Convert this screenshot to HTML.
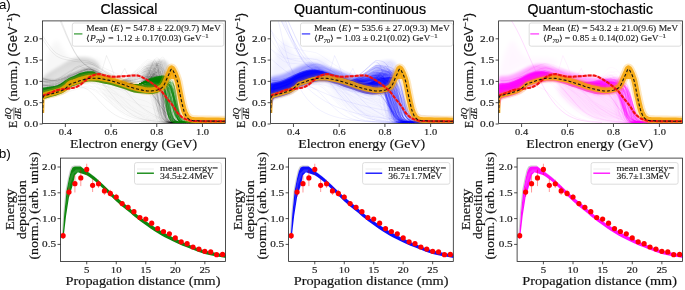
<!DOCTYPE html>
<html><head><meta charset="utf-8"><style>
html,body{margin:0;padding:0;background:#fff;}
body{width:685px;height:290px;overflow:hidden;}
svg{display:block;will-change:transform;}
text{stroke:#222;stroke-width:0.18px;}
text.s{stroke:none;}
text.t{stroke:#000;stroke-width:0.2px;}
text.l{stroke:#222;stroke-width:0.12px;}
</style></head><body>
<svg width="685" height="290" viewBox="0 0 685 290">
<rect width="685" height="290" fill="#fff"/>
<defs>
<filter id="bl05" x="-5%" y="-20%" width="110%" height="140%"><feGaussianBlur stdDeviation="0.5"/></filter>
<filter id="bl2" x="-20%" y="-40%" width="140%" height="180%"><feGaussianBlur stdDeviation="1.6"/></filter>
<filter id="bl3" x="-20%" y="-40%" width="140%" height="180%"><feGaussianBlur stdDeviation="2.5"/></filter>
<clipPath id="ct0"><rect x="42.5" y="20.9" width="182.80" height="103.10"/></clipPath>
<clipPath id="ct1"><rect x="270.6" y="20.9" width="182.90" height="103.10"/></clipPath>
<clipPath id="ct2"><rect x="498.6" y="20.9" width="183.80" height="103.10"/></clipPath>
<clipPath id="cb0"><rect x="60.5" y="158.1" width="165.00" height="103.20"/></clipPath>
<clipPath id="cb1"><rect x="288.6" y="158.1" width="164.70" height="103.20"/></clipPath>
<clipPath id="cb2"><rect x="517.1" y="158.1" width="165.50" height="103.20"/></clipPath>
</defs>
<g clip-path="url(#ct0)">
<path d="M100,84 L108.15,85.11 L119.63,86.67 L130,88 L137.67,88.89 L144.22,89.56 L150,90 L155.07,89.78 L159.37,89.33 L163,90 L165.96,92.19 L168.26,95.48 L170,100 L171.56,106.94 L172.56,115.11 L172,121 L169.33,122.83 L165.11,122.39 L160,121.5 L153.93,120.87 L146.96,119.8 L140,118 L133.15,115.26 L126.3,111.8 L120,108 L114.07,103.41 L108.7,98.48 L105,95Z" stroke="none" stroke-width="1" fill="#000" opacity="0.03" filter="url(#bl3)"/>
<path d="M42.5,75 L43.83,69.63 L45.78,62.04 L48,55 L50.56,48.78 L53.39,43.11 L56,40 L58.07,40.89 L59.93,44.33 L62,48 L64.26,51.56 L66.74,55.33 L70,58 L74.48,58.67 L79.74,58.22 L85,58 L90.56,58.37 L96.11,58.96 L100,60 L101.85,62 L102.04,64.44 L100,66 L94.81,65.63 L87.41,64.37 L80,64 L73.15,65.19 L66.3,67.26 L60,70 L54.07,74 L48.7,78.67 L45,82Z" stroke="none" stroke-width="1" fill="#000" opacity="0.03" filter="url(#bl3)"/>
<path d="M141,88 L141.33,83.59 L141.89,77.41 L143,72 L144.85,68.26 L147.26,65.3 L150,63 L153.22,61.37 L156.78,60.41 L160,60 L162.7,60.07 L165.07,60.7 L167,62 L168.52,64.15 L169.59,66.96 L170,70 L169.52,73.33 L168.37,76.89 L167,80 L165.56,82.44 L163.89,84.44 L162,86 L159.85,87 L157.48,87.56 L155,88 L152.11,88.44 L149.11,88.78 L147,89Z" stroke="none" stroke-width="1" fill="#000" opacity="0.14" filter="url(#bl2)"/>
<path d="M42.5,86 L42.22,83.85 L41.94,80.81 L42.5,78 L44.35,75.85 L47.04,73.93 L50,72 L53.15,70 L56.57,68 L60,66 L63.33,63.89 L66.67,61.78 L70,60 L73.33,58.63 L76.67,57.59 L80,57 L83.41,56.89 L86.81,57.22 L90,58 L93.04,59.3 L95.85,61.04 L98,63 L99.37,65.37 L100.07,67.96 L100,70 L98.93,71.13 L97.07,71.7 L95,72 L92.85,71.94 L90.48,71.61 L88,71.5 L85.48,71.76 L82.85,72.24 L80,73 L76.81,74.11 L73.41,75.5 L70,77 L66.67,78.63 L63.33,80.37 L60,82 L56.3,83.56 L52.59,85 L50,86Z" stroke="none" stroke-width="1" fill="#000" opacity="0.12" filter="url(#bl2)"/>
<g transform="scale(.1)" fill="none" stroke="#000000" stroke-width="6" stroke-opacity="0.045"><path d="M425 872l59-2 59-6 59-22 60-30 59-27 59-23 59-21 59-9 59 11 59 22 60 22 59 21 59 20 59 17 59 15 59 9 59-14 23-8 22-9 22-9 22-6 21 1 22 8 22 18 22 37 21 55 22 73 22 71 22 57 21 38 22 22 22 12 22 6 21 3 22 2 22 0 22 1 21 0 22 0 46 0 99 0 99 0 99 0"/><path d="M425 901l59-6 59-10 59-26 60-35 59-32 59-27 59-26 59-13 59 8 59 18 60 19 59 18 59 16 59 13 59 12 59 6 59-19 23-10 22-12 22-12 22-12 21-7 22-6 22-3 22 9 21 39 22 109 22 157 22 104 21 39 22 11 22 3 22 1 21 0 22 0 22 0 22 0 21 0 22 0 46 0 99 0 99 0 99 0"/><path d="M425 881l59-3 59-6 59-22 60-30 59-28 59-24 59-21 59-9 59 10 59 21 60 22 59 20 59 19 59 16 59 15 59 8 59-16 23-8 22-12 22-11 22-10 21-3 22 2 22 10 22 24 21 40 22 62 22 75 22 72 21 56 22 36 22 20 22 10 21 6 22 3 22 1 22 1 21 0 22 0 46 0 99 0 99 0 99 0"/><path d="M425 974l59-6 59-9 59-23 60-30 59-27 59-24 59-23 59-12 59 5 59 14 60 14 59 13 59 12 59 9 59 8 59 4 59-14 23-3 22-1 22 10 22 27 21 53 22 70 22 70 22 52 21 31 22 17 22 9 22 4 21 2 22 0 22 1 22 0 21 0 22 0 22 0 22 0 21 0 22 0 46 0 99 0 99 0 99 0"/><path d="M425 882l59-3 59-8 59-24 60-32 59-30 59-25 59-24 59-10 59 9 59 21 60 21 59 19 59 19 59 15 59 14 59 5 59-32 23-17 22-17 22-13 22-8 21 1 22 4 22 5 22 10 21 18 22 43 22 77 22 105 21 96 22 59 22 28 22 12 21 4 22 2 22 1 22 0 21 0 22 0 46 0 99 0 99 0 99 0"/><path d="M425 897l59-3 59-7 59-22 60-31 59-27 59-24 59-22 59-10 59 10 59 20 60 20 59 19 59 17 59 15 59 13 59 8 59-15 23-8 22-10 22-11 22-11 21-6 22-4 22 6 22 26 21 55 22 85 22 92 22 71 21 43 22 22 22 10 22 5 21 2 22 1 22 1 22 0 21 0 22 0 46 0 99 0 99 0 99 0"/><path d="M425 841l59-4 59-7 59-26 60-34 59-32 59-27 59-25 59-10 59 11 59 24 60 24 59 22 59 21 59 17 59 16 59 10 59-19 23-11 22-13 22-11 22-3 21 17 22 37 22 61 22 79 21 81 22 69 22 49 22 31 21 18 22 10 22 5 22 3 21 1 22 1 22 1 22 0 21 0 22 0 46 0 99 0 99 0 99 0"/><path d="M425 866l59-4 59-8 59-26 60-34 59-31 59-27 59-24 59-12 59 11 59 21 60 23 59 22 59 21 59 22 59 24 59 27 59 19 23 12 22 13 22 17 22 20 21 26 22 28 22 29 22 29 21 28 22 28 22 27 22 27 21 23 22 17 22 8 22 4 21 1 22 0 22 0 22 0 21 0 22 0 46 0 99 0 99 0 99 0"/><path d="M425 908l59-7 59-11 59-27 60-36 59-32 59-27 59-24 59-9 59 13 59 27 60 30 59 32 59 35 59 38 59 41 59 36 59 16 23 7 22 9 22 13 22 16 21 19 22 17 22 16 22 14 21 14 22 14 22 15 22 18 21 20 22 16 22 10 22 4 21 1 22 1 22 0 22 0 21 0 22 0 46 0 99 0 99 0 99 0"/><path d="M425 881l59-1 59-6 59-20 60-28 59-26 59-22 59-20 59-8 59 11 59 21 60 22 59 21 59 19 59 17 59 15 59 9 59-14 23-9 22-12 22-14 22-17 21-10 22-4 22 15 22 50 21 90 22 108 22 82 22 45 21 19 22 8 22 3 22 1 21 1 22 0 22 0 22 0 21 0 22 0 46 0 99 0 99 0 99 0"/><path d="M425 879l59-2 59-6 59-21 60-26 59-19 59-9 59 1 59 21 59 46 59 58 60 58 59 55 59 48 59 39 59 31 59 22 59 13 23 4 22 3 22 2 22 2 21 2 22 3 22 3 22 3 21 3 22 3 22 2 22 3 21 3 22 1 22 1 22 1 21 0 22 0 22 0 22 0 21 0 22 0 46 0 99 0 99 0 99 0"/><path d="M425 913l59-3 59-6 59-21 60-28 59-25 59-22 59-20 59-9 59 9 59 19 60 20 59 18 59 17 59 15 59 12 59 8 59-22 23-18 22-26 22-30 22-24 21 9 22 67 22 124 22 124 21 75 22 32 22 13 22 4 21 1 22 1 22 0 22 0 21 0 22 0 22 0 22 0 21 0 22 0 46 0 99 0 99 0 99 0"/><path d="M425 832l59-2 59-5 59-22 60-29 59-20 59-10 59 1 59 22 59 49 59 62 60 63 59 59 59 53 59 44 59 36 59 26 59 17 23 5 22 4 22 4 22 3 21 4 22 2 22 2 22 3 21 2 22 3 22 4 22 4 21 5 22 3 22 2 22 1 21 0 22 0 22 0 22 0 21 0 22 0 46 0 99 0 99 0 99 0"/><path d="M425 974l59-5 59-9 59-21 60-28 59-26 59-22 59-21 59-11 59 6 59 14 60 14 59 14 59 12 59 10 59 9 59 4 59-16 23-8 22-9 22-10 22-10 21-5 22-1 22 7 22 24 21 45 22 70 22 77 22 64 21 41 22 23 22 11 22 6 21 2 22 1 22 1 22 0 21 0 22 0 46 0 99 0 99 0 99 0"/><path d="M425 899l59-3 59-9 59-23 60-32 59-29 59-25 59-23 59-10 59 9 59 19 60 20 59 18 59 17 59 14 59 13 59 7 59-18 23-11 22-16 22-23 22-28 21-25 22-18 22 8 22 51 21 95 22 118 22 101 22 65 21 35 22 17 22 8 22 3 21 2 22 1 22 0 22 0 21 0 22 0 46 0 99 0 99 0 99 0"/><path d="M425 909l59-5 59-9 59-23 60-30 59-25 59-18 59-9 59 14 59 44 59 66 60 74 59 71 59 59 59 43 59 28 59 16 59 9 23 2 22 2 22 1 22 2 21 1 22 1 22 1 22 1 21 0 22 1 22 0 22 0 21 1 22 0 22 0 22 0 21 0 22 0 22 0 22 0 21 0 22 0 46 0 99 0 99 0 99 0"/><path d="M425 928l59-4 59-8 59-22 60-29 59-27 59-23 59-22 59-10 59 8 59 17 60 18 59 17 59 15 59 13 59 12 59 2 59-31 23-15 22-13 22-7 22 1 21 15 22 31 22 53 22 79 21 85 22 67 22 41 22 20 21 9 22 4 22 2 22 1 21 0 22 0 22 0 22 0 21 0 22 0 46 0 99 0 99 0 99 0"/><path d="M425 933l59-4 59-8 59-23 60-29 59-28 59-23 59-22 59-9 59 9 59 20 60 22 59 26 59 32 59 39 59 50 59 57 59 49 23 19 22 15 22 15 22 13 21 13 22 11 22 9 22 8 21 7 22 6 22 5 22 5 21 5 22 3 22 1 22 1 21 0 22 0 22 0 22 0 21 0 22 0 46 0 99 0 99 0 99 0"/><path d="M425 904l59-6 59-10 59-26 60-34 59-32 59-27 59-26 59-12 59 7 59 18 60 19 59 17 59 16 59 14 59 11 59 6 59-18 23-9 22-12 22-10 22-8 21 4 22 17 22 34 22 57 21 71 22 75 22 65 22 47 21 31 22 19 22 11 22 7 21 3 22 2 22 1 22 1 21 0 22 0 46 0 99 0 99 0 99 0"/><path d="M425 887l59-6 59-12 59-28 60-37 59-34 59-29 59-28 59-14 59 8 59 19 60 20 59 17 59 17 59 14 59 11 59 2 59-38 23-20 22-20 22-15 22-9 21 1 22 3 22 3 22 3 21 3 22 9 22 23 22 56 21 113 22 140 22 99 22 45 21 16 22 6 22 1 22 1 21 0 22 0 46 0 99 0 99 0 99 0"/><path d="M425 956l59-6 59-10 59-24 60-31 59-28 59-25 59-24 59-12 59 6 59 15 60 15 59 14 59 13 59 10 59 9 59 0 59-45 23-29 22-30 22-23 22-9 21 13 22 27 22 41 22 53 21 64 22 74 22 70 22 55 21 38 22 23 22 13 22 7 21 3 22 2 22 1 22 1 21 0 22 0 46 0 99 0 99 0 99 0"/><path d="M425 877l59-1 59-5 59-20 60-29 59-25 59-22 59-19 59-8 59 12 59 21 60 23 59 21 59 19 59 18 59 15 59 6 59-36 23-22 22-23 22-16 22-5 21 12 22 24 22 35 22 50 21 63 22 73 22 67 22 51 21 33 22 18 22 10 22 5 21 3 22 1 22 1 22 0 21 0 22 0 46 0 99 0 99 0 99 0"/><path d="M425 888l59-6 59-10 59-27 60-36 59-33 59-28 59-27 59-13 59 8 59 19 60 20 59 18 59 17 59 14 59 12 59 6 59-20 23-11 22-14 22-16 22-17 21-13 22-9 22-4 22 9 21 21 22 40 22 57 22 74 21 82 22 76 22 59 22 39 21 23 22 14 22 7 22 4 21 2 22 1 46 1 99 0 99 0 99 0"/><path d="M425 817l59 0 59-5 59-23 60-31 59-29 59-24 59-22 59-7 59 14 59 27 60 27 59 28 59 28 59 29 59 34 59 37 59 16 23 8 22 10 22 19 22 28 21 35 22 35 22 33 22 28 21 24 22 21 22 19 22 17 21 15 22 11 22 5 22 2 21 1 22 0 22 0 22 0 21 0 22 0 46 0 99 0 99 0 99 0"/><path d="M425 860l59-1 59-5 59-21 60-29 59-26 59-22 59-19 59-7 59 14 59 26 60 27 59 27 59 28 59 28 59 30 59 25 59-6 23-4 22-2 22 7 22 16 21 23 22 26 22 24 22 23 21 21 22 22 22 25 22 30 21 33 22 28 22 15 22 7 21 3 22 1 22 0 22 0 21 0 22 0 46 0 99 0 99 0 99 0"/><path d="M425 955l59-3 59-7 59-18 60-24 59-18 59-12 59-4 59 12 59 33 59 46 60 49 59 48 59 44 59 36 59 28 59 20 59 11 23 3 22 3 22 2 22 2 21 3 22 2 22 3 22 2 21 2 22 2 22 2 22 1 21 2 22 1 22 1 22 0 21 0 22 0 22 0 22 0 21 0 22 0 46 0 99 0 99 0 99 0"/><path d="M425 881l59-5 59-10 59-27 60-35 59-32 59-28 59-25 59-11 59 11 59 23 60 25 59 26 59 27 59 29 59 31 59 31 59 18 23 7 22 6 22 7 22 9 21 15 22 16 22 19 22 20 21 21 22 24 22 27 22 32 21 36 22 30 22 17 22 8 21 3 22 1 22 0 22 0 21 0 22 0 46 0 99 0 99 0 99 0"/><path d="M425 813l59-5 59-10 59-29 60-40 59-36 59-31 59-28 59-11 59 13 59 28 60 30 59 30 59 32 59 32 59 36 59 36 59 21 23 10 22 9 22 10 22 13 21 16 22 18 22 18 22 21 21 22 22 26 22 32 22 40 21 42 22 35 22 20 22 9 21 3 22 2 22 0 22 0 21 0 22 0 46 0 99 0 99 0 99 0"/><path d="M425 898l59-5 59-8 59-24 60-33 59-29 59-26 59-23 59-11 59 9 59 20 60 20 59 20 59 21 59 20 59 22 59 23 59 12 23 7 22 6 22 9 22 12 21 19 22 21 22 24 22 27 21 27 22 28 22 31 22 33 21 32 22 24 22 13 22 5 21 2 22 1 22 0 22 0 21 0 22 0 46 0 99 0 99 0 99 0"/><path d="M425 842l59-3 59-8 59-25 60-34 59-31 59-26 59-25 59-10 59 13 59 24 60 27 59 25 59 27 59 28 59 31 59 34 59 23 23 12 22 10 22 13 22 13 21 16 22 16 22 17 22 21 21 24 22 30 22 33 22 35 21 32 22 23 22 13 22 5 21 1 22 1 22 0 22 0 21 0 22 0 46 0 99 0 99 0 99 0"/><path d="M425 886l59-3 59-7 59-22 60-30 59-28 59-24 59-21 59-9 59 10 59 20 60 22 59 19 59 19 59 15 59 15 59 8 59-15 23-7 22-10 22-8 22-7 21 3 22 14 22 35 22 65 21 84 22 82 22 58 22 33 21 16 22 8 22 3 22 2 21 1 22 0 22 0 22 0 21 0 22 0 46 0 99 0 99 0 99 0"/><path d="M425 965l59-1 59-4 59-15 60-20 59-18 59-14 59-11 59 1 59 17 59 28 60 31 59 33 59 36 59 36 59 34 59 30 59 22 23 7 22 6 22 6 22 5 21 5 22 5 22 5 22 4 21 5 22 5 22 5 22 6 21 5 22 4 22 3 22 1 21 0 22 0 22 0 22 0 21 0 22 0 46 0 99 0 99 0 99 0"/><path d="M425 939l59-4 59-8 59-21 60-29 59-26 59-23 59-21 59-10 59 7 59 17 60 17 59 16 59 14 59 13 59 11 59 5 59-15 23-8 22-11 22-13 22-17 21-16 22-18 22-16 22-1 21 27 22 72 22 107 22 106 21 71 22 36 22 16 22 6 21 3 22 1 22 0 22 0 21 0 22 0 46 0 99 0 99 0 99 0"/><path d="M425 887l59-4 59-9 59-23 60-32 59-28 59-21 59-16 59 1 59 26 59 43 60 50 59 56 59 59 59 56 59 51 59 39 59 26 23 8 22 6 22 6 22 5 21 5 22 5 22 5 22 4 21 4 22 4 22 3 22 4 21 3 22 2 22 1 22 1 21 0 22 0 22 0 22 0 21 0 22 0 46 0 99 0 99 0 99 0"/><path d="M425 866l59-4 59-9 59-26 60-35 59-32 59-28 59-25 59-12 59 10 59 21 60 22 59 20 59 19 59 15 59 14 59 7 59-32 23-23 22-28 22-28 22-18 21 4 22 27 22 54 22 81 21 97 22 94 22 74 22 47 21 27 22 14 22 7 22 4 21 2 22 0 22 1 22 0 21 0 22 0 46 0 99 0 99 0 99 0"/><path d="M425 963l59-4 59-7 59-20 60-27 59-24 59-22 59-19 59-10 59 7 59 15 60 16 59 15 59 13 59 11 59 10 59 5 59-14 23-7 22-10 22-11 22-14 21-13 22-12 22 7 22 71 21 137 22 110 22 44 22 13 21 3 22 1 22 0 22 0 21 0 22 0 22 0 22 0 21 0 22 0 46 0 99 0 99 0 99 0"/><path d="M425 951l59-4 59-8 59-21 60-28 59-26 59-22 59-20 59-9 59 10 59 21 60 26 59 33 59 45 59 57 59 65 59 59 59 39 23 12 22 9 22 7 22 6 21 5 22 3 22 3 22 3 21 2 22 3 22 2 22 2 21 1 22 1 22 0 22 0 21 0 22 0 22 0 22 0 21 0 22 0 46 0 99 0 99 0 99 0"/><path d="M425 861l59-6 59-10 59-29 60-37 59-35 59-30 59-28 59-13 59 9 59 21 60 22 59 19 59 19 59 15 59 14 59 3 59-43 23-26 22-29 22-23 22-14 21 1 22 9 22 10 22 11 21 7 22 11 22 20 22 53 21 118 22 159 22 106 22 43 21 14 22 4 22 1 22 0 21 0 22 0 46 0 99 0 99 0 99 0"/><path d="M425 884l59-4 59-9 59-24 60-33 59-30 59-25 59-24 59-11 59 9 59 21 60 21 59 19 59 18 59 15 59 13 59 8 59-19 23-13 22-17 22-21 22-23 21-17 22-13 22-5 22 7 21 12 22 21 22 33 22 61 21 106 22 122 22 84 22 39 21 15 22 5 22 1 22 1 21 0 22 0 46 0 99 0 99 0 99 0"/><path d="M425 924l59-3 59-8 59-21 60-30 59-26 59-23 59-21 59-10 59 8 59 18 60 19 59 16 59 16 59 14 59 11 59 4 59-28 23-14 22-13 22-9 22-5 21 3 22 7 22 11 22 21 21 33 22 51 22 65 22 68 21 57 22 39 22 24 22 14 21 7 22 4 22 2 22 1 21 1 22 0 46 0 99 0 99 0 99 0"/><path d="M425 901l59-2 59-4 59-18 60-23 59-17 59-6 59 2 59 22 59 45 59 56 60 56 59 52 59 44 59 35 59 26 59 18 59 11 23 4 22 2 22 3 22 2 21 2 22 2 22 2 22 2 21 2 22 1 22 2 22 1 21 2 22 1 22 1 22 0 21 0 22 0 22 0 22 0 21 0 22 0 46 0 99 0 99 0 99 0"/><path d="M425 878l59-2 59-7 59-22 60-30 59-28 59-24 59-22 59-9 59 11 59 21 60 22 59 20 59 19 59 17 59 14 59 8 59-25 23-17 22-21 22-19 22-12 21 4 22 17 22 32 22 46 21 57 22 67 22 67 22 56 21 42 22 28 22 17 22 9 21 6 22 3 22 2 22 1 21 1 22 0 46 0 99 0 99 0 99 0"/><path d="M425 893l59-6 59-10 59-26 60-35 59-32 59-28 59-26 59-13 59 8 59 19 60 20 59 18 59 17 59 14 59 12 59 6 59-19 23-9 22-12 22-12 22-12 21-6 22-3 22 5 22 26 21 56 22 90 22 102 22 84 21 53 22 28 22 14 22 6 21 3 22 1 22 1 22 0 21 0 22 0 46 0 99 0 99 0 99 0"/><path d="M425 857l59-4 59-9 59-26 60-36 59-32 59-28 59-26 59-12 59 10 59 22 60 23 59 20 59 20 59 16 59 14 59 8 59-26 23-18 22-21 22-16 22-4 21 28 22 62 22 93 22 105 21 86 22 58 22 32 22 16 21 8 22 4 22 2 22 0 21 1 22 0 22 0 22 0 21 0 22 0 46 0 99 0 99 0 99 0"/><path d="M425 983l59-4 59-8 59-19 60-26 59-23 59-19 59-17 59-7 59 10 59 19 60 22 59 22 59 25 59 25 59 28 59 27 59 16 23 6 22 5 22 6 22 9 21 11 22 12 22 12 22 11 21 12 22 12 22 14 22 16 21 18 22 15 22 8 22 4 21 1 22 1 22 0 22 0 21 0 22 0 46 0 99 0 99 0 99 0"/><path d="M425 863l59-5 59-9 59-27 60-35 59-33 59-28 59-26 59-12 59 10 59 21 60 22 59 20 59 19 59 16 59 14 59 7 59-18 23-10 22-13 22-14 22-15 21-11 22-11 22-4 22 17 21 59 22 130 22 153 22 94 21 36 22 12 22 4 22 1 21 0 22 0 22 0 22 0 21 0 22 0 46 0 99 0 99 0 99 0"/><path d="M425 870l59-2 59-6 59-22 60-29 59-26 59-19 59-15 59 1 59 25 59 39 60 46 59 48 59 52 59 51 59 48 59 41 59 28 23 9 22 8 22 6 22 6 21 6 22 7 22 6 22 7 21 7 22 7 22 6 22 7 21 6 22 5 22 2 22 2 21 0 22 0 22 0 22 0 21 0 22 0 46 0 99 0 99 0 99 0"/><path d="M425 818l59-4 59-9 59-27 60-38 59-34 59-30 59-27 59-12 59 12 59 24 60 25 59 23 59 22 59 19 59 15 59 2 59-51 23-23 22-20 22-11 22-3 21 9 22 10 22 11 22 17 21 27 22 52 22 82 22 102 21 97 22 70 22 40 22 21 21 10 22 4 22 2 22 1 21 1 22 0 46 0 99 0 99 0 99 0"/><path d="M425 869l59-3 59-8 59-23 60-32 59-30 59-25 59-23 59-10 59 11 59 21 60 23 59 20 59 19 59 17 59 15 59 8 59-22 23-14 22-17 22-18 22-16 21-5 22 0 22 7 22 17 21 29 22 53 22 80 22 95 21 83 22 54 22 28 22 13 21 7 22 2 22 1 22 1 21 0 22 0 46 0 99 0 99 0 99 0"/><path d="M425 858l59-3 59-7 59-22 60-29 59-22 59-12 59-2 59 22 59 52 59 69 60 72 59 67 59 57 59 43 59 30 59 20 59 11 23 3 22 2 22 3 22 2 21 2 22 2 22 1 22 2 21 1 22 1 22 1 22 1 21 1 22 1 22 0 22 0 21 0 22 0 22 0 22 0 21 0 22 0 46 0 99 0 99 0 99 0"/></g>
<g transform="scale(.1)" fill="none" stroke="#000" stroke-width="6" stroke-opacity="0.055"><path d="M425 881l30 0 31 0 30-2 31-3 30-9 31-14 30-14 31-15 30-14 31-11 30-10 31-11 30-10 31-9 30-7 46 3 82 21 82 24 82 22 83 22 82 15"/><path d="M425 860l30 1 31 0 30-1 31-2 30-9 31-13 30-14 31-15 30-13 31-11 30-10 31-10 30-11 31-8 30-7 46 5 82 23 82 27 82 24 83 23 82 16"/><path d="M425 872l30 1 31 0 30-1 31-3 30-9 31-14 30-14 31-16 30-15 31-12 30-11 31-12 30-12 31-9 30-7 46 4 82 25 82 28 82 25 83 23 82 16"/><path d="M425 787l30 7 31 6 30 4 31 2 30-4 31-10 30-11 31-13 30-12 31-10 30-10 31-10 30-10 31-8 30-6 46 8 82 32 82 36 82 30 83 25 82 18"/><path d="M425 790l30 6 31 6 30 3 31 1 30-5 31-11 30-12 31-14 30-14 31-11 30-12 31-11 30-12 31-8 30-6 46 8 82 36 82 39 82 31 83 26 82 19"/><path d="M425 784l30 7 31 7 30 4 31 3 30-3 31-8 30-9 31-10 30-8 31-5 30-5 31-6 30-5 31-5 30-5 46 6 82 21 82 23 82 24 83 23 82 17"/><path d="M425 897l30-2 31-2 30-3 31-6 30-11 31-16 30-19 31-20 30-19 31-17 30-18 31-17 30-16 31-12 30-9 46 6 82 34 82 39 82 31 83 24 82 16"/><path d="M425 783l30 9 31 8 30 5 31 2 30-4 31-10 30-12 31-15 30-14 31-13 30-13 31-13 30-13 31-9 30-6 46 9 82 39 82 43 82 34 83 26 82 18"/><path d="M425 827l30 4 31 3 30 1 31-1 30-8 31-12 30-15 31-16 30-16 31-14 30-14 31-14 30-14 31-10 30-7 46 8 82 36 82 40 82 33 83 25 82 17"/><path d="M425 805l30 7 31 5 30 4 31 1 30-5 31-9 30-11 31-13 30-12 31-8 30-10 31-9 30-9 31-7 30-6 46 6 82 27 82 31 82 27 83 23 82 17"/><path d="M425 807l30 5 31 4 30 2 31 0 30-5 31-10 30-12 31-12 30-11 31-8 30-9 31-8 30-8 31-7 30-5 46 6 82 25 82 28 82 26 83 24 82 18"/><path d="M425 852l30 4 31 2 30 1 31-2 30-7 31-13 30-13 31-15 30-14 31-12 30-11 31-11 30-12 31-9 30-7 46 5 82 26 82 30 82 26 83 22 82 16"/><path d="M425 886l30 0 31-1 30-2 31-5 30-10 31-14 30-17 31-17 30-17 31-14 30-14 31-13 30-13 31-11 30-8 46 4 82 28 82 32 82 27 83 23 82 15"/><path d="M425 890l30-1 31-1 30-3 31-5 30-12 31-16 30-19 31-22 30-21 31-19 30-20 31-19 30-18 31-14 30-10 46 7 82 41 82 46 82 34 83 25 82 17"/><path d="M425 843l30 1 31 1 30-1 31-2 30-9 31-14 30-16 31-17 30-18 31-14 30-16 31-14 30-14 31-11 30-8 46 8 82 36 82 41 82 32 83 25 82 18"/><path d="M425 785l30 11 31 9 30 5 31 3 30-4 31-11 30-14 31-17 30-17 31-16 30-17 31-17 30-16 31-12 30-8 46 11 82 47 82 51 82 38 83 27 82 18"/><path d="M425 778l30 12 31 10 30 7 31 4 30-4 31-8 30-12 31-14 30-14 31-12 30-13 31-14 30-12 31-10 30-6 46 9 82 38 82 42 82 33 83 25 82 17"/><path d="M425 796l30 7 31 7 30 4 31 1 30-5 31-10 30-13 31-14 30-15 31-12 30-13 31-13 30-13 31-9 30-6 46 8 82 37 82 41 82 33 83 25 82 18"/><path d="M425 898l30-1 31-2 30-3 31-5 30-10 31-15 30-15 31-16 30-14 31-11 30-11 31-10 30-11 31-9 30-8 46 3 82 19 82 23 82 22 83 20 82 16"/><path d="M425 794l30 5 31 4 30 2 31 1 30-7 31-12 30-14 31-16 30-16 31-15 30-14 31-15 30-14 31-10 30-6 46 9 82 42 82 46 82 36 83 27 82 19"/><path d="M425 798l30 7 31 7 30 4 31 2 30-5 31-11 30-12 31-14 30-14 31-12 30-13 31-12 30-12 31-9 30-7 46 9 82 35 82 39 82 32 83 25 82 17"/><path d="M425 873l30 0 31 0 30-2 31-4 30-11 31-15 30-18 31-20 30-19 31-18 30-18 31-18 30-16 31-13 30-9 46 8 82 38 82 44 82 34 83 25 82 16"/><path d="M425 843l30 3 31 2 30 0 31-2 30-8 31-13 30-15 31-18 30-16 31-15 30-15 31-15 30-14 31-11 30-8 46 7 82 37 82 40 82 32 83 25 82 17"/><path d="M425 897l30-1 31-2 30-4 31-5 30-11 31-16 30-17 31-18 30-18 31-15 30-15 31-14 30-14 31-12 30-8 46 4 82 29 82 34 82 27 83 23 82 16"/><path d="M425 850l30 5 31 4 30 1 31-1 30-8 31-12 30-15 31-16 30-16 31-14 30-14 31-14 30-13 31-11 30-8 46 6 82 31 82 36 82 29 83 23 82 16"/><path d="M425 883l30-1 31-1 30-3 31-5 30-10 31-15 30-17 31-18 30-17 31-14 30-15 31-14 30-14 31-11 30-8 46 5 82 30 82 34 82 29 83 23 82 16"/><path d="M425 835l30 4 31 4 30 1 31-1 30-7 31-12 30-14 31-15 30-15 31-13 30-13 31-13 30-12 31-10 30-7 46 7 82 32 82 35 82 30 83 24 82 17"/><path d="M425 874l30-1 31-1 30-2 31-5 30-11 31-16 30-19 31-20 30-21 31-19 30-20 31-19 30-18 31-14 30-9 46 8 82 43 82 48 82 35 83 26 82 17"/><path d="M425 788l30 7 31 6 30 3 31 2 30-4 31-10 30-12 31-13 30-12 31-10 30-10 31-10 30-10 31-8 30-6 46 8 82 33 82 35 82 30 83 25 82 18"/><path d="M425 788l30 10 31 9 30 6 31 4 30-3 31-9 30-11 31-12 30-12 31-10 30-10 31-11 30-10 31-8 30-6 46 7 82 31 82 34 82 29 83 24 82 17"/><path d="M425 852l30 1 31 1 30-1 31-2 30-9 31-13 30-14 31-15 30-14 31-12 30-11 31-11 30-12 31-8 30-7 46 5 82 27 82 30 82 26 83 24 82 17"/><path d="M425 788l30 7 31 6 30 4 31 1 30-4 31-10 30-11 31-13 30-12 31-10 30-9 31-10 30-10 31-8 30-5 46 8 82 31 82 35 82 29 83 25 82 18"/><path d="M425 860l30 3 31 1 30 0 31-2 30-9 31-12 30-15 31-15 30-15 31-11 30-12 31-12 30-11 31-9 30-8 46 5 82 26 82 30 82 26 83 22 82 16"/><path d="M425 805l30 12 31 10 30 6 31 4 30-3 31-8 30-10 31-12 30-10 31-8 30-8 31-8 30-9 31-7 30-6 46 5 82 21 82 25 82 23 83 21 82 16"/><path d="M425 809l30 8 31 7 30 4 31 2 30-5 31-10 30-12 31-14 30-13 31-11 30-11 31-11 30-12 31-8 30-7 46 7 82 31 82 34 82 29 83 23 82 17"/><path d="M425 818l30 3 31 3 30 0 31-1 30-8 31-12 30-15 31-16 30-15 31-13 30-14 31-13 30-13 31-9 30-7 46 8 82 36 82 39 82 32 83 26 82 18"/><path d="M425 786l30 6 31 6 30 3 31 1 30-5 31-9 30-12 31-13 30-12 31-10 30-10 31-10 30-10 31-7 30-6 46 8 82 32 82 35 82 30 83 26 82 18"/><path d="M425 849l30 5 31 3 30 2 31-1 30-7 31-12 30-13 31-15 30-14 31-11 30-11 31-11 30-11 31-9 30-7 46 5 82 25 82 29 82 25 83 22 82 16"/><path d="M425 890l30-1 31-1 30-3 31-4 30-10 31-14 30-16 31-15 30-15 31-11 30-11 31-10 30-11 31-9 30-8 46 4 82 20 82 24 82 23 83 21 82 16"/><path d="M425 853l30 1 31 1 30-1 31-3 30-9 31-14 30-15 31-17 30-16 31-14 30-14 31-14 30-13 31-10 30-8 46 7 82 32 82 37 82 29 83 25 82 17"/><path d="M425 818l30 7 31 5 30 4 31 0 30-6 31-11 30-15 31-16 30-16 31-15 30-15 31-15 30-14 31-11 30-8 46 9 82 38 82 43 82 33 83 25 82 17"/><path d="M425 817l30 6 31 5 30 3 31 0 30-6 31-12 30-15 31-16 30-17 31-15 30-16 31-15 30-15 31-11 30-7 46 8 82 41 82 44 82 34 83 26 82 17"/><path d="M425 813l30 8 31 7 30 5 31 2 30-5 31-10 30-12 31-13 30-13 31-10 30-11 31-11 30-11 31-8 30-7 46 6 82 29 82 32 82 27 83 23 82 17"/><path d="M425 782l30 5 31 5 30 2 31 1 30-6 31-10 30-12 31-13 30-13 31-10 30-10 31-10 30-11 31-7 30-6 46 9 82 33 82 36 82 31 83 26 82 19"/><path d="M425 885l30 0 31-1 30-2 31-4 30-10 31-15 30-17 31-17 30-18 31-14 30-15 31-14 30-14 31-11 30-9 46 5 82 30 82 34 82 28 83 23 82 16"/><path d="M425 853l30 4 31 4 30 1 31-1 30-8 31-13 30-14 31-16 30-16 31-13 30-13 31-13 30-13 31-10 30-8 46 6 82 29 82 34 82 27 83 23 82 16"/><path d="M425 774l30 6 31 5 30 3 31 2 30-5 31-10 30-12 31-13 30-12 31-10 30-10 31-10 30-10 31-8 30-5 46 9 82 34 82 37 82 31 83 27 82 19"/><path d="M425 898l30-2 31-2 30-4 31-5 30-12 31-16 30-18 31-20 30-20 31-17 30-17 31-17 30-16 31-13 30-9 46 6 82 34 82 39 82 31 83 24 82 16"/><path d="M425 814l30 6 31 5 30 2 31 1 30-7 31-12 30-14 31-16 30-16 31-15 30-15 31-14 30-14 31-11 30-7 46 8 82 40 82 43 82 33 83 26 82 18"/><path d="M425 850l30 6 31 4 30 2 31-1 30-7 31-11 30-14 31-15 30-14 31-12 30-11 31-12 30-11 31-10 30-7 46 4 82 26 82 29 82 26 83 22 82 16"/><path d="M425 839l30 4 31 3 30 2 31-1 30-6 31-12 30-12 31-14 30-12 31-9 30-10 31-9 30-9 31-8 30-7 46 5 82 24 82 26 82 24 83 23 82 16"/><path d="M425 887l30-1 31-1 30-3 31-5 30-9 31-15 30-15 31-16 30-15 31-11 30-12 31-11 30-11 31-9 30-8 46 4 82 22 82 26 82 23 83 22 82 16"/><path d="M425 777l30 8 31 7 30 5 31 3 30-4 31-9 30-11 31-13 30-13 31-10 30-10 31-11 30-10 31-8 30-6 46 9 82 34 82 38 82 31 83 26 82 18"/><path d="M425 848l30 3 31 2 30 0 31-1 30-7 31-12 30-13 31-13 30-13 31-9 30-10 31-9 30-9 31-8 30-7 46 5 82 22 82 26 82 23 83 23 82 16"/><path d="M425 897l30-2 31-2 30-3 31-5 30-11 31-15 30-16 31-18 30-16 31-13 30-13 31-13 30-12 31-10 30-9 46 4 82 25 82 29 82 25 83 22 82 16"/><path d="M425 864l30 0 31 0 30-2 31-3 30-9 31-14 30-15 31-16 30-15 31-13 30-12 31-12 30-12 31-10 30-7 46 5 82 27 82 32 82 27 83 23 82 17"/><path d="M425 864l30 1 31 0 30-1 31-3 30-10 31-15 30-17 31-18 30-19 31-17 30-17 31-16 30-16 31-12 30-8 46 7 82 38 82 42 82 33 83 24 82 17"/><path d="M425 852l30 4 31 4 30 0 31-1 30-7 31-13 30-15 31-17 30-16 31-14 30-15 31-14 30-13 31-11 30-8 46 6 82 32 82 36 82 29 83 24 82 16"/><path d="M425 850l30 1 31 2 30-1 31-2 30-8 31-12 30-14 31-15 30-13 31-11 30-11 31-10 30-10 31-9 30-7 46 5 82 26 82 28 82 26 83 23 82 17"/><path d="M425 842l30 1 31 1 30 0 31-2 30-9 31-12 30-15 31-15 30-15 31-12 30-11 31-12 30-12 31-9 30-7 46 7 82 29 82 32 82 28 83 24 82 18"/></g>
<g transform="scale(.1)" fill="none" stroke="#000000" stroke-width="6" stroke-opacity="0.14"><path d="M425 90l20 0 20 0 20 0 19 0 20 0 20 0 20 0 20 47 20 50 20 51 20 50 19 48 20 47 20 45 20 43 20 39 20 34 20 30 20 25 19 22 20 18 20 16 20 13 46 34 82 53 82 39 82 28 83 22 82 16"/><path d="M425 90l20 0 20 0 20 0 19 0 20 0 20 0 20 32 20 45 20 47 20 48 20 47 19 46 20 44 20 43 20 40 20 37 20 32 20 29 20 24 19 20 20 18 20 15 20 13 46 33 82 52 82 39 82 27 83 23 82 16"/></g>
<g transform="scale(.1)" fill="none" stroke="#000000" stroke-width="6" stroke-opacity="0.11"><path d="M425 390l20 31 20 29 20 27 19 25 20 21 20 20 20 17 20 11 20 9 20 8 20 5 19 4 20 4 20 4 20 4 20 4 20 2 20 3 20 1 19 1 20 2 20 2 20 3 46 19 82 48 82 47 82 38 83 32 82 24"/><path d="M425 355l20 32 20 30 20 28 19 25 20 23 20 21 20 18 20 11 20 10 20 9 20 6 19 5 20 5 20 5 20 5 20 4 20 4 20 3 20 2 19 2 20 2 20 3 20 3 46 21 82 50 82 49 82 40 83 34 82 24"/></g>
<g transform="scale(.1)" fill="none" stroke="#000" stroke-width="6" stroke-opacity="0.06"><path d="M1202 816l18 4 18 5 18 4 19 5 18 4 18 3 18 3 18 2 18 2 19 1 18-7 18-6 18-8 18-10 18-14 19-18 18-21 18-16 18-3 18 21 18 55 18 93 19 110 18 93 18 57 18 28 18 13 18 5 19 3 18 0 18 1 18 0 18 0 18 0 19 0 18 0 18 0 18 0 18 0"/><path d="M1202 816l18 4 18 5 18 4 19 5 18 4 18 3 18 3 18 2 18 2 19 1 18-7 18-6 18-7 18-8 18-11 19-15 18-22 18-31 18-42 18-43 18-27 18 18 19 73 18 118 18 129 18 105 18 69 18 40 19 21 18 11 18 5 18 3 18 2 18 0 19 1 18 0 18 0 18 0 18 0"/><path d="M1202 816l18 4 18 5 18 4 19 5 18 4 18 3 18 3 18 2 18 2 19 1 18-7 18-6 18-7 18-7 18-10 19-13 18-20 18-29 18-39 18-41 18-17 18 38 19 97 18 132 18 122 18 85 18 49 18 25 19 13 18 6 18 3 18 1 18 1 18 0 19 0 18 0 18 0 18 0 18 0"/><path d="M1202 816l18 4 18 5 18 4 19 5 18 4 18 3 18 3 18 2 18 2 19-1 18-9 18-11 18-16 18-23 18-32 19-39 18-45 18-43 18-34 18-19 18 5 18 36 19 76 18 125 18 155 18 128 18 73 18 32 19 12 18 4 18 2 18 1 18 0 18 0 19 0 18 0 18 0 18 0 18 0"/><path d="M1202 816l18 4 18 5 18 4 19 5 18 4 18 3 18 3 18 2 18 2 19 1 18-7 18-6 18-7 18-7 18-9 19-9 18-10 18-9 18-9 18-10 18-10 18-1 19 12 18 35 18 62 18 84 18 92 18 78 19 51 18 28 18 15 18 7 18 3 18 2 19 0 18 1 18 0 18 0 18 0"/><path d="M1202 816l18 4 18 5 18 4 19 5 18 4 18 3 18 3 18 2 18 2 19-1 18-9 18-11 18-15 18-19 18-25 19-26 18-23 18-3 18 49 18 147 18 182 18 94 19 28 18 7 18 2 18 0 18 0 18 0 19 0 18 0 18 0 18 0 18 0 18 0 19 0 18 0 18 0 18 0 18 0"/><path d="M1202 816l18 4 18 5 18 4 19 5 18 4 18 3 18 3 18 2 18 2 19 0 18-9 18-13 18-18 18-27 18-37 19-39 18-26 18 9 18 61 18 112 18 132 18 107 19 65 18 33 18 15 18 7 18 3 18 1 19 1 18 0 18 0 18 0 18 0 18 0 19 0 18 0 18 0 18 0 18 0"/><path d="M1202 816l18 4 18 5 18 4 19 5 18 4 18 3 18 3 18 2 18 2 19 0 18-8 18-10 18-16 18-24 18-35 19-39 18-31 18-8 18 26 18 61 18 92 18 110 19 103 18 74 18 43 18 21 18 10 18 5 19 2 18 0 18 1 18 0 18 0 18 0 19 0 18 0 18 0 18 0 18 0"/><path d="M1202 816l18 4 18 5 18 4 19 5 18 4 18 3 18 3 18 2 18 2 19-1 18-8 18-9 18-10 18-11 18-10 19-4 18 11 18 34 18 63 18 80 18 82 18 65 19 42 18 25 18 14 18 7 18 3 18 2 19 1 18 1 18 0 18 0 18 0 18 0 19 0 18 0 18 0 18 0 18 0"/><path d="M1202 816l18 4 18 5 18 4 19 5 18 4 18 3 18 3 18 2 18 2 19 1 18-7 18-6 18-7 18-7 18-10 19-12 18-20 18-31 18-45 18-38 18 17 18 132 19 212 18 137 18 46 18 11 18 3 18 1 19 0 18 0 18 0 18 0 18 0 18 0 19 0 18 0 18 0 18 0 18 0"/><path d="M1202 816l18 4 18 5 18 4 19 5 18 4 18 3 18 3 18 2 18 2 19 1 18-7 18-6 18-7 18-8 18-12 19-15 18-21 18-24 18-21 18-9 18 24 18 75 19 117 18 120 18 86 18 46 18 22 18 9 19 4 18 2 18 1 18 0 18 0 18 0 19 0 18 0 18 0 18 0 18 0"/><path d="M1202 816l18 4 18 5 18 4 19 5 18 4 18 3 18 3 18 2 18 2 19 1 18-7 18-6 18-7 18-8 18-12 19-14 18-18 18-21 18-22 18-21 18-12 18 11 19 44 18 85 18 115 18 109 18 77 18 44 19 21 18 10 18 5 18 2 18 0 18 1 19 0 18 0 18 0 18 0 18 0"/><path d="M1202 816l18 4 18 5 18 4 19 5 18 4 18 3 18 3 18 2 18 2 19 1 18-7 18-8 18-9 18-13 18-19 19-25 18-32 18-34 18-30 18-20 18 2 18 36 19 73 18 104 18 114 18 95 18 67 18 39 19 21 18 11 18 5 18 3 18 2 18 0 19 1 18 0 18 0 18 0 18 0"/><path d="M1202 816l18 4 18 5 18 4 19 5 18 4 18 3 18 3 18 2 18 2 19 1 18-7 18-8 18-12 18-21 18-34 19-47 18-52 18-30 18 23 18 106 18 177 18 159 19 80 18 29 18 9 18 3 18 1 18 0 19 0 18 0 18 0 18 0 18 0 18 0 19 0 18 0 18 0 18 0 18 0"/><path d="M1202 816l18 4 18 5 18 4 19 5 18 4 18 3 18 3 18 2 18 2 19 1 18-7 18-6 18-7 18-7 18-9 19-10 18-11 18-12 18-12 18-9 18 12 18 55 19 103 18 117 18 89 18 49 18 23 18 11 19 4 18 2 18 1 18 0 18 0 18 0 19 0 18 0 18 0 18 0 18 0"/><path d="M1202 816l18 4 18 5 18 4 19 5 18 4 18 3 18 3 18 2 18 2 19 1 18-7 18-6 18-7 18-7 18-9 19-9 18-9 18-7 18-7 18-10 18-7 18 10 19 40 18 78 18 101 18 95 18 66 18 37 19 19 18 8 18 4 18 2 18 0 18 1 19 0 18 0 18 0 18 0 18 0"/><path d="M1202 816l18 4 18 5 18 4 19 5 18 4 18 3 18 3 18 2 18 2 19 1 18-7 18-6 18-7 18-9 18-12 19-14 18-18 18-21 18-24 18-26 18-22 18-12 19 5 18 29 18 62 18 96 18 120 18 108 19 70 18 36 18 16 18 7 18 3 18 1 19 1 18 0 18 0 18 0 18 0"/><path d="M1202 816l18 4 18 5 18 4 19 5 18 4 18 3 18 3 18 2 18 2 19 0 18-7 18-8 18-9 18-10 18-12 19-10 18 0 18 26 18 76 18 120 18 109 18 62 19 26 18 9 18 3 18 2 18 0 18 0 19 0 18 0 18 0 18 0 18 0 18 0 19 0 18 0 18 0 18 0 18 0"/><path d="M1202 816l18 4 18 5 18 4 19 5 18 4 18 3 18 3 18 2 18 2 19 1 18-7 18-6 18-7 18-7 18-9 19-11 18-14 18-18 18-26 18-31 18-21 18 14 19 68 18 113 18 122 18 94 18 58 18 32 19 16 18 8 18 4 18 2 18 1 18 1 19 0 18 0 18 0 18 0 18 0"/><path d="M1202 816l18 4 18 5 18 4 19 5 18 4 18 3 18 3 18 2 18 2 19 1 18-7 18-9 18-11 18-18 18-28 19-38 18-47 18-40 18-17 18 27 18 83 18 130 19 135 18 102 18 60 18 29 18 14 18 6 19 3 18 1 18 1 18 0 18 0 18 0 19 0 18 0 18 0 18 0 18 0"/><path d="M1202 816l18 4 18 5 18 4 19 5 18 4 18 3 18 3 18 2 18 2 19 0 18-7 18-10 18-15 18-22 18-32 19-31 18-13 18 29 18 85 18 118 18 111 18 77 19 44 18 22 18 11 18 5 18 3 18 1 19 1 18 0 18 0 18 0 18 0 18 0 19 0 18 0 18 0 18 0 18 0"/><path d="M1202 816l18 4 18 5 18 4 19 5 18 4 18 3 18 3 18 2 18 2 19 1 18-7 18-7 18-7 18-10 18-13 19-16 18-19 18-16 18-9 18 9 18 50 18 108 19 134 18 99 18 49 18 20 18 7 18 3 19 1 18 0 18 0 18 0 18 0 18 0 19 0 18 0 18 0 18 0 18 0"/><path d="M1202 816l18 4 18 5 18 4 19 5 18 4 18 3 18 3 18 2 18 2 19 1 18-7 18-6 18-7 18-7 18-9 19-9 18-10 18-9 18-10 18-17 18-23 18-20 19-8 18 17 18 51 18 108 18 159 18 118 19 47 18 13 18 4 18 1 18 0 18 0 19 0 18 0 18 0 18 0 18 0"/><path d="M1202 816l18 4 18 5 18 4 19 5 18 4 18 3 18 3 18 2 18 2 19 1 18-7 18-6 18-7 18-8 18-11 19-13 18-16 18-15 18-11 18-1 18 21 18 63 19 104 18 117 18 86 18 46 18 20 18 9 19 3 18 1 18 1 18 0 18 0 18 0 19 0 18 0 18 0 18 0 18 0"/><path d="M1202 816l18 4 18 5 18 4 19 5 18 4 18 3 18 3 18 2 18 2 19 1 18-7 18-6 18-7 18-8 18-12 19-15 18-21 18-28 18-36 18-41 18-38 18-15 19 22 18 71 18 114 18 128 18 110 18 75 19 43 18 24 18 11 18 6 18 3 18 2 19 0 18 1 18 0 18 0 18 0"/><path d="M1202 816l18 4 18 5 18 4 19 5 18 4 18 3 18 3 18 2 18 2 19 1 18-7 18-6 18-7 18-7 18-9 19-11 18-14 18-19 18-25 18-12 18 40 18 116 19 148 18 106 18 51 18 20 18 8 18 3 19 1 18 0 18 0 18 0 18 0 18 0 19 0 18 0 18 0 18 0 18 0"/><path d="M1202 816l18 4 18 5 18 4 19 5 18 4 18 3 18 3 18 2 18 2 19 1 18-7 18-6 18-7 18-9 18-13 19-19 18-28 18-37 18-42 18-38 18-11 18 48 19 155 18 220 18 123 18 37 18 8 18 2 19 0 18 0 18 0 18 0 18 0 18 0 19 0 18 0 18 0 18 0 18 0"/><path d="M1202 816l18 4 18 5 18 4 19 5 18 4 18 3 18 3 18 2 18 2 19 1 18-7 18-6 18-7 18-7 18-9 19-10 18-11 18-14 18-21 18-34 18-43 18-35 19-5 18 48 18 103 18 130 18 120 18 84 19 50 18 26 18 13 18 6 18 3 18 1 19 1 18 0 18 0 18 0 18 0"/><path d="M1202 816l18 4 18 5 18 4 19 5 18 4 18 3 18 3 18 2 18 2 19 1 18-7 18-8 18-8 18-12 18-17 19-22 18-28 18-31 18-33 18-30 18-19 18 7 19 47 18 99 18 139 18 132 18 88 18 45 19 20 18 8 18 4 18 1 18 1 18 0 19 0 18 0 18 0 18 0 18 0"/><path d="M1202 816l18 4 18 5 18 4 19 5 18 4 18 3 18 3 18 2 18 2 19 0 18-8 18-8 18-8 18-10 18-9 19-3 18 12 18 42 18 80 18 103 18 87 18 53 19 26 18 12 18 5 18 2 18 1 18 0 19 0 18 0 18 0 18 0 18 0 18 0 19 0 18 0 18 0 18 0 18 0"/><path d="M1202 816l18 4 18 5 18 4 19 5 18 4 18 3 18 3 18 2 18 2 19 0 18-8 18-9 18-11 18-15 18-19 19-21 18-19 18-11 18 2 18 19 18 44 18 73 19 92 18 92 18 72 18 46 18 25 18 13 19 6 18 3 18 2 18 0 18 1 18 0 19 0 18 0 18 0 18 0 18 0"/><path d="M1202 816l18 4 18 5 18 4 19 5 18 4 18 3 18 3 18 2 18 2 19 1 18-7 18-8 18-9 18-13 18-19 19-25 18-31 18-31 18-29 18-21 18-8 18 12 19 40 18 98 18 177 18 157 18 68 18 19 19 5 18 1 18 0 18 0 18 0 18 0 19 0 18 0 18 0 18 0 18 0"/><path d="M1202 816l18 4 18 5 18 4 19 5 18 4 18 3 18 3 18 2 18 2 19 1 18-7 18-6 18-6 18-8 18-9 19-9 18-8 18-6 18-2 18 3 18 15 18 36 19 59 18 79 18 82 18 65 18 44 18 26 19 14 18 7 18 3 18 2 18 1 18 1 19 0 18 0 18 0 18 0 18 0"/><path d="M1202 816l18 4 18 5 18 4 19 5 18 4 18 3 18 3 18 2 18 2 19 1 18-7 18-6 18-7 18-9 18-11 19-14 18-18 18-20 18-22 18-23 18-15 18 18 19 87 18 164 18 150 18 73 18 26 18 7 19 2 18 1 18 0 18 0 18 0 18 0 19 0 18 0 18 0 18 0 18 0"/><path d="M1202 816l18 4 18 5 18 4 19 5 18 4 18 3 18 3 18 2 18 2 19 1 18-7 18-6 18-7 18-7 18-9 19-9 18-10 18-8 18-8 18-12 18-13 18-4 19 24 18 87 18 150 18 127 18 59 18 20 19 7 18 1 18 1 18 0 18 0 18 0 19 0 18 0 18 0 18 0 18 0"/><path d="M1202 816l18 4 18 5 18 4 19 5 18 4 18 3 18 3 18 2 18 2 19 1 18-7 18-6 18-7 18-7 18-10 19-11 18-15 18-17 18-20 18-23 18-15 18 8 19 46 18 88 18 109 18 100 18 71 18 43 19 24 18 12 18 6 18 4 18 1 18 1 19 1 18 0 18 0 18 0 18 0"/><path d="M1202 816l18 4 18 5 18 4 19 5 18 4 18 3 18 3 18 2 18 2 19 0 18-8 18-9 18-13 18-16 18-21 19-22 18-17 18 3 18 41 18 95 18 135 18 112 19 60 18 24 18 8 18 4 18 1 18 0 19 0 18 0 18 0 18 0 18 0 18 0 19 0 18 0 18 0 18 0 18 0"/><path d="M1202 816l18 4 18 5 18 4 19 5 18 4 18 3 18 3 18 2 18 1 19-1 18-10 18-15 18-21 18-31 18-38 19-41 18-31 18-8 18 31 18 76 18 119 18 132 19 102 18 61 18 30 18 13 18 6 18 2 19 1 18 1 18 0 18 0 18 0 18 0 19 0 18 0 18 0 18 0 18 0"/><path d="M1202 816l18 4 18 5 18 4 19 5 18 4 18 3 18 3 18 2 18 2 19 1 18-7 18-6 18-7 18-8 18-11 19-14 18-19 18-25 18-32 18-42 18-46 18-39 19-23 18 4 18 45 18 111 18 204 18 186 19 78 18 21 18 5 18 1 18 0 18 0 19 0 18 0 18 0 18 0 18 0"/><path d="M1202 816l18 4 18 5 18 4 19 5 18 4 18 3 18 3 18 2 18 2 19 1 18-7 18-6 18-7 18-8 18-10 19-13 18-19 18-24 18-30 18-32 18-24 18 1 19 35 18 75 18 108 18 119 18 98 18 61 19 32 18 15 18 7 18 3 18 1 18 1 19 0 18 0 18 0 18 0 18 0"/><path d="M1202 816l18 4 18 5 18 4 19 5 18 4 18 3 18 3 18 2 18 2 19 1 18-7 18-6 18-7 18-8 18-11 19-19 18-31 18-47 18-50 18-27 18 17 18 63 19 92 18 114 18 121 18 93 18 52 18 23 19 9 18 3 18 1 18 1 18 0 18 0 19 0 18 0 18 0 18 0 18 0"/><path d="M1202 816l18 4 18 5 18 4 19 5 18 4 18 3 18 3 18 2 18 2 19 1 18-7 18-6 18-7 18-7 18-10 19-10 18-13 18-12 18-13 18-12 18 3 18 49 19 126 18 155 18 92 18 34 18 10 18 3 19 1 18 0 18 0 18 0 18 0 18 0 19 0 18 0 18 0 18 0 18 0"/><path d="M1202 816l18 4 18 5 18 4 19 5 18 4 18 3 18 2 18 2 18 2 19-2 18-10 18-13 18-17 18-21 18-26 19-27 18-24 18-13 18 5 18 29 18 64 18 104 19 120 18 98 18 60 18 29 18 13 18 5 19 3 18 0 18 1 18 0 18 0 18 0 19 0 18 0 18 0 18 0 18 0"/><path d="M1202 816l18 4 18 5 18 4 19 5 18 4 18 3 18 3 18 2 18 2 19 1 18-7 18-6 18-7 18-8 18-14 19-18 18-23 18-17 18 4 18 34 18 72 18 108 19 111 18 79 18 40 18 17 18 7 18 3 19 1 18 0 18 0 18 0 18 0 18 0 19 0 18 0 18 0 18 0 18 0"/><path d="M1202 816l18 4 18 5 18 4 19 5 18 4 18 3 18 3 18 2 18 2 19 1 18-7 18-6 18-7 18-7 18-10 19-11 18-14 18-18 18-27 18-38 18-45 18-38 19-13 18 35 18 98 18 149 18 152 18 101 19 50 18 20 18 7 18 3 18 1 18 1 19 0 18 0 18 0 18 0 18 0"/><path d="M1202 816l18 4 18 5 18 4 19 5 18 4 18 3 18 3 18 2 18 2 19 1 18-7 18-8 18-9 18-13 18-19 19-24 18-29 18-29 18-23 18-11 18 14 18 75 19 171 18 181 18 80 18 21 18 5 18 1 19 0 18 0 18 0 18 0 18 0 18 0 19 0 18 0 18 0 18 0 18 0"/><path d="M1202 816l18 4 18 5 18 4 19 5 18 4 18 3 18 3 18 2 18 2 19-1 18-8 18-10 18-13 18-18 18-24 19-28 18-29 18-22 18-11 18 7 18 36 18 79 19 122 18 130 18 91 18 45 18 19 18 8 19 2 18 1 18 1 18 0 18 0 18 0 19 0 18 0 18 0 18 0 18 0"/><path d="M1202 816l18 4 18 5 18 4 19 5 18 4 18 3 18 3 18 2 18 2 19 1 18-7 18-6 18-8 18-10 18-18 19-29 18-43 18-50 18-39 18-2 18 57 18 113 19 133 18 116 18 78 18 44 18 24 18 12 19 6 18 2 18 2 18 0 18 1 18 0 19 0 18 0 18 0 18 0 18 0"/><path d="M1202 816l18 4 18 5 18 4 19 5 18 4 18 3 18 3 18 2 18 2 19 0 18-7 18-9 18-10 18-14 18-18 19-19 18-18 18-10 18 2 18 20 18 52 18 97 19 125 18 99 18 52 18 22 18 9 18 2 19 2 18 0 18 0 18 0 18 0 18 0 19 0 18 0 18 0 18 0 18 0"/><path d="M1202 816l18 4 18 5 18 4 19 5 18 4 18 3 18 3 18 2 18 2 19 1 18-7 18-6 18-7 18-8 18-11 19-14 18-17 18-18 18-15 18-3 18 17 18 49 19 77 18 93 18 88 18 66 18 42 18 24 19 13 18 7 18 3 18 1 18 1 18 1 19 0 18 0 18 0 18 0 18 0"/><path d="M1202 816l18 4 18 5 18 4 19 5 18 4 18 3 18 3 18 2 18 2 19 1 18-7 18-6 18-7 18-7 18-9 19-10 18-12 18-15 18-20 18-26 18-26 18-12 19 11 18 48 18 111 18 173 18 128 18 46 19 12 18 3 18 1 18 0 18 0 18 0 19 0 18 0 18 0 18 0 18 0"/><path d="M1202 816l18 4 18 5 18 4 19 5 18 4 18 3 18 3 18 2 18 2 19 0 18-9 18-11 18-15 18-19 18-20 19-9 18 17 18 59 18 97 18 105 18 81 18 51 19 26 18 13 18 6 18 3 18 1 18 1 19 0 18 0 18 0 18 0 18 0 18 0 19 0 18 0 18 0 18 0 18 0"/><path d="M1202 816l18 4 18 5 18 4 19 5 18 4 18 3 18 2 18 2 18 0 19-3 18-13 18-18 18-22 18-25 18-22 19-5 18 26 18 67 18 99 18 101 18 81 18 52 19 30 18 16 18 8 18 4 18 2 18 1 19 1 18 0 18 0 18 0 18 0 18 0 19 0 18 0 18 0 18 0 18 0"/><path d="M1202 816l18 4 18 5 18 4 19 5 18 4 18 3 18 3 18 2 18 2 19 1 18-7 18-6 18-7 18-7 18-10 19-13 18-19 18-29 18-44 18-53 18-42 18 3 19 65 18 124 18 149 18 124 18 78 18 39 19 18 18 8 18 3 18 1 18 1 18 0 19 0 18 0 18 0 18 0 18 0"/><path d="M1202 816l18 4 18 5 18 4 19 5 18 4 18 3 18 3 18 2 18 2 19 1 18-7 18-6 18-7 18-7 18-9 19-9 18-9 18-8 18-9 18-18 18-39 18-60 19-58 18-6 18 88 18 195 18 207 18 100 19 29 18 7 18 2 18 0 18 0 18 0 19 0 18 0 18 0 18 0 18 0"/><path d="M1202 816l18 4 18 5 18 4 19 5 18 4 18 3 18 3 18 2 18 2 19 1 18-7 18-6 18-7 18-8 18-10 19-11 18-12 18-12 18-9 18-9 18-5 18 5 19 20 18 47 18 84 18 109 18 97 18 60 19 29 18 13 18 5 18 2 18 1 18 0 19 0 18 0 18 0 18 0 18 0"/><path d="M1202 816l18 4 18 5 18 4 19 5 18 4 18 3 18 3 18 2 18 2 19-1 18-8 18-10 18-13 18-15 18-19 19-16 18-8 18 13 18 45 18 79 18 98 18 90 19 65 18 38 18 20 18 10 18 5 18 2 19 1 18 1 18 0 18 0 18 0 18 0 19 0 18 0 18 0 18 0 18 0"/><path d="M1202 816l18 4 18 5 18 4 19 5 18 4 18 3 18 3 18 2 18 2 19 1 18-7 18-8 18-9 18-14 18-20 19-19 18-7 18 22 18 62 18 96 18 102 18 81 19 49 18 26 18 12 18 6 18 2 18 1 19 1 18 0 18 0 18 0 18 0 18 0 19 0 18 0 18 0 18 0 18 0"/><path d="M1202 816l18 4 18 5 18 4 19 5 18 4 18 3 18 3 18 2 18 2 19 1 18-7 18-6 18-7 18-7 18-10 19-12 18-13 18-17 18-19 18-24 18-24 18-17 19-5 18 16 18 47 18 104 18 166 18 134 19 55 18 16 18 5 18 1 18 0 18 0 19 0 18 0 18 0 18 0 18 0"/><path d="M1202 816l18 4 18 5 18 4 19 5 18 4 18 3 18 3 18 2 18 2 19 0 18-8 18-11 18-16 18-24 18-35 19-44 18-47 18-38 18-16 18 15 18 54 18 100 19 135 18 134 18 94 18 48 18 22 18 8 19 4 18 1 18 1 18 0 18 0 18 0 19 0 18 0 18 0 18 0 18 0"/><path d="M1202 816l18 4 18 5 18 4 19 5 18 4 18 3 18 2 18 2 18 1 19-1 18-11 18-15 18-18 18-22 18-26 19-23 18-12 18 13 18 49 18 86 18 108 18 100 19 70 18 41 18 21 18 10 18 5 18 2 19 1 18 1 18 0 18 0 18 0 18 0 19 0 18 0 18 0 18 0 18 0"/><path d="M1202 816l18 4 18 5 18 4 19 5 18 4 18 3 18 3 18 2 18 2 19 1 18-7 18-6 18-7 18-8 18-10 19-13 18-16 18-18 18-19 18-18 18-9 18 11 19 41 18 82 18 115 18 111 18 77 18 39 19 18 18 8 18 3 18 1 18 1 18 0 19 0 18 0 18 0 18 0 18 0"/><path d="M1202 816l18 4 18 5 18 4 19 5 18 4 18 3 18 3 18 2 18 1 19 0 18-9 18-11 18-13 18-17 18-22 19-22 18-19 18-7 18 13 18 41 18 79 18 108 19 105 18 75 18 41 18 20 18 9 18 4 19 2 18 1 18 0 18 0 18 0 18 0 19 0 18 0 18 0 18 0 18 0"/><path d="M1202 816l18 4 18 5 18 4 19 5 18 4 18 3 18 3 18 2 18 2 19 1 18-7 18-6 18-8 18-9 18-13 19-13 18-8 18 11 18 45 18 84 18 104 18 89 19 55 18 29 18 13 18 6 18 2 18 1 19 1 18 0 18 0 18 0 18 0 18 0 19 0 18 0 18 0 18 0 18 0"/><path d="M1202 816l18 4 18 5 18 4 19 5 18 4 18 3 18 3 18 2 18 2 19 1 18-7 18-6 18-7 18-7 18-9 19-9 18-9 18-9 18-13 18-24 18-25 18 8 19 73 18 128 18 124 18 83 18 44 18 22 19 10 18 5 18 2 18 1 18 1 18 0 19 0 18 0 18 0 18 0 18 0"/><path d="M1202 816l18 4 18 5 18 4 19 5 18 4 18 3 18 3 18 2 18 2 19 1 18-7 18-6 18-7 18-7 18-9 19-9 18-10 18-10 18-17 18-30 18-37 18-21 19 24 18 76 18 108 18 110 18 92 18 64 19 36 18 19 18 9 18 5 18 1 18 1 19 1 18 0 18 0 18 0 18 0"/><path d="M1202 816l18 4 18 5 18 4 19 5 18 4 18 3 18 3 18 2 18 2 19 1 18-7 18-7 18-8 18-14 18-26 19-46 18-63 18-61 18-25 18 31 18 83 18 113 19 121 18 111 18 82 18 48 18 24 18 12 19 4 18 3 18 0 18 1 18 0 18 0 19 0 18 0 18 0 18 0 18 0"/><path d="M1202 816l18 4 18 5 18 4 19 5 18 4 18 3 18 3 18 2 18 2 19 1 18-7 18-7 18-8 18-12 18-19 19-28 18-36 18-39 18-30 18-14 18 14 18 61 19 143 18 201 18 115 18 33 18 7 18 2 19 0 18 0 18 0 18 0 18 0 18 0 19 0 18 0 18 0 18 0 18 0"/><path d="M1202 816l18 4 18 5 18 4 19 5 18 4 18 3 18 3 18 2 18 2 19 1 18-7 18-9 18-11 18-18 18-28 19-39 18-44 18-38 18-20 18 9 18 45 18 89 19 131 18 140 18 97 18 48 18 20 18 7 19 3 18 1 18 0 18 0 18 0 18 0 19 0 18 0 18 0 18 0 18 0"/><path d="M1202 816l18 4 18 5 18 4 19 5 18 4 18 3 18 3 18 2 18 1 19-1 18-12 18-16 18-23 18-30 18-30 19-14 18 31 18 100 18 145 18 120 18 65 18 27 19 10 18 4 18 1 18 1 18 0 18 0 19 0 18 0 18 0 18 0 18 0 18 0 19 0 18 0 18 0 18 0 18 0"/><path d="M1202 816l18 4 18 5 18 4 19 5 18 4 18 3 18 3 18 2 18 1 19 0 18-9 18-12 18-16 18-23 18-31 19-39 18-43 18-37 18-18 18 25 18 105 18 185 19 164 18 84 18 30 18 9 18 3 18 1 19 0 18 0 18 0 18 0 18 0 18 0 19 0 18 0 18 0 18 0 18 0"/><path d="M1202 816l18 4 18 5 18 4 19 5 18 4 18 3 18 3 18 2 18 2 19 1 18-7 18-6 18-7 18-9 18-14 19-19 18-24 18-21 18-6 18 20 18 54 18 88 19 104 18 94 18 64 18 35 18 16 18 8 19 4 18 1 18 1 18 0 18 0 18 0 19 0 18 0 18 0 18 0 18 0"/><path d="M1202 816l18 4 18 5 18 4 19 5 18 4 18 3 18 2 18 2 18 1 19-2 18-12 18-16 18-22 18-30 18-38 19-41 18-39 18-28 18-11 18 13 18 58 18 145 19 209 18 133 18 45 18 12 18 2 18 1 19 0 18 0 18 0 18 0 18 0 18 0 19 0 18 0 18 0 18 0 18 0"/><path d="M1202 816l18 4 18 5 18 4 19 5 18 4 18 3 18 3 18 2 18 2 19 1 18-7 18-6 18-8 18-9 18-14 19-20 18-29 18-38 18-44 18-45 18-31 18-2 19 37 18 83 18 131 18 149 18 117 18 65 19 29 18 11 18 4 18 2 18 1 18 0 19 0 18 0 18 0 18 0 18 0"/><path d="M1202 816l18 4 18 5 18 4 19 5 18 4 18 3 18 3 18 2 18 2 19 1 18-7 18-6 18-7 18-7 18-9 19-9 18-10 18-9 18-10 18-16 18-16 18-4 19 20 18 54 18 83 18 93 18 86 18 63 19 40 18 23 18 12 18 6 18 3 18 2 19 0 18 1 18 0 18 0 18 0"/><path d="M1202 816l18 4 18 5 18 4 19 5 18 4 18 3 18 3 18 2 18 2 19 1 18-7 18-6 18-7 18-7 18-9 19-11 18-15 18-24 18-44 18-61 18-47 18 41 19 186 18 228 18 115 18 33 18 9 18 1 19 1 18 0 18 0 18 0 18 0 18 0 19 0 18 0 18 0 18 0 18 0"/><path d="M1202 816l18 4 18 5 18 4 19 5 18 4 18 3 18 2 18 1 18 0 19-4 18-15 18-19 18-25 18-30 18-34 19-29 18-13 18 17 18 62 18 105 18 126 18 107 19 68 18 35 18 17 18 7 18 4 18 1 19 1 18 0 18 0 18 0 18 0 18 0 19 0 18 0 18 0 18 0 18 0"/><path d="M1202 816l18 4 18 5 18 4 19 5 18 4 18 3 18 3 18 2 18 2 19 1 18-7 18-7 18-8 18-11 18-18 19-23 18-29 18-26 18-12 18 13 18 50 18 95 19 122 18 111 18 69 18 33 18 15 18 5 19 3 18 1 18 0 18 0 18 0 18 0 19 0 18 0 18 0 18 0 18 0"/><path d="M1202 816l18 4 18 5 18 4 19 5 18 4 18 3 18 3 18 2 18 2 19 0 18-8 18-9 18-12 18-17 18-25 19-31 18-37 18-37 18-29 18-7 18 39 18 114 19 172 18 145 18 75 18 29 18 10 18 4 19 1 18 0 18 0 18 0 18 0 18 0 19 0 18 0 18 0 18 0 18 0"/><path d="M1202 816l18 4 18 5 18 4 19 5 18 4 18 3 18 3 18 2 18 2 19 1 18-7 18-6 18-7 18-7 18-10 19-11 18-13 18-12 18-9 18-5 18 5 18 22 19 44 18 75 18 98 18 91 18 64 18 34 19 17 18 8 18 3 18 1 18 1 18 0 19 0 18 0 18 0 18 0 18 0"/><path d="M1156 802l23 7 23 7 23-9 23-9 22-11 23-11 23-14 23-14 23-15 23-17 23-18 22-17 23-15 23-12 23 4 23 9 23 18 23 36 22 62 23 92 23 108 23 96 23 67 23 39 22 21 23 10 23 5 23 2 23 1 23 1 23 0 22 0 23 0 23 0 23 0"/><path d="M1156 802l23 7 23 7 23 3 23 3 22 2 23 1 23-1 23-2 23-3 23-3 23-4 22-2 23 4 23 13 23 29 23 49 23 70 23 79 22 69 23 47 23 27 23 14 23 7 23 4 22 2 23 0 23 1 23 0 23 0 23 0 23 0 22 0 23 0 23 0 23 0"/><path d="M1156 802l23 7 23 7 23-8 23-9 22-9 23-11 23-12 23-14 23-14 23-15 23-17 22-15 23-13 23-6 23 15 23 34 23 68 23 108 22 124 23 98 23 57 23 27 23 12 23 6 22 2 23 0 23 1 23 0 23 0 23 0 23 0 22 0 23 0 23 0 23 0"/><path d="M1156 802l23 7 23 7 23-11 23-11 22-12 23-13 23-15 23-16 23-17 23-17 23-21 22-18 23-18 23-16 23 0 23 0 23 1 23 1 22 3 23 10 23 29 23 69 23 131 23 157 22 110 23 52 23 20 23 7 23 3 23 1 23 0 22 0 23 0 23 0 23 0"/><path d="M1156 802l23 7 23 7 23 0 23-1 22-2 23-2 23-5 23-5 23-6 23-5 23-7 22-4 23 2 23 8 23 22 23 33 23 47 23 57 22 64 23 60 23 51 23 37 23 25 23 16 22 10 23 6 23 3 23 2 23 1 23 1 23 1 22 0 23 0 23 0 23 0"/><path d="M1156 802l23 7 23 7 23 0 23-1 22-2 23-2 23-5 23-6 23-6 23-7 23-9 22-5 23-1 23 8 23 28 23 51 23 79 23 94 22 82 23 54 23 30 23 15 23 6 23 4 22 1 23 1 23 0 23 0 23 0 23 0 23 0 22 0 23 0 23 0 23 0"/><path d="M1156 802l23 7 23 7 23-12 23-13 22-14 23-14 23-17 23-18 23-18 23-20 23-22 22-20 23-19 23-17 23 3 23 18 23 74 23 201 22 210 23 83 23 19 23 4 23 1 23 0 22 0 23 0 23 0 23 0 23 0 23 0 23 0 22 0 23 0 23 0 23 0"/><path d="M1156 802l23 7 23 7 23 1 23 0 22 0 23-1 23-4 23-5 23-5 23-6 23-8 22-8 23-5 23-5 23 0 23 1 23 1 23 4 22 9 23 22 23 49 23 86 23 107 23 88 22 50 23 23 23 9 23 4 23 1 23 1 23 0 22 0 23 0 23 0 23 0"/><path d="M1156 802l23 7 23 7 23 2 23 2 22 1 23 0 23-2 23-3 23-4 23-5 23-7 22-6 23-4 23-2 23 1 23 4 23 7 23 15 22 29 23 50 23 72 23 83 23 72 23 49 22 27 23 15 23 7 23 3 23 2 23 0 23 1 22 0 23 0 23 0 23 0"/><path d="M1156 802l23 7 23 7 23-1 23-2 22-2 23-4 23-6 23-6 23-8 23-8 23-11 22-9 23-8 23-7 23 0 23 1 23 5 23 21 22 77 23 168 23 142 23 51 23 13 23 2 22 1 23 0 23 0 23 0 23 0 23 0 23 0 22 0 23 0 23 0 23 0"/><path d="M1156 802l23 7 23 7 23-7 23-7 22-8 23-10 23-11 23-12 23-13 23-13 23-16 22-13 23-11 23-6 23 9 23 16 23 27 23 43 22 60 23 75 23 81 23 73 23 56 23 38 22 25 23 14 23 8 23 5 23 3 23 1 23 1 22 1 23 0 23 0 23 0"/><path d="M1156 802l23 7 23 7 23 3 23 3 22 2 23 0 23-1 23-2 23-3 23-3 23-6 22-3 23 1 23 6 23 15 23 27 23 43 23 62 22 72 23 67 23 51 23 34 23 19 23 11 22 5 23 3 23 2 23 0 23 1 23 0 23 0 22 0 23 0 23 0 23 0"/><path d="M1156 802l23 7 23 7 23-2 23-2 22-2 23-4 23-6 23-8 23-7 23-8 23-11 22-8 23-3 23 7 23 31 23 66 23 105 23 113 22 79 23 40 23 18 23 7 23 2 23 1 22 1 23 0 23 0 23 0 23 0 23 0 23 0 22 0 23 0 23 0 23 0"/><path d="M1156 802l23 7 23 7 23-2 23-3 22-4 23-5 23-6 23-8 23-8 23-9 23-10 22-8 23-4 23 1 23 14 23 22 23 34 23 48 22 61 23 68 23 64 23 54 23 40 23 27 22 18 23 10 23 6 23 4 23 2 23 1 23 1 22 1 23 0 23 0 23 0"/><path d="M1156 802l23 7 23 7 23 4 23 4 22 3 23 2 23-1 23-1 23-2 23-3 23-5 22-4 23-2 23 1 23 4 23 12 23 33 23 72 22 110 23 96 23 53 23 21 23 8 23 3 22 1 23 0 23 0 23 0 23 0 23 0 23 0 22 0 23 0 23 0 23 0"/><path d="M1156 802l23 7 23 7 23-9 23-9 22-11 23-11 23-13 23-15 23-15 23-16 23-18 22-18 23-15 23-15 23 0 23 0 23 1 23 1 22 3 23 15 23 54 23 142 23 192 23 114 22 38 23 11 23 2 23 1 23 0 23 0 23 0 22 0 23 0 23 0 23 0"/><path d="M1156 802l23 7 23 7 23-5 23-5 22-6 23-7 23-9 23-10 23-10 23-12 23-14 22-13 23-11 23-9 23 2 23 3 23 6 23 11 22 20 23 33 23 51 23 70 23 81 23 78 22 62 23 43 23 26 23 16 23 8 23 5 23 2 22 2 23 0 23 1 23 0"/><path d="M1156 802l23 7 23 7 23-4 23-5 22-5 23-7 23-8 23-10 23-10 23-11 23-14 22-12 23-11 23-9 23 1 23 1 23 4 23 7 22 13 23 27 23 46 23 72 23 92 23 89 22 70 23 44 23 24 23 13 23 6 23 3 23 2 22 0 23 1 23 0 23 0"/><path d="M1156 802l23 7 23 7 23 2 23 1 22 0 23-1 23-2 23-4 23-5 23-5 23-8 22-7 23-5 23-3 23 0 23 1 23 2 23 8 22 24 23 60 23 110 23 120 23 74 23 31 22 11 23 3 23 2 23 0 23 0 23 0 23 0 22 0 23 0 23 0 23 0"/><path d="M1156 802l23 7 23 7 23-5 23-6 22-7 23-8 23-9 23-11 23-12 23-12 23-15 22-13 23-11 23-8 23 8 23 24 23 60 23 115 22 142 23 101 23 48 23 18 23 7 23 2 22 1 23 0 23 0 23 0 23 0 23 0 23 0 22 0 23 0 23 0 23 0"/><path d="M1156 802l23 7 23 7 23 0 23-1 22-1 23-3 23-5 23-5 23-6 23-8 23-9 22-9 23-6 23-5 23 1 23 3 23 5 23 12 22 22 23 40 23 63 23 83 23 84 23 65 22 42 23 24 23 12 23 6 23 2 23 2 23 0 22 1 23 0 23 0 23 0"/><path d="M1156 802l23 7 23 7 23-3 23-3 22-4 23-5 23-7 23-8 23-9 23-9 23-13 22-10 23-10 23-8 23 1 23 2 23 9 23 28 22 83 23 152 23 134 23 62 23 20 23 5 22 2 23 0 23 0 23 0 23 0 23 0 23 0 22 0 23 0 23 0 23 0"/><path d="M1156 802l23 7 23 7 23-14 23-14 22-15 23-16 23-19 23-19 23-20 23-21 23-23 22-21 23-20 23-18 23 4 23 8 23 19 23 40 22 77 23 117 23 132 23 107 23 65 23 33 22 15 23 7 23 3 23 1 23 1 23 0 23 0 22 0 23 0 23 0 23 0"/><path d="M1156 802l23 7 23 7 23-7 23-8 22-8 23-9 23-12 23-13 23-13 23-14 23-16 22-15 23-13 23-11 23 2 23 4 23 7 23 10 22 17 23 27 23 39 23 53 23 67 23 72 22 69 23 58 23 43 23 30 23 19 23 12 23 8 22 4 23 3 23 2 23 1"/><path d="M1156 802l23 7 23 7 23-6 23-6 22-7 23-8 23-10 23-12 23-11 23-13 23-14 22-12 23-2 23 21 23 89 23 158 23 142 23 68 22 23 23 6 23 2 23 1 23 0 23 0 22 0 23 0 23 0 23 0 23 0 23 0 23 0 22 0 23 0 23 0 23 0"/><path d="M1156 802l23 7 23 7 23-3 23-4 22-5 23-5 23-7 23-9 23-8 23-8 23-9 22-4 23 2 23 11 23 30 23 44 23 57 23 68 22 68 23 60 23 46 23 32 23 21 23 13 22 8 23 5 23 2 23 2 23 1 23 0 23 1 22 0 23 0 23 0 23 0"/><path d="M1156 802l23 7 23 7 23-1 23-2 22-2 23-4 23-5 23-6 23-6 23-5 23-5 22 5 23 21 23 46 23 81 23 96 23 83 23 55 22 30 23 15 23 7 23 3 23 2 23 1 22 0 23 0 23 0 23 0 23 0 23 0 23 0 22 0 23 0 23 0 23 0"/><path d="M1156 802l23 7 23 7 23-9 23-9 22-11 23-11 23-14 23-14 23-15 23-16 23-19 22-17 23-16 23-14 23 0 23 0 23 1 23 1 22 3 23 9 23 25 23 60 23 116 23 148 22 115 23 58 23 24 23 9 23 3 23 2 23 0 22 0 23 0 23 0 23 0"/><path d="M1156 802l23 7 23 7 23-7 23-8 22-8 23-10 23-12 23-12 23-14 23-14 23-17 22-14 23-12 23-2 23 47 23 148 23 205 23 104 22 27 23 7 23 1 23 0 23 0 23 0 22 0 23 0 23 0 23 0 23 0 23 0 23 0 22 0 23 0 23 0 23 0"/><path d="M1156 802l23 7 23 7 23-13 23-13 22-14 23-15 23-17 23-17 23-17 23-17 23-16 22-10 23 1 23 16 23 52 23 72 23 89 23 91 22 80 23 60 23 40 23 24 23 15 23 8 22 4 23 3 23 1 23 1 23 1 23 0 23 0 22 0 23 0 23 0 23 0"/><path d="M1156 802l23 7 23 7 23 4 23 4 22 2 23 2 23 0 23-2 23-1 23-3 23-5 22-2 23 1 23 5 23 13 23 23 23 38 23 56 22 69 23 68 23 54 23 37 23 21 23 12 22 6 23 4 23 1 23 1 23 1 23 0 23 0 22 0 23 0 23 0 23 0"/><path d="M1156 802l23 7 23 7 23 2 23 1 22 1 23-1 23-3 23-3 23-5 23-5 23-7 22-4 23 1 23 13 23 38 23 77 23 107 23 97 22 57 23 26 23 11 23 4 23 1 23 1 22 0 23 0 23 0 23 0 23 0 23 0 23 0 22 0 23 0 23 0 23 0"/><path d="M1156 802l23 7 23 7 23 4 23 4 22 2 23 2 23 0 23-2 23-2 23-3 23-6 22-4 23-2 23-1 23 0 23 2 23 3 23 7 22 16 23 33 23 59 23 82 23 85 23 62 22 36 23 18 23 8 23 3 23 2 23 1 23 0 22 0 23 0 23 0 23 0"/><path d="M1156 802l23 7 23 7 23-1 23-1 22-2 23-3 23-5 23-6 23-6 23-8 23-9 22-7 23-4 23 0 23 13 23 23 23 42 23 64 22 81 23 81 23 65 23 42 23 24 23 13 22 7 23 3 23 2 23 0 23 1 23 0 23 0 22 0 23 0 23 0 23 0"/><path d="M1156 802l23 7 23 7 23-3 23-4 22-4 23-6 23-8 23-8 23-10 23-10 23-13 22-11 23-10 23-9 23 1 23 1 23 4 23 15 22 47 23 116 23 157 23 106 23 41 23 12 22 4 23 1 23 0 23 0 23 0 23 0 23 0 22 0 23 0 23 0 23 0"/><path d="M1156 802l23 7 23 7 23-5 23-5 22-6 23-7 23-9 23-10 23-11 23-12 23-14 22-13 23-11 23-10 23 1 23 4 23 10 23 30 22 76 23 133 23 137 23 81 23 33 23 11 22 4 23 2 23 0 23 0 23 0 23 0 23 0 22 0 23 0 23 0 23 0"/><path d="M1156 802l23 7 23 7 23-5 23-5 22-7 23-7 23-10 23-10 23-11 23-12 23-14 22-12 23-9 23-3 23 16 23 38 23 73 23 111 22 115 23 82 23 44 23 21 23 8 23 4 22 1 23 1 23 0 23 0 23 0 23 0 23 0 22 0 23 0 23 0 23 0"/><path d="M1156 802l23 7 23 7 23 0 23 0 22-1 23-2 23-4 23-5 23-6 23-7 23-9 22-8 23-7 23-4 23 1 23 2 23 6 23 16 22 36 23 70 23 105 23 102 23 67 23 33 22 15 23 5 23 3 23 1 23 0 23 0 23 0 22 0 23 0 23 0 23 0"/><path d="M1156 802l23 7 23 7 23 3 23 3 22 2 23 1 23-1 23-2 23-3 23-4 23-6 22-5 23-3 23-1 23 4 23 23 23 85 23 162 22 109 23 33 23 7 23 2 23 0 23 0 22 0 23 0 23 0 23 0 23 0 23 0 23 0 22 0 23 0 23 0 23 0"/><path d="M1156 802l23 7 23 7 23-2 23-2 22-3 23-5 23-6 23-7 23-8 23-9 23-12 22-10 23-8 23-7 23 0 23 0 23 2 23 7 22 31 23 104 23 177 23 117 23 38 23 9 22 3 23 0 23 0 23 0 23 0 23 0 23 0 22 0 23 0 23 0 23 0"/><path d="M1156 802l23 7 23 7 23 3 23 3 22 2 23 0 23-1 23-1 23-1 23-2 23-1 22 4 23 12 23 22 23 36 23 49 23 59 23 60 22 53 23 40 23 28 23 18 23 11 23 6 22 4 23 2 23 1 23 1 23 1 23 0 23 0 22 0 23 0 23 0 23 0"/><path d="M1156 802l23 7 23 7 23 0 23 0 22-1 23-2 23-4 23-5 23-6 23-7 23-9 22-8 23-6 23-4 23 2 23 7 23 25 23 69 22 132 23 128 23 66 23 23 23 6 23 2 22 1 23 0 23 0 23 0 23 0 23 0 23 0 22 0 23 0 23 0 23 0"/><path d="M1156 802l23 7 23 7 23 0 23 0 22-1 23-3 23-4 23-5 23-6 23-7 23-9 22-7 23-4 23-1 23 9 23 19 23 34 23 57 22 78 23 85 23 72 23 47 23 27 23 14 22 8 23 3 23 2 23 0 23 1 23 0 23 0 22 0 23 0 23 0 23 0"/><path d="M1156 802l23 7 23 7 23-7 23-7 22-8 23-9 23-11 23-12 23-12 23-14 23-16 22-15 23-14 23-12 23 1 23 0 23 3 23 11 22 45 23 131 23 192 23 115 23 36 23 9 22 2 23 1 23 0 23 0 23 0 23 0 23 0 22 0 23 0 23 0 23 0"/><path d="M1156 802l23 7 23 7 23-2 23-3 22-3 23-5 23-6 23-8 23-8 23-9 23-12 22-10 23-8 23-5 23 4 23 7 23 16 23 29 22 49 23 73 23 87 23 82 23 60 23 38 22 21 23 11 23 6 23 2 23 2 23 0 23 1 22 0 23 0 23 0 23 0"/></g>
<g transform="scale(.1)" fill="none" stroke="#000000" stroke-width="6" stroke-opacity="0.1"><path d="M425 887l46-3 45-5 46-8 46-23 46-25 45-25 46-20 46-19 45-19 46-13 46 4 45 11 46-32 46-155 45 102 46 137 46 26 46 13 45 14 46 13 46 15 45 6 46 19 46 39 46 65 45 69 46 60 46 41 45 25 46 13 46 7 45 4 46 2 46 1 45 1 46 0 46 0 46 0 45 0 46 0"/><path d="M425 887l46-3 45-5 46-8 46-23 46-25 45-25 46-20 46-19 45-19 46-13 46 4 45 12 46 16 46 16 45 16 46 11 46-37 46-81 45 109 46 64 46 18 45 6 46 19 46 39 46 65 45 69 46 60 46 41 45 25 46 13 46 7 45 4 46 2 46 1 45 1 46 0 46 0 46 0 45 0 46 0"/><path d="M425 887l46-3 45-5 46-9 46-27 46-42 45-63 46-60 46-19 45 21 46 25 46 21 45 17 46 16 46 16 45 16 46 14 46 15 46 13 45 14 46 13 46 15 45 6 46 19 46 39 46 65 45 69 46 60 46 41 45 25 46 13 46 7 45 4 46 2 46 1 45 1 46 0 46 0 46 0 45 0 46 0"/><path d="M425 854l46-3 45-5 46-8 46-24 46-26 45-24 46-18 46-14 45-10 46 1 46 24 45 37 46 47 46 53 45 56 46 54 46 52 46 45 45 38 46 28 46 21 45 13 46 10 46 7 46 6 45 4 46 3 46 2 45 2 46 0 46 1 45 0 46 1 46 0 45 0 46 0 46 0 46 0 45 0 46 0"/><path d="M425 819l46-3 45-6 46-10 46-27 46-30 45-29 46-23 46-21 45-20 46-12 46 10 45 21 46 28 46 33 45 35 46 40 46 45 46 48 45 51 46 50 46 47 45 35 46 31 46 27 46 24 45 19 46 14 46 10 45 7 46 5 46 3 45 2 46 1 46 1 45 1 46 0 46 1 46 0 45 0 46 0"/><path d="M425 923l46-1 45-3 46-5 46-17 46-16 45-13 46-5 46 2 45 11 46 22 46 41 45 49 46 49 46 46 45 38 46 31 46 23 46 16 45 12 46 8 46 5 45 3 46 3 46 1 46 2 45 0 46 1 46 0 45 1 46 0 46 0 45 0 46 0 46 0 45 0 46 0 46 0 46 0 45 0 46 0"/></g>
<g transform="scale(.1)" fill="none" stroke="#008000" stroke-width="10" stroke-opacity="0.35"><path d="M1339 845l18 2 17 2 18-5 18-9 17-8 18-8 17-7 18-8 18-6 17-5 18-3 18-1 17 0 18 1 17 3 18 6 18 11 17 20 18 34 18 55 17 73 18 77 17 63 18 43 18 24 17 13 18 7 18 3 17 2 18 0 17 1 18 0 18 0 17 0 18 0"/><path d="M1339 845l18 2 17 2 18-3 18-7 17-5 18-5 17-5 18-5 18-3 17-2 18 0 18 2 17 2 18 3 17 4 18 4 18 5 17 7 18 6 18 10 17 19 18 35 17 53 18 69 18 68 17 53 18 33 18 19 17 10 18 5 17 2 18 1 18 1 17 0 18 0"/><path d="M1339 845l18 2 17 2 18-4 18-7 17-6 18-6 17-6 18-5 18-4 17-3 18-1 18 1 17 2 18 3 17 8 18 14 18 31 17 63 18 95 18 94 17 61 18 28 17 11 18 5 18 1 17 1 18 0 18 0 17 0 18 0 17 0 18 0 18 0 17 0 18 0"/><path d="M1339 845l18 2 17 2 18-4 18-7 17-7 18-6 17-6 18-6 18-4 17-4 18-1 18 1 17 1 18 1 17 3 18 3 18 3 17 3 18 1 18 0 17 2 18 9 17 29 18 83 18 132 17 97 18 38 18 11 17 3 18 1 17 0 18 0 18 0 17 0 18 0"/><path d="M1339 845l18 2 17 2 18-4 18-7 17-7 18-6 17-6 18-5 18-5 17-3 18-1 18 1 17 2 18 4 17 8 18 14 18 27 17 48 18 70 18 83 17 71 18 46 17 25 18 11 18 6 17 2 18 1 18 1 17 0 18 0 17 0 18 0 18 0 17 0 18 0"/><path d="M1339 845l18 2 17 2 18-4 18-9 17-8 18-6 17-8 18-7 18-5 17-5 18-2 18-1 17 0 18 1 17 1 18 2 18 3 17 4 18 4 18 10 17 25 18 53 17 87 18 100 18 73 17 39 18 18 18 7 17 2 18 1 17 1 18 0 18 0 17 0 18 0"/><path d="M1339 845l18 2 17 2 18-3 18-7 17-5 18-5 17-5 18-4 18-4 17-2 18 1 18 1 17 2 18 3 17 4 18 4 18 4 17 5 18 1 18 2 17 9 18 37 17 105 18 137 18 70 17 20 18 5 18 1 17 0 18 0 17 0 18 0 18 0 17 0 18 0"/><path d="M1339 845l18 2 17 2 18-5 18-9 17-8 18-8 17-8 18-8 18-6 17-5 18-3 18-1 17-1 18 2 17 3 18 9 18 19 17 40 18 71 18 97 17 89 18 58 17 29 18 12 18 6 17 2 18 1 18 0 17 0 18 0 17 0 18 0 18 0 17 0 18 0"/><path d="M1339 845l18 2 17 2 18-4 18-9 17-8 18-7 17-7 18-7 18-5 17-5 18-1 18 0 17 1 18 3 17 6 18 10 18 17 17 27 18 39 18 53 17 63 18 63 17 53 18 37 18 24 17 15 18 8 18 5 17 2 18 1 17 1 18 1 18 0 17 0 18 0"/><path d="M1339 845l18 2 17 2 18-6 18-11 17-11 18-10 17-10 18-10 18-8 17-8 18-4 18-3 17-2 18 1 17 3 18 9 18 17 17 30 18 48 18 66 17 75 18 70 17 55 18 36 18 22 17 13 18 6 18 4 17 2 18 1 17 1 18 0 18 0 17 0 18 0"/><path d="M1339 845l18 2 17 2 18-4 18-8 17-7 18-6 17-7 18-6 18-5 17-4 18-1 18 0 17 1 18 1 17 3 18 4 18 6 17 11 18 19 18 35 17 62 18 82 17 80 18 58 18 33 17 16 18 7 18 4 17 1 18 1 17 0 18 0 18 0 17 0 18 0"/><path d="M1339 845l18 2 17 2 18-4 18-7 17-6 18-5 17-6 18-5 18-4 17-2 18-1 18 2 17 3 18 5 17 10 18 18 18 33 17 56 18 76 18 80 17 62 18 37 17 18 18 9 18 4 17 2 18 1 18 0 17 0 18 0 17 0 18 0 18 0 17 0 18 0"/><path d="M1339 845l18 2 17 2 18-4 18-8 17-8 18-7 17-7 18-6 18-6 17-4 18-2 18 0 17 1 18 2 17 7 18 19 18 53 17 107 18 123 18 74 17 29 18 9 17 3 18 1 18 0 17 0 18 0 18 0 17 0 18 0 17 0 18 0 18 0 17 0 18 0"/><path d="M1339 845l18 2 17 2 18-4 18-7 17-6 18-6 17-6 18-6 18-4 17-3 18-1 18 1 17 1 18 2 17 3 18 3 18 4 17 6 18 10 18 29 17 71 18 115 17 100 18 49 18 17 17 6 18 1 18 1 17 0 18 0 17 0 18 0 18 0 17 0 18 0"/><path d="M1339 845l18 2 17 2 18-4 18-8 17-6 18-6 17-7 18-6 18-5 17-3 18-1 18 0 17 0 18 2 17 2 18 3 18 3 17 5 18 6 18 15 17 38 18 79 17 109 18 87 18 45 17 18 18 7 18 2 17 1 18 0 17 0 18 0 18 0 17 0 18 0"/><path d="M1339 845l18 2 17 2 18-5 18-9 17-8 18-8 17-8 18-8 18-6 17-5 18-3 18-1 17-1 18 0 17 0 18 1 18 2 17 1 18 0 18 1 17 4 18 17 17 59 18 136 18 136 17 59 18 17 18 4 17 1 18 0 17 0 18 0 18 0 17 0 18 0"/><path d="M1339 845l18 2 17 2 18-4 18-8 17-7 18-7 17-7 18-6 18-6 17-4 18-1 18 0 17 0 18 1 17 3 18 4 18 5 17 9 18 13 18 23 17 42 18 61 17 75 18 71 18 52 17 32 18 17 18 9 17 5 18 2 17 1 18 1 18 0 17 0 18 0"/><path d="M1339 845l18 2 17 2 18-4 18-9 17-8 18-7 17-7 18-7 18-6 17-4 18-2 18-1 17 0 18 0 17 2 18 1 18 2 17 2 18 2 18 2 17 7 18 18 17 47 18 90 18 111 17 82 18 41 18 15 17 6 18 2 17 1 18 0 18 0 17 0 18 0"/><path d="M1339 845l18 2 17 2 18-5 18-9 17-8 18-8 17-8 18-7 18-6 17-5 18-3 18-1 17 0 18 0 17 2 18 3 18 6 17 8 18 13 18 21 17 33 18 48 17 60 18 65 18 58 17 45 18 30 18 19 17 11 18 6 17 4 18 2 18 1 17 0 18 1"/><path d="M1339 845l18 2 17 2 18-5 18-11 17-9 18-9 17-9 18-9 18-8 17-6 18-4 18-2 17-2 18-1 17 0 18 1 18 3 17 4 18 9 18 15 17 25 18 41 17 56 18 69 18 68 17 58 18 41 18 26 17 16 18 9 17 4 18 3 18 1 17 1 18 1"/><path d="M1339 845l18 2 17 2 18-4 18-7 17-6 18-5 17-6 18-5 18-4 17-2 18 1 18 3 17 8 18 14 17 28 18 48 18 70 17 80 18 68 18 46 17 25 18 13 17 6 18 3 18 1 17 1 18 0 18 0 17 0 18 0 17 0 18 0 18 0 17 0 18 0"/><path d="M1339 845l18 2 17 2 18-4 18-9 17-8 18-6 17-8 18-7 18-5 17-5 18-2 18 0 17-1 18 1 17 2 18 2 18 3 17 6 18 10 18 21 17 47 18 81 17 99 18 79 18 45 17 21 18 8 18 4 17 1 18 1 17 0 18 0 18 0 17 0 18 0"/><path d="M1339 845l18 2 17 2 18-5 18-9 17-8 18-8 17-8 18-7 18-6 17-5 18-3 18-1 17 0 18 2 17 4 18 6 18 11 17 18 18 29 18 43 17 59 18 68 17 63 18 51 18 34 17 21 18 12 18 7 17 4 18 2 17 1 18 0 18 1 17 0 18 0"/><path d="M1339 845l18 2 17 2 18-4 18-8 17-7 18-6 17-6 18-6 18-5 17-4 18-1 18 1 17 1 18 3 17 5 18 8 18 12 17 21 18 30 18 46 17 60 18 67 17 59 18 45 18 28 17 17 18 9 18 5 17 3 18 2 17 0 18 1 18 0 17 0 18 0"/><path d="M1339 845l18 2 17 2 18-4 18-10 17-8 18-7 17-8 18-7 18-6 17-5 18-3 18-1 17-1 18 0 17 2 18 2 18 5 17 12 18 30 18 73 17 119 18 107 17 55 18 21 18 7 17 2 18 1 18 0 17 0 18 0 17 0 18 0 18 0 17 0 18 0"/><path d="M1339 845l18 2 17 2 18-3 18-6 17-5 18-4 17-4 18-4 18-3 17-2 18 1 18 3 17 3 18 4 17 5 18 6 18 8 17 9 18 10 18 15 17 26 18 37 17 50 18 56 18 54 17 44 18 30 18 20 17 11 18 7 17 4 18 2 18 1 17 0 18 1"/><path d="M1339 845l18 2 17 2 18-5 18-9 17-8 18-8 17-8 18-7 18-6 17-5 18-2 18 0 17 2 18 7 17 12 18 23 18 38 17 56 18 71 18 72 17 60 18 40 17 25 18 13 18 8 17 3 18 2 18 1 17 1 18 0 17 0 18 0 18 0 17 0 18 0"/><path d="M1339 845l18 2 17 2 18-4 18-6 17-6 18-5 17-6 18-5 18-4 17-3 18 0 18 1 17 1 18 3 17 3 18 4 18 7 17 15 18 47 18 118 17 133 18 61 17 17 18 4 18 1 17 0 18 0 18 0 17 0 18 0 17 0 18 0 18 0 17 0 18 0"/><path d="M1339 845l18 2 17 2 18-3 18-7 17-5 18-5 17-5 18-5 18-3 17-3 18 1 18 1 17 2 18 3 17 3 18 4 18 5 17 4 18 2 18 4 17 13 18 39 17 92 18 120 18 76 17 30 18 9 18 3 17 1 18 0 17 0 18 0 18 0 17 0 18 0"/><path d="M1339 845l18 2 17 2 18-4 18-7 17-7 18-6 17-6 18-6 18-5 17-3 18-1 18 0 17 1 18 2 17 3 18 4 18 6 17 8 18 11 18 21 17 37 18 58 17 73 18 72 18 54 17 34 18 19 18 9 17 5 18 2 17 1 18 1 18 0 17 0 18 0"/><path d="M1339 845l18 2 17 2 18-5 18-9 17-9 18-8 17-8 18-8 18-7 17-5 18-3 18-2 17-1 18 0 17 1 18 1 18 3 17 6 18 9 18 17 17 32 18 55 17 74 18 81 18 67 17 45 18 25 18 13 17 6 18 3 17 2 18 0 18 1 17 0 18 0"/><path d="M1339 845l18 2 17 2 18-3 18-7 17-5 18-5 17-5 18-4 18-4 17-2 18 0 18 2 17 2 18 3 17 4 18 4 18 4 17 5 18 2 18 7 17 21 18 61 17 113 18 106 18 52 17 18 18 5 18 2 17 0 18 0 17 0 18 0 18 0 17 0 18 0"/><path d="M1339 845l18 2 17 2 18-4 18-7 17-7 18-5 17-7 18-5 18-5 17-3 18-1 18 1 17 2 18 4 17 10 18 24 18 58 17 102 18 109 18 67 17 28 18 10 17 4 18 1 18 0 17 0 18 0 18 0 17 0 18 0 17 0 18 0 18 0 17 0 18 0"/><path d="M1339 845l18 2 17 2 18-4 18-9 17-7 18-7 17-8 18-6 18-6 17-4 18-2 18-1 17 1 18 3 17 8 18 23 18 60 17 110 18 117 18 68 17 27 18 9 17 3 18 1 18 0 17 0 18 0 18 0 17 0 18 0 17 0 18 0 18 0 17 0 18 0"/><path d="M1339 845l18 2 17 2 18-5 18-11 17-10 18-9 17-9 18-9 18-8 17-7 18-4 18-3 17-2 18 0 17 2 18 6 18 15 17 36 18 69 18 100 17 100 18 66 17 34 18 15 18 6 17 3 18 0 18 1 17 0 18 0 17 0 18 0 18 0 17 0 18 0"/><path d="M1339 845l18 2 17 2 18-4 18-7 17-6 18-6 17-6 18-5 18-5 17-3 18 0 18 0 17 1 18 2 17 3 18 3 18 4 17 3 18 1 18 1 17 5 18 20 17 71 18 140 18 111 17 40 18 10 18 2 17 1 18 0 17 0 18 0 18 0 17 0 18 0"/><path d="M1339 845l18 2 17 2 18-4 18-9 17-8 18-8 17-7 18-8 18-6 17-5 18-2 18-1 17 0 18 0 17 2 18 3 18 5 17 8 18 13 18 23 17 41 18 60 17 75 18 72 18 56 17 35 18 20 18 11 17 5 18 3 17 1 18 0 18 1 17 0 18 0"/><path d="M1339 845l18 2 17 2 18-4 18-6 17-6 18-6 17-5 18-5 18-4 17-3 18-1 18 1 17 2 18 3 17 4 18 9 18 21 17 55 18 107 18 116 17 65 18 23 17 7 18 2 18 1 17 0 18 0 18 0 17 0 18 0 17 0 18 0 18 0 17 0 18 0"/><path d="M1339 845l18 2 17 2 18-5 18-10 17-9 18-9 17-9 18-8 18-8 17-6 18-3 18-3 17-1 18 0 17 3 18 12 18 39 17 98 18 141 18 98 17 39 18 12 17 4 18 1 18 0 17 0 18 0 18 0 17 0 18 0 17 0 18 0 18 0 17 0 18 0"/><path d="M1339 845l18 2 17 2 18-3 18-7 17-5 18-5 17-5 18-5 18-3 17-3 18 0 18 2 17 3 18 4 17 8 18 15 18 33 17 65 18 94 18 91 17 56 18 25 17 10 18 4 18 1 17 1 18 0 18 0 17 0 18 0 17 0 18 0 18 0 17 0 18 0"/></g>
<path d="M42.6,87.6 L43.19,87.52 L44.03,87.41 L45.01,87.28 L46.03,87.14 L47,87 L47.92,86.87 L48.85,86.73 L49.8,86.59 L50.75,86.45 L51.7,86.3 L52.65,86.17 L53.61,86.06 L54.58,85.94 L55.54,85.76 L56.5,85.5 L57.46,85.14 L58.42,84.7 L59.38,84.21 L60.34,83.67 L61.3,83.1 L62.27,82.47 L63.26,81.76 L64.24,81.03 L65.2,80.33 L66.1,79.7 L66.92,79.16 L67.68,78.68 L68.42,78.24 L69.18,77.82 L70,77.4 L70.9,77 L71.85,76.64 L72.83,76.28 L73.82,75.91 L74.8,75.5 L75.78,75.04 L76.76,74.53 L77.74,74.01 L78.72,73.52 L79.7,73.1 L80.67,72.74 L81.63,72.42 L82.58,72.15 L83.54,71.91 L84.5,71.7 L85.46,71.53 L86.42,71.39 L87.39,71.29 L88.35,71.23 L89.3,71.2 L90.23,71.17 L91.12,71.13 L92.03,71.14 L92.98,71.28 L94,71.6 L95.05,72.14 L96.11,72.86 L97.25,73.69 L98.52,74.59 L100,75.5 L101.74,76.46 L103.71,77.52 L105.81,78.59 L107.94,79.61 L110,80.5 L112,81.24 L114,81.87 L116,82.43 L118,82.96 L120,83.5 L122.08,84.08 L124.24,84.69 L126.36,85.25 L128.32,85.71 L130,86 L131.32,86.06 L132.36,85.94 L133.24,85.72 L134.08,85.48 L135,85.3 L136,85.2 L137,85.12 L138,85.05 L139,84.95 L140,84.8 L141,84.62 L142,84.42 L143,84.18 L144,83.88 L145,83.5 L146.02,83.01 L147.05,82.42 L148.07,81.78 L149.06,81.13 L150,80.5 L150.85,79.88 L151.62,79.23 L152.38,78.59 L153.15,78 L154,77.5 L154.95,77.09 L155.98,76.74 L157.02,76.46 L158.05,76.21 L159,76 L159.86,75.81 L160.67,75.66 L161.45,75.54 L162.22,75.49 L163,75.5 L163.82,75.6 L164.65,75.77 L165.47,75.99 L166.26,76.24 L167,76.5 L167.71,76.79 L168.42,77.14 L169.06,77.48 L169.61,77.79 L170,78 L170,75.07 L166.73,81.99 L163.47,88.6 L160.2,91.62 L156.93,92.96 L153.67,93.64 L150.4,93.91 L147.13,93.82 L143.87,93.6 L140.6,93.32 L137.33,92.94 L134.07,92.39 L130.8,91.43 L127.53,90.35 L124.27,89.12 L121,88.06 L117.73,87.01 L114.47,85.99 L111.2,85.04 L107.93,84.26 L104.67,83.63 L101.4,83.03 L98.13,82.34 L94.87,81.82 L91.6,81.5 L88.33,81.6 L85.07,82.28 L81.8,83.19 L78.53,84.23 L75.27,85.43 L72,86.53 L68.73,88.4 L65.47,91.28 L62.2,93.26 L58.93,94.59 L55.67,95.64 L52.4,96.6 L49.13,97.46 L45.87,98.4 L42.6,99.2Z" stroke="none" stroke-width="1" fill="#008000" opacity="0.9" filter="url(#bl05)"/>
<path d="M43.6,95.5 L44.18,95.28 L45.01,94.98 L45.98,94.63 L47,94.3 L48.08,94 L49.26,93.71 L50.49,93.41 L51.7,93.1 L52.89,92.77 L54.09,92.43 L55.3,92.07 L56.5,91.7 L57.7,91.34 L58.9,90.99 L60.1,90.6 L61.3,90.1 L62.52,89.49 L63.76,88.78 L64.96,88.01 L66.1,87.2 L67.12,86.28 L68.05,85.27 L68.98,84.3 L70,83.5 L71.13,82.96 L72.34,82.58 L73.57,82.26 L74.8,81.9 L76.02,81.45 L77.25,80.99 L78.48,80.53 L79.7,80.1 L80.91,79.71 L82.11,79.35 L83.3,79.01 L84.5,78.7 L85.7,78.4 L86.9,78.13 L88.1,77.88 L89.3,77.7 L90.5,77.58 L91.69,77.53 L92.89,77.5 L94.1,77.5 L95.32,77.51 L96.54,77.53 L97.77,77.59 L99,77.7 L100.23,77.87 L101.45,78.09 L102.7,78.34 L104,78.6 L105.4,78.85 L106.86,79.12 L108.32,79.4 L109.7,79.7 L110.96,80.03 L112.16,80.38 L113.32,80.74 L114.5,81.1 L115.69,81.46 L116.88,81.83 L118.07,82.21 L119.3,82.6 L120.59,83.01 L121.92,83.44 L123.24,83.87 L124.5,84.3 L125.64,84.72 L126.71,85.15 L127.8,85.58 L129,86 L130.38,86.44 L131.88,86.88 L133.38,87.31 L134.8,87.7 L136.09,88.04 L137.31,88.34 L138.5,88.63 L139.7,88.9 L140.91,89.18 L142.11,89.45 L143.3,89.7 L144.5,89.9 L145.7,90.06 L146.9,90.19 L148.1,90.27 L149.3,90.3 L150.51,90.27 L151.72,90.19 L152.93,90.06 L154.1,89.9 L155.24,89.72 L156.36,89.51 L157.45,89.25 L158.5,88.9 L159.53,88.46 L160.54,87.95 L161.48,87.36 L162.3,86.7 L162.97,85.96 L163.51,85.14 L164,84.26 L164.5,83.3 L165,82.28 L165.48,81.19 L165.96,80.04 L166.5,78.8 L167.11,77.44 L167.77,75.97 L168.44,74.49 L169.1,73.1 L169.72,71.61 L170.32,70.04 L170.94,68.8 L171.6,68.3 L172.36,68.83 L173.19,70.11 L174,71.68 L174.7,73.1 L175.25,74.28 L175.71,75.46 L176.11,76.63 L176.5,77.8 L176.85,78.8 L177.16,79.69 L177.49,80.8 L177.9,82.5 L178.43,85.05 L179.05,88.21 L179.69,91.54 L180.3,94.6 L180.87,97.35 L181.42,100 L181.96,102.5 L182.5,104.8 L183.01,106.88 L183.51,108.76 L184.02,110.49 L184.6,112.1 L185.25,113.62 L185.95,115.02 L186.7,116.26 L187.5,117.3 L188.34,118.1 L189.23,118.69 L190.18,119.13 L191.2,119.5 L192.11,119.77 L192.96,119.92 L194.13,120.01 L196,120.1 L198.82,120.2 L202.34,120.27 L206.19,120.34 L210,120.4 L214.09,120.46 L218.53,120.52 L222.52,120.57 L225.3,120.6" stroke="#ffa500" stroke-width="9.6" fill="none" opacity="0.25" stroke-linejoin="round"/>
<path d="M43.6,95.5 L44.18,95.28 L45.01,94.98 L45.98,94.63 L47,94.3 L48.08,94 L49.26,93.71 L50.49,93.41 L51.7,93.1 L52.89,92.77 L54.09,92.43 L55.3,92.07 L56.5,91.7 L57.7,91.34 L58.9,90.99 L60.1,90.6 L61.3,90.1 L62.52,89.49 L63.76,88.78 L64.96,88.01 L66.1,87.2 L67.12,86.28 L68.05,85.27 L68.98,84.3 L70,83.5 L71.13,82.96 L72.34,82.58 L73.57,82.26 L74.8,81.9 L76.02,81.45 L77.25,80.99 L78.48,80.53 L79.7,80.1 L80.91,79.71 L82.11,79.35 L83.3,79.01 L84.5,78.7 L85.7,78.4 L86.9,78.13 L88.1,77.88 L89.3,77.7 L90.5,77.58 L91.69,77.53 L92.89,77.5 L94.1,77.5 L95.32,77.51 L96.54,77.53 L97.77,77.59 L99,77.7 L100.23,77.87 L101.45,78.09 L102.7,78.34 L104,78.6 L105.4,78.85 L106.86,79.12 L108.32,79.4 L109.7,79.7 L110.96,80.03 L112.16,80.38 L113.32,80.74 L114.5,81.1 L115.69,81.46 L116.88,81.83 L118.07,82.21 L119.3,82.6 L120.59,83.01 L121.92,83.44 L123.24,83.87 L124.5,84.3 L125.64,84.72 L126.71,85.15 L127.8,85.58 L129,86 L130.38,86.44 L131.88,86.88 L133.38,87.31 L134.8,87.7 L136.09,88.04 L137.31,88.34 L138.5,88.63 L139.7,88.9 L140.91,89.18 L142.11,89.45 L143.3,89.7 L144.5,89.9 L145.7,90.06 L146.9,90.19 L148.1,90.27 L149.3,90.3 L150.51,90.27 L151.72,90.19 L152.93,90.06 L154.1,89.9 L155.24,89.72 L156.36,89.51 L157.45,89.25 L158.5,88.9 L159.53,88.46 L160.54,87.95 L161.48,87.36 L162.3,86.7 L162.97,85.96 L163.51,85.14 L164,84.26 L164.5,83.3 L165,82.28 L165.48,81.19 L165.96,80.04 L166.5,78.8 L167.11,77.44 L167.77,75.97 L168.44,74.49 L169.1,73.1 L169.72,71.61 L170.32,70.04 L170.94,68.8 L171.6,68.3 L172.36,68.83 L173.19,70.11 L174,71.68 L174.7,73.1 L175.25,74.28 L175.71,75.46 L176.11,76.63 L176.5,77.8 L176.85,78.8 L177.16,79.69 L177.49,80.8 L177.9,82.5 L178.43,85.05 L179.05,88.21 L179.69,91.54 L180.3,94.6 L180.87,97.35 L181.42,100 L181.96,102.5 L182.5,104.8 L183.01,106.88 L183.51,108.76 L184.02,110.49 L184.6,112.1 L185.25,113.62 L185.95,115.02 L186.7,116.26 L187.5,117.3 L188.34,118.1 L189.23,118.69 L190.18,119.13 L191.2,119.5 L192.11,119.77 L192.96,119.92 L194.13,120.01 L196,120.1 L198.82,120.2 L202.34,120.27 L206.19,120.34 L210,120.4 L214.09,120.46 L218.53,120.52 L222.52,120.57 L225.3,120.6" stroke="#f5a300" stroke-width="5.8" fill="none" opacity="0.85" stroke-linejoin="round"/>
<path d="M42.6,113 L43,99 L43.6,96.2" stroke="#f5a300" stroke-width="3.2" fill="none" opacity="0.85" />
<path d="M168.2,79 L171.6,68.5 L175.2,79Z" stroke="none" stroke-width="1" fill="#f5a300" opacity="0.8" />
<path d="M42.6,96.2 L42.79,96.02 L43.06,95.77 L43.42,95.49 L43.9,95.2 L44.51,94.93 L45.24,94.64 L46.07,94.34 L47,94 L48.06,93.62 L49.24,93.2 L50.48,92.76 L51.7,92.3 L52.89,91.8 L54.09,91.25 L55.3,90.73 L56.5,90.3 L57.7,89.99 L58.9,89.76 L60.1,89.57 L61.3,89.4 L62.52,89.25 L63.76,89.13 L64.96,89.02 L66.1,88.9 L67.12,88.76 L68.05,88.62 L68.98,88.47 L70,88.3 L71.13,88.13 L72.34,87.95 L73.57,87.72 L74.8,87.4 L76.02,86.98 L77.25,86.49 L78.48,85.9 L79.7,85.2 L80.91,84.34 L82.11,83.36 L83.3,82.31 L84.5,81.3 L85.7,80.29 L86.9,79.26 L88.1,78.27 L89.3,77.4 L90.5,76.66 L91.69,76.01 L92.89,75.46 L94.1,75 L95.32,74.62 L96.54,74.33 L97.77,74.15 L99,74.1 L100.23,74.23 L101.45,74.51 L102.7,74.86 L104,75.2 L105.4,75.53 L106.86,75.9 L108.32,76.24 L109.7,76.5 L110.96,76.66 L112.16,76.75 L113.32,76.79 L114.5,76.8 L115.69,76.77 L116.88,76.69 L118.07,76.59 L119.3,76.5 L120.56,76.43 L121.86,76.36 L123.17,76.29 L124.5,76.2 L125.87,76.08 L127.28,75.95 L128.67,75.82 L130,75.7 L131.25,75.59 L132.44,75.47 L133.61,75.4 L134.8,75.4 L136.02,75.46 L137.25,75.58 L138.48,75.78 L139.7,76.1 L140.91,76.57 L142.11,77.16 L143.3,77.82 L144.5,78.5 L145.7,79.18 L146.9,79.89 L148.1,80.63 L149.3,81.4 L150.5,82.2 L151.69,83.03 L152.89,83.89 L154.1,84.8 L155.36,85.79 L156.64,86.86 L157.89,87.91 L159,88.9 L159.9,89.7 L160.64,90.39 L161.39,91.16 L162.3,92.2 L163.44,93.61 L164.71,95.27 L166.05,97.04 L167.4,98.8 L168.79,100.52 L170.23,102.26 L171.66,104.03 L173,105.8 L174.2,107.64 L175.3,109.52 L176.4,111.35 L177.6,113 L178.93,114.47 L180.32,115.81 L181.76,117 L183.2,118 L184.63,118.78 L186.08,119.36 L187.53,119.81 L189,120.2 L190.28,120.51 L191.42,120.72 L192.86,120.88 L195,121 L198.11,121.1 L201.92,121.15 L206.02,121.18 L210,121.2 L214.16,121.21 L218.59,121.21 L222.54,121.2 L225.3,121.2" stroke="#ff2020" stroke-width="2.0" fill="none" opacity="0.45" />
<path d="M42.6,96.2 L42.79,96.02 L43.06,95.77 L43.42,95.49 L43.9,95.2 L44.51,94.93 L45.24,94.64 L46.07,94.34 L47,94 L48.06,93.62 L49.24,93.2 L50.48,92.76 L51.7,92.3 L52.89,91.8 L54.09,91.25 L55.3,90.73 L56.5,90.3 L57.7,89.99 L58.9,89.76 L60.1,89.57 L61.3,89.4 L62.52,89.25 L63.76,89.13 L64.96,89.02 L66.1,88.9 L67.12,88.76 L68.05,88.62 L68.98,88.47 L70,88.3 L71.13,88.13 L72.34,87.95 L73.57,87.72 L74.8,87.4 L76.02,86.98 L77.25,86.49 L78.48,85.9 L79.7,85.2 L80.91,84.34 L82.11,83.36 L83.3,82.31 L84.5,81.3 L85.7,80.29 L86.9,79.26 L88.1,78.27 L89.3,77.4 L90.5,76.66 L91.69,76.01 L92.89,75.46 L94.1,75 L95.32,74.62 L96.54,74.33 L97.77,74.15 L99,74.1 L100.23,74.23 L101.45,74.51 L102.7,74.86 L104,75.2 L105.4,75.53 L106.86,75.9 L108.32,76.24 L109.7,76.5 L110.96,76.66 L112.16,76.75 L113.32,76.79 L114.5,76.8 L115.69,76.77 L116.88,76.69 L118.07,76.59 L119.3,76.5 L120.56,76.43 L121.86,76.36 L123.17,76.29 L124.5,76.2 L125.87,76.08 L127.28,75.95 L128.67,75.82 L130,75.7 L131.25,75.59 L132.44,75.47 L133.61,75.4 L134.8,75.4 L136.02,75.46 L137.25,75.58 L138.48,75.78 L139.7,76.1 L140.91,76.57 L142.11,77.16 L143.3,77.82 L144.5,78.5 L145.7,79.18 L146.9,79.89 L148.1,80.63 L149.3,81.4 L150.5,82.2 L151.69,83.03 L152.89,83.89 L154.1,84.8 L155.36,85.79 L156.64,86.86 L157.89,87.91 L159,88.9 L159.9,89.7 L160.64,90.39 L161.39,91.16 L162.3,92.2 L163.44,93.61 L164.71,95.27 L166.05,97.04 L167.4,98.8 L168.79,100.52 L170.23,102.26 L171.66,104.03 L173,105.8 L174.2,107.64 L175.3,109.52 L176.4,111.35 L177.6,113 L178.93,114.47 L180.32,115.81 L181.76,117 L183.2,118 L184.63,118.78 L186.08,119.36 L187.53,119.81 L189,120.2 L190.28,120.51 L191.42,120.72 L192.86,120.88 L195,121 L198.11,121.1 L201.92,121.15 L206.02,121.18 L210,121.2 L214.16,121.21 L218.59,121.21 L222.54,121.2 L225.3,121.2" stroke="#f01010" stroke-width="2.0" fill="none" stroke-dasharray="3.6,1.4" />
<path d="M42.6,113 L42.67,110.22 L42.76,106.17 L42.88,102.04 L43,99 L43.07,97.48 L43.11,96.8 L43.25,96.53 L43.6,96.2 L44.22,95.79 L45.04,95.5 L45.99,95.26 L47,95 L48.08,94.7 L49.26,94.41 L50.49,94.11 L51.7,93.8 L52.89,93.47 L54.09,93.13 L55.3,92.77 L56.5,92.4 L57.7,92.04 L58.9,91.69 L60.1,91.3 L61.3,90.8 L62.52,90.19 L63.76,89.48 L64.96,88.71 L66.1,87.9 L67.12,86.98 L68.05,85.97 L68.98,85 L70,84.2 L71.13,83.66 L72.34,83.28 L73.57,82.96 L74.8,82.6 L76.02,82.15 L77.25,81.69 L78.48,81.23 L79.7,80.8 L80.91,80.41 L82.11,80.05 L83.3,79.71 L84.5,79.4 L85.7,79.1 L86.9,78.83 L88.1,78.58 L89.3,78.4 L90.5,78.28 L91.69,78.23 L92.89,78.2 L94.1,78.2 L95.32,78.21 L96.54,78.23 L97.77,78.29 L99,78.4 L100.23,78.57 L101.45,78.79 L102.7,79.04 L104,79.3 L105.4,79.55 L106.86,79.82 L108.32,80.1 L109.7,80.4 L110.96,80.73 L112.16,81.08 L113.32,81.44 L114.5,81.8 L115.69,82.16 L116.88,82.53 L118.07,82.91 L119.3,83.3 L120.59,83.71 L121.92,84.14 L123.24,84.57 L124.5,85 L125.64,85.42 L126.71,85.85 L127.8,86.28 L129,86.7 L130.38,87.14 L131.88,87.58 L133.38,88.01 L134.8,88.4 L136.09,88.74 L137.31,89.04 L138.5,89.33 L139.7,89.6 L140.91,89.88 L142.11,90.15 L143.3,90.4 L144.5,90.6 L145.7,90.76 L146.9,90.89 L148.1,90.97 L149.3,91 L150.51,90.97 L151.72,90.89 L152.93,90.76 L154.1,90.6 L155.24,90.42 L156.36,90.21 L157.45,89.95 L158.5,89.6 L159.53,89.16 L160.54,88.65 L161.48,88.06 L162.3,87.4 L162.97,86.66 L163.51,85.84 L164,84.96 L164.5,84 L165,82.98 L165.48,81.89 L165.96,80.74 L166.5,79.5 L167.11,78.14 L167.77,76.67 L168.44,75.19 L169.1,73.8 L169.72,72.31 L170.32,70.74 L170.94,69.5 L171.6,69 L172.36,69.53 L173.19,70.81 L174,72.38 L174.7,73.8 L175.25,74.98 L175.71,76.16 L176.11,77.33 L176.5,78.5 L176.85,79.5 L177.16,80.39 L177.49,81.5 L177.9,83.2 L178.43,85.75 L179.05,88.91 L179.69,92.24 L180.3,95.3 L180.87,98.05 L181.42,100.7 L181.96,103.2 L182.5,105.5 L183.01,107.58 L183.51,109.46 L184.02,111.19 L184.6,112.8 L185.25,114.32 L185.95,115.72 L186.7,116.96 L187.5,118 L188.34,118.8 L189.23,119.39 L190.18,119.83 L191.2,120.2 L192.11,120.47 L192.96,120.62 L194.13,120.71 L196,120.8 L198.82,120.9 L202.34,120.97 L206.19,121.04 L210,121.1 L214.09,121.16 L218.53,121.22 L222.52,121.27 L225.3,121.3" stroke="#111" stroke-width="1.1" fill="none" stroke-dasharray="3,2" />
</g>
<rect x="42.5" y="20.9" width="182.80" height="102.60" fill="none" stroke="#222" stroke-width="0.8"/>
<path d="M39.5,124 L42.5,124" stroke="#222" stroke-width="0.8" fill="none" />
<text x="38.1" y="127.1" font-size="9.2" font-family='"Liberation Serif", serif' fill="#222" text-anchor="end" textLength="14.2" lengthAdjust="spacingAndGlyphs" >0.0</text>
<path d="M39.5,102.7 L42.5,102.7" stroke="#222" stroke-width="0.8" fill="none" />
<text x="38.1" y="105.8" font-size="9.2" font-family='"Liberation Serif", serif' fill="#222" text-anchor="end" textLength="14.2" lengthAdjust="spacingAndGlyphs" >0.5</text>
<path d="M39.5,81.4 L42.5,81.4" stroke="#222" stroke-width="0.8" fill="none" />
<text x="38.1" y="84.5" font-size="9.2" font-family='"Liberation Serif", serif' fill="#222" text-anchor="end" textLength="14.2" lengthAdjust="spacingAndGlyphs" >1.0</text>
<path d="M39.5,60.1 L42.5,60.1" stroke="#222" stroke-width="0.8" fill="none" />
<text x="38.1" y="63.2" font-size="9.2" font-family='"Liberation Serif", serif' fill="#222" text-anchor="end" textLength="14.2" lengthAdjust="spacingAndGlyphs" >1.5</text>
<path d="M39.5,38.8 L42.5,38.8" stroke="#222" stroke-width="0.8" fill="none" />
<text x="38.1" y="41.9" font-size="9.2" font-family='"Liberation Serif", serif' fill="#222" text-anchor="end" textLength="14.2" lengthAdjust="spacingAndGlyphs" >2.0</text>
<path d="M65.35,124 L65.35,127" stroke="#222" stroke-width="0.8" fill="none" />
<text x="65.35" y="134.7" font-size="9.2" font-family='"Liberation Serif", serif' fill="#222" text-anchor="middle" textLength="13" lengthAdjust="spacingAndGlyphs" >0.4</text>
<path d="M111.05,124 L111.05,127" stroke="#222" stroke-width="0.8" fill="none" />
<text x="111.05" y="134.7" font-size="9.2" font-family='"Liberation Serif", serif' fill="#222" text-anchor="middle" textLength="13" lengthAdjust="spacingAndGlyphs" >0.6</text>
<path d="M156.75,124 L156.75,127" stroke="#222" stroke-width="0.8" fill="none" />
<text x="156.75" y="134.7" font-size="9.2" font-family='"Liberation Serif", serif' fill="#222" text-anchor="middle" textLength="13" lengthAdjust="spacingAndGlyphs" >0.8</text>
<path d="M202.45,124 L202.45,127" stroke="#222" stroke-width="0.8" fill="none" />
<text x="202.45" y="134.7" font-size="9.2" font-family='"Liberation Serif", serif' fill="#222" text-anchor="middle" textLength="13" lengthAdjust="spacingAndGlyphs" >1.0</text>
<text x="70.1" y="147.7" font-size="12.6" font-family='"Liberation Serif", serif' fill="#111" textLength="127" lengthAdjust="spacingAndGlyphs" >Electron energy (GeV)</text>
<text class="t" x="100.6" y="14.1" font-size="14.1" font-family='"Liberation Sans", sans-serif' fill="#000" textLength="56.7" lengthAdjust="spacingAndGlyphs">Classical</text>
<g transform="translate(16.6,127.8) rotate(-90)" fill="#111" font-family='"Liberation Serif", serif'>
<text x="-0.2" y="0" font-size="12">E</text>
<text x="8.6" y="-5.6" font-size="7.8" font-style="italic" textLength="11.4" lengthAdjust="spacingAndGlyphs">dQ</text>
<line x1="8.3" y1="-2.7" x2="20.4" y2="-2.7" stroke="#111" stroke-width="0.6"/>
<text x="8.6" y="4.3" font-size="7.8" font-style="italic" textLength="11.4" lengthAdjust="spacingAndGlyphs">dE</text>
<text x="26.6" y="0" font-size="12.4" textLength="40" lengthAdjust="spacingAndGlyphs">(norm.)</text>
<text x="71.3" y="0" font-size="12.4" font-family='"Liberation Sans", sans-serif' textLength="43.5" lengthAdjust="spacingAndGlyphs">(GeV<tspan font-size="8" dy="-4.5">−1</tspan><tspan dy="4.5">)</tspan></text>
</g>
<g clip-path="url(#ct1)">
<path d="M328.1,84 L336.25,85.11 L347.73,86.67 L358.1,88 L365.77,88.89 L372.32,89.56 L378.1,90 L383.17,89.78 L387.47,89.33 L391.1,90 L394.06,92.19 L396.36,95.48 L398.1,100 L399.66,106.94 L400.66,115.11 L400.1,121 L397.43,122.83 L393.21,122.39 L388.1,121.5 L382.03,120.87 L375.06,119.8 L368.1,118 L361.25,115.26 L354.4,111.8 L348.1,108 L342.17,103.41 L336.8,98.48 L333.1,95Z" stroke="none" stroke-width="1" fill="#0000ff" opacity="0.04" filter="url(#bl3)"/>
<path d="M270.6,75 L271.93,69.63 L273.88,62.04 L276.1,55 L278.66,48.78 L281.49,43.11 L284.1,40 L286.17,40.89 L288.03,44.33 L290.1,48 L292.36,51.56 L294.84,55.33 L298.1,58 L302.58,58.67 L307.84,58.22 L313.1,58 L318.66,58.37 L324.21,58.96 L328.1,60 L329.95,62 L330.14,64.44 L328.1,66 L322.91,65.63 L315.51,64.37 L308.1,64 L301.25,65.19 L294.4,67.26 L288.1,70 L282.17,74 L276.8,78.67 L273.1,82Z" stroke="none" stroke-width="1" fill="#0000ff" opacity="0.05" filter="url(#bl3)"/>
<path d="M369.1,88 L369.43,83.59 L369.99,77.41 L371.1,72 L372.95,68.26 L375.36,65.3 L378.1,63 L381.32,61.37 L384.88,60.41 L388.1,60 L390.8,60.07 L393.17,60.7 L395.1,62 L396.62,64.15 L397.69,66.96 L398.1,70 L397.62,73.33 L396.47,76.89 L395.1,80 L393.66,82.44 L391.99,84.44 L390.1,86 L387.95,87 L385.58,87.56 L383.1,88 L380.21,88.44 L377.21,88.78 L375.1,89Z" stroke="none" stroke-width="1" fill="#0000ff" opacity="0.1" filter="url(#bl2)"/>
<g transform="scale(.1)" fill="none" stroke="#0000ff" stroke-width="6" stroke-opacity="0.05"><path d="M2706 930l59-5 59-9 60-22 59-29 59-23 59-14 59-4 59 17 60 46 59 62 59 66 59 61 59 50 59 37 60 25 59 15 59 9 23 2 22 2 21 2 22 1 22 2 22 1 21 1 22 0 22 1 22 1 22 0 21 1 22 0 22 1 22 0 21 0 22 0 22 0 22 0 22 0 21 0 22 0 46 0 99 0 99 0 99 0"/><path d="M2706 911l59-4 59-8 60-23 59-31 59-28 59-25 59-23 59-10 60 8 59 19 59 19 59 17 59 16 59 14 60 12 59 3 59-27 23-12 22-11 21-8 22-2 22 7 22 14 21 24 22 40 22 57 22 69 22 68 21 54 22 37 22 23 22 12 21 7 22 4 22 2 22 1 22 1 21 0 22 0 46 0 99 0 99 0 99 0"/><path d="M2706 936l59-4 59-9 60-22 59-29 59-27 59-23 59-20 59-7 60 13 59 27 59 37 59 48 59 61 59 69 60 64 59 48 59 28 23 7 22 5 21 5 22 4 22 3 22 3 21 2 22 2 22 2 22 1 22 1 21 1 22 0 22 1 22 0 21 0 22 0 22 0 22 0 22 0 21 0 22 0 46 0 99 0 99 0 99 0"/><path d="M2706 880l59-6 59-11 60-28 59-37 59-33 59-27 59-21 59-1 60 33 59 63 59 86 59 100 59 91 59 65 60 37 59 19 59 9 23 2 22 1 21 1 22 1 22 1 22 0 21 1 22 0 22 0 22 1 22 0 21 0 22 0 22 0 22 0 21 0 22 0 22 0 22 0 22 0 21 0 22 0 46 0 99 0 99 0 99 0"/><path d="M2706 873l59-7 59-12 60-30 59-39 59-36 59-32 59-29 59-15 60 7 59 20 59 20 59 19 59 17 59 14 60 12 59 5 59-21 23-10 22-12 21-11 22-9 22 4 22 20 21 47 22 83 22 102 22 95 22 68 21 41 22 21 22 12 22 5 21 3 22 1 22 1 22 0 22 0 21 0 22 0 46 0 99 0 99 0 99 0"/><path d="M2706 909l59-3 59-7 60-22 59-29 59-26 59-23 59-20 59-8 60 12 59 26 59 32 59 42 59 57 59 72 60 76 59 60 59 36 23 9 22 8 21 5 22 5 22 4 22 3 21 2 22 2 22 1 22 1 22 1 21 1 22 1 22 0 22 0 21 0 22 0 22 0 22 0 22 0 21 0 22 0 46 0 99 0 99 0 99 0"/><path d="M2706 867l59-2 59-6 60-22 59-31 59-27 59-24 59-22 59-8 60 11 59 22 59 23 59 21 59 20 59 17 60 15 59 6 59-38 23-23 22-24 21-18 22-7 22 9 22 20 21 32 22 49 22 69 22 86 22 82 21 60 22 36 22 18 22 9 21 4 22 2 22 1 22 0 22 0 21 0 22 0 46 0 99 0 99 0 99 0"/><path d="M2706 874l59-3 59-7 60-23 59-32 59-29 59-25 59-23 59-10 60 10 59 22 59 21 59 21 59 19 59 16 60 14 59 9 59-17 23-9 22-13 21-15 22-19 22-15 22-14 21-2 22 34 22 107 22 162 22 113 21 44 22 13 22 3 22 1 21 0 22 0 22 0 22 0 22 0 21 0 22 0 46 0 99 0 99 0 99 0"/><path d="M2706 870l59-5 59-10 60-26 59-36 59-33 59-28 59-26 59-13 60 9 59 21 59 22 59 19 59 18 59 16 60 13 59 7 59-19 23-11 22-13 21-16 22-17 22-10 22-3 21 15 22 51 22 97 22 124 22 103 21 60 22 28 22 12 22 5 21 2 22 1 22 0 22 0 22 0 21 0 22 0 46 0 99 0 99 0 99 0"/><path d="M2706 896l59-5 59-10 60-26 59-34 59-32 59-27 59-25 59-13 60 8 59 19 59 20 59 18 59 16 59 14 60 12 59 5 59-29 23-21 22-28 21-30 22-27 22-12 22 2 21 18 22 36 22 59 22 95 22 116 21 101 22 62 22 29 22 12 21 5 22 2 22 1 22 0 22 0 21 0 22 0 46 0 99 0 99 0 99 0"/><path d="M2706 822l59-4 59-9 60-28 59-37 59-34 59-30 59-27 59-12 60 12 59 24 59 25 59 23 59 21 59 19 60 16 59 9 59-29 23-21 22-27 21-29 22-22 22-3 22 21 21 50 22 83 22 104 22 109 22 85 21 55 22 31 22 16 22 7 21 4 22 2 22 1 22 0 22 0 21 0 22 0 46 0 99 0 99 0 99 0"/><path d="M2706 870l59-5 59-9 60-26 59-34 59-32 59-27 59-24 59-10 60 13 59 25 59 27 59 27 59 30 59 30 60 33 59 31 59 6 23 0 22 0 21 6 22 12 22 21 22 24 21 24 22 24 22 21 22 23 22 26 21 31 22 34 22 28 22 17 21 7 22 3 22 1 22 0 22 0 21 0 22 0 46 0 99 0 99 0 99 0"/><path d="M2706 948l59-2 59-6 60-18 59-25 59-23 59-19 59-18 59-8 60 8 59 17 59 17 59 16 59 15 59 13 60 11 59 7 59-15 23-11 22-18 21-23 22-29 22-26 22-20 21-7 22 12 22 30 22 52 22 73 21 91 22 84 22 54 22 28 21 11 22 5 22 2 22 1 22 0 21 0 22 0 46 0 99 0 99 0 99 0"/><path d="M2706 852l59-3 59-7 60-23 59-30 59-25 59-17 59-10 59 9 60 35 59 52 59 56 59 58 59 57 59 51 60 44 59 33 59 17 23 5 22 6 21 6 22 8 22 7 22 8 21 5 22 5 22 5 22 4 22 4 21 4 22 4 22 4 22 2 21 1 22 0 22 0 22 0 22 0 21 0 22 0 46 0 99 0 99 0 99 0"/><path d="M2706 950l59-4 59-8 60-20 59-27 59-23 59-16 59-10 59 9 60 34 59 53 59 61 59 63 59 55 59 42 60 28 59 17 59 9 23 3 22 2 21 1 22 1 22 2 22 0 21 1 22 1 22 1 22 0 22 1 21 0 22 1 22 0 22 0 21 0 22 0 22 0 22 0 22 0 21 0 22 0 46 0 99 0 99 0 99 0"/><path d="M2706 940l59-2 59-6 60-19 59-26 59-23 59-20 59-19 59-8 60 9 59 17 59 18 59 16 59 15 59 14 60 11 59 7 59-13 23-7 22-10 21-12 22-14 22-11 22-12 21-8 22 3 22 14 22 30 22 44 21 56 22 60 22 58 22 46 21 32 22 20 22 12 22 7 22 4 21 2 22 1 46 1 99 0 99 0 99 0"/><path d="M2706 940l59-7 59-10 60-25 59-32 59-30 59-27 59-24 59-13 60 6 59 16 59 16 59 15 59 14 59 11 60 9 59 5 59-19 23-9 22-10 21-11 22-11 22-4 22-1 21 8 22 31 22 62 22 92 22 93 21 68 22 39 22 20 22 8 21 4 22 2 22 1 22 0 22 0 21 0 22 0 46 0 99 0 99 0 99 0"/><path d="M2706 975l59-4 59-8 60-20 59-26 59-24 59-21 59-20 59-9 60 6 59 14 59 15 59 14 59 12 59 11 60 9 59 5 59-15 23-7 22-9 21-9 22-9 22-6 22-4 21 0 22 16 22 51 22 99 22 100 21 58 22 22 22 8 22 2 21 1 22 0 22 0 22 0 22 0 21 0 22 0 46 0 99 0 99 0 99 0"/><path d="M2706 875l59-4 59-9 60-25 59-33 59-29 59-23 59-18 59-1 60 22 59 37 59 42 59 44 59 47 59 48 60 46 59 42 59 29 23 10 22 9 21 9 22 8 22 9 22 9 21 8 22 9 22 8 22 9 22 9 21 11 22 11 22 9 22 6 21 2 22 1 22 0 22 0 22 0 21 0 22 0 46 0 99 0 99 0 99 0"/><path d="M2706 930l59-4 59-7 60-21 59-28 59-26 59-22 59-20 59-9 60 10 59 20 59 22 59 23 59 25 59 27 60 32 59 34 59 27 23 11 22 10 21 11 22 11 22 14 22 15 21 15 22 17 22 16 22 17 22 17 21 17 22 18 22 13 22 7 21 4 22 1 22 0 22 0 22 0 21 0 22 0 46 0 99 0 99 0 99 0"/><path d="M2706 898l59-4 59-8 60-23 59-32 59-29 59-25 59-23 59-11 60 9 59 19 59 20 59 18 59 17 59 15 60 13 59 7 59-17 23-8 22-10 21-11 22-11 22-5 22-1 21 11 22 36 22 69 22 92 22 87 21 63 22 36 22 18 22 9 21 4 22 2 22 1 22 1 22 0 21 0 22 0 46 0 99 0 99 0 99 0"/><path d="M2706 957l59-4 59-8 60-21 59-29 59-26 59-22 59-21 59-10 60 6 59 16 59 16 59 14 59 13 59 12 60 9 59 5 59-16 23-6 22 2 21 34 22 90 22 113 22 67 21 25 22 8 22 2 22 1 22 0 21 0 22 0 22 0 22 0 21 0 22 0 22 0 22 0 22 0 21 0 22 0 46 0 99 0 99 0 99 0"/><path d="M2706 892l59-3 59-7 60-20 59-27 59-19 59-10 59-1 59 20 60 43 59 57 59 58 59 54 59 48 59 40 60 30 59 22 59 14 23 4 22 3 21 3 22 3 22 3 22 2 21 3 22 2 22 2 22 1 22 3 21 2 22 2 22 2 22 1 21 0 22 0 22 0 22 0 22 0 21 0 22 0 46 0 99 0 99 0 99 0"/><path d="M2706 847l59-2 59-6 60-22 59-29 59-22 59-15 59-6 59 14 60 39 59 53 59 58 59 56 59 54 59 48 60 40 59 32 59 20 23 7 22 5 21 5 22 5 22 4 22 4 21 4 22 5 22 4 22 4 22 4 21 5 22 5 22 4 22 2 21 1 22 0 22 0 22 0 22 0 21 0 22 0 46 0 99 0 99 0 99 0"/><path d="M2706 905l59-2 59-6 60-20 59-27 59-25 59-20 59-18 59-6 60 13 59 24 59 26 59 27 59 28 59 29 60 31 59 25 59 3 23 2 22 6 21 11 22 15 22 19 22 18 21 17 22 15 22 15 22 16 22 19 21 22 22 25 22 20 22 12 21 5 22 2 22 1 22 0 22 0 21 0 22 0 46 0 99 0 99 0 99 0"/><path d="M2706 939l59-7 59-10 60-25 59-32 59-30 59-27 59-24 59-13 60 6 59 16 59 17 59 15 59 13 59 12 60 9 59 4 59-19 23-11 22-16 21-20 22-21 22-16 22-7 21 13 22 41 22 71 22 93 22 90 21 70 22 45 22 25 22 13 21 7 22 3 22 2 22 0 22 1 21 0 22 0 46 0 99 0 99 0 99 0"/><path d="M2706 879l59-4 59-8 60-23 59-33 59-29 59-26 59-23 59-10 60 9 59 21 59 22 59 19 59 19 59 15 60 14 59 8 59-16 23-9 22-11 21-13 22-13 22-9 22-10 21-9 22-1 22 10 22 33 22 65 21 100 22 107 22 78 22 43 21 19 22 8 22 3 22 1 22 1 21 0 22 0 46 0 99 0 99 0 99 0"/><path d="M2706 932l59-4 59-7 60-21 59-28 59-25 59-22 59-19 59-8 60 11 59 22 59 23 59 24 59 25 59 26 60 28 59 28 59 18 23 7 22 7 21 6 22 7 22 8 22 7 21 6 22 9 22 13 22 18 22 25 21 31 22 32 22 25 22 14 21 6 22 2 22 1 22 0 22 0 21 0 22 0 46 0 99 0 99 0 99 0"/><path d="M2706 815l59-3 59-7 60-25 59-34 59-30 59-23 59-16 59 4 60 34 59 54 59 65 59 72 59 74 59 69 60 57 59 43 59 26 23 8 22 6 21 5 22 5 22 4 22 4 21 3 22 3 22 3 22 2 22 2 21 2 22 2 22 2 22 1 21 0 22 0 22 0 22 0 22 0 21 0 22 0 46 0 99 0 99 0 99 0"/><path d="M2706 872l59-2 59-7 60-22 59-30 59-28 59-24 59-22 59-9 60 11 59 22 59 22 59 21 59 19 59 17 60 14 59-7 59-72 23-31 22-21 21-4 22 14 22 32 22 45 21 64 22 90 22 97 22 79 22 47 21 23 22 10 22 4 22 2 21 1 22 0 22 0 22 0 22 0 21 0 22 0 46 0 99 0 99 0 99 0"/><path d="M2706 860l59-4 59-9 60-25 59-35 59-31 59-27 59-24 59-10 60 11 59 24 59 26 59 25 59 26 59 26 60 26 59 25 59 9 23 2 22 1 21 1 22 1 22 6 22 9 21 14 22 21 22 24 22 31 22 37 21 46 22 51 22 45 22 26 21 12 22 5 22 1 22 1 22 0 21 0 22 0 46 0 99 0 99 0 99 0"/><path d="M2706 826l59-2 59-8 60-25 59-35 59-32 59-27 59-25 59-10 60 12 59 25 59 25 59 23 59 22 59 19 60 16 59 10 59-23 23-15 22-19 21-13 22 3 22 48 22 104 21 134 22 105 22 54 22 22 22 9 21 3 22 1 22 0 22 0 21 0 22 0 22 0 22 0 22 0 21 0 22 0 46 0 99 0 99 0 99 0"/><path d="M2706 955l59-5 59-9 60-23 59-30 59-27 59-24 59-22 59-10 60 7 59 16 59 19 59 17 59 19 59 20 60 23 59 24 59 15 23 8 22 8 21 9 22 11 22 14 22 16 21 16 22 18 22 19 22 20 22 24 21 27 22 28 22 23 22 13 21 5 22 2 22 1 22 0 22 0 21 0 22 0 46 0 99 0 99 0 99 0"/><path d="M2706 869l59-1 59-6 60-21 59-30 59-27 59-23 59-21 59-8 60 12 59 22 59 24 59 22 59 22 59 22 60 24 59 25 59 15 23 10 22 9 21 12 22 15 22 20 22 23 21 25 22 27 22 28 22 28 22 28 21 27 22 25 22 17 22 8 21 4 22 1 22 0 22 0 22 0 21 0 22 0 46 0 99 0 99 0 99 0"/><path d="M2706 934l59 1 59-4 60-15 59-22 59-20 59-16 59-15 59-4 60 12 59 20 59 22 59 23 59 23 59 25 60 27 59 28 59 19 23 7 22 6 21 8 22 9 22 13 22 15 21 14 22 15 22 14 22 15 22 15 21 17 22 16 22 13 22 7 21 4 22 1 22 0 22 0 22 0 21 0 22 0 46 0 99 0 99 0 99 0"/><path d="M2706 921l59-2 59-7 60-20 59-28 59-25 59-22 59-20 59-9 60 9 59 18 59 19 59 17 59 17 59 14 60 12 59 5 59-27 23-17 22-20 21-16 22-10 22 2 22 10 21 17 22 25 22 36 22 52 22 64 21 67 22 56 22 39 22 23 21 13 22 7 22 4 22 1 22 1 21 1 22 0 46 0 99 0 99 0 99 0"/><path d="M2706 869l59-3 59-7 60-23 59-32 59-28 59-22 59-19 59-3 60 22 59 36 59 44 59 49 59 55 59 58 60 56 59 47 59 30 23 10 22 9 21 9 22 9 22 10 22 8 21 7 22 6 22 5 22 5 22 4 21 5 22 5 22 3 22 2 21 1 22 0 22 0 22 0 22 0 21 0 22 0 46 0 99 0 99 0 99 0"/><path d="M2706 883l59-5 59-9 60-26 59-35 59-32 59-27 59-26 59-11 60 10 59 22 59 24 59 25 59 29 59 34 60 43 59 47 59 35 23 15 22 17 21 21 22 25 22 26 22 24 21 22 22 18 22 15 22 14 22 12 21 12 22 11 22 8 22 4 21 1 22 1 22 0 22 0 22 0 21 0 22 0 46 0 99 0 99 0 99 0"/><path d="M2706 884l59-6 59-11 60-28 59-37 59-34 59-29 59-28 59-13 60 8 59 19 59 20 59 18 59 17 59 14 60 12 59 1 59-39 23-19 22-19 21-13 22-8 22 2 22 4 21 5 22 10 22 17 22 38 22 69 21 98 22 106 22 80 22 47 21 23 22 11 22 5 22 2 22 1 21 0 22 0 46 0 99 0 99 0 99 0"/><path d="M2706 917l59-5 59-10 60-25 59-34 59-30 59-26 59-24 59-11 60 9 59 21 59 22 59 22 59 22 59 23 60 25 59 23 59 8 23 3 22 0 21 0 22 2 22 9 22 12 21 16 22 20 22 22 22 26 22 30 21 39 22 44 22 38 22 22 21 11 22 4 22 1 22 1 22 0 21 0 22 0 46 0 99 0 99 0 99 0"/><path d="M2706 884l59-4 59-8 60-23 59-32 59-29 59-25 59-23 59-11 60 10 59 20 59 21 59 20 59 18 59 15 60 14 59 8 59-17 23-8 22-12 21-12 22-13 22-8 22-7 21-3 22 5 22 15 22 32 22 54 21 76 22 86 22 75 22 51 21 29 22 15 22 8 22 3 22 2 21 1 22 0 46 0 99 0 99 0 99 0"/><path d="M2706 897l59-2 59-5 60-20 59-28 59-25 59-21 59-20 59-7 60 10 59 20 59 21 59 20 59 18 59 16 60 14 59 8 59-23 23-16 22-21 21-21 22-16 22-2 22 10 21 24 22 37 22 50 22 64 22 68 21 62 22 47 22 30 22 18 21 9 22 6 22 2 22 2 22 0 21 1 22 0 46 0 99 0 99 0 99 0"/><path d="M2706 874l59-5 59-8 60-25 59-34 59-29 59-24 59-19 59-1 60 24 59 44 59 53 59 61 59 67 59 65 60 58 59 43 59 28 23 8 22 7 21 6 22 5 22 4 22 4 21 3 22 3 22 3 22 2 22 3 21 2 22 2 22 2 22 1 21 0 22 0 22 0 22 0 22 0 21 0 22 0 46 0 99 0 99 0 99 0"/><path d="M2706 872l59-4 59-9 60-25 59-34 59-31 59-27 59-25 59-11 60 10 59 22 59 22 59 22 59 21 59 20 60 22 59 20 59 4 23 4 22 2 21 6 22 7 22 14 22 17 21 19 22 23 22 26 22 31 22 38 21 45 22 49 22 40 22 22 21 10 22 3 22 2 22 0 22 0 21 0 22 0 46 0 99 0 99 0 99 0"/><path d="M2706 897l59-8 59-12 60-29 59-38 59-34 59-31 59-28 59-15 60 7 59 18 59 18 59 17 59 16 59 13 60 11 59 4 59-21 23-10 22-14 21-13 22-15 22-12 22-14 21-15 22-11 22-3 22 15 22 37 21 63 22 88 22 99 22 89 21 66 22 43 22 23 22 13 22 7 21 3 22 2 46 1 99 0 99 0 99 0"/><path d="M2706 894l59-4 59-8 60-25 59-32 59-30 59-25 59-24 59-11 60 9 59 20 59 21 59 19 59 19 59 18 60 18 59 17 59 1 23 2 22 2 21 4 22 7 22 13 22 16 21 19 22 23 22 26 22 32 22 38 21 46 22 49 22 38 22 21 21 9 22 4 22 1 22 0 22 0 21 0 22 0 46 0 99 0 99 0 99 0"/><path d="M2706 838l59-3 59-8 60-26 59-35 59-32 59-27 59-25 59-11 60 12 59 23 59 24 59 22 59 21 59 18 60 16 59 10 59-18 23-9 22-12 21-12 22-12 22-7 22-5 21 1 22 17 22 47 22 94 22 123 21 102 22 59 22 26 22 10 21 4 22 1 22 1 22 0 22 0 21 0 22 0 46 0 99 0 99 0 99 0"/><path d="M2706 879l59-2 59-6 60-21 59-29 59-27 59-23 59-21 59-8 60 11 59 21 59 23 59 20 59 19 59 17 60 15 59 9 59-16 23-9 22-11 21-11 22-10 22-2 22 5 21 18 22 46 22 83 22 103 22 80 21 43 22 19 22 8 22 3 21 1 22 0 22 0 22 0 22 0 21 0 22 0 46 0 99 0 99 0 99 0"/><path d="M2706 929l59-6 59-9 60-25 59-32 59-30 59-26 59-24 59-12 60 7 59 17 59 17 59 16 59 14 59 12 60 11 59-1 59-52 23-32 22-31 21-22 22-8 22 10 22 19 21 26 22 34 22 48 22 75 22 95 21 88 22 60 22 32 22 15 21 7 22 3 22 1 22 1 22 0 21 0 22 0 46 0 99 0 99 0 99 0"/><path d="M2706 930l59-4 59-8 60-22 59-29 59-27 59-24 59-21 59-10 60 7 59 17 59 18 59 17 59 15 59 13 60 11 59 6 59-15 23-7 22-9 21-8 22-7 22-1 22 3 21 11 22 27 22 45 22 62 22 69 21 59 22 44 22 28 22 17 21 9 22 5 22 3 22 1 22 1 21 1 22 0 46 0 99 0 99 0 99 0"/><path d="M2706 898l30-2 31-2 30-3 31-5 30-10 31-15 30-16 31-16 30-15 31-12 30-12 31-11 30-12 31-9 30-8 46 3 82 21 83 26 82 23 82 21 82 16"/><path d="M2706 888l30-1 31-1 30-3 31-5 30-10 31-16 30-18 31-19 30-19 31-17 30-17 31-16 30-16 31-12 30-9 46 6 82 35 83 38 82 31 82 24 82 16"/><path d="M2706 850l30 4 31 3 30 1 31-2 30-8 31-13 30-15 31-17 30-17 31-14 30-15 31-15 30-14 31-11 30-8 46 7 82 34 83 38 82 30 82 24 82 17"/><path d="M2706 860l30 4 31 3 30 0 31-1 30-8 31-12 30-14 31-15 30-13 31-11 30-11 31-11 30-11 31-9 30-7 46 4 82 23 83 27 82 24 82 22 82 15"/><path d="M2706 874l30 0 31 0 30-2 31-3 30-10 31-15 30-16 31-18 30-18 31-15 30-15 31-15 30-15 31-11 30-8 46 6 82 32 83 37 82 30 82 24 82 16"/><path d="M2706 837l30 2 31 3 30 0 31-2 30-9 31-14 30-16 31-18 30-18 31-17 30-17 31-16 30-16 31-11 30-8 46 8 82 41 83 46 82 35 82 26 82 18"/><path d="M2706 793l30 9 31 7 30 5 31 2 30-5 31-10 30-13 31-15 30-14 31-13 30-14 31-13 30-13 31-9 30-7 46 9 82 38 83 42 82 33 82 25 82 18"/><path d="M2706 794l30 6 31 5 30 3 31 1 30-5 31-9 30-11 31-11 30-11 31-7 30-8 31-8 30-8 31-6 30-5 46 7 82 25 83 28 82 26 82 24 82 19"/><path d="M2706 792l30 14 31 12 30 8 31 5 30-2 31-8 30-10 31-11 30-11 31-8 30-9 31-9 30-10 31-7 30-7 46 6 82 24 83 27 82 25 82 22 82 16"/><path d="M2706 891l30-1 31-2 30-3 31-5 30-10 31-15 30-17 31-18 30-17 31-14 30-15 31-14 30-14 31-10 30-9 46 5 82 28 83 33 82 27 82 23 82 16"/><path d="M2706 887l30-1 31-1 30-2 31-5 30-10 31-15 30-17 31-18 30-18 31-15 30-15 31-15 30-14 31-11 30-9 46 5 82 31 83 35 82 28 82 23 82 16"/><path d="M2706 859l30 3 31 2 30 0 31-2 30-8 31-14 30-16 31-17 30-17 31-15 30-16 31-15 30-14 31-11 30-8 46 6 82 34 83 38 82 30 82 24 82 16"/><path d="M2706 885l30-1 31-2 30-2 31-5 30-10 31-14 30-16 31-17 30-16 31-13 30-13 31-13 30-12 31-10 30-8 46 4 82 26 83 30 82 26 82 23 82 16"/><path d="M2706 837l30 7 31 6 30 3 31 1 30-7 31-11 30-15 31-16 30-15 31-14 30-14 31-13 30-14 31-10 30-8 46 6 82 32 83 36 82 29 82 23 82 16"/><path d="M2706 820l30 6 31 6 30 3 31 1 30-6 31-10 30-13 31-14 30-13 31-11 30-11 31-11 30-12 31-8 30-7 46 7 82 29 83 33 82 28 82 23 82 17"/><path d="M2706 879l30 1 31 0 30-1 31-4 30-9 31-14 30-16 31-18 30-16 31-14 30-14 31-14 30-14 31-10 30-9 46 5 82 29 83 33 82 27 82 23 82 16"/><path d="M2706 853l30 1 31 1 30-1 31-3 30-10 31-14 30-16 31-17 30-17 31-15 30-16 31-15 30-14 31-11 30-7 46 6 82 36 83 39 82 32 82 25 82 17"/><path d="M2706 843l30 4 31 3 30 1 31-1 30-8 31-13 30-14 31-16 30-16 31-13 30-14 31-14 30-13 31-10 30-8 46 7 82 33 83 36 82 30 82 24 82 17"/><path d="M2706 823l30 5 31 3 30 2 31-1 30-8 31-14 30-16 31-19 30-19 31-17 30-19 31-18 30-17 31-12 30-8 46 10 82 46 83 51 82 37 82 28 82 17"/><path d="M2706 791l30 11 31 11 30 6 31 4 30-2 31-9 30-11 31-12 30-12 31-10 30-11 31-10 30-11 31-8 30-7 46 7 82 30 83 33 82 28 82 23 82 17"/><path d="M2706 790l30 15 31 12 30 8 31 5 30-3 31-9 30-11 31-14 30-14 31-12 30-13 31-12 30-13 31-9 30-8 46 7 82 33 83 37 82 30 82 24 82 16"/><path d="M2706 827l30 3 31 3 30 0 31-1 30-9 31-13 30-16 31-18 30-19 31-16 30-17 31-17 30-16 31-12 30-8 46 9 82 44 83 47 82 37 82 26 82 18"/><path d="M2706 861l30 1 31 0 30-1 31-4 30-9 31-16 30-17 31-20 30-19 31-18 30-19 31-17 30-17 31-13 30-8 46 7 82 42 83 46 82 35 82 25 82 17"/><path d="M2706 856l30 0 31 1 30-2 31-3 30-9 31-14 30-16 31-17 30-16 31-14 30-15 31-14 30-13 31-10 30-8 46 6 82 33 83 37 82 30 82 24 82 18"/><path d="M2706 890l30-1 31-2 30-3 31-5 30-11 31-15 30-18 31-18 30-18 31-15 30-15 31-15 30-15 31-11 30-8 46 5 82 30 83 35 82 29 82 23 82 16"/><path d="M2706 897l30-1 31-2 30-4 31-5 30-11 31-16 30-17 31-19 30-17 31-16 30-15 31-15 30-14 31-11 30-9 46 5 82 29 83 34 82 28 82 23 82 16"/><path d="M2706 836l30 3 31 3 30 0 31-1 30-7 31-12 30-14 31-15 30-14 31-12 30-11 31-12 30-11 31-9 30-7 46 6 82 29 83 33 82 28 82 24 82 17"/><path d="M2706 789l30 14 31 12 30 8 31 4 30-3 31-8 30-12 31-14 30-15 31-12 30-14 31-13 30-13 31-10 30-8 46 8 82 35 83 39 82 31 82 24 82 17"/><path d="M2706 882l30 0 31-1 30-3 31-4 30-10 31-15 30-16 31-17 30-16 31-14 30-14 31-13 30-13 31-10 30-9 46 5 82 28 83 32 82 27 82 23 82 16"/><path d="M2706 857l30 2 31 2 30 0 31-2 30-8 31-13 30-14 31-15 30-13 31-11 30-11 31-11 30-11 31-8 30-8 46 5 82 25 83 28 82 25 82 23 82 16"/><path d="M2706 814l30 11 31 8 30 5 31 3 30-5 31-10 30-13 31-14 30-14 31-12 30-13 31-12 30-13 31-9 30-8 46 7 82 31 83 35 82 28 82 24 82 16"/><path d="M2706 775l30 7 31 6 30 3 31 2 30-4 31-10 30-11 31-13 30-13 31-10 30-10 31-11 30-10 31-7 30-6 46 9 82 34 83 38 82 31 82 27 82 18"/><path d="M2706 834l30 4 31 3 30 2 31-1 30-8 31-13 30-15 31-17 30-17 31-15 30-16 31-15 30-15 31-11 30-8 46 8 82 39 83 42 82 33 82 25 82 17"/><path d="M2706 881l30 0 31 0 30-3 31-3 30-10 31-15 30-15 31-18 30-16 31-13 30-14 31-13 30-13 31-10 30-8 46 5 82 27 83 32 82 26 82 23 82 16"/><path d="M2706 845l30 3 31 2 30 0 31-2 30-8 31-13 30-16 31-16 30-16 31-14 30-15 31-14 30-13 31-10 30-8 46 7 82 34 83 38 82 30 82 25 82 17"/><path d="M2706 822l30 4 31 3 30 1 31-1 30-6 31-12 30-14 31-15 30-14 31-12 30-12 31-12 30-11 31-9 30-7 46 7 82 32 83 36 82 30 82 24 82 18"/><path d="M2706 832l30 7 31 6 30 4 31 1 30-6 31-10 30-13 31-14 30-13 31-10 30-11 31-11 30-11 31-9 30-7 46 5 82 26 83 29 82 26 82 22 82 16"/><path d="M2706 826l30 2 31 2 30 0 31-2 30-8 31-12 30-15 31-16 30-15 31-13 30-14 31-13 30-13 31-9 30-7 46 7 82 35 83 38 82 31 82 26 82 18"/><path d="M2706 847l30 3 31 2 30 0 31-2 30-9 31-13 30-16 31-18 30-17 31-15 30-15 31-15 30-15 31-11 30-8 46 8 82 36 83 40 82 32 82 25 82 17"/><path d="M2706 776l30 6 31 5 30 2 31 1 30-5 31-10 30-13 31-13 30-14 31-10 30-11 31-11 30-11 31-8 30-6 46 9 82 36 83 39 82 32 82 27 82 20"/><path d="M2706 889l30-1 31-1 30-3 31-5 30-11 31-16 30-18 31-20 30-19 31-17 30-17 31-17 30-16 31-13 30-9 46 6 82 36 83 40 82 31 82 24 82 16"/><path d="M2706 896l30-1 31-2 30-4 31-5 30-11 31-16 30-17 31-19 30-17 31-15 30-16 31-14 30-15 31-11 30-9 46 5 82 30 83 34 82 28 82 22 82 16"/><path d="M2706 823l30 3 31 3 30 1 31-2 30-8 31-13 30-15 31-18 30-17 31-16 30-16 31-16 30-15 31-11 30-8 46 9 82 42 83 45 82 36 82 26 82 18"/><path d="M2706 835l30 4 31 3 30 1 31-1 30-8 31-13 30-16 31-18 30-18 31-17 30-17 31-16 30-16 31-12 30-8 46 9 82 41 83 45 82 35 82 26 82 17"/><path d="M2706 884l30 0 31-1 30-2 31-4 30-11 31-14 30-17 31-18 30-17 31-15 30-15 31-15 30-14 31-11 30-9 46 6 82 30 83 35 82 28 82 23 82 16"/><path d="M2706 893l30-2 31-1 30-4 31-5 30-10 31-16 30-16 31-18 30-17 31-15 30-14 31-14 30-13 31-11 30-9 46 5 82 28 83 32 82 27 82 23 82 16"/><path d="M2706 829l30 4 31 4 30 1 31-1 30-7 31-12 30-15 31-15 30-16 31-13 30-14 31-13 30-13 31-10 30-7 46 7 82 35 83 38 82 31 82 25 82 17"/><path d="M2706 862l30 1 31 0 30-2 31-4 30-10 31-15 30-17 31-19 30-19 31-16 30-17 31-17 30-15 31-12 30-9 46 8 82 37 83 43 82 33 82 25 82 17"/><path d="M2706 835l30 3 31 3 30 0 31-1 30-7 31-12 30-14 31-15 30-14 31-11 30-12 31-11 30-11 31-9 30-7 46 7 82 29 83 32 82 28 82 24 82 17"/><path d="M2706 855l30 3 31 2 30 0 31-2 30-9 31-14 30-16 31-19 30-18 31-17 30-17 31-16 30-16 31-12 30-9 46 8 82 38 83 43 82 33 82 25 82 17"/><path d="M2706 899l30-2 31-2 30-3 31-6 30-11 31-15 30-18 31-18 30-18 31-14 30-15 31-15 30-14 31-11 30-9 46 5 82 28 83 33 82 27 82 23 82 16"/><path d="M2706 777l30 13 31 11 30 7 31 5 30-3 31-8 30-11 31-12 30-13 31-11 30-12 31-11 30-12 31-8 30-7 46 8 82 35 83 37 82 31 82 24 82 17"/><path d="M2706 872l30 1 31 1 30-2 31-3 30-9 31-15 30-16 31-18 30-17 31-15 30-15 31-15 30-14 31-11 30-8 46 6 82 32 83 36 82 29 82 24 82 16"/><path d="M2706 846l30 4 31 3 30 2 31-1 30-7 31-11 30-13 31-14 30-13 31-10 30-10 31-10 30-11 31-8 30-7 46 5 82 24 83 27 82 24 82 22 82 16"/><path d="M2706 811l30 5 31 4 30 3 31 0 30-7 31-11 30-14 31-15 30-15 31-13 30-14 31-13 30-13 31-9 30-7 46 8 82 37 83 40 82 32 82 26 82 18"/><path d="M2706 813l30 10 31 7 30 5 31 2 30-5 31-9 30-12 31-14 30-13 31-10 30-11 31-11 30-11 31-9 30-7 46 7 82 28 83 32 82 27 82 23 82 16"/><path d="M2706 837l30 2 31 1 30 0 31-1 30-8 31-11 30-13 31-13 30-12 31-8 30-9 31-8 30-9 31-7 30-6 46 5 82 21 83 26 82 24 82 22 82 18"/><path d="M2706 859l30 0 31 1 30-2 31-3 30-10 31-15 30-17 31-18 30-18 31-17 30-16 31-16 30-16 31-11 30-9 46 8 82 37 83 42 82 33 82 25 82 18"/><path d="M2706 854l30 4 31 3 30 0 31-1 30-7 31-13 30-14 31-16 30-15 31-13 30-13 31-12 30-12 31-10 30-8 46 5 82 29 83 32 82 27 82 23 82 16"/><path d="M2706 817l30 10 31 8 30 4 31 2 30-5 31-12 30-14 31-16 30-17 31-15 30-16 31-15 30-15 31-12 30-8 46 8 82 38 83 43 82 33 82 24 82 17"/></g>
<g transform="scale(.1)" fill="none" stroke="#0000ff" stroke-width="6" stroke-opacity="0.1"><path d="M2706 94l20 3 20 12 20 21 20 29 19 34 20 39 20 43 20 40 20 42 20 42 20 40 20 39 19 36 20 34 20 31 20 28 20 23 20 20 20 15 20 12 19 10 20 9 20 6 46 22 82 39 83 33 82 26 82 22 82 16"/><path d="M2706 90l20 0 20 0 20 0 20 0 19 0 20 44 20 54 20 52 20 54 20 54 20 51 20 48 19 44 20 41 20 37 20 32 20 27 20 22 20 18 20 13 19 10 20 9 20 6 46 21 82 37 83 32 82 26 82 22 82 16"/><path d="M2706 90l20 0 20 0 20 0 20 0 19 0 20 0 20 35 20 43 20 46 20 47 20 46 20 46 19 43 20 42 20 40 20 37 20 32 20 29 20 24 20 21 19 18 20 15 20 13 46 34 82 53 83 39 82 28 82 23 82 16"/><path d="M2706 90l20 0 20 0 20 0 20 0 19 0 20 14 20 40 20 38 20 41 20 42 20 41 20 41 19 40 20 40 20 38 20 35 20 31 20 28 20 25 20 21 19 19 20 16 20 14 46 38 82 58 83 41 82 30 82 23 82 16"/><path d="M2706 90l20 0 20 0 20 0 20 0 19 0 20 39 20 54 20 51 20 54 20 53 20 51 20 48 19 44 20 42 20 37 20 33 20 27 20 23 20 18 20 13 19 12 20 8 20 7 46 22 82 38 83 32 82 26 82 22 82 16"/><path d="M2706 90l20 0 20 0 20 7 20 26 19 31 20 36 20 39 20 38 20 39 20 40 20 40 20 38 19 36 20 36 20 34 20 30 20 26 20 24 20 19 20 16 19 14 20 12 20 10 46 29 82 48 83 36 82 28 82 22 82 16"/><path d="M2706 111l20 3 20 11 20 19 20 25 19 30 20 36 20 38 20 36 20 39 20 38 20 38 20 36 19 34 20 33 20 32 20 27 20 24 20 21 20 17 20 14 19 11 20 10 20 8 46 26 82 43 83 35 82 27 82 22 82 16"/><path d="M2706 104l20 3 20 9 20 17 20 23 19 27 20 32 20 34 20 33 20 35 20 36 20 35 20 35 19 33 20 34 20 31 20 29 20 26 20 22 20 20 20 16 19 15 20 13 20 10 46 31 82 51 83 39 82 28 82 23 82 16"/><path d="M2706 90l46 0 45 175 46 201 46 159 46 125 45 99 46 79 46 61 46 49 45 39 46 31 46 24 45 19 46 15 46 12 46 9 45 8 46 6 46 4 45 4 46 3 46 2 46 2 45 2 46 1 46 1 46 0 45 1 46 0 46 1 45 0 46 0 46 0 46 0 45 1 46 0 46 0 46 0 45 0 46 0"/><path d="M2706 286l46 110 45 97 46 86 46 76 46 66 45 59 46 52 46 46 46 41 45 35 46 32 46 28 45 24 46 22 46 19 46 17 45 15 46 13 46 12 45 10 46 9 46 8 46 7 45 6 46 6 46 5 46 4 45 4 46 3 46 3 45 3 46 2 46 2 46 2 45 1 46 2 46 1 46 1 45 1 46 1"/><path d="M2706 584l46 41 45 39 46 36 46 34 46 31 45 30 46 27 46 26 46 24 45 23 46 21 46 20 45 18 46 18 46 16 46 15 45 14 46 13 46 13 45 12 46 10 46 11 46 9 45 9 46 8 46 8 46 7 45 7 46 7 46 5 45 6 46 5 46 5 46 5 45 4 46 4 46 4 46 3 45 3 46 4"/><path d="M2706 887l46-3 45-5 46-8 46-23 46-25 45-25 46-20 46-19 46-19 45-13 46 4 46 11 45-32 46-155 46 102 46 137 45 26 46 13 46 14 45 13 46 15 46 6 46 19 45 39 46 65 46 69 46 60 45 41 46 25 46 13 45 7 46 4 46 2 46 1 45 1 46 0 46 0 46 0 45 0 46 0"/><path d="M2706 887l46-3 45-5 46-8 46-23 46-25 45-25 46-20 46-19 46-19 45-13 46 4 46 12 45 16 46 16 46 16 46 11 45-37 46-81 46 109 45 64 46 18 46 6 46 19 45 39 46 65 46 69 46 60 45 41 46 25 46 13 45 7 46 4 46 2 46 1 45 1 46 0 46 0 46 0 45 0 46 0"/><path d="M2706 887l46-3 45-5 46-9 46-27 46-42 45-63 46-60 46-19 46 21 45 25 46 21 46 17 45 16 46 16 46 16 46 14 45 15 46 13 46 14 45 13 46 15 46 6 46 19 45 39 46 65 46 69 46 60 45 41 46 25 46 13 45 7 46 4 46 2 46 1 45 1 46 0 46 0 46 0 45 0 46 0"/><path d="M2706 854l46-3 45-5 46-8 46-24 46-26 45-24 46-18 46-14 46-10 45 1 46 24 46 37 45 47 46 53 46 56 46 54 45 52 46 45 46 38 45 28 46 21 46 13 46 10 45 7 46 6 46 4 46 3 45 2 46 2 46 0 45 1 46 0 46 1 46 0 45 0 46 0 46 0 46 0 45 0 46 0"/><path d="M2706 819l46-3 45-6 46-10 46-27 46-30 45-29 46-23 46-21 46-20 45-12 46 10 46 21 45 28 46 33 46 35 46 40 45 45 46 48 46 51 45 50 46 47 46 35 46 31 45 27 46 24 46 19 46 14 45 10 46 7 46 5 45 3 46 2 46 1 46 1 45 1 46 0 46 1 46 0 45 0 46 0"/><path d="M2706 923l46-1 45-3 46-5 46-17 46-16 45-13 46-5 46 2 46 11 45 22 46 41 46 49 45 49 46 46 46 38 46 31 45 23 46 16 46 12 45 8 46 5 46 3 46 3 45 1 46 2 46 0 46 1 45 0 46 1 46 0 45 0 46 0 46 0 46 0 45 0 46 0 46 0 46 0 45 0 46 0"/></g>
<g transform="scale(.1)" fill="none" stroke="#0000ff" stroke-width="6" stroke-opacity="0.07"><path d="M2706 486l20 17 20 15 20 16 20 14 19 11 20 12 20 9 20 3 20 3 20 2 20 0 20-1 19 0 20 0 20 1 20 1 20 0 20 0 20 0 20-1 19 1 20 1 20 1 46 19 82 47 83 47 82 41 82 35 82 26"/><path d="M2706 324l20 33 20 30 20 29 20 26 19 24 20 21 20 19 20 12 20 11 20 10 20 7 20 6 19 5 20 6 20 6 20 5 20 4 20 3 20 3 20 3 19 3 20 4 20 3 46 23 82 52 83 50 82 42 82 35 82 25"/><path d="M2706 483l20 25 20 22 20 21 20 20 19 16 20 16 20 13 20 6 20 6 20 4 20 2 20 1 19 1 20 2 20 2 20 1 20 0 20 1 20 0 20-1 19 0 20 1 20 1 46 17 82 44 83 44 82 36 82 31 82 22"/><path d="M2706 389l20 32 20 30 20 28 20 26 19 22 20 20 20 18 20 11 20 9 20 8 20 6 20 4 19 4 20 4 20 4 20 4 20 2 20 2 20 2 20 1 19 2 20 2 20 2 46 20 82 47 83 45 82 38 82 32 82 23"/><path d="M2706 303l20 25 20 24 20 23 20 21 19 18 20 18 20 16 20 9 20 8 20 8 20 5 20 5 19 4 20 5 20 5 20 5 20 4 20 4 20 3 20 3 19 4 20 4 20 5 46 24 82 57 83 56 82 48 82 40 82 31"/></g>
<g transform="scale(.1)" fill="none" stroke="#0000ff" stroke-width="6" stroke-opacity="0.055"><path d="M3483 816l18 4 19 5 18 4 18 5 18 4 18 3 19 3 18 2 18 2 18 1 18-7 18-6 19-7 18-8 18-11 18-11 18-13 18-12 19-10 18-6 18 0 18 16 18 36 18 61 19 82 18 86 18 72 18 50 18 30 19 16 18 9 18 4 18 3 18 1 18 0 19 1 18 0 18 0 18 0"/><path d="M3483 816l18 4 19 5 18 4 18 5 18 4 18 3 19 3 18 2 18 2 18 1 18-7 18-7 19-8 18-13 18-19 18-26 18-31 18-26 19-2 18 51 18 142 18 180 18 99 18 32 19 8 18 2 18 1 18 0 18 0 19 0 18 0 18 0 18 0 18 0 18 0 19 0 18 0 18 0 18 0"/><path d="M3483 816l18 4 19 5 18 4 18 5 18 4 18 3 19 3 18 2 18 2 18 1 18-7 18-6 19-7 18-11 18-17 18-27 18-36 18-27 19 6 18 61 18 110 18 122 18 95 18 58 19 31 18 16 18 8 18 4 18 2 19 0 18 1 18 0 18 0 18 0 18 0 19 0 18 0 18 0 18 0"/><path d="M3483 816l18 4 19 5 18 4 18 5 18 4 18 3 19 3 18 2 18 2 18-1 18-9 18-11 19-15 18-19 18-25 18-23 18-16 18 5 19 36 18 75 18 109 18 110 18 79 18 44 19 21 18 10 18 4 18 2 18 1 19 0 18 0 18 0 18 0 18 0 18 0 19 0 18 0 18 0 18 0"/><path d="M3483 816l18 4 19 5 18 4 18 5 18 4 18 3 19 3 18 2 18 2 18 1 18-7 18-7 19-8 18-10 18-16 18-20 18-23 18-14 19 17 18 84 18 153 18 133 18 63 18 22 19 6 18 2 18 1 18 0 18 0 19 0 18 0 18 0 18 0 18 0 18 0 19 0 18 0 18 0 18 0"/><path d="M3483 816l18 4 19 5 18 4 18 5 18 4 18 3 19 3 18 2 18 2 18-1 18-8 18-11 19-16 18-21 18-30 18-34 18-31 18-6 19 50 18 130 18 164 18 114 18 50 18 18 19 6 18 2 18 1 18 0 18 0 19 0 18 0 18 0 18 0 18 0 18 0 19 0 18 0 18 0 18 0"/><path d="M3483 816l18 4 19 5 18 4 18 5 18 4 18 3 19 3 18 2 18 2 18 1 18-7 18-6 19-7 18-7 18-10 18-11 18-13 18-12 19-11 18-11 18-7 18 3 18 16 18 42 19 87 18 126 18 109 18 59 18 24 19 8 18 3 18 1 18 0 18 0 18 0 19 0 18 0 18 0 18 0"/><path d="M3483 816l18 4 19 5 18 4 18 5 18 4 18 3 19 3 18 2 18 2 18 1 18-7 18-7 19-8 18-11 18-17 18-22 18-26 18-24 19-10 18 16 18 54 18 92 18 106 18 93 19 65 18 38 18 21 18 12 18 5 19 3 18 2 18 0 18 1 18 0 18 0 19 0 18 0 18 0 18 0"/><path d="M3483 816l18 4 19 5 18 4 18 5 18 4 18 3 19 3 18 2 18 2 18 0 18-8 18-10 19-13 18-18 18-22 18-24 18-20 18-5 19 22 18 55 18 88 18 101 18 89 18 63 19 38 18 20 18 11 18 5 18 2 19 2 18 0 18 1 18 0 18 0 18 0 19 0 18 0 18 0 18 0"/><path d="M3483 816l18 4 19 5 18 4 18 5 18 4 18 3 19 3 18 2 18 2 18 1 18-8 18-8 19-9 18-15 18-20 18-24 18-24 18-10 19 23 18 79 18 131 18 127 18 77 18 35 19 14 18 5 18 2 18 1 18 0 19 0 18 0 18 0 18 0 18 0 18 0 19 0 18 0 18 0 18 0"/><path d="M3483 816l18 4 19 5 18 4 18 5 18 4 18 3 19 3 18 2 18 2 18 1 18-7 18-7 19-10 18-16 18-27 18-38 18-44 18-29 19 17 18 87 18 151 18 147 18 89 18 40 19 15 18 5 18 2 18 1 18 0 19 0 18 0 18 0 18 0 18 0 18 0 19 0 18 0 18 0 18 0"/><path d="M3483 816l18 4 19 5 18 4 18 5 18 4 18 4 19 2 18 2 18 3 18 1 18-6 18-5 19-5 18-2 18 2 18 14 18 36 18 62 19 77 18 72 18 54 18 35 18 19 18 11 19 5 18 3 18 2 18 0 18 1 19 0 18 0 18 0 18 0 18 0 18 0 19 0 18 0 18 0 18 0"/><path d="M3483 816l18 4 19 5 18 4 18 5 18 4 18 3 19 3 18 2 18 2 18 1 18-7 18-6 19-7 18-9 18-13 18-16 18-22 18-24 19-24 18-15 18 12 18 63 18 123 18 145 19 100 18 48 18 18 18 7 18 2 19 1 18 0 18 0 18 0 18 0 18 0 19 0 18 0 18 0 18 0"/><path d="M3483 816l18 4 19 5 18 4 18 5 18 4 18 3 19 3 18 2 18 2 18 1 18-7 18-7 19-8 18-11 18-16 18-19 18-22 18-21 19-15 18-4 18 12 18 42 18 80 18 116 19 116 18 76 18 38 18 16 18 6 19 3 18 1 18 0 18 0 18 0 18 0 19 0 18 0 18 0 18 0"/><path d="M3483 816l18 4 19 5 18 4 18 5 18 4 18 3 19 3 18 2 18 2 18 1 18-6 18-7 19-6 18-6 18-8 18-7 18-7 18-2 19 14 18 44 18 77 18 93 18 78 18 53 19 31 18 17 18 9 18 5 18 2 19 1 18 1 18 0 18 0 18 0 18 0 19 0 18 0 18 0 18 0"/><path d="M3483 816l18 4 19 5 18 4 18 5 18 4 18 3 19 3 18 2 18 2 18 1 18-7 18-8 19-9 18-12 18-19 18-22 18-25 18-21 19-9 18 10 18 44 18 88 18 118 18 111 19 73 18 37 18 16 18 7 18 2 19 1 18 1 18 0 18 0 18 0 18 0 19 0 18 0 18 0 18 0"/><path d="M3483 816l18 4 19 5 18 4 18 5 18 4 18 3 19 3 18 2 18 2 18 1 18-7 18-7 19-7 18-10 18-15 18-21 18-26 18-28 19-21 18-4 18 34 18 90 18 133 18 125 19 78 18 37 18 15 18 6 18 3 19 1 18 0 18 0 18 0 18 0 18 0 19 0 18 0 18 0 18 0"/><path d="M3483 816l18 4 19 5 18 4 18 5 18 4 18 3 19 3 18 2 18 2 18 1 18-7 18-6 19-7 18-7 18-10 18-11 18-15 18-16 19-10 18 13 18 67 18 130 18 133 18 76 19 31 18 10 18 4 18 1 18 0 19 0 18 0 18 0 18 0 18 0 18 0 19 0 18 0 18 0 18 0"/><path d="M3483 816l18 4 19 5 18 4 18 5 18 4 18 3 19 3 18 2 18 2 18 1 18-7 18-6 19-7 18-7 18-10 18-14 18-22 18-32 19-39 18-30 18 7 18 61 18 104 18 117 19 100 18 71 18 43 18 24 18 12 19 6 18 2 18 2 18 0 18 1 18 0 19 0 18 0 18 0 18 0"/><path d="M3483 816l18 4 19 5 18 4 18 5 18 4 18 3 19 3 18 2 18 2 18 1 18-7 18-6 19-7 18-7 18-9 18-10 18-11 18-12 19-15 18-22 18-24 18-15 18 3 18 34 19 76 18 118 18 128 18 90 18 45 19 17 18 7 18 2 18 1 18 0 18 0 19 0 18 0 18 0 18 0"/><path d="M3483 816l18 4 19 5 18 4 18 5 18 4 18 3 19 3 18 2 18 2 18 1 18-7 18-6 19-7 18-7 18-10 18-10 18-12 18-13 19-14 18-15 18-8 18 8 18 29 18 55 19 77 18 86 18 79 18 61 18 40 19 24 18 12 18 7 18 4 18 1 18 1 19 1 18 0 18 0 18 0"/><path d="M3483 816l18 4 19 5 18 4 18 5 18 4 18 3 19 3 18 2 18 2 18 0 18-7 18-8 19-9 18-13 18-18 18-24 18-29 18-30 19-29 18-23 18-10 18 13 18 43 18 76 19 105 18 111 18 94 18 63 18 36 19 18 18 9 18 5 18 2 18 1 18 1 19 0 18 0 18 0 18 0"/><path d="M3483 816l18 4 19 5 18 4 18 5 18 4 18 3 19 3 18 2 18 2 18 1 18-7 18-6 19-7 18-7 18-9 18-11 18-13 18-17 19-20 18-16 18 12 18 61 18 109 18 123 19 93 18 52 18 23 18 10 18 4 19 1 18 1 18 0 18 0 18 0 18 0 19 0 18 0 18 0 18 0"/><path d="M3483 816l18 4 19 5 18 4 18 5 18 4 18 3 19 3 18 2 18 2 18 1 18-7 18-7 19-10 18-17 18-28 18-38 18-28 18 25 19 134 18 199 18 111 18 32 18 8 18 2 19 0 18 0 18 0 18 0 18 0 19 0 18 0 18 0 18 0 18 0 18 0 19 0 18 0 18 0 18 0"/><path d="M3483 816l18 4 19 5 18 4 18 5 18 4 18 3 19 3 18 2 18 2 18 0 18-7 18-7 19-10 18-13 18-18 18-23 18-27 18-28 19-24 18-18 18-2 18 28 18 93 18 176 19 160 18 70 18 20 18 5 18 2 19 0 18 0 18 0 18 0 18 0 18 0 19 0 18 0 18 0 18 0"/><path d="M3483 816l18 4 19 5 18 4 18 5 18 4 18 3 19 3 18 2 18 2 18 0 18-7 18-8 19-9 18-12 18-17 18-18 18-20 18-15 19-7 18 7 18 28 18 56 18 80 18 91 19 83 18 61 18 38 18 22 18 12 19 6 18 3 18 1 18 1 18 1 18 0 19 0 18 0 18 0 18 0"/><path d="M3483 816l18 4 19 5 18 4 18 5 18 4 18 3 19 3 18 2 18 2 18 1 18-7 18-7 19-8 18-11 18-18 18-21 18-16 18 2 19 29 18 56 18 83 18 96 18 84 18 55 19 31 18 15 18 7 18 4 18 1 19 1 18 0 18 0 18 0 18 0 18 0 19 0 18 0 18 0 18 0"/><path d="M3483 816l18 4 19 5 18 4 18 5 18 4 18 3 19 3 18 2 18 2 18 1 18-7 18-7 19-8 18-10 18-15 18-19 18-24 18-25 19-23 18-20 18-7 18 15 18 47 18 91 19 126 18 119 18 78 18 38 18 16 19 7 18 2 18 1 18 1 18 0 18 0 19 0 18 0 18 0 18 0"/><path d="M3483 816l18 4 19 5 18 4 18 5 18 4 18 3 19 3 18 2 18 2 18 1 18-7 18-6 19-7 18-7 18-10 18-11 18-12 18-12 19-14 18-17 18-16 18-11 18-1 18 20 19 51 18 89 18 117 18 106 18 67 19 33 18 14 18 6 18 3 18 0 18 1 19 0 18 0 18 0 18 0"/><path d="M3483 816l18 4 19 5 18 4 18 5 18 4 18 3 19 3 18 2 18 2 18 1 18-7 18-6 19-7 18-7 18-9 18-10 18-11 18-14 19-18 18-25 18-22 18 1 18 41 18 87 19 111 18 101 18 73 18 45 18 25 19 14 18 7 18 3 18 2 18 1 18 1 19 0 18 0 18 0 18 0"/><path d="M3483 816l18 4 19 5 18 4 18 5 18 4 18 3 19 3 18 2 18 2 18 1 18-7 18-7 19-8 18-10 18-14 18-17 18-23 18-26 19-29 18-31 18-31 18-21 18-9 18 16 19 67 18 154 18 200 18 119 18 40 19 10 18 2 18 1 18 0 18 0 18 0 19 0 18 0 18 0 18 0"/><path d="M3483 816l18 4 19 5 18 4 18 5 18 4 18 3 19 3 18 2 18 2 18 0 18-7 18-8 19-9 18-10 18-13 18-12 18-10 18-1 19 15 18 40 18 74 18 99 18 92 18 63 19 35 18 16 18 7 18 4 18 1 19 1 18 0 18 0 18 0 18 0 18 0 19 0 18 0 18 0 18 0"/><path d="M3483 816l18 4 19 5 18 4 18 5 18 4 18 3 19 3 18 2 18 2 18 1 18-7 18-6 19-7 18-8 18-11 18-11 18-13 18-13 19-13 18-15 18-14 18-11 18-7 18 1 19 14 18 43 18 112 18 174 18 116 19 39 18 10 18 2 18 1 18 0 18 0 19 0 18 0 18 0 18 0"/><path d="M3483 816l18 4 19 5 18 4 18 5 18 4 18 3 19 3 18 2 18 2 18 1 18-6 18-7 19-8 18-10 18-15 18-13 18-3 18 24 19 61 18 89 18 93 18 73 18 46 18 25 19 14 18 7 18 3 18 2 18 0 19 1 18 0 18 0 18 0 18 0 18 0 19 0 18 0 18 0 18 0"/><path d="M3483 816l18 4 19 5 18 4 18 5 18 4 18 3 19 3 18 2 18 2 18 1 18-7 18-6 19-7 18-7 18-9 18-11 18-12 18-16 19-24 18-35 18-41 18-31 18-4 18 37 19 77 18 103 18 111 18 99 18 71 19 43 18 23 18 12 18 5 18 3 18 1 19 1 18 0 18 0 18 0"/><path d="M3483 816l18 4 19 5 18 4 18 5 18 4 18 3 19 3 18 2 18 2 18 1 18-7 18-6 19-7 18-8 18-9 18-11 18-11 18-9 19-9 18-8 18-7 18-2 18 5 18 20 19 54 18 101 18 127 18 93 18 44 19 17 18 6 18 2 18 1 18 0 18 0 19 0 18 0 18 0 18 0"/><path d="M3483 816l18 4 19 5 18 4 18 5 18 4 18 3 19 3 18 2 18 2 18 0 18-8 18-12 19-17 18-26 18-36 18-38 18-26 18 12 19 77 18 148 18 155 18 93 18 37 18 12 19 4 18 2 18 0 18 0 18 0 19 0 18 0 18 0 18 0 18 0 18 0 19 0 18 0 18 0 18 0"/><path d="M3483 816l18 4 19 5 18 4 18 5 18 4 18 3 19 3 18 2 18 2 18 1 18-7 18-6 19-7 18-7 18-9 18-9 18-10 18-11 19-17 18-32 18-44 18-32 18 9 18 69 19 116 18 132 18 110 18 70 18 35 19 15 18 7 18 2 18 1 18 1 18 0 19 0 18 0 18 0 18 0"/><path d="M3483 816l18 4 19 5 18 4 18 5 18 4 18 3 19 3 18 2 18 2 18 1 18-7 18-6 19-7 18-7 18-10 18-11 18-13 18-14 19-18 18-23 18-26 18-21 18-11 18 10 19 42 18 95 18 158 18 143 18 70 19 23 18 6 18 2 18 1 18 0 18 0 19 0 18 0 18 0 18 0"/><path d="M3483 816l18 4 19 5 18 4 18 5 18 4 18 3 19 3 18 2 18 2 18 1 18-7 18-6 19-6 18-8 18-9 18-13 18-18 18-21 19-11 18 22 18 77 18 115 18 109 18 74 19 40 18 20 18 10 18 4 18 2 19 1 18 1 18 0 18 0 18 0 18 0 19 0 18 0 18 0 18 0"/><path d="M3483 816l18 4 19 5 18 4 18 5 18 4 18 3 19 3 18 2 18 2 18 0 18-7 18-7 19-10 18-12 18-18 18-22 18-27 18-28 19-25 18-18 18-3 18 22 18 56 18 97 19 121 18 109 18 75 18 40 18 19 19 8 18 4 18 2 18 1 18 0 18 0 19 0 18 0 18 0 18 0"/><path d="M3483 816l18 4 19 5 18 4 18 5 18 4 18 3 19 3 18 2 18 2 18 1 18-7 18-6 19-7 18-8 18-12 18-15 18-21 18-24 19-23 18-14 18 8 18 41 18 73 18 98 19 103 18 82 18 53 18 29 18 14 19 6 18 4 18 1 18 1 18 0 18 0 19 0 18 0 18 0 18 0"/><path d="M3483 816l18 4 19 5 18 4 18 5 18 4 18 3 19 3 18 2 18 2 18 1 18-7 18-8 19-11 18-18 18-27 18-30 18-19 18 12 19 54 18 89 18 102 18 89 18 63 18 40 19 22 18 12 18 7 18 3 18 1 19 1 18 1 18 0 18 0 18 0 18 0 19 0 18 0 18 0 18 0"/><path d="M3483 816l18 4 19 5 18 4 18 5 18 4 18 3 19 3 18 2 18 2 18 1 18-7 18-6 19-7 18-7 18-11 18-12 18-15 18-10 19 6 18 38 18 85 18 113 18 97 18 60 19 29 18 14 18 5 18 2 18 1 19 1 18 0 18 0 18 0 18 0 18 0 19 0 18 0 18 0 18 0"/><path d="M3483 816l18 4 19 5 18 4 18 5 18 4 18 3 19 3 18 2 18 2 18 1 18-7 18-6 19-8 18-10 18-16 18-22 18-29 18-26 19-8 18 24 18 67 18 101 18 107 18 87 19 56 18 32 18 17 18 9 18 4 19 2 18 1 18 1 18 0 18 0 18 0 19 0 18 0 18 0 18 0"/><path d="M3483 816l18 4 19 5 18 4 18 5 18 4 18 3 19 3 18 2 18 1 18-1 18-9 18-12 19-14 18-16 18-15 18-1 18 22 18 58 19 89 18 96 18 76 18 50 18 27 18 15 19 7 18 3 18 2 18 0 18 1 19 0 18 0 18 0 18 0 18 0 18 0 19 0 18 0 18 0 18 0"/><path d="M3483 816l18 4 19 5 18 4 18 5 18 4 18 3 19 3 18 2 18 2 18 1 18-7 18-6 19-7 18-9 18-13 18-16 18-19 18-19 19-11 18 9 18 44 18 88 18 112 18 99 19 66 18 34 18 17 18 8 18 3 19 2 18 1 18 0 18 0 18 0 18 0 19 0 18 0 18 0 18 0"/><path d="M3483 816l18 4 19 5 18 4 18 5 18 4 18 3 19 3 18 2 18 2 18 1 18-7 18-7 19-11 18-16 18-24 18-25 18-13 18 20 19 64 18 96 18 101 18 80 18 53 18 30 19 17 18 9 18 5 18 2 18 1 19 1 18 0 18 0 18 0 18 0 18 0 19 0 18 0 18 0 18 0"/><path d="M3483 816l18 4 19 5 18 4 18 5 18 4 18 3 19 3 18 2 18 2 18 1 18-6 18-6 19-8 18-13 18-20 18-16 18 8 18 55 19 99 18 106 18 79 18 48 18 25 18 13 19 6 18 3 18 2 18 0 18 1 19 0 18 0 18 0 18 0 18 0 18 0 19 0 18 0 18 0 18 0"/><path d="M3483 816l18 4 19 5 18 4 18 5 18 4 18 3 19 3 18 2 18 2 18 0 18-9 18-12 19-18 18-26 18-37 18-41 18-36 18-18 19 8 18 39 18 88 18 156 18 161 18 83 19 28 18 8 18 2 18 1 18 0 19 0 18 0 18 0 18 0 18 0 18 0 19 0 18 0 18 0 18 0"/><path d="M3483 816l18 4 19 5 18 4 18 5 18 4 18 3 19 3 18 2 18 2 18 1 18-6 18-7 19-7 18-9 18-9 18 2 18 28 18 69 19 97 18 91 18 62 18 34 18 17 18 8 19 3 18 2 18 1 18 0 18 0 19 0 18 0 18 0 18 0 18 0 18 0 19 0 18 0 18 0 18 0"/><path d="M3483 816l18 4 19 5 18 4 18 5 18 4 18 3 19 3 18 2 18 2 18 1 18-7 18-6 19-7 18-7 18-9 18-9 18-10 18-8 19-9 18-16 18-22 18-21 18-1 18 51 19 114 18 141 18 107 18 56 18 24 19 9 18 4 18 1 18 1 18 0 18 0 19 0 18 0 18 0 18 0"/><path d="M3483 816l18 4 19 5 18 4 18 5 18 4 18 3 19 3 18 2 18 2 18 1 18-7 18-6 19-7 18-8 18-11 18-17 18-24 18-26 19-2 18 71 18 164 18 151 18 68 18 22 19 6 18 1 18 1 18 0 18 0 19 0 18 0 18 0 18 0 18 0 18 0 19 0 18 0 18 0 18 0"/><path d="M3483 816l18 4 19 5 18 4 18 5 18 4 18 3 19 3 18 2 18 2 18 0 18-7 18-8 19-9 18-11 18-14 18-13 18-7 18 9 19 32 18 61 18 84 18 87 18 70 18 47 19 27 18 14 18 8 18 3 18 2 19 1 18 1 18 0 18 0 18 0 18 0 19 0 18 0 18 0 18 0"/><path d="M3483 816l18 4 19 5 18 4 18 5 18 4 18 3 19 3 18 2 18 2 18 1 18-7 18-7 19-7 18-8 18-12 18-14 18-16 18-15 19-13 18-9 18 4 18 27 18 55 18 84 19 98 18 85 18 59 18 35 18 19 19 9 18 5 18 2 18 1 18 1 18 0 19 0 18 0 18 0 18 0"/></g>
<g transform="scale(.1)" fill="none" stroke="#0000ff" stroke-width="8" stroke-opacity="0.14"><path d="M3438 802l22 7 23 7 23 2 23 2 23 0 23 0 23-2 22-4 23-4 23-5 23-7 23-6 23-5 23-3 23 0 22 0 23 0 23 1 23 2 23 3 23 7 23 12 22 25 23 42 23 63 23 78 23 75 23 57 23 36 22 19 23 11 23 5 23 3 23 1 23 1"/><path d="M3438 802l22 7 23 7 23 5 23 4 23 3 23 2 23 0 22-1 23-2 23-3 23-5 23-3 23-3 23-1 23 0 22 0 23 1 23 0 23 1 23 2 23 8 23 21 22 53 23 96 23 109 23 72 23 32 23 12 23 4 22 1 23 1 23 0 23 0 23 0 23 0"/><path d="M3438 802l22 7 23 7 23 2 23 1 23 1 23 0 23-3 22-3 23-4 23-5 23-6 23-3 23 0 23 5 23 16 22 27 23 41 23 57 23 68 23 66 23 55 23 38 22 24 23 14 23 8 23 5 23 2 23 2 23 0 22 1 23 0 23 0 23 0 23 0 23 0"/><path d="M3438 802l22 7 23 7 23 1 23 1 23 0 23-1 23-3 22-4 23-5 23-5 23-7 23-5 23-1 23 5 23 16 22 28 23 46 23 66 23 75 23 71 23 53 23 35 22 20 23 11 23 6 23 3 23 2 23 0 23 1 22 0 23 0 23 0 23 0 23 0 23 0"/><path d="M3438 802l22 7 23 7 23 13 23 13 23 12 23 11 23 9 22 7 23 8 23 6 23 3 23 5 23 7 23 8 23 0 22 0 23 0 23 0 23 0 23 2 23 3 23 10 22 24 23 50 23 75 23 70 23 42 23 19 23 8 22 3 23 1 23 0 23 0 23 0 23 0"/><path d="M3438 802l22 7 23 7 23 3 23 3 23 2 23 1 23-1 22-2 23-3 23-4 23-6 23-5 23-3 23-2 23 0 22 1 23 2 23 3 23 7 23 15 23 27 23 47 22 69 23 79 23 70 23 48 23 29 23 15 23 7 22 4 23 2 23 0 23 1 23 0 23 0"/><path d="M3438 802l22 7 23 7 23 1 23 0 23-1 23-2 23-4 22-5 23-6 23-6 23-9 23-8 23-6 23-5 23 0 22 0 23 1 23 1 23 3 23 7 23 17 23 38 22 74 23 103 23 98 23 63 23 32 23 14 23 5 22 3 23 1 23 0 23 0 23 0 23 0"/><path d="M3438 802l22 7 23 7 23 3 23 3 23 2 23 1 23-1 22-2 23-3 23-4 23-6 23-5 23-3 23-2 23 0 22 1 23 1 23 2 23 4 23 8 23 16 23 27 22 46 23 64 23 73 23 67 23 50 23 31 23 17 22 9 23 5 23 3 23 1 23 0 23 1"/><path d="M3438 802l22 7 23 7 23 1 23 0 23-1 23-1 23-4 22-5 23-5 23-7 23-9 23-7 23-6 23-5 23 1 22 2 23 6 23 24 23 67 23 132 23 129 23 66 22 22 23 7 23 1 23 1 23 0 23 0 23 0 22 0 23 0 23 0 23 0 23 0 23 0"/><path d="M3438 802l22 7 23 7 23 1 23 1 23 0 23-1 23-3 22-4 23-5 23-6 23-8 23-6 23-5 23-3 23 2 22 3 23 5 23 8 23 12 23 20 23 28 23 40 22 50 23 56 23 56 23 50 23 39 23 28 23 19 22 12 23 8 23 5 23 3 23 1 23 1"/><path d="M3438 802l22 7 23 7 23 4 23 3 23 2 23 1 23 0 22-2 23-3 23-3 23-6 23-4 23-4 23-1 23 0 22 0 23 0 23 0 23 0 23 2 23 3 23 9 22 24 23 53 23 93 23 104 23 74 23 36 23 15 22 6 23 2 23 1 23 0 23 0 23 0"/><path d="M3438 802l22 7 23 7 23 6 23 6 23 5 23 4 23 2 22 1 23 1 23-1 23-3 23-2 23-1 23 1 23 1 22 0 23 1 23 4 23 8 23 19 23 41 23 71 22 89 23 75 23 45 23 21 23 9 23 4 23 1 22 1 23 0 23 0 23 0 23 0 23 0"/><path d="M3438 802l22 7 23 7 23 2 23 1 23 0 23-1 23-3 22-4 23-4 23-6 23-8 23-7 23-5 23-4 23 1 22 1 23 2 23 4 23 10 23 22 23 45 23 73 22 94 23 85 23 56 23 30 23 14 23 6 23 3 22 1 23 1 23 0 23 0 23 0 23 0"/><path d="M3438 802l22 7 23 7 23 13 23 12 23 11 23 10 23 8 22 7 23 7 23 5 23 3 23 5 23 6 23 7 23 2 22 2 23 5 23 9 23 19 23 32 23 50 23 58 22 54 23 38 23 23 23 12 23 6 23 2 23 2 22 1 23 0 23 0 23 0 23 0 23 0"/><path d="M3438 802l22 7 23 7 23-1 23-2 23-3 23-4 23-6 22-7 23-8 23-9 23-11 23-9 23-9 23-6 23 0 22 1 23 2 23 4 23 7 23 13 23 24 23 40 22 59 23 76 23 79 23 67 23 47 23 29 23 17 22 9 23 5 23 2 23 2 23 0 23 1"/><path d="M3438 802l22 7 23 7 23-13 23-13 23-14 23-16 23-17 22-18 23-19 23-20 23-23 23-21 23-19 23-18 23 1 22 3 23 5 23 13 23 25 23 51 23 86 23 118 22 120 23 91 23 54 23 28 23 14 23 6 23 3 22 1 23 1 23 0 23 0 23 0 23 0"/><path d="M3438 802l22 7 23 7 23 3 23 2 23 1 23 1 23-2 22-2 23-3 23-4 23-6 23-4 23-1 23 4 23 11 22 19 23 31 23 47 23 61 23 67 23 62 23 47 22 31 23 19 23 12 23 6 23 3 23 2 23 1 22 0 23 1 23 0 23 0 23 0 23 0"/><path d="M3438 802l22 7 23 7 23-5 23-6 23-6 23-8 23-10 22-10 23-12 23-12 23-15 23-13 23-12 23-11 23 0 22 0 23 0 23 1 23 0 23 2 23 5 23 10 22 24 23 50 23 86 23 114 23 104 23 68 23 36 22 17 23 7 23 3 23 1 23 1 23 0"/><path d="M3438 802l22 7 23 7 23-7 23-7 23-8 23-9 23-11 22-12 23-13 23-14 23-16 23-15 23-13 23-11 23 3 22 6 23 12 23 26 23 49 23 80 23 105 23 102 22 74 23 45 23 23 23 11 23 5 23 2 23 1 22 1 23 0 23 0 23 0 23 0 23 0"/><path d="M3438 802l22 7 23 7 23-4 23-5 23-5 23-7 23-8 22-10 23-10 23-10 23-13 23-10 23-8 23-3 23 9 22 14 23 22 23 33 23 44 23 56 23 64 23 64 22 56 23 45 23 33 23 23 23 15 23 9 23 6 22 3 23 3 23 1 23 1 23 0 23 1"/><path d="M3438 802l22 7 23 7 23 7 23 7 23 6 23 5 23 3 22 1 23 2 23 0 23-2 23-1 23 0 23 2 23 0 22 0 23 0 23 0 23 1 23 1 23 3 23 8 22 19 23 41 23 71 23 88 23 72 23 42 23 19 22 9 23 3 23 1 23 1 23 0 23 0"/><path d="M3438 802l22 7 23 7 23 8 23 7 23 7 23 5 23 4 22 2 23 2 23 0 23-1 23 0 23 1 23 3 23 0 22 1 23 2 23 3 23 6 23 8 23 15 23 23 22 33 23 44 23 51 23 50 23 44 23 33 23 23 22 14 23 9 23 5 23 3 23 2 23 1"/><path d="M3438 802l22 7 23 7 23 1 23 1 23 0 23-1 23-4 22-4 23-5 23-6 23-8 23-7 23-6 23-4 23 0 22 1 23 1 23 3 23 8 23 17 23 39 23 71 22 98 23 94 23 63 23 32 23 15 23 6 23 2 22 1 23 1 23 0 23 0 23 0 23 0"/><path d="M3438 802l22 7 23 7 23 5 23 4 23 3 23 2 23 0 22-1 23-1 23-3 23-5 23-3 23-2 23-1 23 0 22 0 23 0 23 0 23 0 23 1 23 2 23 5 22 17 23 44 23 88 23 113 23 81 23 38 23 15 22 5 23 1 23 1 23 0 23 0 23 0"/><path d="M3438 802l22 7 23 7 23-9 23-9 23-10 23-11 23-13 22-15 23-14 23-16 23-19 23-17 23-15 23-14 23 0 22 0 23 2 23 5 23 18 23 55 23 125 23 171 22 121 23 50 23 17 23 5 23 1 23 1 23 0 22 0 23 0 23 0 23 0 23 0 23 0"/><path d="M3438 802l22 7 23 7 23 2 23 2 23 0 23 0 23-3 22-3 23-4 23-5 23-8 23-6 23-5 23-3 23 0 22 1 23 2 23 3 23 8 23 16 23 29 23 51 22 74 23 83 23 71 23 48 23 28 23 15 23 7 22 3 23 2 23 0 23 1 23 0 23 0"/><path d="M3438 802l22 7 23 7 23 5 23 4 23 4 23 2 23 0 22 0 23-1 23-3 23-4 23-4 23-1 23 0 23 3 22 8 23 21 23 47 23 84 23 100 23 77 23 40 22 17 23 6 23 3 23 1 23 0 23 0 23 0 22 0 23 0 23 0 23 0 23 0 23 0"/><path d="M3438 802l22 7 23 7 23 3 23 2 23 1 23 1 23-2 22-3 23-2 23-4 23-5 23-2 23 2 23 6 23 15 22 23 23 35 23 46 23 55 23 58 23 53 23 43 22 31 23 20 23 13 23 8 23 5 23 3 23 2 22 1 23 0 23 1 23 0 23 0 23 0"/><path d="M3438 802l22 7 23 7 23-6 23-6 23-7 23-8 23-10 22-11 23-11 23-13 23-15 23-14 23-12 23-11 23 1 22 1 23 3 23 6 23 10 23 18 23 32 23 51 22 72 23 86 23 83 23 66 23 45 23 27 23 15 22 8 23 4 23 3 23 1 23 0 23 1"/><path d="M3438 802l22 7 23 7 23 0 23 0 23-2 23-2 23-5 22-5 23-5 23-6 23-7 23-4 23 0 23 6 23 18 22 27 23 39 23 51 23 60 23 61 23 54 23 44 22 31 23 20 23 14 23 8 23 5 23 3 23 2 22 1 23 0 23 1 23 0 23 0 23 0"/><path d="M3438 802l22 7 23 7 23 14 23 14 23 13 23 11 23 10 22 9 23 8 23 8 23 6 23 7 23 10 23 14 23 7 22 13 23 18 23 27 23 34 23 39 23 39 23 33 22 26 23 18 23 12 23 8 23 4 23 3 23 2 22 1 23 0 23 1 23 0 23 0 23 0"/><path d="M3438 802l22 7 23 7 23-4 23-4 23-6 23-6 23-8 22-10 23-10 23-10 23-13 23-11 23-8 23-5 23 7 22 12 23 20 23 31 23 45 23 61 23 70 23 70 22 60 23 46 23 32 23 20 23 13 23 7 23 4 22 3 23 1 23 1 23 0 23 1 23 0"/><path d="M3438 802l22 7 23 7 23 5 23 4 23 3 23 2 23 0 22-1 23-1 23-2 23-3 23-1 23 3 23 8 23 14 22 22 23 34 23 46 23 55 23 58 23 51 23 40 22 28 23 18 23 11 23 6 23 4 23 2 23 1 22 1 23 1 23 0 23 0 23 0 23 0"/><path d="M3438 802l22 7 23 7 23 4 23 4 23 2 23 2 23-1 22-1 23-2 23-3 23-6 23-4 23-3 23-1 23 1 22 3 23 9 23 22 23 55 23 97 23 108 23 72 22 32 23 13 23 4 23 1 23 1 23 0 23 0 22 0 23 0 23 0 23 0 23 0 23 0"/><path d="M3438 802l22 7 23 7 23 4 23 4 23 2 23 2 23-1 22-1 23-2 23-4 23-5 23-4 23-3 23-1 23 1 22 2 23 4 23 8 23 15 23 29 23 48 23 69 22 76 23 66 23 45 23 27 23 14 23 7 23 4 22 2 23 0 23 1 23 0 23 0 23 0"/><path d="M3438 802l22 7 23 7 23 5 23 5 23 4 23 2 23 1 22 0 23-1 23-2 23-5 23-3 23-1 23 0 23 0 22 1 23 1 23 3 23 5 23 10 23 16 23 28 22 43 23 58 23 64 23 59 23 46 23 30 23 18 22 10 23 6 23 3 23 1 23 1 23 1"/><path d="M3438 802l22 7 23 7 23 2 23 2 23 0 23 0 23-2 22-4 23-4 23-5 23-7 23-6 23-5 23-4 23 0 22 0 23 0 23 0 23 1 23 1 23 3 23 14 22 48 23 120 23 145 23 77 23 25 23 6 23 2 22 0 23 0 23 0 23 0 23 0 23 0"/><path d="M3438 802l22 7 23 7 23 0 23-1 23-2 23-3 23-5 22-6 23-6 23-8 23-10 23-8 23-8 23-5 23 0 22 1 23 1 23 1 23 3 23 5 23 9 23 14 22 23 23 36 23 49 23 61 23 66 23 61 23 48 22 35 23 23 23 15 23 8 23 5 23 3"/><path d="M3438 802l22 7 23 7 23-7 23-8 23-9 23-10 23-12 22-13 23-13 23-15 23-16 23-16 23-14 23-12 23 1 22 2 23 3 23 5 23 9 23 14 23 25 23 37 22 54 23 69 23 78 23 74 23 62 23 45 23 30 22 19 23 11 23 7 23 4 23 2 23 1"/><path d="M3438 802l22 7 23 7 23 7 23 7 23 6 23 4 23 3 22 2 23 1 23 0 23-3 23-1 23 1 23 2 23 0 22 1 23 1 23 3 23 4 23 7 23 12 23 19 22 29 23 41 23 49 23 53 23 49 23 39 23 28 22 18 23 11 23 7 23 4 23 2 23 1"/><path d="M3438 802l22 7 23 7 23 2 23 2 23 1 23 0 23-3 22-3 23-4 23-5 23-7 23-6 23-5 23-3 23 1 22 0 23 2 23 6 23 12 23 30 23 60 23 93 22 100 23 71 23 37 23 17 23 7 23 2 23 1 22 1 23 0 23 0 23 0 23 0 23 0"/><path d="M3438 802l22 7 23 7 23 1 23 0 23 0 23-2 23-3 22-5 23-5 23-6 23-9 23-6 23-5 23-2 23 5 22 8 23 15 23 24 23 38 23 53 23 66 23 68 22 59 23 44 23 29 23 18 23 11 23 6 23 3 22 2 23 1 23 0 23 1 23 0 23 0"/><path d="M3438 802l22 7 23 7 23-6 23-7 23-8 23-9 23-11 22-12 23-13 23-13 23-16 23-15 23-13 23-12 23 1 22 2 23 5 23 12 23 29 23 63 23 107 23 128 22 100 23 55 23 25 23 10 23 5 23 1 23 1 22 0 23 0 23 0 23 0 23 0 23 0"/><path d="M3438 802l22 7 23 7 23-3 23-4 23-5 23-6 23-8 22-9 23-10 23-11 23-13 23-11 23-11 23-8 23 1 22 3 23 7 23 18 23 39 23 75 23 110 23 110 22 76 23 39 23 18 23 7 23 3 23 1 23 1 22 0 23 0 23 0 23 0 23 0 23 0"/><path d="M3438 802l22 7 23 7 23-8 23-8 23-10 23-10 23-13 22-13 23-14 23-16 23-17 23-16 23-15 23-13 23 0 22 0 23 1 23 1 23 2 23 4 23 8 23 16 22 28 23 49 23 73 23 92 23 94 23 76 23 52 22 31 23 17 23 9 23 4 23 3 23 1"/><path d="M3438 802l22 7 23 7 23 6 23 5 23 4 23 4 23 1 22 0 23 0 23-2 23-4 23-2 23-1 23 1 23 1 22 2 23 4 23 5 23 10 23 15 23 24 23 35 22 46 23 54 23 54 23 47 23 36 23 25 23 15 22 10 23 6 23 3 23 2 23 2 23 0"/><path d="M3438 802l22 7 23 7 23-3 23-4 23-4 23-6 23-8 22-8 23-10 23-10 23-13 23-11 23-10 23-8 23 1 22 3 23 9 23 26 23 64 23 118 23 133 23 88 22 39 23 15 23 5 23 2 23 1 23 0 23 0 22 0 23 0 23 0 23 0 23 0 23 0"/><path d="M3438 802l22 7 23 7 23 4 23 3 23 2 23 1 23-1 22-1 23-3 23-3 23-6 23-5 23-2 23 0 23 5 22 13 23 33 23 71 23 106 23 97 23 56 23 25 22 9 23 3 23 1 23 1 23 0 23 0 23 0 22 0 23 0 23 0 23 0 23 0 23 0"/><path d="M3438 802l22 7 23 7 23-3 23-3 23-5 23-5 23-7 22-8 23-8 23-8 23-9 23-6 23-1 23 5 23 22 22 32 23 44 23 57 23 63 23 64 23 55 23 44 22 31 23 21 23 13 23 8 23 5 23 3 23 2 22 1 23 1 23 0 23 1 23 0 23 0"/><path d="M3438 802l22 7 23 7 23-3 23-3 23-4 23-5 23-7 22-8 23-9 23-10 23-12 23-10 23-10 23-7 23 1 22 1 23 2 23 3 23 6 23 10 23 14 23 23 22 34 23 46 23 57 23 64 23 62 23 53 23 41 22 29 23 19 23 13 23 7 23 5 23 3"/><path d="M3438 802l22 7 23 7 23-2 23-2 23-3 23-4 23-6 22-7 23-8 23-9 23-11 23-10 23-8 23-8 23 1 22 0 23 1 23 3 23 6 23 14 23 31 23 60 22 95 23 105 23 82 23 48 23 23 23 11 23 4 22 2 23 1 23 0 23 0 23 0 23 0"/><path d="M3438 802l22 7 23 7 23 8 23 7 23 6 23 6 23 3 22 2 23 2 23 1 23-2 23 0 23 1 23 3 23 1 22 2 23 3 23 6 23 10 23 16 23 24 23 35 22 46 23 52 23 50 23 42 23 31 23 21 23 14 22 8 23 5 23 2 23 2 23 1 23 0"/><path d="M3438 802l22 7 23 7 23 9 23 8 23 8 23 7 23 4 22 4 23 3 23 1 23 0 23 1 23 3 23 6 23 4 22 7 23 14 23 25 23 39 23 54 23 61 23 55 22 41 23 25 23 14 23 8 23 4 23 2 23 1 22 1 23 0 23 0 23 0 23 0 23 0"/><path d="M3438 802l22 7 23 7 23-1 23-1 23-2 23-3 23-6 22-6 23-6 23-8 23-10 23-8 23-7 23-3 23 3 22 7 23 11 23 17 23 27 23 40 23 53 23 63 22 64 23 57 23 45 23 31 23 20 23 13 23 8 22 5 23 2 23 2 23 1 23 0 23 1"/><path d="M3438 802l22 7 23 7 23 3 23 2 23 1 23 1 23-2 22-3 23-2 23-4 23-5 23-2 23 2 23 8 23 16 22 26 23 39 23 50 23 59 23 60 23 51 23 39 22 27 23 18 23 10 23 6 23 4 23 2 23 1 22 1 23 1 23 0 23 0 23 0 23 0"/><path d="M3438 802l22 7 23 7 23 5 23 5 23 4 23 4 23 0 22 0 23 0 23-2 23-4 23-3 23-1 23 0 23 1 22 1 23 1 23 3 23 5 23 7 23 13 23 21 22 30 23 43 23 52 23 55 23 51 23 40 23 29 22 20 23 12 23 7 23 4 23 3 23 1"/><path d="M3438 802l22 7 23 7 23 2 23 1 23 1 23-1 23-3 22-4 23-4 23-5 23-8 23-6 23-5 23-4 23 0 22 0 23 0 23 0 23 1 23 2 23 6 23 19 22 52 23 103 23 125 23 83 23 36 23 12 23 4 22 2 23 0 23 0 23 0 23 0 23 0"/><path d="M3438 802l22 7 23 7 23-3 23-3 23-4 23-5 23-7 22-9 23-8 23-9 23-11 23-9 23-6 23-1 23 11 22 19 23 30 23 44 23 58 23 68 23 69 23 60 22 45 23 31 23 20 23 12 23 7 23 4 23 3 22 1 23 1 23 0 23 1 23 0 23 0"/><path d="M3438 802l22 7 23 7 23 6 23 6 23 5 23 4 23 1 22 1 23 0 23-1 23-3 23-1 23 0 23 3 23 4 22 7 23 14 23 25 23 39 23 55 23 65 23 61 22 48 23 31 23 18 23 10 23 5 23 3 23 2 22 0 23 1 23 0 23 0 23 0 23 0"/><path d="M3438 802l22 7 23 7 23 6 23 6 23 5 23 4 23 2 22 1 23 1 23-1 23-3 23-2 23 0 23 2 23 2 22 4 23 8 23 16 23 29 23 48 23 65 23 70 22 59 23 40 23 23 23 12 23 6 23 3 23 2 22 0 23 1 23 0 23 0 23 0 23 0"/><path d="M3438 802l22 7 23 7 23-4 23-5 23-6 23-6 23-9 22-10 23-10 23-11 23-13 23-12 23-10 23-6 23 7 22 15 23 28 23 51 23 79 23 97 23 90 23 65 22 39 23 21 23 10 23 5 23 2 23 1 23 1 22 0 23 0 23 0 23 0 23 0 23 0"/><path d="M3438 802l22 7 23 7 23 3 23 2 23 1 23 0 23-2 22-3 23-3 23-5 23-6 23-5 23-2 23 0 23 4 22 8 23 12 23 18 23 28 23 37 23 48 23 54 22 55 23 48 23 38 23 28 23 19 23 12 23 8 22 5 23 3 23 1 23 1 23 1 23 0"/><path d="M3438 802l22 7 23 7 23 5 23 4 23 3 23 2 23 0 22-1 23-2 23-2 23-5 23-3 23 0 23 2 23 7 22 14 23 27 23 46 23 67 23 77 23 67 23 46 22 27 23 15 23 7 23 3 23 2 23 0 23 1 22 0 23 0 23 0 23 0 23 0 23 0"/><path d="M3438 802l22 7 23 7 23-3 23-4 23-5 23-6 23-7 22-9 23-9 23-10 23-12 23-10 23-7 23-3 23 10 22 17 23 28 23 41 23 57 23 69 23 72 23 63 22 50 23 34 23 22 23 13 23 8 23 4 23 3 22 1 23 1 23 0 23 1 23 0 23 0"/><path d="M3438 802l22 7 23 7 23 2 23 1 23 0 23-1 23-2 22-4 23-4 23-5 23-7 23-4 23 0 23 4 23 15 22 24 23 39 23 55 23 67 23 68 23 57 23 42 22 26 23 16 23 9 23 5 23 3 23 1 23 1 22 1 23 0 23 0 23 0 23 0 23 0"/><path d="M3438 802l22 7 23 7 23-1 23-1 23-2 23-3 23-5 22-7 23-7 23-8 23-10 23-9 23-7 23-6 23 0 22 0 23 0 23 0 23 0 23 0 23 1 23 3 22 7 23 23 23 55 23 106 23 126 23 89 23 41 22 16 23 5 23 2 23 1 23 0 23 0"/><path d="M3438 802l22 7 23 7 23 10 23 9 23 8 23 7 23 5 22 4 23 4 23 2 23 0 23 2 23 3 23 4 23 1 22 1 23 2 23 3 23 5 23 9 23 14 23 23 22 33 23 43 23 49 23 48 23 41 23 29 23 20 22 12 23 8 23 4 23 3 23 1 23 1"/><path d="M3438 802l22 7 23 7 23 3 23 3 23 2 23 1 23-1 22-2 23-3 23-3 23-4 23-2 23 1 23 6 23 14 22 20 23 31 23 41 23 52 23 55 23 54 23 44 22 34 23 23 23 16 23 9 23 6 23 4 23 2 22 1 23 1 23 0 23 1 23 0 23 0"/><path d="M3438 802l22 7 23 7 23 0 23-1 23-2 23-3 23-5 22-6 23-6 23-8 23-9 23-9 23-6 23-4 23 6 22 11 23 25 23 49 23 81 23 99 23 87 23 56 22 29 23 14 23 6 23 3 23 1 23 1 23 0 22 0 23 0 23 0 23 0 23 0 23 0"/><path d="M3438 802l22 7 23 7 23-8 23-8 23-9 23-10 23-13 22-13 23-14 23-14 23-17 23-15 23-14 23-10 23 5 22 8 23 14 23 23 23 37 23 53 23 71 23 79 22 78 23 63 23 47 23 31 23 19 23 11 23 6 22 4 23 2 23 2 23 0 23 1 23 0"/><path d="M3438 802l22 7 23 7 23-4 23-5 23-6 23-7 23-9 22-10 23-10 23-12 23-14 23-13 23-11 23-10 23 1 22 0 23 2 23 2 23 5 23 11 23 20 23 38 22 61 23 86 23 93 23 80 23 54 23 33 23 17 22 9 23 4 23 2 23 1 23 1 23 0"/><path d="M3438 802l22 7 23 7 23 6 23 6 23 5 23 4 23 1 22 1 23 0 23-1 23-3 23-2 23-1 23 1 23 1 22 1 23 5 23 16 23 47 23 102 23 117 23 68 22 25 23 7 23 2 23 1 23 0 23 0 23 0 22 0 23 0 23 0 23 0 23 0 23 0"/><path d="M3438 802l22 7 23 7 23 3 23 3 23 1 23 1 23-1 22-3 23-2 23-4 23-5 23-3 23 1 23 5 23 14 22 23 23 36 23 51 23 62 23 64 23 56 23 41 22 27 23 17 23 10 23 5 23 3 23 2 23 1 22 0 23 1 23 0 23 0 23 0 23 0"/><path d="M3438 802l22 7 23 7 23 9 23 9 23 8 23 6 23 5 22 4 23 3 23 3 23 0 23 2 23 5 23 8 23 9 22 14 23 25 23 37 23 49 23 56 23 52 23 40 22 28 23 16 23 10 23 5 23 3 23 1 23 1 22 1 23 0 23 0 23 0 23 0 23 0"/><path d="M3438 802l22 7 23 7 23-12 23-13 23-14 23-14 23-17 22-18 23-18 23-20 23-21 23-20 23-18 23-13 23 12 22 28 23 63 23 113 23 145 23 121 23 70 23 33 22 13 23 6 23 2 23 1 23 0 23 0 23 0 22 0 23 0 23 0 23 0 23 0 23 0"/><path d="M3438 802l22 7 23 7 23-5 23-5 23-6 23-7 23-9 22-10 23-11 23-12 23-14 23-13 23-11 23-10 23 1 22 1 23 3 23 4 23 8 23 12 23 22 23 34 22 49 23 65 23 74 23 72 23 61 23 44 23 29 22 18 23 11 23 6 23 3 23 2 23 2"/><path d="M3438 802l22 7 23 7 23 3 23 3 23 1 23 1 23-1 22-3 23-3 23-4 23-6 23-5 23-4 23-2 23 1 22 3 23 7 23 17 23 42 23 81 23 106 23 88 22 49 23 22 23 8 23 3 23 1 23 1 23 0 22 0 23 0 23 0 23 0 23 0 23 0"/><path d="M3438 802l22 7 23 7 23 1 23 0 23-1 23-2 23-4 22-4 23-5 23-7 23-8 23-6 23-3 23 0 23 9 22 14 23 23 23 34 23 49 23 59 23 65 23 59 22 48 23 33 23 22 23 14 23 8 23 5 23 2 22 2 23 1 23 0 23 1 23 0 23 0"/><path d="M3438 802l22 7 23 7 23 0 23 0 23-1 23-3 23-4 22-5 23-6 23-7 23-10 23-8 23-6 23-5 23 2 22 5 23 15 23 41 23 91 23 128 23 103 23 50 22 19 23 7 23 2 23 1 23 0 23 0 23 0 22 0 23 0 23 0 23 0 23 0 23 0"/><path d="M3438 802l22 7 23 7 23 1 23 1 23 0 23-1 23-3 22-5 23-4 23-6 23-8 23-7 23-6 23-4 23 0 22 0 23 0 23 0 23 0 23 0 23 1 23 3 22 8 23 22 23 55 23 104 23 121 23 81 23 36 22 13 23 5 23 1 23 1 23 0 23 0"/><path d="M3438 802l22 7 23 7 23-1 23-1 23-2 23-3 23-5 22-7 23-6 23-8 23-11 23-8 23-8 23-5 23 2 22 3 23 9 23 17 23 36 23 62 23 88 23 93 22 74 23 45 23 24 23 12 23 5 23 2 23 1 22 1 23 0 23 0 23 0 23 0 23 0"/><path d="M3438 802l22 7 23 7 23 3 23 2 23 2 23 0 23-1 22-3 23-3 23-4 23-7 23-5 23-4 23-2 23 1 22 1 23 4 23 7 23 16 23 33 23 58 23 83 22 86 23 66 23 40 23 19 23 10 23 4 23 2 22 0 23 1 23 0 23 0 23 0 23 0"/><path d="M3438 802l22 7 23 7 23 3 23 2 23 2 23 0 23-2 22-2 23-3 23-5 23-6 23-5 23-4 23-2 23 1 22 1 23 2 23 3 23 6 23 9 23 14 23 22 22 30 23 41 23 50 23 54 23 52 23 44 23 34 22 24 23 16 23 11 23 7 23 4 23 2"/><path d="M3438 802l22 7 23 7 23-9 23-9 23-10 23-12 23-13 22-14 23-15 23-16 23-18 23-17 23-15 23-13 23 2 22 4 23 8 23 16 23 26 23 45 23 68 23 87 22 92 23 81 23 58 23 37 23 21 23 12 23 6 22 3 23 2 23 1 23 1 23 0 23 0"/><path d="M3438 802l22 7 23 7 23 8 23 7 23 6 23 5 23 3 22 2 23 1 23 0 23-2 23 0 23 1 23 2 23 0 22 1 23 1 23 2 23 3 23 8 23 14 23 25 22 39 23 56 23 64 23 58 23 44 23 27 23 16 22 9 23 4 23 3 23 1 23 0 23 1"/><path d="M3438 802l22 7 23 7 23-2 23-3 23-4 23-5 23-6 22-8 23-9 23-9 23-12 23-11 23-9 23-7 23 0 22 1 23 2 23 2 23 5 23 8 23 13 23 21 22 34 23 48 23 62 23 70 23 66 23 56 23 40 22 26 23 17 23 10 23 5 23 4 23 2"/><path d="M3438 802l22 7 23 7 23 3 23 2 23 2 23 0 23-2 22-2 23-4 23-4 23-7 23-5 23-4 23-2 23 2 22 4 23 9 23 21 23 43 23 72 23 92 23 84 22 54 23 28 23 13 23 6 23 2 23 1 23 1 22 0 23 0 23 0 23 0 23 0 23 0"/><path d="M3438 802l22 7 23 7 23 6 23 5 23 4 23 4 23 1 22 0 23 0 23-1 23-4 23-2 23 0 23 2 23 3 22 5 23 9 23 16 23 26 23 39 23 53 23 59 22 58 23 46 23 32 23 20 23 12 23 7 23 4 22 2 23 2 23 0 23 1 23 0 23 0"/><path d="M3438 802l22 7 23 7 23 0 23-1 23-1 23-3 23-4 22-6 23-6 23-8 23-9 23-8 23-7 23-5 23 1 22 3 23 5 23 11 23 20 23 37 23 58 23 77 22 83 23 68 23 47 23 27 23 15 23 8 23 3 22 2 23 1 23 1 23 0 23 0 23 0"/><path d="M3438 802l22 7 23 7 23 5 23 5 23 3 23 3 23 0 22 0 23-1 23-2 23-5 23-2 23-2 23 1 23 3 22 6 23 10 23 19 23 33 23 50 23 66 23 69 22 57 23 40 23 24 23 13 23 7 23 3 23 2 22 1 23 1 23 0 23 0 23 0 23 0"/><path d="M3438 802l22 7 23 7 23-2 23-2 23-3 23-4 23-6 22-7 23-8 23-9 23-11 23-9 23-8 23-5 23 3 22 7 23 15 23 30 23 52 23 79 23 94 23 82 22 57 23 32 23 17 23 8 23 4 23 2 23 0 22 1 23 0 23 0 23 0 23 0 23 0"/><path d="M3438 802l22 7 23 7 23 1 23 0 23-1 23-1 23-4 22-5 23-5 23-6 23-9 23-7 23-5 23-4 23 2 22 3 23 6 23 11 23 18 23 29 23 43 23 59 22 67 23 65 23 54 23 38 23 25 23 15 23 9 22 5 23 3 23 1 23 1 23 1 23 0"/><path d="M3438 802l22 7 23 7 23-1 23-1 23-2 23-4 23-5 22-6 23-7 23-8 23-11 23-8 23-8 23-5 23 1 22 2 23 4 23 7 23 12 23 20 23 31 23 46 22 59 23 68 23 66 23 55 23 39 23 26 23 17 22 9 23 6 23 3 23 2 23 1 23 0"/><path d="M3438 802l22 7 23 7 23 5 23 5 23 4 23 3 23 0 22 0 23-1 23-2 23-4 23-3 23-2 23 0 23 0 22 0 23 0 23 1 23 0 23 2 23 4 23 10 22 22 23 45 23 76 23 91 23 74 23 43 23 21 22 9 23 4 23 1 23 1 23 0 23 0"/><path d="M3438 802l22 7 23 7 23-1 23-2 23-3 23-4 23-6 22-6 23-7 23-9 23-10 23-7 23-6 23-1 23 10 22 17 23 28 23 43 23 59 23 71 23 71 23 60 22 44 23 28 23 17 23 10 23 6 23 3 23 2 22 1 23 0 23 1 23 0 23 0 23 0"/><path d="M3438 802l22 7 23 7 23 7 23 7 23 6 23 5 23 3 22 1 23 2 23 0 23-2 23-1 23 0 23 2 23 0 22 0 23 1 23 1 23 1 23 4 23 5 23 11 22 18 23 31 23 45 23 58 23 60 23 52 23 38 22 23 23 14 23 8 23 4 23 3 23 1"/><path d="M3438 802l22 7 23 7 23-7 23-7 23-8 23-9 23-11 22-13 23-12 23-14 23-17 23-15 23-13 23-12 23 0 22 0 23 0 23 1 23 4 23 13 23 37 23 91 22 150 23 138 23 72 23 28 23 9 23 3 23 1 22 0 23 0 23 0 23 0 23 0 23 0"/><path d="M3438 802l22 7 23 7 23 2 23 2 23 0 23 0 23-2 22-4 23-4 23-5 23-7 23-6 23-4 23-2 23 4 22 7 23 15 23 30 23 53 23 77 23 85 23 72 22 46 23 26 23 13 23 6 23 3 23 1 23 1 22 0 23 0 23 0 23 0 23 0 23 0"/><path d="M3438 802l22 7 23 7 23-4 23-5 23-6 23-7 23-8 22-10 23-11 23-11 23-14 23-13 23-11 23-9 23 0 22 0 23 1 23 1 23 3 23 4 23 9 23 16 22 27 23 43 23 64 23 78 23 81 23 69 23 49 22 32 23 18 23 11 23 6 23 3 23 1"/><path d="M3438 802l22 7 23 7 23 0 23-1 23-2 23-3 23-5 22-5 23-6 23-7 23-9 23-7 23-2 23 2 23 13 22 24 23 39 23 56 23 70 23 73 23 63 23 46 22 30 23 18 23 10 23 6 23 3 23 1 23 1 22 1 23 0 23 0 23 0 23 0 23 0"/></g>
<g transform="scale(.1)" fill="none" stroke="#0000ff" stroke-width="8" stroke-opacity="0.22"><path d="M2707 900l33-52 32-5 33-4 32-10 33-10 32-11 33-16 32-18 33-14 32-13 33-9 33-10 32-4 33-2 32 1 33 3 32 6 33 7 32 8 33 7 32 9 33 12 33 12 32 11 33 10 32 12 33 9 32 8 33 7 32 1 33-4 32-5 33-6"/><path d="M2707 913l33-58 32-8 33-9 32-13 33-13 32-14 33-18 32-20 33-15 32-12 33-9 33-7 32-2 33 0 32 5 33 7 32 9 33 11 32 10 33 10 32 10 33 12 33 13 32 9 33 9 32 10 33 6 32 5 33 4 32-3 33-6 32-7 33-7"/><path d="M2707 937l33-75 32-7 33-7 32-10 33-11 32-12 33-17 32-20 33-14 32-11 33-8 33-7 32-3 33 0 32 3 33 6 32 7 33 9 32 9 33 8 32 9 33 11 33 10 32 9 33 8 32 9 33 6 32 5 33 4 32-2 33-5 32-5 33-7"/><path d="M2707 1042l33-139 32-9 33-7 32-9 33-10 32-11 33-17 32-24 33-17 32-10 33-10 33-9 32-7 33-5 32-1 33 0 32 2 33 4 32 5 33 5 32 7 33 9 33 9 32 9 33 10 32 12 33 10 32 9 33 9 32 6 33 5 32 3 33 1"/><path d="M2707 1057l33-143 32-7 33-7 32-8 33-10 32-13 33-18 32-27 33-18 32-12 33-12 33-11 32-9 33-7 32-3 33-1 32 2 33 4 32 6 33 6 32 7 33 10 33 11 32 11 33 11 32 12 33 12 32 10 33 9 32 7 33 5 32 3 33 1"/><path d="M2707 926l33-63 32-8 33-10 32-13 33-14 32-15 33-19 32-21 33-16 32-12 33-9 33-7 32-1 33 1 32 5 33 7 32 9 33 11 32 11 33 9 32 10 33 11 33 10 32 9 33 7 32 8 33 5 32 4 33 4 32-3 33-6 32-5 33-7"/><path d="M2707 1092l33-162 32-9 33-9 32-10 33-11 32-13 33-21 32-28 33-20 32-12 33-13 33-11 32-9 33-7 32-2 33-1 32 2 33 5 32 7 33 7 32 9 33 11 33 11 32 11 33 12 32 12 33 12 32 9 33 9 32 6 33 6 32 2 33 1"/><path d="M2707 801l33 7 32-4 33-4 32-11 33-10 32-11 33-14 32-14 33-11 32-12 33-7 33-6 32 0 33 2 32 6 33 8 32 9 33 10 32 8 33 7 32 8 33 10 33 10 32 7 33 7 32 7 33 3 32 3 33 4 32-6 33-9 32-9 33-9"/><path d="M2707 1039l33-141 32-7 33-6 32-7 33-8 32-9 33-15 32-23 33-16 32-10 33-11 33-10 32-10 33-7 32-5 33-3 32 0 33 2 32 5 33 5 32 8 33 11 33 12 32 13 33 14 32 15 33 13 32 12 33 10 32 7 33 4 32 0 33-3"/><path d="M2707 1008l33-119 32-6 33-6 32-8 33-9 32-11 33-16 32-22 33-16 32-10 33-10 33-9 32-7 33-4 32-2 33 1 32 2 33 4 32 5 33 5 32 6 33 8 33 9 32 9 33 8 32 11 33 9 32 8 33 8 32 5 33 3 32 2 33 0"/><path d="M2707 976l33-92 32-7 33-7 32-11 33-11 32-13 33-18 32-23 33-16 32-12 33-10 33-9 32-5 33-3 32 1 33 3 32 5 33 7 32 7 33 7 32 8 33 10 33 10 32 9 33 8 32 9 33 8 32 5 33 6 32 1 33-2 32-3 33-4"/><path d="M2707 960l33-88 32-8 33-7 32-11 33-12 32-12 33-17 32-22 33-15 32-11 33-8 33-8 32-4 33-1 32 2 33 5 32 6 33 8 32 8 33 7 32 9 33 10 33 10 32 9 33 8 32 9 33 7 32 5 33 6 32 0 33-3 32-3 33-5"/><path d="M2707 977l33-87 32-9 33-9 32-13 33-13 32-15 33-20 32-24 33-18 32-14 33-12 33-10 32-7 33-3 32 0 33 3 32 5 33 7 32 8 33 8 32 9 33 11 33 11 32 10 33 11 32 11 33 9 32 7 33 8 32 2 33 0 32-1 33-3"/><path d="M2707 1003l33-113 32-9 33-8 32-12 33-11 32-13 33-18 32-23 33-16 32-11 33-9 33-8 32-5 33-3 32 1 33 3 32 4 33 7 32 7 33 7 32 7 33 10 33 10 32 9 33 9 32 10 33 9 32 7 33 7 32 4 33 1 32 0 33-2"/><path d="M2707 1041l33-142 32-9 33-7 32-9 33-9 32-11 33-16 32-23 33-15 32-8 33-9 33-8 32-6 33-4 32-1 33 1 32 2 33 4 32 5 33 4 32 5 33 7 33 8 32 7 33 8 32 10 33 8 32 8 33 8 32 5 33 5 32 3 33 2"/><path d="M2707 1132l33-190 32-10 33-9 32-10 33-11 32-13 33-20 32-28 33-20 32-10 33-11 33-10 32-9 33-7 32-4 33-2 32 1 33 3 32 5 33 5 32 7 33 8 33 9 32 10 33 11 32 13 33 11 32 11 33 10 32 9 33 9 32 6 33 3"/><path d="M2707 1088l33-161 32-8 33-8 32-10 33-11 32-13 33-21 32-28 33-20 32-13 33-12 33-11 32-9 33-7 32-2 33 0 32 3 33 6 32 8 33 8 32 9 33 10 33 12 32 10 33 11 32 11 33 10 32 9 33 6 32 6 33 4 32 1 33 0"/><path d="M2707 1065l33-149 32-9 33-9 32-11 33-12 32-14 33-19 32-27 33-18 32-10 33-11 33-9 32-7 33-4 32-1 33 1 32 4 33 6 32 6 33 7 32 7 33 10 33 9 32 10 33 9 32 11 33 9 32 8 33 8 32 5 33 4 32 3 33 0"/><path d="M2707 1030l33-129 32-11 33-11 32-13 33-13 32-14 33-20 32-25 33-17 32-10 33-9 33-7 32-4 33-2 32 3 33 4 32 7 33 8 32 9 33 8 32 9 33 10 33 10 32 9 33 8 32 8 33 7 32 5 33 4 32 2 33-1 32-2 33-3"/><path d="M2707 994l33-100 32-9 33-10 32-13 33-14 32-15 33-21 32-25 33-18 32-14 33-12 33-10 32-6 33-3 32 1 33 4 32 6 33 9 32 9 33 10 32 10 33 13 33 14 32 12 33 11 32 13 33 10 32 8 33 7 32 3 33-1 32-2 33-4"/><path d="M2707 984l33-99 32-9 33-9 32-12 33-12 32-14 33-19 32-23 33-16 32-12 33-10 33-8 32-4 33-2 32 2 33 4 32 6 33 9 32 8 33 8 32 9 33 11 33 11 32 10 33 9 32 9 33 8 32 6 33 5 32 1 33-1 32-3 33-4"/><path d="M2707 1049l33-145 32-8 33-7 32-7 33-8 32-10 33-16 32-24 33-16 32-10 33-10 33-11 32-8 33-8 32-4 33-2 32-1 33 3 32 4 33 5 32 7 33 10 33 12 32 12 33 12 32 15 33 13 32 11 33 11 32 7 33 6 32 2 33-1"/><path d="M2707 904l33-54 32-9 33-9 32-14 33-14 32-14 33-18 32-20 33-15 32-12 33-8 33-7 32-2 33 1 32 6 33 8 32 10 33 11 32 12 33 10 32 11 33 14 33 13 32 10 33 10 32 10 33 7 32 5 33 5 32-2 33-7 32-7 33-8"/><path d="M2707 913l33-50 32-7 33-9 32-13 33-15 32-15 33-19 32-22 33-17 32-14 33-11 33-10 32-4 33-1 32 3 33 6 32 8 33 10 32 10 33 10 32 11 33 13 33 14 32 11 33 11 32 12 33 8 32 7 33 7 32-1 33-5 32-5 33-7"/><path d="M2707 989l33-109 32-9 33-8 32-10 33-10 32-12 33-16 32-21 33-15 32-9 33-8 33-7 32-4 33-2 32 1 33 3 32 5 33 6 32 6 33 5 32 7 33 8 33 8 32 8 33 8 32 9 33 7 32 7 33 6 32 3 33 2 32 0 33-1"/><path d="M2707 913l33-51 32-7 33-7 32-13 33-14 32-15 33-19 32-23 33-17 32-15 33-11 33-9 32-4 33 0 32 4 33 8 32 10 33 12 32 12 33 11 32 12 33 14 33 14 32 10 33 9 32 9 33 6 32 3 33 2 32-4 33-8 32-9 33-10"/><path d="M2707 896l33-45 32-4 33-4 32-9 33-11 32-12 33-17 32-20 33-17 32-14 33-13 33-11 32-6 33-3 32 1 33 4 32 7 33 9 32 10 33 11 32 12 33 14 33 16 32 13 33 12 32 13 33 9 32 6 33 6 32-3 33-7 32-8 33-11"/><path d="M2707 1124l33-185 32-11 33-10 32-11 33-11 32-14 33-20 32-29 33-19 32-10 33-11 33-9 32-8 33-6 32-2 33 0 32 2 33 5 32 6 33 6 32 7 33 9 33 9 32 9 33 9 32 10 33 10 32 8 33 8 32 7 33 7 32 5 33 2"/><path d="M2707 1105l33-179 32-9 33-8 32-7 33-9 32-10 33-17 32-26 33-17 32-9 33-11 33-9 32-10 33-7 32-5 33-3 32-1 33 1 32 4 33 3 32 5 33 8 33 9 32 10 33 11 32 13 33 13 32 12 33 11 32 10 33 10 32 7 33 4"/><path d="M2707 889l33-40 32-7 33-7 32-12 33-13 32-14 33-18 32-20 33-15 32-14 33-10 33-8 32-3 33 0 32 4 33 8 32 9 33 11 32 11 33 10 32 11 33 13 33 13 32 10 33 10 32 9 33 6 32 4 33 4 32-4 33-8 32-8 33-9"/></g>
<path d="M270.7,77 L272,76.76 L273.84,76.44 L275.99,76.04 L278.22,75.56 L280.3,75 L282.28,74.32 L284.31,73.52 L286.32,72.66 L288.24,71.8 L290,71 L291.56,70.26 L292.96,69.53 L294.27,68.82 L295.56,68.14 L296.9,67.5 L298.28,66.89 L299.66,66.3 L301.04,65.75 L302.42,65.24 L303.8,64.8 L305.18,64.4 L306.56,64.05 L307.94,63.75 L309.32,63.53 L310.7,63.4 L312.08,63.37 L313.46,63.43 L314.84,63.56 L316.22,63.76 L317.6,64 L318.98,64.3 L320.36,64.68 L321.74,65.1 L323.12,65.55 L324.5,66 L325.88,66.48 L327.27,66.99 L328.65,67.51 L330.03,68.02 L331.4,68.5 L332.73,68.92 L334.03,69.29 L335.34,69.65 L336.68,70.04 L338.1,70.5 L339.58,71.04 L341.11,71.65 L342.69,72.29 L344.35,72.92 L346.1,73.5 L347.97,74.06 L349.96,74.61 L352,75.13 L354.07,75.6 L356.1,76 L358.13,76.35 L360.2,76.68 L362.24,76.92 L364.23,77.05 L366.1,77 L367.83,76.72 L369.44,76.25 L371,75.67 L372.53,75.06 L374.1,74.5 L375.7,73.98 L377.3,73.43 L378.9,72.89 L380.5,72.4 L382.1,72 L383.75,71.69 L385.44,71.44 L387.12,71.26 L388.69,71.11 L390.1,71 L391.37,70.94 L392.56,70.93 L393.6,70.95 L394.47,70.98 L395.1,71 L395.1,81.55 L391.91,88.17 L388.72,91.41 L385.53,92.86 L382.34,93.58 L379.15,93.86 L375.96,94.2 L372.77,94.41 L369.58,94.24 L366.39,93.74 L363.2,92.96 L360.01,92.04 L356.82,91.08 L353.63,89.87 L350.44,88.78 L347.25,87.74 L344.06,86.74 L340.87,85.56 L337.68,84.33 L334.49,83.39 L331.31,82.47 L328.12,81.58 L324.93,81.31 L321.74,81.22 L318.55,81.35 L315.36,81.83 L312.17,82.53 L308.98,83.46 L305.79,84.55 L302.6,85.71 L299.41,86.77 L296.22,89 L293.03,91.62 L289.84,93.54 L286.65,94.72 L283.46,95.73 L280.27,96.66 L277.08,97.5 L273.89,98.43 L270.7,99.2Z" stroke="none" stroke-width="1" fill="#0000ff" opacity="0.35" filter="url(#bl2)"/>
<path d="M270.7,83 L272,82.76 L273.84,82.44 L275.99,82.04 L278.22,81.56 L280.3,81 L282.28,80.32 L284.31,79.52 L286.32,78.66 L288.24,77.8 L290,77 L291.56,76.26 L292.96,75.53 L294.27,74.82 L295.56,74.14 L296.9,73.5 L298.28,72.89 L299.66,72.3 L301.04,71.75 L302.42,71.24 L303.8,70.8 L305.18,70.4 L306.56,70.05 L307.94,69.75 L309.32,69.53 L310.7,69.4 L312.08,69.37 L313.46,69.43 L314.84,69.56 L316.22,69.76 L317.6,70 L318.98,70.3 L320.36,70.68 L321.74,71.1 L323.12,71.55 L324.5,72 L325.88,72.48 L327.27,72.99 L328.65,73.51 L330.03,74.02 L331.4,74.5 L332.73,74.92 L334.03,75.29 L335.34,75.65 L336.68,76.04 L338.1,76.5 L339.58,77.04 L341.11,77.65 L342.69,78.29 L344.35,78.92 L346.1,79.5 L347.97,80.06 L349.96,80.61 L352,81.13 L354.07,81.6 L356.1,82 L358.13,82.35 L360.2,82.68 L362.24,82.92 L364.23,83.05 L366.1,83 L367.83,82.72 L369.44,82.25 L371,81.67 L372.53,81.06 L374.1,80.5 L375.7,79.98 L377.3,79.43 L378.9,78.89 L380.5,78.4 L382.1,78 L383.75,77.69 L385.44,77.44 L387.12,77.26 L388.69,77.11 L390.1,77 L391.37,76.94 L392.56,76.93 L393.6,76.95 L394.47,76.98 L395.1,77 L395.1,81.55 L391.91,88.17 L388.72,91.41 L385.53,92.86 L382.34,93.58 L379.15,93.86 L375.96,94.2 L372.77,94.41 L369.58,94.24 L366.39,93.74 L363.2,92.96 L360.01,92.04 L356.82,91.08 L353.63,89.87 L350.44,88.78 L347.25,87.74 L344.06,86.74 L340.87,85.56 L337.68,84.33 L334.49,83.39 L331.31,82.47 L328.12,81.58 L324.93,81.31 L321.74,81.22 L318.55,81.35 L315.36,81.83 L312.17,82.53 L308.98,83.46 L305.79,84.55 L302.6,85.71 L299.41,86.77 L296.22,89 L293.03,91.62 L289.84,93.54 L286.65,94.72 L283.46,95.73 L280.27,96.66 L277.08,97.5 L273.89,98.43 L270.7,99.2Z" stroke="none" stroke-width="1" fill="#0000ff" opacity="0.62" filter="url(#bl05)"/>
<path d="M271.7,95.5 L272.28,95.28 L273.11,94.98 L274.08,94.63 L275.1,94.3 L276.18,94 L277.37,93.71 L278.59,93.41 L279.81,93.1 L281,92.77 L282.2,92.43 L283.4,92.07 L284.61,91.7 L285.81,91.34 L287.01,90.99 L288.21,90.6 L289.41,90.1 L290.63,89.49 L291.87,88.78 L293.08,88.01 L294.21,87.2 L295.23,86.28 L296.16,85.27 L297.1,84.3 L298.12,83.5 L299.25,82.96 L300.45,82.58 L301.69,82.26 L302.92,81.9 L304.14,81.45 L305.37,80.99 L306.6,80.53 L307.82,80.1 L309.03,79.71 L310.23,79.35 L311.42,79.01 L312.62,78.7 L313.82,78.4 L315.02,78.13 L316.22,77.88 L317.43,77.7 L318.62,77.58 L319.82,77.53 L321.02,77.5 L322.23,77.5 L323.44,77.51 L324.67,77.53 L325.9,77.59 L327.13,77.7 L328.36,77.87 L329.58,78.09 L330.83,78.34 L332.13,78.6 L333.53,78.85 L335,79.12 L336.46,79.4 L337.84,79.7 L339.1,80.03 L340.29,80.38 L341.46,80.74 L342.64,81.1 L343.83,81.46 L345.02,81.83 L346.21,82.21 L347.44,82.6 L348.73,83.01 L350.06,83.44 L351.38,83.87 L352.64,84.3 L353.79,84.72 L354.86,85.15 L355.95,85.58 L357.15,86 L358.53,86.44 L360.02,86.88 L361.53,87.31 L362.95,87.7 L364.24,88.04 L365.46,88.34 L366.66,88.63 L367.85,88.9 L369.06,89.18 L370.26,89.45 L371.46,89.7 L372.66,89.9 L373.86,90.06 L375.06,90.19 L376.26,90.27 L377.46,90.3 L378.67,90.27 L379.88,90.19 L381.09,90.06 L382.26,89.9 L383.4,89.72 L384.52,89.51 L385.61,89.25 L386.66,88.9 L387.69,88.46 L388.7,87.95 L389.64,87.36 L390.47,86.7 L391.13,85.96 L391.68,85.14 L392.17,84.26 L392.67,83.3 L393.17,82.28 L393.64,81.19 L394.13,80.04 L394.67,78.8 L395.28,77.44 L395.94,75.97 L396.61,74.49 L397.27,73.1 L397.89,71.61 L398.49,70.04 L399.11,68.8 L399.77,68.3 L400.53,68.83 L401.37,70.11 L402.17,71.68 L402.87,73.1 L403.42,74.28 L403.88,75.46 L404.28,76.63 L404.67,77.8 L405.03,78.8 L405.34,79.69 L405.66,80.8 L406.07,82.5 L406.61,85.05 L407.22,88.21 L407.87,91.54 L408.48,94.6 L409.04,97.35 L409.59,100 L410.14,102.5 L410.68,104.8 L411.19,106.88 L411.68,108.76 L412.2,110.49 L412.78,112.1 L413.43,113.62 L414.13,115.02 L414.88,116.26 L415.68,117.3 L416.52,118.1 L417.41,118.69 L418.36,119.13 L419.38,119.5 L420.29,119.77 L421.14,119.92 L422.31,120.01 L424.18,120.1 L427.01,120.2 L430.53,120.27 L434.38,120.34 L438.19,120.4 L442.29,120.46 L446.72,120.52 L450.72,120.57 L453.5,120.6" stroke="#ffa500" stroke-width="9.6" fill="none" opacity="0.25" stroke-linejoin="round"/>
<path d="M271.7,95.5 L272.28,95.28 L273.11,94.98 L274.08,94.63 L275.1,94.3 L276.18,94 L277.37,93.71 L278.59,93.41 L279.81,93.1 L281,92.77 L282.2,92.43 L283.4,92.07 L284.61,91.7 L285.81,91.34 L287.01,90.99 L288.21,90.6 L289.41,90.1 L290.63,89.49 L291.87,88.78 L293.08,88.01 L294.21,87.2 L295.23,86.28 L296.16,85.27 L297.1,84.3 L298.12,83.5 L299.25,82.96 L300.45,82.58 L301.69,82.26 L302.92,81.9 L304.14,81.45 L305.37,80.99 L306.6,80.53 L307.82,80.1 L309.03,79.71 L310.23,79.35 L311.42,79.01 L312.62,78.7 L313.82,78.4 L315.02,78.13 L316.22,77.88 L317.43,77.7 L318.62,77.58 L319.82,77.53 L321.02,77.5 L322.23,77.5 L323.44,77.51 L324.67,77.53 L325.9,77.59 L327.13,77.7 L328.36,77.87 L329.58,78.09 L330.83,78.34 L332.13,78.6 L333.53,78.85 L335,79.12 L336.46,79.4 L337.84,79.7 L339.1,80.03 L340.29,80.38 L341.46,80.74 L342.64,81.1 L343.83,81.46 L345.02,81.83 L346.21,82.21 L347.44,82.6 L348.73,83.01 L350.06,83.44 L351.38,83.87 L352.64,84.3 L353.79,84.72 L354.86,85.15 L355.95,85.58 L357.15,86 L358.53,86.44 L360.02,86.88 L361.53,87.31 L362.95,87.7 L364.24,88.04 L365.46,88.34 L366.66,88.63 L367.85,88.9 L369.06,89.18 L370.26,89.45 L371.46,89.7 L372.66,89.9 L373.86,90.06 L375.06,90.19 L376.26,90.27 L377.46,90.3 L378.67,90.27 L379.88,90.19 L381.09,90.06 L382.26,89.9 L383.4,89.72 L384.52,89.51 L385.61,89.25 L386.66,88.9 L387.69,88.46 L388.7,87.95 L389.64,87.36 L390.47,86.7 L391.13,85.96 L391.68,85.14 L392.17,84.26 L392.67,83.3 L393.17,82.28 L393.64,81.19 L394.13,80.04 L394.67,78.8 L395.28,77.44 L395.94,75.97 L396.61,74.49 L397.27,73.1 L397.89,71.61 L398.49,70.04 L399.11,68.8 L399.77,68.3 L400.53,68.83 L401.37,70.11 L402.17,71.68 L402.87,73.1 L403.42,74.28 L403.88,75.46 L404.28,76.63 L404.67,77.8 L405.03,78.8 L405.34,79.69 L405.66,80.8 L406.07,82.5 L406.61,85.05 L407.22,88.21 L407.87,91.54 L408.48,94.6 L409.04,97.35 L409.59,100 L410.14,102.5 L410.68,104.8 L411.19,106.88 L411.68,108.76 L412.2,110.49 L412.78,112.1 L413.43,113.62 L414.13,115.02 L414.88,116.26 L415.68,117.3 L416.52,118.1 L417.41,118.69 L418.36,119.13 L419.38,119.5 L420.29,119.77 L421.14,119.92 L422.31,120.01 L424.18,120.1 L427.01,120.2 L430.53,120.27 L434.38,120.34 L438.19,120.4 L442.29,120.46 L446.72,120.52 L450.72,120.57 L453.5,120.6" stroke="#f5a300" stroke-width="5.8" fill="none" opacity="0.85" stroke-linejoin="round"/>
<path d="M270.7,113 L271.1,99 L271.7,96.2" stroke="#f5a300" stroke-width="3.2" fill="none" opacity="0.85" />
<path d="M396.3,79 L399.7,68.5 L403.3,79Z" stroke="none" stroke-width="1" fill="#f5a300" opacity="0.8" />
<path d="M270.7,84.2 L272,83.96 L273.84,83.64 L275.99,83.24 L278.22,82.76 L280.3,82.2 L282.28,81.52 L284.31,80.72 L286.32,79.86 L288.24,79 L290,78.2 L291.56,77.46 L292.96,76.73 L294.27,76.02 L295.56,75.34 L296.9,74.7 L298.28,74.09 L299.66,73.5 L301.04,72.95 L302.42,72.44 L303.8,72 L305.18,71.6 L306.56,71.25 L307.94,70.95 L309.32,70.73 L310.7,70.6 L312.08,70.57 L313.46,70.63 L314.84,70.76 L316.22,70.96 L317.6,71.2 L319.09,71.54 L320.69,72 L322.24,72.48 L323.56,72.91 L324.5,73.2 L324.5,75.99 L323.12,75.94 L321.74,75.92 L320.36,75.98 L318.98,76.04 L317.6,76.09 L316.22,76.35 L314.84,76.64 L313.46,76.92 L312.08,77.26 L310.71,77.66 L309.33,78.06 L307.95,78.46 L306.57,78.96 L305.19,79.47 L303.81,79.97 L302.43,80.46 L301.05,80.92 L299.67,81.38 L298.29,81.84 L296.91,83.04 L295.53,84.35 L294.15,85.64 L292.77,86.47 L291.39,87.3 L290.01,88.14 L288.63,88.76 L287.25,89.22 L285.87,89.68 L284.49,90.13 L283.12,90.54 L281.74,90.94 L280.36,91.34 L278.98,91.71 L277.6,92.06 L276.22,92.42 L274.84,92.79 L273.46,93.28 L272.08,93.77 L270.7,93.9Z" stroke="none" stroke-width="1" fill="#0000ff" opacity="0.7" filter="url(#bl05)"/>
<path d="M270.7,96.2 L270.89,96.02 L271.16,95.77 L271.52,95.49 L272,95.2 L272.61,94.93 L273.34,94.64 L274.17,94.34 L275.1,94 L276.16,93.62 L277.35,93.2 L278.58,92.76 L279.81,92.3 L281,91.8 L282.2,91.25 L283.4,90.73 L284.61,90.3 L285.81,89.99 L287.01,89.76 L288.21,89.57 L289.41,89.4 L290.63,89.25 L291.87,89.13 L293.08,89.02 L294.21,88.9 L295.23,88.76 L296.16,88.62 L297.1,88.47 L298.12,88.3 L299.25,88.13 L300.45,87.95 L301.69,87.72 L302.92,87.4 L304.14,86.98 L305.37,86.49 L306.6,85.9 L307.82,85.2 L309.03,84.34 L310.23,83.36 L311.42,82.31 L312.62,81.3 L313.82,80.29 L315.02,79.26 L316.22,78.27 L317.43,77.4 L318.62,76.66 L319.82,76.01 L321.02,75.46 L322.23,75 L323.44,74.62 L324.67,74.33 L325.9,74.15 L327.13,74.1 L328.36,74.23 L329.58,74.51 L330.83,74.86 L332.13,75.2 L333.53,75.53 L335,75.9 L336.46,76.24 L337.84,76.5 L339.1,76.66 L340.29,76.75 L341.46,76.79 L342.64,76.8 L343.83,76.77 L345.02,76.69 L346.21,76.59 L347.44,76.5 L348.71,76.43 L350,76.36 L351.31,76.29 L352.64,76.2 L354.02,76.08 L355.42,75.95 L356.81,75.82 L358.15,75.7 L359.4,75.59 L360.59,75.47 L361.76,75.4 L362.95,75.4 L364.17,75.46 L365.4,75.58 L366.63,75.78 L367.85,76.1 L369.06,76.57 L370.26,77.16 L371.46,77.82 L372.66,78.5 L373.86,79.18 L375.06,79.89 L376.26,80.63 L377.46,81.4 L378.66,82.2 L379.85,83.03 L381.05,83.89 L382.26,84.8 L383.52,85.79 L384.81,86.86 L386.05,87.91 L387.16,88.9 L388.06,89.7 L388.8,90.39 L389.55,91.16 L390.47,92.2 L391.6,93.61 L392.87,95.27 L394.22,97.04 L395.57,98.8 L396.96,100.52 L398.4,102.26 L399.83,104.03 L401.17,105.8 L402.37,107.64 L403.47,109.52 L404.58,111.35 L405.77,113 L407.1,114.47 L408.5,115.81 L409.94,117 L411.38,118 L412.81,118.78 L414.25,119.36 L415.71,119.81 L417.18,120.2 L418.46,120.51 L419.61,120.72 L421.04,120.88 L423.18,121 L426.3,121.1 L430.11,121.15 L434.21,121.18 L438.19,121.2 L442.36,121.21 L446.78,121.21 L450.74,121.2 L453.5,121.2" stroke="#ff2020" stroke-width="2.0" fill="none" opacity="0.45" />
<path d="M270.7,96.2 L270.89,96.02 L271.16,95.77 L271.52,95.49 L272,95.2 L272.61,94.93 L273.34,94.64 L274.17,94.34 L275.1,94 L276.16,93.62 L277.35,93.2 L278.58,92.76 L279.81,92.3 L281,91.8 L282.2,91.25 L283.4,90.73 L284.61,90.3 L285.81,89.99 L287.01,89.76 L288.21,89.57 L289.41,89.4 L290.63,89.25 L291.87,89.13 L293.08,89.02 L294.21,88.9 L295.23,88.76 L296.16,88.62 L297.1,88.47 L298.12,88.3 L299.25,88.13 L300.45,87.95 L301.69,87.72 L302.92,87.4 L304.14,86.98 L305.37,86.49 L306.6,85.9 L307.82,85.2 L309.03,84.34 L310.23,83.36 L311.42,82.31 L312.62,81.3 L313.82,80.29 L315.02,79.26 L316.22,78.27 L317.43,77.4 L318.62,76.66 L319.82,76.01 L321.02,75.46 L322.23,75 L323.44,74.62 L324.67,74.33 L325.9,74.15 L327.13,74.1 L328.36,74.23 L329.58,74.51 L330.83,74.86 L332.13,75.2 L333.53,75.53 L335,75.9 L336.46,76.24 L337.84,76.5 L339.1,76.66 L340.29,76.75 L341.46,76.79 L342.64,76.8 L343.83,76.77 L345.02,76.69 L346.21,76.59 L347.44,76.5 L348.71,76.43 L350,76.36 L351.31,76.29 L352.64,76.2 L354.02,76.08 L355.42,75.95 L356.81,75.82 L358.15,75.7 L359.4,75.59 L360.59,75.47 L361.76,75.4 L362.95,75.4 L364.17,75.46 L365.4,75.58 L366.63,75.78 L367.85,76.1 L369.06,76.57 L370.26,77.16 L371.46,77.82 L372.66,78.5 L373.86,79.18 L375.06,79.89 L376.26,80.63 L377.46,81.4 L378.66,82.2 L379.85,83.03 L381.05,83.89 L382.26,84.8 L383.52,85.79 L384.81,86.86 L386.05,87.91 L387.16,88.9 L388.06,89.7 L388.8,90.39 L389.55,91.16 L390.47,92.2 L391.6,93.61 L392.87,95.27 L394.22,97.04 L395.57,98.8 L396.96,100.52 L398.4,102.26 L399.83,104.03 L401.17,105.8 L402.37,107.64 L403.47,109.52 L404.58,111.35 L405.77,113 L407.1,114.47 L408.5,115.81 L409.94,117 L411.38,118 L412.81,118.78 L414.25,119.36 L415.71,119.81 L417.18,120.2 L418.46,120.51 L419.61,120.72 L421.04,120.88 L423.18,121 L426.3,121.1 L430.11,121.15 L434.21,121.18 L438.19,121.2 L442.36,121.21 L446.78,121.21 L450.74,121.2 L453.5,121.2" stroke="#f01010" stroke-width="2.0" fill="none" stroke-dasharray="3.6,1.4" />
<path d="M270.7,113 L270.77,110.22 L270.86,106.17 L270.98,102.04 L271.1,99 L271.17,97.48 L271.21,96.8 L271.35,96.53 L271.7,96.2 L272.32,95.79 L273.15,95.5 L274.09,95.26 L275.1,95 L276.18,94.7 L277.37,94.41 L278.59,94.11 L279.81,93.8 L281,93.47 L282.2,93.13 L283.4,92.77 L284.61,92.4 L285.81,92.04 L287.01,91.69 L288.21,91.3 L289.41,90.8 L290.63,90.19 L291.87,89.48 L293.08,88.71 L294.21,87.9 L295.23,86.98 L296.16,85.97 L297.1,85 L298.12,84.2 L299.25,83.66 L300.45,83.28 L301.69,82.96 L302.92,82.6 L304.14,82.15 L305.37,81.69 L306.6,81.23 L307.82,80.8 L309.03,80.41 L310.23,80.05 L311.42,79.71 L312.62,79.4 L313.82,79.1 L315.02,78.83 L316.22,78.58 L317.43,78.4 L318.62,78.28 L319.82,78.23 L321.02,78.2 L322.23,78.2 L323.44,78.21 L324.67,78.23 L325.9,78.29 L327.13,78.4 L328.36,78.57 L329.58,78.79 L330.83,79.04 L332.13,79.3 L333.53,79.55 L335,79.82 L336.46,80.1 L337.84,80.4 L339.1,80.73 L340.29,81.08 L341.46,81.44 L342.64,81.8 L343.83,82.16 L345.02,82.53 L346.21,82.91 L347.44,83.3 L348.73,83.71 L350.06,84.14 L351.38,84.57 L352.64,85 L353.79,85.42 L354.86,85.85 L355.95,86.28 L357.15,86.7 L358.53,87.14 L360.02,87.58 L361.53,88.01 L362.95,88.4 L364.24,88.74 L365.46,89.04 L366.66,89.33 L367.85,89.6 L369.06,89.88 L370.26,90.15 L371.46,90.4 L372.66,90.6 L373.86,90.76 L375.06,90.89 L376.26,90.97 L377.46,91 L378.67,90.97 L379.88,90.89 L381.09,90.76 L382.26,90.6 L383.4,90.42 L384.52,90.21 L385.61,89.95 L386.66,89.6 L387.69,89.16 L388.7,88.65 L389.64,88.06 L390.47,87.4 L391.13,86.66 L391.68,85.84 L392.17,84.96 L392.67,84 L393.17,82.98 L393.64,81.89 L394.13,80.74 L394.67,79.5 L395.28,78.14 L395.94,76.67 L396.61,75.19 L397.27,73.8 L397.89,72.31 L398.49,70.74 L399.11,69.5 L399.77,69 L400.53,69.53 L401.37,70.81 L402.17,72.38 L402.87,73.8 L403.42,74.98 L403.88,76.16 L404.28,77.33 L404.67,78.5 L405.03,79.5 L405.34,80.39 L405.66,81.5 L406.07,83.2 L406.61,85.75 L407.22,88.91 L407.87,92.24 L408.48,95.3 L409.04,98.05 L409.59,100.7 L410.14,103.2 L410.68,105.5 L411.19,107.58 L411.68,109.46 L412.2,111.19 L412.78,112.8 L413.43,114.32 L414.13,115.72 L414.88,116.96 L415.68,118 L416.52,118.8 L417.41,119.39 L418.36,119.83 L419.38,120.2 L420.29,120.47 L421.14,120.62 L422.31,120.71 L424.18,120.8 L427.01,120.9 L430.53,120.97 L434.38,121.04 L438.19,121.1 L442.29,121.16 L446.72,121.22 L450.72,121.27 L453.5,121.3" stroke="#111" stroke-width="1.1" fill="none" stroke-dasharray="3,2" />
</g>
<rect x="270.6" y="20.9" width="182.90" height="102.60" fill="none" stroke="#222" stroke-width="0.8"/>
<path d="M267.6,124 L270.6,124" stroke="#222" stroke-width="0.8" fill="none" />
<text x="266.2" y="127.1" font-size="9.2" font-family='"Liberation Serif", serif' fill="#222" text-anchor="end" textLength="14.2" lengthAdjust="spacingAndGlyphs" >0.0</text>
<path d="M267.6,102.7 L270.6,102.7" stroke="#222" stroke-width="0.8" fill="none" />
<text x="266.2" y="105.8" font-size="9.2" font-family='"Liberation Serif", serif' fill="#222" text-anchor="end" textLength="14.2" lengthAdjust="spacingAndGlyphs" >0.5</text>
<path d="M267.6,81.4 L270.6,81.4" stroke="#222" stroke-width="0.8" fill="none" />
<text x="266.2" y="84.5" font-size="9.2" font-family='"Liberation Serif", serif' fill="#222" text-anchor="end" textLength="14.2" lengthAdjust="spacingAndGlyphs" >1.0</text>
<path d="M267.6,60.1 L270.6,60.1" stroke="#222" stroke-width="0.8" fill="none" />
<text x="266.2" y="63.2" font-size="9.2" font-family='"Liberation Serif", serif' fill="#222" text-anchor="end" textLength="14.2" lengthAdjust="spacingAndGlyphs" >1.5</text>
<path d="M267.6,38.8 L270.6,38.8" stroke="#222" stroke-width="0.8" fill="none" />
<text x="266.2" y="41.9" font-size="9.2" font-family='"Liberation Serif", serif' fill="#222" text-anchor="end" textLength="14.2" lengthAdjust="spacingAndGlyphs" >2.0</text>
<path d="M293.46,124 L293.46,127" stroke="#222" stroke-width="0.8" fill="none" />
<text x="293.46" y="134.7" font-size="9.2" font-family='"Liberation Serif", serif' fill="#222" text-anchor="middle" textLength="13" lengthAdjust="spacingAndGlyphs" >0.4</text>
<path d="M339.19,124 L339.19,127" stroke="#222" stroke-width="0.8" fill="none" />
<text x="339.19" y="134.7" font-size="9.2" font-family='"Liberation Serif", serif' fill="#222" text-anchor="middle" textLength="13" lengthAdjust="spacingAndGlyphs" >0.6</text>
<path d="M384.91,124 L384.91,127" stroke="#222" stroke-width="0.8" fill="none" />
<text x="384.91" y="134.7" font-size="9.2" font-family='"Liberation Serif", serif' fill="#222" text-anchor="middle" textLength="13" lengthAdjust="spacingAndGlyphs" >0.8</text>
<path d="M430.64,124 L430.64,127" stroke="#222" stroke-width="0.8" fill="none" />
<text x="430.64" y="134.7" font-size="9.2" font-family='"Liberation Serif", serif' fill="#222" text-anchor="middle" textLength="13" lengthAdjust="spacingAndGlyphs" >1.0</text>
<text x="298.2" y="147.7" font-size="12.6" font-family='"Liberation Serif", serif' fill="#111" textLength="127" lengthAdjust="spacingAndGlyphs" >Electron energy (GeV)</text>
<text class="t" x="294" y="14.1" font-size="14.1" font-family='"Liberation Sans", sans-serif' fill="#000" textLength="132.0" lengthAdjust="spacingAndGlyphs">Quantum-continuous</text>
<g transform="translate(244.7,127.8) rotate(-90)" fill="#111" font-family='"Liberation Serif", serif'>
<text x="-0.2" y="0" font-size="12">E</text>
<text x="8.6" y="-5.6" font-size="7.8" font-style="italic" textLength="11.4" lengthAdjust="spacingAndGlyphs">dQ</text>
<line x1="8.3" y1="-2.7" x2="20.4" y2="-2.7" stroke="#111" stroke-width="0.6"/>
<text x="8.6" y="4.3" font-size="7.8" font-style="italic" textLength="11.4" lengthAdjust="spacingAndGlyphs">dE</text>
<text x="26.6" y="0" font-size="12.4" textLength="40" lengthAdjust="spacingAndGlyphs">(norm.)</text>
<text x="71.3" y="0" font-size="12.4" font-family='"Liberation Sans", sans-serif' textLength="43.5" lengthAdjust="spacingAndGlyphs">(GeV<tspan font-size="8" dy="-4.5">−1</tspan><tspan dy="4.5">)</tspan></text>
</g>
<g clip-path="url(#ct2)">
<path d="M556.1,84 L564.25,85.11 L575.73,86.67 L586.1,88 L593.77,88.89 L600.32,89.56 L606.1,90 L611.17,89.78 L615.47,89.33 L619.1,90 L622.06,92.19 L624.36,95.48 L626.1,100 L627.66,106.94 L628.66,115.11 L628.1,121 L625.43,122.83 L621.21,122.39 L616.1,121.5 L610.03,120.87 L603.06,119.8 L596.1,118 L589.25,115.26 L582.4,111.8 L576.1,108 L570.17,103.41 L564.8,98.48 L561.1,95Z" stroke="none" stroke-width="1" fill="#ff00ff" opacity="0.13" filter="url(#bl3)"/>
<path d="M498.6,75 L499.93,69.63 L501.88,62.04 L504.1,55 L506.66,48.78 L509.49,43.11 L512.1,40 L514.17,40.89 L516.03,44.33 L518.1,48 L520.36,51.56 L522.84,55.33 L526.1,58 L530.58,58.67 L535.84,58.22 L541.1,58 L546.66,58.37 L552.21,58.96 L556.1,60 L557.95,62 L558.14,64.44 L556.1,66 L550.91,65.63 L543.51,64.37 L536.1,64 L529.25,65.19 L522.4,67.26 L516.1,70 L510.17,74 L504.8,78.67 L501.1,82Z" stroke="none" stroke-width="1" fill="#ff00ff" opacity="0.03" filter="url(#bl3)"/>
<g transform="scale(.1)" fill="none" stroke="#ff00ff" stroke-width="6" stroke-opacity="0.05"><path d="M4986 895l59-4 60-8 59-23 60-32 59-29 60-25 59-23 60-10 59 10 60 20 59 22 60 22 59 23 60 26 59 30 59 36 60 32 23 16 22 15 22 18 22 18 21 22 22 22 22 21 22 21 22 20 22 19 22 18 22 18 21 16 22 12 22 6 22 2 22 1 22 0 22 0 22 0 21 0 22 0 46 0 100 0 99 0 100 0"/><path d="M4986 886l59-4 60-8 59-24 60-33 59-29 60-26 59-23 60-11 59 10 60 20 59 21 60 19 59 18 60 15 59 13 59 8 60-15 23-7 22-9 22-5 22-2 21 12 22 25 22 45 22 66 22 74 22 68 22 50 22 32 21 19 22 11 22 5 22 3 22 2 22 0 22 1 22 0 21 0 22 0 46 0 100 0 99 0 100 0"/><path d="M4986 833l59-6 60-12 59-30 60-40 59-38 60-32 59-30 60-14 59 10 60 23 59 24 60 22 59 23 60 22 59 27 59 35 60 33 23 21 22 22 22 27 22 31 21 38 22 38 22 37 22 34 22 30 22 26 22 22 22 19 21 15 22 10 22 5 22 1 22 1 22 0 22 0 22 0 21 0 22 0 46 0 100 0 99 0 100 0"/><path d="M4986 894l59-2 60-7 59-20 60-29 59-27 60-22 59-20 60-9 59 10 60 21 59 20 60 20 59 18 60 16 59 14 59 8 60-14 23-7 22-10 22-10 22-9 21-5 22-5 22-2 22 4 22 16 22 37 22 59 22 75 21 75 22 58 22 37 22 21 22 11 22 6 22 3 22 1 21 1 22 0 46 0 100 0 99 0 100 0"/><path d="M4986 837l59-2 60-7 59-23 60-34 59-29 60-26 59-23 60-10 59 12 60 24 59 25 60 23 59 21 60 19 59 16 59 10 60-18 23-11 22-15 22-16 22-15 21-3 22 9 22 34 22 68 22 98 22 104 22 77 22 44 21 22 22 9 22 4 22 2 22 1 22 0 22 0 22 0 21 0 22 0 46 0 100 0 99 0 100 0"/><path d="M4986 877l59-3 60-8 59-24 60-33 59-29 60-26 59-23 60-10 59 12 60 23 59 28 60 31 59 43 60 59 59 78 59 82 60 61 23 19 22 14 22 12 22 10 21 8 22 6 22 5 22 4 22 3 22 2 22 2 22 2 21 1 22 1 22 0 22 0 22 0 22 0 22 0 22 0 21 0 22 0 46 0 100 0 99 0 100 0"/><path d="M4986 879l59-2 60-7 59-21 60-27 59-22 60-13 59-4 60 19 59 46 60 65 59 68 60 65 59 56 60 43 59 30 59 20 60 11 23 3 22 3 22 2 22 2 21 2 22 1 22 1 22 2 22 1 22 1 22 0 22 1 21 1 22 1 22 0 22 0 22 0 22 0 22 0 22 0 21 0 22 0 46 0 100 0 99 0 100 0"/><path d="M4986 935l59-7 60-12 59-26 60-35 59-32 60-28 59-26 60-14 59 5 60 16 59 16 60 15 59 13 60 11 59 10 59 3 60-23 23-14 22-18 22-20 22-18 21-5 22 13 22 38 22 69 22 92 22 95 22 74 22 47 21 27 22 13 22 7 22 3 22 2 22 1 22 0 22 0 21 0 22 0 46 0 100 0 99 0 100 0"/><path d="M4986 862l59-5 60-11 59-28 60-37 59-34 60-30 59-28 60-13 59 9 60 21 59 21 60 20 59 18 60 16 59 13 59 7 60-20 23-11 22-12 22-13 22-12 21-7 22-6 22-4 22 1 22 5 22 19 22 39 22 71 21 103 22 108 22 80 22 45 22 23 22 10 22 4 22 2 21 1 22 0 46 0 100 0 99 0 100 0"/><path d="M4986 919l59-5 60-9 59-25 60-32 59-30 60-26 59-24 60-12 59 8 60 17 59 18 60 17 59 15 60 13 59 11 59 5 60-18 23-8 22-12 22-11 22-13 21-9 22-9 22-6 22 9 22 48 22 121 22 147 22 86 21 30 22 9 22 2 22 1 22 0 22 0 22 0 22 0 21 0 22 0 46 0 100 0 99 0 100 0"/><path d="M4986 882l59-1 60-6 59-21 60-29 59-27 60-22 59-21 60-8 59 11 60 21 59 22 60 20 59 19 60 16 59 15 59 9 60-17 23-11 22-13 22-13 22-12 21-5 22-1 22 2 22 7 22 10 22 19 22 27 22 40 21 54 22 62 22 61 22 50 22 35 22 22 22 14 22 7 21 4 22 3 46 2 100 0 99 0 100 0"/><path d="M4986 832l59-2 60-7 59-24 60-33 59-31 60-26 59-23 60-10 59 13 60 25 59 26 60 25 59 24 60 23 59 24 59 23 60 2 23 0 22-2 22 2 22 6 21 15 22 21 22 24 22 28 22 29 22 34 22 38 22 46 21 49 22 39 22 22 22 10 22 3 22 2 22 0 22 0 21 0 22 0 46 0 100 0 99 0 100 0"/><path d="M4986 841l59-3 60-9 59-25 60-35 59-32 60-26 59-24 60-9 59 15 60 28 59 30 60 30 59 32 60 33 59 35 59 34 60 20 23 8 22 6 22 8 22 9 21 14 22 16 22 16 22 19 22 19 22 22 22 26 22 32 21 36 22 31 22 17 22 8 22 4 22 1 22 0 22 0 21 0 22 0 46 0 100 0 99 0 100 0"/><path d="M4986 831l59-3 60-8 59-26 60-35 59-32 60-28 59-25 60-11 59 12 60 24 59 25 60 24 59 24 60 22 59 24 59 24 60 11 23 7 22 7 22 10 22 12 21 19 22 22 22 25 22 31 22 34 22 38 22 40 22 41 21 38 22 28 22 14 22 5 22 2 22 1 22 0 22 0 21 0 22 0 46 0 100 0 99 0 100 0"/><path d="M4986 875l59-3 60-7 59-22 60-31 59-26 60-21 59-14 60 4 59 31 60 51 59 62 60 68 59 69 60 60 59 47 59 32 60 19 23 5 22 4 22 4 22 3 21 3 22 3 22 2 22 2 22 1 22 1 22 2 22 1 21 1 22 1 22 0 22 0 22 0 22 0 22 0 22 0 21 0 22 0 46 0 100 0 99 0 100 0"/><path d="M4986 929l59-5 60-10 59-24 60-33 59-29 60-26 59-24 60-12 59 6 60 17 59 17 60 16 59 15 60 12 59 10 59 3 60-27 23-14 22-14 22-11 22-8 21 0 22 2 22 6 22 21 22 47 22 87 22 109 22 86 21 47 22 21 22 8 22 3 22 2 22 0 22 0 22 0 21 0 22 0 46 0 100 0 99 0 100 0"/><path d="M4986 908l59-4 60-8 59-23 60-31 59-28 60-23 59-21 60-8 59 15 60 29 59 38 60 49 59 63 60 71 59 69 59 53 60 32 23 9 22 7 22 6 22 4 21 5 22 3 22 3 22 2 22 1 22 2 22 1 22 1 21 1 22 1 22 0 22 0 22 0 22 0 22 0 22 0 21 0 22 0 46 0 100 0 99 0 100 0"/><path d="M4986 844l59-4 60-8 59-26 60-35 59-32 60-28 59-25 60-11 59 11 60 23 59 23 60 22 59 21 60 17 59 15 59 8 60-26 23-14 22-14 22-9 22-1 21 20 22 42 22 72 22 96 22 94 22 71 22 41 22 22 21 10 22 4 22 3 22 0 22 1 22 0 22 0 22 0 21 0 22 0 46 0 100 0 99 0 100 0"/><path d="M4986 890l59-2 60-6 59-20 60-29 59-25 60-23 59-20 60-8 59 11 60 20 59 22 60 19 59 19 60 16 59 14 59 9 60-14 23-8 22-11 22-12 22-13 21-8 22-7 22-2 22 7 22 16 22 33 22 52 22 69 21 76 22 65 22 45 22 26 22 13 22 7 22 3 22 2 21 1 22 0 46 0 100 0 99 0 100 0"/><path d="M4986 926l59-3 60-8 59-21 60-28 59-25 60-22 59-18 60-6 59 14 60 25 59 28 60 31 59 33 60 36 59 39 59 38 60 27 23 11 22 10 22 9 22 11 21 11 22 11 22 10 22 11 22 10 22 10 22 11 22 13 21 13 22 10 22 6 22 3 22 1 22 0 22 0 22 0 21 0 22 0 46 0 100 0 99 0 100 0"/><path d="M4986 882l59-2 60-7 59-22 60-30 59-27 60-21 59-18 60-3 59 20 60 34 59 39 60 44 59 48 60 52 59 51 59 46 60 33 23 12 22 10 22 9 22 8 21 8 22 8 22 7 22 6 22 6 22 6 22 6 22 7 21 6 22 5 22 3 22 1 22 0 22 0 22 0 22 0 21 0 22 0 46 0 100 0 99 0 100 0"/><path d="M4986 883l59-4 60-8 59-24 60-33 59-30 60-27 59-23 60-11 59 9 60 20 59 21 60 19 59 18 60 15 59 14 59 7 60-16 23-9 22-11 22-10 22-11 21-3 22 2 22 15 22 37 22 60 22 78 22 79 22 65 21 44 22 27 22 16 22 8 22 5 22 2 22 2 22 0 21 1 22 0 46 0 100 0 99 0 100 0"/><path d="M4986 879l59 0 60-4 59-18 60-26 59-23 60-19 59-16 60-3 59 17 60 28 59 31 60 32 59 35 60 36 59 38 59 37 60 26 23 9 22 9 22 8 22 9 21 11 22 11 22 12 22 12 22 12 22 13 22 14 22 15 21 17 22 13 22 7 22 3 22 2 22 0 22 0 22 0 21 0 22 0 46 0 100 0 99 0 100 0"/><path d="M4986 868l59-6 60-10 59-28 60-37 59-34 60-30 59-28 60-13 59 9 60 20 59 21 60 20 59 18 60 15 59 13 59 5 60-31 23-21 22-25 22-25 22-20 21-6 22 2 22 9 22 16 22 28 22 65 22 125 22 151 21 97 22 40 22 13 22 4 22 2 22 0 22 0 22 0 21 0 22 0 46 0 100 0 99 0 100 0"/><path d="M4986 867l59-3 60-7 59-22 60-30 59-25 60-18 59-11 60 9 59 35 60 53 59 61 60 64 59 62 60 54 59 44 59 32 60 19 23 6 22 5 22 4 22 4 21 3 22 3 22 3 22 3 22 2 22 2 22 2 22 2 21 2 22 1 22 1 22 0 22 0 22 0 22 0 22 0 21 0 22 0 46 0 100 0 99 0 100 0"/><path d="M4986 892l59-7 60-11 59-28 60-36 59-34 60-29 59-26 60-12 59 11 60 24 59 30 60 33 59 42 60 50 59 60 59 63 60 52 23 18 22 16 22 15 22 14 21 14 22 12 22 11 22 10 22 8 22 7 22 7 22 7 21 6 22 5 22 2 22 1 22 0 22 0 22 0 22 0 21 0 22 0 46 0 100 0 99 0 100 0"/><path d="M4986 880l59-4 60-7 59-24 60-32 59-29 60-24 59-23 60-8 59 12 60 25 59 26 60 27 59 28 60 29 59 33 59 32 60 20 23 9 22 8 22 9 22 11 21 14 22 15 22 16 22 17 22 17 22 20 22 23 22 28 21 30 22 25 22 14 22 7 22 2 22 1 22 0 22 0 21 0 22 0 46 0 100 0 99 0 100 0"/><path d="M4986 904l59-5 60-9 59-25 60-33 59-30 60-26 59-24 60-11 59 8 60 18 59 20 60 17 59 17 60 13 59 12 59 6 60-18 23-9 22-11 22-10 22-8 21 6 22 30 22 81 22 130 22 107 22 51 22 18 22 6 21 1 22 1 22 0 22 0 22 0 22 0 22 0 22 0 21 0 22 0 46 0 100 0 99 0 100 0"/><path d="M4986 901l59-4 60-7 59-22 60-31 59-28 60-24 59-22 60-9 59 9 60 19 59 20 60 19 59 17 60 15 59 13 59 7 60-16 23-8 22-9 22-7 22-2 21 14 22 38 22 71 22 96 22 83 22 51 22 25 22 11 21 4 22 2 22 1 22 0 22 0 22 0 22 0 22 0 21 0 22 0 46 0 100 0 99 0 100 0"/><path d="M4986 911l59-3 60-7 59-22 60-29 59-27 60-23 59-21 60-9 59 9 60 19 59 19 60 18 59 17 60 14 59 13 59 8 60-12 23-4 22-3 22 2 22 11 21 29 22 46 22 58 22 63 22 53 22 39 22 25 22 15 21 8 22 5 22 2 22 2 22 0 22 1 22 0 22 0 21 0 22 0 46 0 100 0 99 0 100 0"/><path d="M4986 845l59-2 60-7 59-24 60-32 59-29 60-23 59-19 60-3 59 23 60 40 59 48 60 55 59 62 60 64 59 62 59 51 60 35 23 10 22 9 22 8 22 8 21 7 22 6 22 6 22 4 22 4 22 4 22 4 22 3 21 4 22 2 22 1 22 1 22 0 22 0 22 0 22 0 21 0 22 0 46 0 100 0 99 0 100 0"/><path d="M4986 890l59-2 60-6 59-20 60-28 59-26 60-21 59-20 60-8 59 11 60 21 59 23 60 22 59 22 60 24 59 29 59 36 60 33 23 16 22 17 22 20 22 22 21 24 22 24 22 22 22 20 22 17 22 15 22 14 22 13 21 11 22 7 22 3 22 2 22 0 22 0 22 0 22 0 21 0 22 0 46 0 100 0 99 0 100 0"/><path d="M4986 874l59-6 60-10 59-28 60-37 59-34 60-30 59-27 60-14 59 9 60 20 59 20 60 19 59 18 60 15 59 12 59 7 60-21 23-10 22-12 22-12 22-9 21 1 22 15 22 45 22 90 22 118 22 103 22 62 22 29 21 12 22 5 22 2 22 1 22 0 22 0 22 0 22 0 21 0 22 0 46 0 100 0 99 0 100 0"/><path d="M4986 866l59-4 60-9 59-25 60-34 59-31 60-27 59-24 60-11 59 10 60 21 59 22 60 21 59 19 60 16 59 14 59 8 60-16 23-7 22-7 22-2 22 8 21 33 22 62 22 86 22 88 22 68 22 41 22 21 22 11 21 5 22 2 22 1 22 1 22 0 22 0 22 0 22 0 21 0 22 0 46 0 100 0 99 0 100 0"/><path d="M4986 922l59-3 60-7 59-21 60-29 59-26 60-23 59-21 60-9 59 9 60 18 59 19 60 17 59 17 60 15 59 17 59 15 60 4 23 4 22 6 22 10 22 16 21 25 22 28 22 31 22 32 22 30 22 30 22 28 22 26 21 22 22 14 22 7 22 3 22 1 22 0 22 0 22 0 21 0 22 0 46 0 100 0 99 0 100 0"/><path d="M4986 903l59-3 60-7 59-21 60-30 59-27 60-23 59-22 60-9 59 9 60 20 59 20 60 18 59 17 60 15 59 13 59 7 60-19 23-11 22-13 22-11 22-9 21-1 22 3 22 10 22 22 22 42 22 68 22 83 22 75 21 52 22 29 22 15 22 7 22 3 22 1 22 1 22 0 21 0 22 0 46 0 100 0 99 0 100 0"/><path d="M4986 940l59-5 60-9 59-23 60-31 59-28 60-24 59-22 60-11 59 6 60 17 59 16 60 16 59 14 60 12 59 10 59 5 60-16 23-8 22-11 22-10 22-10 21-5 22-1 22 11 22 42 22 95 22 121 22 83 22 36 21 12 22 4 22 1 22 0 22 0 22 0 22 0 22 0 21 0 22 0 46 0 100 0 99 0 100 0"/><path d="M4986 812l59-3 60-9 59-27 60-37 59-34 60-29 59-27 60-11 59 12 60 25 59 25 60 24 59 22 60 20 59 17 59 10 60-20 23-10 22-13 22-13 22-12 21-4 22 3 22 12 22 29 22 49 22 74 22 89 22 85 21 68 22 45 22 26 22 14 22 7 22 4 22 2 22 1 21 1 22 0 46 0 100 0 99 0 100 0"/><path d="M4986 881l59-3 60-9 59-24 60-33 59-29 60-25 59-23 60-8 59 13 60 27 59 30 60 33 59 38 60 43 59 49 59 51 60 42 23 15 22 14 22 14 22 14 21 14 22 13 22 12 22 11 22 10 22 11 22 10 22 11 21 11 22 7 22 5 22 1 22 1 22 0 22 0 22 0 21 0 22 0 46 0 100 0 99 0 100 0"/><path d="M4986 886l59-2 60-7 59-22 60-30 59-28 60-23 59-22 60-9 59 10 60 21 59 21 60 20 59 18 60 16 59 14 59 8 60-21 23-13 22-14 22-13 22-11 21-2 22 0 22 1 22 4 22 5 22 11 22 16 22 26 21 40 22 57 22 66 22 65 22 53 22 37 22 22 22 13 21 7 22 3 46 3 100 1 99 0 100 0"/><path d="M4986 888l59-3 60-7 59-22 60-31 59-27 60-24 59-22 60-9 59 10 60 20 59 21 60 20 59 18 60 17 59 15 59 12 60-14 23-8 22-8 22-3 22 3 21 14 22 22 22 27 22 32 22 35 22 40 22 45 22 51 21 49 22 36 22 19 22 8 22 2 22 1 22 0 22 0 21 0 22 0 46 0 100 0 99 0 100 0"/><path d="M4986 857l59-1 60-5 59-20 60-26 59-20 60-11 59-3 60 18 59 43 60 58 59 60 60 59 59 53 60 45 59 35 59 26 60 16 23 5 22 4 22 4 22 3 21 3 22 3 22 3 22 3 22 2 22 2 22 3 22 2 21 2 22 2 22 1 22 1 22 0 22 0 22 0 22 0 21 0 22 0 46 0 100 0 99 0 100 0"/><path d="M4986 907l59-4 60-9 59-24 60-32 59-29 60-26 59-23 60-10 59 9 60 19 59 21 60 20 59 20 60 20 59 21 59 19 60 5 23 3 22 2 22 4 22 5 21 11 22 12 22 14 22 18 22 20 22 26 22 33 22 43 21 49 22 41 22 25 22 11 22 4 22 1 22 1 22 0 21 0 22 0 46 0 100 0 99 0 100 0"/><path d="M4986 904l59-3 60-8 59-23 60-31 59-29 60-24 59-23 60-10 59 9 60 19 59 19 60 18 59 17 60 14 59 13 59 7 60-19 23-10 22-11 22-6 22 8 21 38 22 72 22 93 22 84 22 55 22 29 22 14 22 6 21 3 22 1 22 1 22 0 22 0 22 0 22 0 22 0 21 0 22 0 46 0 100 0 99 0 100 0"/><path d="M4986 895l59-5 60-9 59-25 60-33 59-31 60-26 59-25 60-12 59 9 60 19 59 20 60 18 59 17 60 14 59 13 59 6 60-18 23-8 22-11 22-10 22-10 21-1 22 4 22 15 22 36 22 61 22 84 22 86 22 67 21 42 22 23 22 11 22 6 22 3 22 1 22 1 22 0 21 0 22 0 46 0 100 0 99 0 100 0"/><path d="M4986 911l59-5 60-9 59-23 60-31 59-27 60-22 59-17 60-3 59 19 60 32 59 36 60 38 59 40 60 42 59 41 59 38 60 26 23 10 22 8 22 7 22 7 21 8 22 9 22 8 22 9 22 10 22 10 22 10 22 12 21 13 22 10 22 6 22 3 22 1 22 0 22 0 22 0 21 0 22 0 46 0 100 0 99 0 100 0"/><path d="M4986 894l59-2 60-7 59-21 60-29 59-26 60-20 59-17 60-1 59 25 60 43 59 58 60 69 59 74 60 67 59 50 59 31 60 17 23 5 22 3 22 3 22 2 21 2 22 1 22 2 22 1 22 0 22 1 22 1 22 0 21 1 22 0 22 0 22 0 22 0 22 0 22 0 22 0 21 0 22 0 46 0 100 0 99 0 100 0"/><path d="M4986 886l59-4 60-8 59-24 60-32 59-29 60-26 59-23 60-11 59 9 60 21 59 20 60 20 59 18 60 15 59 13 59 8 60-18 23-9 22-13 22-13 22-13 21-7 22-1 22 6 22 21 22 39 22 62 22 78 22 80 21 66 22 43 22 26 22 13 22 7 22 4 22 1 22 1 21 1 22 0 46 0 100 0 99 0 100 0"/><path d="M4986 871l59-4 60-8 59-25 60-33 59-31 60-27 59-24 60-11 59 10 60 21 59 22 60 20 59 18 60 16 59 14 59 8 60-17 23-9 22-12 22-12 22-12 21-5 22-1 22 9 22 28 22 54 22 83 22 95 22 80 21 52 22 30 22 14 22 7 22 3 22 2 22 1 22 0 21 0 22 0 46 0 100 0 99 0 100 0"/><path d="M4986 852l59-4 60-9 59-25 60-35 59-32 60-28 59-25 60-12 59 11 60 22 59 23 60 21 59 20 60 17 59 15 59 9 60-18 23-9 22-12 22-12 22-11 21-4 22 0 22 10 22 29 22 56 22 87 22 99 22 82 21 54 22 29 22 15 22 6 22 4 22 1 22 1 22 0 21 0 22 0 46 0 100 0 99 0 100 0"/><path d="M4986 905l59-6 60-10 59-26 60-34 59-31 60-27 59-25 60-13 59 8 60 18 59 19 60 17 59 16 60 14 59 11 59 6 60-20 23-10 22-12 22-12 22-10 21-2 22 3 22 9 22 20 22 34 22 53 22 67 22 73 21 64 22 49 22 33 22 20 22 12 22 6 22 4 22 2 21 1 22 1 46 0 100 0 99 0 100 0"/><path d="M4986 907l59-4 60-8 59-23 60-32 59-28 60-25 59-23 60-10 59 8 60 19 59 19 60 18 59 16 60 14 59 12 59 7 60-15 23-8 22-9 22-7 22-3 21 9 22 22 22 38 22 56 22 67 22 66 22 53 22 37 21 24 22 13 22 8 22 4 22 3 22 1 22 0 22 1 21 0 22 0 46 0 100 0 99 0 100 0"/><path d="M4986 923l59-4 60-8 59-23 60-30 59-27 60-24 59-22 60-10 59 8 60 17 59 19 60 16 59 16 60 13 59 12 59 6 60-16 23-8 22-9 22-9 22-8 21-2 22 4 22 15 22 34 22 57 22 78 22 77 22 59 21 36 22 19 22 10 22 4 22 2 22 1 22 1 22 0 21 0 22 0 46 0 100 0 99 0 100 0"/><path d="M4986 849l59-2 60-7 59-24 60-33 59-30 60-25 59-23 60-10 59 11 60 23 59 24 60 22 59 20 60 18 59 16 59 10 60-17 23-8 22-11 22-11 22-11 21-4 22 3 22 26 22 77 22 127 22 117 22 63 22 25 21 8 22 3 22 1 22 0 22 0 22 0 22 0 22 0 21 0 22 0 46 0 100 0 99 0 100 0"/><path d="M4986 879l59-6 60-10 59-26 60-36 59-33 60-28 59-27 60-12 59 8 60 20 59 21 60 19 59 17 60 15 59 13 59 7 60-19 23-10 22-11 22-11 22-10 21-2 22 2 22 9 22 25 22 42 22 67 22 82 22 80 21 64 22 43 22 25 22 14 22 8 22 4 22 2 22 1 21 1 22 0 46 0 100 0 99 0 100 0"/></g>
<g transform="scale(.1)" fill="none" stroke="#ff00ff" stroke-width="7" stroke-opacity="0.2"><path d="M4986 107l36 8 35 24 36 38 36 52 35 62 36 71 36 78 35 80 36 81 36 80 35 77 36 71 35 66 36 58 36 52 35 44 36 38 36 31 35 26 36 20 36 16 35 13 36 9 36 7 35 6 36 4 36 2 35 2 36 2"/></g>
<g transform="scale(.1)" fill="none" stroke="#ff00ff" stroke-width="6" stroke-opacity="0.06"><path d="M4986 900l31-2 30-2 31-4 31-5 30-11 31-15 30-16 31-18 31-16 30-13 31-13 31-13 30-12 31-11 31-8 45 4 83 24 83 29 83 24 82 22 83 16"/><path d="M4986 899l31-2 30-2 31-4 31-5 30-11 31-16 30-18 31-19 31-18 30-15 31-16 31-15 30-15 31-11 31-9 45 5 83 30 83 35 83 28 82 23 83 16"/><path d="M4986 881l31-1 30-1 31-2 31-5 30-10 31-16 30-17 31-19 31-18 30-16 31-16 31-16 30-15 31-12 31-8 45 6 83 34 83 38 83 31 82 24 83 16"/><path d="M4986 868l31 1 30 0 31-1 31-3 30-10 31-15 30-16 31-18 31-18 30-15 31-16 31-16 30-14 31-12 31-8 45 6 83 35 83 39 83 30 82 24 83 17"/><path d="M4986 873l31 0 30 1 31-2 31-3 30-9 31-14 30-16 31-17 31-16 30-13 31-13 31-13 30-13 31-10 31-8 45 5 83 28 83 32 83 28 82 22 83 17"/><path d="M4986 890l31-2 30-1 31-3 31-5 30-11 31-16 30-18 31-19 31-19 30-17 31-17 31-17 30-16 31-12 31-9 45 6 83 35 83 39 83 31 82 24 83 16"/><path d="M4986 874l31 1 30 0 31-1 31-3 30-10 31-15 30-16 31-18 31-18 30-15 31-16 31-15 30-15 31-11 31-8 45 6 83 32 83 38 83 29 82 24 83 16"/><path d="M4986 881l31-1 30-1 31-2 31-5 30-10 31-16 30-17 31-18 31-19 30-15 31-16 31-16 30-15 31-11 31-9 45 6 83 33 83 38 83 30 82 24 83 17"/><path d="M4986 870l31 2 30 2 31-1 31-2 30-7 31-12 30-12 31-13 31-11 30-8 31-7 31-8 30-8 31-7 31-6 45 2 83 14 83 17 83 19 82 20 83 16"/><path d="M4986 863l31 4 30 2 31 0 31-1 30-8 31-13 30-15 31-16 31-15 30-13 31-12 31-13 30-12 31-10 31-8 45 5 83 26 83 31 83 26 82 23 83 16"/><path d="M4986 899l31-2 30-2 31-3 31-6 30-11 31-15 30-17 31-18 31-17 30-14 31-14 31-13 30-14 31-10 31-9 45 4 83 27 83 31 83 26 82 22 83 16"/><path d="M4986 897l31-2 30-2 31-3 31-6 30-11 31-16 30-18 31-20 31-19 30-17 31-17 31-17 30-16 31-12 31-9 45 6 83 33 83 39 83 30 82 24 83 16"/><path d="M4986 874l31 0 30-1 31-2 31-3 30-9 31-13 30-14 31-15 31-13 30-10 31-10 31-10 30-10 31-8 31-7 45 4 83 20 83 24 83 22 82 22 83 16"/><path d="M4986 887l31-1 30-1 31-3 31-6 30-11 31-17 30-20 31-21 31-22 30-20 31-21 31-20 30-19 31-14 31-9 45 7 83 43 83 49 83 36 82 25 83 17"/><path d="M4986 885l31-1 30-1 31-2 31-4 30-10 31-14 30-16 31-16 31-15 30-12 31-12 31-12 30-11 31-10 31-8 45 4 83 24 83 27 83 25 82 22 83 15"/><path d="M4986 869l31 0 30 0 31-3 31-4 30-11 31-16 30-19 31-20 31-21 30-19 31-20 31-19 30-17 31-14 31-9 45 8 83 43 83 48 83 36 82 26 83 17"/><path d="M4986 890l31-2 30-1 31-3 31-5 30-11 31-16 30-18 31-20 31-19 30-17 31-17 31-16 30-16 31-12 31-9 45 6 83 34 83 40 83 31 82 23 83 17"/><path d="M4986 858l31 4 30 3 31 1 31-2 30-8 31-13 30-16 31-18 31-18 30-15 31-16 31-15 30-15 31-12 31-8 45 6 83 34 83 39 83 31 82 23 83 17"/><path d="M4986 895l31-2 30-2 31-3 31-5 30-11 31-15 30-17 31-18 31-17 30-14 31-15 31-14 30-14 31-10 31-9 45 5 83 28 83 32 83 27 82 23 83 16"/><path d="M4986 883l31-1 30-1 31-3 31-4 30-11 31-15 30-17 31-18 31-18 30-15 31-15 31-15 30-15 31-11 31-8 45 5 83 32 83 36 83 29 82 23 83 17"/><path d="M4986 883l31-1 30-1 31-2 31-5 30-10 31-16 30-17 31-18 31-18 30-16 31-16 31-16 30-15 31-11 31-9 45 6 83 33 83 37 83 30 82 24 83 17"/><path d="M4986 889l31-1 30-2 31-3 31-5 30-11 31-15 30-18 31-19 31-18 30-16 31-16 31-15 30-15 31-12 31-9 45 6 83 32 83 37 83 30 82 23 83 17"/><path d="M4986 884l31-1 30-2 31-3 31-5 30-12 31-17 30-20 31-22 31-22 30-21 31-21 31-21 30-19 31-15 31-9 45 8 83 45 83 50 83 37 82 26 83 17"/><path d="M4986 857l31 0 30 0 31-1 31-4 30-10 31-16 30-18 31-20 31-21 30-18 31-20 31-19 30-17 31-13 31-9 45 9 83 44 83 48 83 37 82 27 83 17"/><path d="M4986 864l31 1 30 1 31-1 31-2 30-9 31-14 30-14 31-17 31-15 30-12 31-13 31-13 30-12 31-10 31-7 45 5 83 28 83 32 83 27 82 23 83 16"/><path d="M4986 898l31-1 30-2 31-4 31-5 30-11 31-15 30-17 31-18 31-16 30-14 31-14 31-14 30-13 31-10 31-9 45 4 83 26 83 31 83 26 82 22 83 16"/><path d="M4986 886l31-1 30 0 31-3 31-4 30-10 31-15 30-17 31-18 31-17 30-14 31-15 31-14 30-14 31-11 31-8 45 5 83 29 83 34 83 28 82 22 83 16"/><path d="M4986 878l31 0 30-1 31-2 31-4 30-10 31-16 30-17 31-18 31-18 30-16 31-16 31-16 30-15 31-11 31-9 45 6 83 34 83 38 83 31 82 24 83 16"/><path d="M4986 867l31 0 30 0 31-2 31-3 30-9 31-14 30-15 31-16 31-14 30-12 31-12 31-12 30-11 31-9 31-8 45 5 83 26 83 29 83 26 82 23 83 17"/><path d="M4986 891l31-1 30-1 31-3 31-5 30-11 31-15 30-18 31-18 31-18 30-16 31-15 31-15 30-15 31-12 31-8 45 5 83 31 83 36 83 28 82 24 83 16"/><path d="M4986 876l31 0 30 0 31-1 31-3 30-9 31-13 30-14 31-15 31-13 30-10 31-10 31-10 30-9 31-8 31-8 45 4 83 19 83 23 83 23 82 21 83 16"/><path d="M4986 899l31-1 30-2 31-4 31-5 30-11 31-14 30-16 31-17 31-15 30-12 31-13 31-11 30-12 31-10 31-8 45 4 83 21 83 26 83 24 82 21 83 16"/><path d="M4986 889l31-1 30-1 31-3 31-4 30-11 31-15 30-17 31-18 31-18 30-15 31-15 31-15 30-14 31-11 31-9 45 5 83 30 83 35 83 29 82 23 83 16"/><path d="M4986 886l31-1 30-1 31-3 31-5 30-10 31-15 30-17 31-18 31-17 30-14 31-15 31-14 30-14 31-10 31-9 45 5 83 29 83 34 83 28 82 23 83 16"/><path d="M4986 886l31-1 30-1 31-3 31-4 30-10 31-14 30-16 31-17 31-15 30-12 31-13 31-12 30-12 31-9 31-8 45 4 83 24 83 28 83 25 82 22 83 16"/><path d="M4986 865l31 2 30 2 31-1 31-3 30-9 31-14 30-16 31-18 31-17 30-15 31-16 31-15 30-15 31-11 31-8 45 6 83 34 83 38 83 30 82 24 83 16"/><path d="M4986 898l31-2 30-2 31-4 31-6 30-11 31-16 30-19 31-19 31-19 30-17 31-17 31-17 30-16 31-12 31-9 45 5 83 34 83 38 83 31 82 23 83 17"/><path d="M4986 898l31-1 30-2 31-4 31-5 30-11 31-16 30-16 31-18 31-17 30-14 31-15 31-14 30-13 31-11 31-8 45 4 83 27 83 31 83 27 82 22 83 16"/><path d="M4986 894l31-1 30-2 31-3 31-4 30-10 31-15 30-15 31-17 31-15 30-12 31-12 31-12 30-12 31-9 31-8 45 3 83 23 83 26 83 24 82 21 83 16"/><path d="M4986 856l31 1 30 1 31 0 31-3 30-8 31-14 30-15 31-16 31-15 30-13 31-13 31-13 30-13 31-9 31-8 45 6 83 30 83 34 83 28 82 24 83 16"/></g>
<g transform="scale(.1)" fill="none" stroke="#ff00ff" stroke-width="6" stroke-opacity="0.04"><path d="M5767 816l18 4 19 5 18 4 18 5 18 4 19 3 18 3 18 2 19 2 18-1 18-7 18-9 19-9 18-10 18-10 18-5 19 7 18 31 18 64 18 92 19 93 18 68 18 39 18 19 19 8 18 4 18 2 18 1 19 0 18 0 18 0 19 0 18 0 18 0 18 0 19 0 18 0 18 0 18 0"/><path d="M5767 816l18 4 19 5 18 4 18 5 18 4 19 3 18 3 18 2 19 2 18 0 18-9 18-9 19-11 18-13 18-13 18-6 19 12 18 46 18 89 18 108 19 89 18 52 18 24 18 11 19 4 18 2 18 1 18 0 19 0 18 0 18 0 19 0 18 0 18 0 18 0 19 0 18 0 18 0 18 0"/><path d="M5767 816l18 4 19 5 18 4 18 5 18 4 19 3 18 3 18 2 19 2 18 1 18-7 18-6 19-7 18-7 18-9 18-9 19-9 18-7 18-5 18-5 19-5 18-1 18 2 18 15 19 53 18 123 18 146 18 79 19 26 18 7 18 1 19 1 18 0 18 0 18 0 19 0 18 0 18 0 18 0"/><path d="M5767 816l18 4 19 5 18 4 18 5 18 4 19 3 18 3 18 2 19 2 18 0 18-6 18-7 19-8 18-8 18-9 18-10 19-6 18 0 18 18 18 49 19 95 18 117 18 85 18 41 19 17 18 6 18 2 18 1 19 0 18 0 18 0 19 0 18 0 18 0 18 0 19 0 18 0 18 0 18 0"/><path d="M5767 816l18 4 19 5 18 4 18 5 18 4 19 3 18 3 18 2 19 2 18 1 18-7 18-7 19-7 18-9 18-13 18-15 19-17 18-15 18-11 18-1 19 16 18 48 18 88 18 113 19 99 18 62 18 30 18 13 19 5 18 3 18 1 19 0 18 0 18 0 18 0 19 0 18 0 18 0 18 0"/><path d="M5767 816l18 4 19 5 18 4 18 5 18 4 19 3 18 3 18 2 19 2 18 1 18-7 18-6 19-7 18-7 18-9 18-9 19-9 18-7 18-6 18-5 19-3 18 6 18 22 18 47 19 77 18 92 18 83 18 58 19 33 18 18 18 8 19 4 18 2 18 0 18 1 19 0 18 0 18 0 18 0"/><path d="M5767 816l18 4 19 5 18 4 18 5 18 4 19 3 18 3 18 2 19 2 18 1 18-7 18-6 19-6 18-7 18-9 18-8 19-8 18-4 18 4 18 16 19 35 18 61 18 77 18 79 19 64 18 42 18 25 18 14 19 7 18 4 18 1 19 1 18 1 18 0 18 0 19 0 18 0 18 0 18 0"/><path d="M5767 816l18 4 19 5 18 4 18 5 18 4 19 3 18 3 18 2 19 2 18 1 18-7 18-7 19-7 18-8 18-10 18-9 19-6 18 7 18 39 18 97 19 135 18 94 18 40 18 13 19 3 18 2 18 0 18 0 19 0 18 0 18 0 19 0 18 0 18 0 18 0 19 0 18 0 18 0 18 0"/><path d="M5767 816l18 4 19 5 18 4 18 5 18 4 19 3 18 3 18 2 19 2 18 1 18-6 18-7 19-6 18-6 18-6 18-4 19 1 18 13 18 33 18 54 19 75 18 79 18 64 18 42 19 25 18 13 18 6 18 3 19 2 18 0 18 1 19 0 18 0 18 0 18 0 19 0 18 0 18 0 18 0"/><path d="M5767 816l18 4 19 5 18 4 18 5 18 4 19 3 18 3 18 2 19 2 18 0 18-8 18-9 19-10 18-13 18-15 18-14 19-10 18 1 18 27 18 79 19 138 18 123 18 59 18 21 19 6 18 1 18 1 18 0 19 0 18 0 18 0 19 0 18 0 18 0 18 0 19 0 18 0 18 0 18 0"/><path d="M5767 816l18 4 19 5 18 4 18 5 18 4 19 3 18 3 18 2 19 2 18 1 18-7 18-7 19-7 18-9 18-11 18-12 19-12 18-4 18 9 18 32 19 66 18 97 18 96 18 70 19 40 18 19 18 9 18 4 19 2 18 1 18 0 19 0 18 0 18 0 18 0 19 0 18 0 18 0 18 0"/><path d="M5767 816l18 4 19 5 18 4 18 5 18 4 19 3 18 3 18 2 19 2 18 1 18-7 18-6 19-7 18-7 18-9 18-10 19-11 18-12 18-12 18-15 19-10 18 3 18 25 18 61 19 107 18 125 18 90 18 44 19 18 18 6 18 2 19 1 18 0 18 0 18 0 19 0 18 0 18 0 18 0"/><path d="M5767 816l18 4 19 5 18 4 18 5 18 4 19 3 18 3 18 2 19 2 18 1 18-7 18-6 19-7 18-8 18-10 18-10 19-10 18-5 18 5 18 23 19 58 18 97 18 108 18 78 19 41 18 17 18 8 18 2 19 1 18 1 18 0 19 0 18 0 18 0 18 0 19 0 18 0 18 0 18 0"/><path d="M5767 816l18 4 19 5 18 4 18 5 18 4 19 3 18 3 18 2 19 2 18 1 18-7 18-6 19-7 18-7 18-9 18-9 19-9 18-7 18-5 18-4 19-3 18 2 18 8 18 21 19 42 18 67 18 88 18 85 19 63 18 37 18 19 19 9 18 5 18 1 18 1 19 1 18 0 18 0 18 0"/><path d="M5767 816l18 4 19 5 18 4 18 5 18 4 19 3 18 3 18 2 19 2 18 1 18-7 18-6 19-7 18-7 18-10 18-9 19-11 18-10 18-7 18-8 19-3 18 9 18 30 18 59 19 87 18 94 18 77 18 50 19 28 18 14 18 7 19 3 18 2 18 0 18 1 19 0 18 0 18 0 18 0"/><path d="M5767 816l18 4 19 5 18 4 18 5 18 4 19 3 18 3 18 2 19 2 18 1 18-7 18-6 19-7 18-7 18-9 18-9 19-9 18-8 18-6 18-7 19-7 18-2 18 5 18 21 19 45 18 75 18 99 18 94 19 62 18 33 18 15 19 7 18 2 18 1 18 1 19 0 18 0 18 0 18 0"/><path d="M5767 816l18 4 19 5 18 4 18 5 18 4 19 3 18 3 18 2 19 2 18 1 18-7 18-6 19-7 18-8 18-10 18-10 19-9 18-7 18-1 18 4 19 15 18 36 18 60 18 83 19 86 18 68 18 43 18 24 19 11 18 6 18 3 19 1 18 1 18 0 18 0 19 0 18 0 18 0 18 0"/><path d="M5767 816l18 4 19 5 18 4 18 5 18 4 19 3 18 3 18 2 19 2 18 1 18-7 18-7 19-7 18-11 18-15 18-17 19-12 18 4 18 29 18 57 19 81 18 90 18 77 18 53 19 30 18 16 18 8 18 4 19 2 18 0 18 1 19 0 18 0 18 0 18 0 19 0 18 0 18 0 18 0"/><path d="M5767 816l18 4 19 5 18 4 18 5 18 4 19 3 18 3 18 2 19 2 18 1 18-7 18-6 19-7 18-7 18-9 18-9 19-11 18-10 18-10 18-6 19 14 18 52 18 92 18 110 19 90 18 54 18 27 18 11 19 5 18 2 18 1 19 0 18 0 18 0 18 0 19 0 18 0 18 0 18 0"/><path d="M5767 816l18 4 19 5 18 4 18 5 18 4 19 3 18 3 18 2 19 2 18 1 18-7 18-7 19-7 18-9 18-12 18-15 19-16 18-14 18-12 18-7 19 4 18 26 18 58 18 96 19 112 18 90 18 53 18 25 19 11 18 4 18 2 19 1 18 0 18 0 18 0 19 0 18 0 18 0 18 0"/></g>
<g transform="scale(.1)" fill="none" stroke="#ff00ff" stroke-width="6" stroke-opacity="0.1"><path d="M4986 887l46-3 46-5 46-8 46-23 46-25 46-25 46-20 46-19 46-19 46-13 45 4 46 11 46-32 46-155 46 102 46 137 46 26 46 13 46 14 46 13 46 15 46 6 46 19 46 39 46 65 46 69 46 60 46 41 46 25 45 13 46 7 46 4 46 2 46 1 46 1 46 0 46 0 46 0 46 0 46 0"/><path d="M4986 887l46-3 46-5 46-8 46-23 46-25 46-25 46-20 46-19 46-19 46-13 45 4 46 12 46 16 46 16 46 16 46 11 46-37 46-81 46 109 46 64 46 18 46 6 46 19 46 39 46 65 46 69 46 60 46 41 46 25 45 13 46 7 46 4 46 2 46 1 46 1 46 0 46 0 46 0 46 0 46 0"/><path d="M4986 887l46-3 46-5 46-9 46-27 46-42 46-63 46-60 46-19 46 21 46 25 45 21 46 17 46 16 46 16 46 16 46 14 46 15 46 13 46 14 46 13 46 15 46 6 46 19 46 39 46 65 46 69 46 60 46 41 46 25 45 13 46 7 46 4 46 2 46 1 46 1 46 0 46 0 46 0 46 0 46 0"/><path d="M4986 854l46-3 46-5 46-8 46-24 46-26 46-24 46-18 46-14 46-10 46 1 45 24 46 37 46 47 46 53 46 56 46 54 46 52 46 45 46 38 46 28 46 21 46 13 46 10 46 7 46 6 46 4 46 3 46 2 46 2 45 0 46 1 46 0 46 1 46 0 46 0 46 0 46 0 46 0 46 0 46 0"/><path d="M4986 819l46-3 46-6 46-10 46-27 46-30 46-29 46-23 46-21 46-20 46-12 45 10 46 21 46 28 46 33 46 35 46 40 46 45 46 48 46 51 46 50 46 47 46 35 46 31 46 27 46 24 46 19 46 14 46 10 46 7 45 5 46 3 46 2 46 1 46 1 46 1 46 0 46 1 46 0 46 0 46 0"/><path d="M4986 923l46-1 46-3 46-5 46-17 46-16 46-13 46-5 46 2 46 11 46 22 45 41 46 49 46 49 46 46 46 38 46 31 46 23 46 16 46 12 46 8 46 5 46 3 46 3 46 1 46 2 46 0 46 1 46 0 46 1 45 0 46 0 46 0 46 0 46 0 46 0 46 0 46 0 46 0 46 0 46 0"/></g>
<g transform="scale(.1)" fill="none" stroke="#ff00ff" stroke-width="8" stroke-opacity="0.15"><path d="M5721 802l23 7 23 7 23 6 23 5 23 5 23 3 23 2 23 0 23 0 23-1 23-4 23-2 23-1 23 0 23 0 23 0 23 0 23 0 23 1 23 2 23 4 23 10 23 24 23 49 23 81 23 91 23 68 22 38 23 17 23 7 23 2 23 1 23 1 23 0 23 0"/><path d="M5721 802l23 7 23 7 23 6 23 5 23 4 23 4 23 1 23 0 23 0 23-2 23-4 23-2 23-1 23 0 23 0 23 0 23 0 23 0 23 1 23 1 23 3 23 9 23 21 23 46 23 79 23 95 23 73 22 40 23 18 23 8 23 2 23 1 23 1 23 0 23 0"/><path d="M5721 802l23 7 23 7 23 9 23 8 23 7 23 6 23 5 23 3 23 2 23 2 23-1 23 0 23 2 23 3 23 0 23 0 23 0 23 0 23 1 23 0 23 1 23 4 23 9 23 21 23 45 23 75 23 86 22 63 23 34 23 15 23 5 23 3 23 1 23 0 23 0"/><path d="M5721 802l23 7 23 7 23 7 23 6 23 5 23 5 23 2 23 1 23 1 23-1 23-3 23-1 23 0 23 1 23 0 23 0 23 0 23 0 23 0 23 1 23 2 23 4 23 11 23 24 23 48 23 76 23 87 22 66 23 37 23 18 23 7 23 3 23 1 23 1 23 0"/><path d="M5721 802l23 7 23 7 23 8 23 7 23 6 23 5 23 4 23 2 23 1 23 1 23-2 23 0 23 0 23 3 23 0 23 1 23 1 23 3 23 8 23 17 23 35 23 60 23 79 23 73 23 49 23 26 23 12 22 6 23 2 23 1 23 1 23 0 23 0 23 0 23 0"/><path d="M5721 802l23 7 23 7 23 5 23 5 23 3 23 3 23 1 23-1 23-1 23-2 23-5 23-3 23-1 23-1 23 0 23 0 23 1 23 2 23 6 23 19 23 52 23 101 23 113 23 70 23 28 23 10 23 3 22 1 23 0 23 0 23 0 23 0 23 0 23 0 23 0"/><path d="M5721 802l23 7 23 7 23 9 23 8 23 7 23 6 23 5 23 3 23 2 23 2 23-1 23 1 23 1 23 4 23 0 23 0 23 0 23 2 23 5 23 15 23 41 23 84 23 102 23 68 23 30 23 10 23 4 22 1 23 0 23 0 23 0 23 0 23 0 23 0 23 0"/><path d="M5721 802l23 7 23 7 23 9 23 9 23 8 23 7 23 5 23 4 23 3 23 2 23 0 23 1 23 3 23 4 23 0 23 0 23 0 23 0 23 0 23 1 23 4 23 15 23 52 23 111 23 107 23 46 23 14 22 3 23 1 23 0 23 0 23 0 23 0 23 0 23 0"/><path d="M5721 802l23 7 23 7 23 7 23 6 23 5 23 4 23 3 23 1 23 0 23 0 23-3 23-1 23 1 23 2 23 3 23 5 23 9 23 18 23 31 23 47 23 62 23 66 23 55 23 38 23 23 23 13 23 7 22 4 23 1 23 1 23 1 23 0 23 0 23 0 23 0"/><path d="M5721 802l23 7 23 7 23 6 23 5 23 5 23 3 23 2 23 0 23 0 23-1 23-4 23-2 23-1 23 0 23 0 23 0 23 0 23 0 23 1 23 1 23 3 23 10 23 30 23 69 23 109 23 96 23 49 22 19 23 6 23 2 23 1 23 0 23 0 23 0 23 0"/><path d="M5721 802l23 7 23 7 23 10 23 10 23 8 23 8 23 6 23 4 23 4 23 3 23 0 23 2 23 4 23 4 23 0 23 0 23 0 23 0 23 0 23 0 23 1 23 2 23 7 23 22 23 59 23 101 23 90 22 43 23 15 23 4 23 2 23 0 23 0 23 0 23 0"/><path d="M5721 802l23 7 23 7 23 7 23 6 23 6 23 4 23 2 23 2 23 0 23 0 23-3 23-1 23 0 23 1 23 0 23 0 23 0 23 1 23 1 23 4 23 16 23 55 23 118 23 117 23 52 23 16 23 4 22 1 23 0 23 0 23 0 23 0 23 0 23 0 23 0"/><path d="M5721 802l23 7 23 7 23 3 23 2 23 1 23 1 23-2 23-3 23-3 23-4 23-7 23-4 23-3 23 0 23 4 23 7 23 13 23 19 23 31 23 43 23 54 23 60 23 57 23 47 23 34 23 23 23 15 22 9 23 5 23 3 23 2 23 1 23 0 23 1 23 0"/><path d="M5721 802l23 7 23 7 23 7 23 6 23 5 23 4 23 2 23 1 23 1 23-1 23-2 23-2 23 0 23 2 23 2 23 3 23 7 23 12 23 25 23 41 23 60 23 70 23 64 23 45 23 27 23 15 23 8 22 4 23 1 23 1 23 1 23 0 23 0 23 0 23 0"/><path d="M5721 802l23 7 23 7 23 9 23 8 23 7 23 6 23 4 23 3 23 3 23 1 23-1 23 0 23 2 23 3 23 0 23 0 23 0 23 0 23 1 23 2 23 10 23 43 23 117 23 125 23 51 23 12 23 2 22 1 23 0 23 0 23 0 23 0 23 0 23 0 23 0"/><path d="M5721 802l23 7 23 7 23 6 23 6 23 5 23 4 23 2 23 1 23 0 23-1 23-3 23-1 23 0 23 1 23 2 23 3 23 6 23 12 23 22 23 37 23 54 23 66 23 65 23 50 23 32 23 19 23 10 22 6 23 2 23 2 23 0 23 1 23 0 23 0 23 0"/><path d="M5721 802l23 7 23 7 23 4 23 4 23 3 23 2 23 0 23-2 23-1 23-3 23-5 23-4 23-2 23 0 23 1 23 4 23 5 23 11 23 17 23 30 23 44 23 58 23 64 23 59 23 46 23 31 23 19 22 11 23 6 23 3 23 2 23 1 23 0 23 1 23 0"/><path d="M5721 802l23 7 23 7 23 8 23 7 23 6 23 5 23 3 23 2 23 1 23 0 23-1 23-1 23 1 23 3 23 2 23 4 23 7 23 12 23 20 23 32 23 47 23 57 23 58 23 49 23 36 23 22 23 13 22 7 23 4 23 3 23 1 23 0 23 1 23 0 23 0"/><path d="M5721 802l23 7 23 7 23 7 23 7 23 5 23 5 23 3 23 1 23 1 23 0 23-3 23-1 23 1 23 2 23 0 23 2 23 3 23 9 23 21 23 43 23 73 23 87 23 69 23 41 23 19 23 8 23 4 22 1 23 1 23 0 23 0 23 0 23 0 23 0 23 0"/><path d="M5721 802l23 7 23 7 23 7 23 7 23 6 23 5 23 2 23 2 23 1 23 0 23-2 23-1 23 1 23 1 23 0 23 1 23 0 23 4 23 13 23 49 23 116 23 122 23 55 23 15 23 4 23 1 23 0 22 0 23 0 23 0 23 0 23 0 23 0 23 0 23 0"/><path d="M5721 802l23 7 23 7 23 7 23 6 23 6 23 4 23 2 23 2 23 0 23 0 23-3 23-1 23 0 23 1 23 0 23 0 23 0 23 1 23 1 23 4 23 17 23 64 23 132 23 111 23 42 23 10 23 2 22 1 23 0 23 0 23 0 23 0 23 0 23 0 23 0"/><path d="M5721 802l23 7 23 7 23 6 23 6 23 5 23 4 23 1 23 1 23 0 23-1 23-3 23-2 23-1 23 1 23 1 23 1 23 1 23 2 23 4 23 8 23 13 23 21 23 34 23 46 23 57 23 58 23 50 22 37 23 24 23 15 23 9 23 5 23 3 23 1 23 1"/><path d="M5721 802l23 7 23 7 23 8 23 7 23 6 23 5 23 3 23 2 23 1 23 1 23-2 23-1 23 1 23 2 23 0 23 0 23 0 23 0 23 0 23 1 23 2 23 6 23 15 23 40 23 77 23 98 23 75 22 38 23 16 23 5 23 2 23 1 23 0 23 0 23 0"/><path d="M5721 802l23 7 23 7 23 6 23 5 23 4 23 3 23 1 23 0 23 0 23-2 23-4 23-3 23-1 23 0 23 0 23 0 23 0 23 1 23 0 23 1 23 3 23 6 23 13 23 30 23 55 23 80 23 84 22 62 23 35 23 17 23 8 23 3 23 1 23 1 23 0"/><path d="M5721 802l23 7 23 7 23 8 23 7 23 7 23 5 23 3 23 3 23 1 23 1 23-2 23 0 23 1 23 2 23 0 23 0 23 0 23 0 23 1 23 2 23 6 23 18 23 49 23 94 23 103 23 62 23 26 22 8 23 3 23 1 23 0 23 0 23 0 23 0 23 0"/><path d="M5721 802l23 7 23 7 23 6 23 5 23 4 23 3 23 1 23 0 23 0 23-2 23-4 23-3 23-1 23 0 23 0 23 1 23 0 23 2 23 3 23 8 23 18 23 36 23 62 23 82 23 78 23 55 23 30 22 14 23 6 23 3 23 1 23 1 23 0 23 0 23 0"/><path d="M5721 802l23 7 23 7 23 6 23 6 23 4 23 4 23 2 23 0 23 0 23-1 23-3 23-3 23 0 23 0 23 0 23 0 23 1 23 0 23 2 23 5 23 13 23 32 23 67 23 96 23 88 23 52 23 24 22 9 23 3 23 1 23 1 23 0 23 0 23 0 23 0"/><path d="M5721 802l23 7 23 7 23 4 23 4 23 3 23 2 23-1 23-1 23-2 23-3 23-5 23-4 23-2 23-1 23 0 23 2 23 3 23 10 23 21 23 45 23 77 23 94 23 79 23 46 23 22 23 10 23 3 22 2 23 1 23 0 23 0 23 0 23 0 23 0 23 0"/><path d="M5721 802l23 7 23 7 23 9 23 8 23 8 23 6 23 5 23 3 23 3 23 2 23-1 23 1 23 3 23 4 23 2 23 3 23 7 23 13 23 25 23 42 23 58 23 65 23 56 23 39 23 23 23 13 23 6 22 3 23 2 23 0 23 1 23 0 23 0 23 0 23 0"/><path d="M5721 802l23 7 23 7 23 8 23 7 23 6 23 6 23 3 23 2 23 2 23 1 23-2 23 0 23 1 23 3 23 1 23 2 23 4 23 7 23 14 23 24 23 38 23 54 23 61 23 58 23 44 23 29 23 17 22 9 23 5 23 2 23 2 23 0 23 1 23 0 23 0"/><path d="M5721 802l23 7 23 7 23 7 23 6 23 6 23 4 23 3 23 1 23 1 23-1 23-2 23-2 23 0 23 2 23 0 23 0 23 0 23 0 23 0 23 0 23 2 23 5 23 20 23 66 23 125 23 106 23 44 22 12 23 3 23 1 23 0 23 0 23 0 23 0 23 0"/><path d="M5721 802l23 7 23 7 23 4 23 4 23 3 23 1 23 0 23-1 23-2 23-3 23-6 23-4 23-2 23-1 23 0 23 0 23 0 23 1 23 1 23 5 23 13 23 31 23 65 23 98 23 96 23 60 23 28 22 11 23 5 23 1 23 1 23 0 23 0 23 0 23 0"/><path d="M5721 802l23 7 23 7 23 5 23 4 23 4 23 2 23 0 23 0 23-2 23-2 23-5 23-3 23-2 23 0 23 1 23 2 23 6 23 12 23 25 23 48 23 75 23 85 23 70 23 43 23 23 23 10 23 5 22 2 23 0 23 1 23 0 23 0 23 0 23 0 23 0"/><path d="M5721 802l23 7 23 7 23 9 23 8 23 7 23 7 23 4 23 3 23 3 23 1 23-1 23 1 23 2 23 3 23 0 23 0 23 1 23 0 23 1 23 3 23 6 23 12 23 26 23 45 23 66 23 72 23 58 22 36 23 19 23 9 23 5 23 2 23 0 23 1 23 0"/><path d="M5721 802l23 7 23 7 23 10 23 9 23 9 23 7 23 5 23 5 23 4 23 2 23 1 23 1 23 3 23 5 23 0 23 0 23 0 23 0 23 0 23 1 23 3 23 6 23 14 23 30 23 56 23 76 23 72 22 48 23 24 23 11 23 4 23 2 23 1 23 0 23 0"/><path d="M5721 802l23 7 23 7 23 3 23 3 23 1 23 1 23-2 23-2 23-3 23-4 23-7 23-5 23-4 23-2 23 0 23 0 23 0 23 0 23 0 23 1 23 3 23 6 23 15 23 35 23 67 23 98 23 94 22 60 23 30 23 13 23 5 23 2 23 1 23 0 23 0"/><path d="M5721 802l23 7 23 7 23 9 23 8 23 7 23 7 23 4 23 3 23 3 23 1 23-1 23 1 23 2 23 3 23 1 23 1 23 2 23 6 23 14 23 31 23 57 23 81 23 76 23 50 23 25 23 11 23 4 22 2 23 1 23 0 23 0 23 0 23 0 23 0 23 0"/><path d="M5721 802l23 7 23 7 23 7 23 6 23 5 23 4 23 2 23 2 23 0 23 0 23-3 23-2 23 0 23 2 23 0 23 1 23 1 23 3 23 6 23 10 23 19 23 31 23 46 23 59 23 63 23 54 23 38 22 25 23 14 23 7 23 5 23 2 23 1 23 0 23 1"/><path d="M5721 802l23 7 23 7 23 7 23 7 23 5 23 5 23 3 23 1 23 1 23 0 23-2 23-2 23 1 23 1 23 0 23 0 23 0 23 0 23 0 23 1 23 1 23 4 23 17 23 55 23 117 23 115 23 51 22 16 23 4 23 1 23 0 23 0 23 0 23 0 23 0"/><path d="M5721 802l23 7 23 7 23 9 23 7 23 8 23 6 23 4 23 2 23 3 23 1 23-1 23 0 23 2 23 3 23 1 23 0 23 1 23 2 23 4 23 6 23 11 23 18 23 30 23 42 23 53 23 55 23 48 22 36 23 24 23 15 23 9 23 4 23 3 23 1 23 1"/><path d="M5721 802l23 7 23 7 23 4 23 4 23 2 23 2 23 0 23-2 23-2 23-3 23-5 23-3 23-2 23 0 23 3 23 5 23 8 23 14 23 23 23 36 23 48 23 58 23 60 23 53 23 39 23 27 23 17 22 10 23 6 23 3 23 2 23 1 23 0 23 1 23 0"/><path d="M5721 802l23 7 23 7 23 9 23 8 23 7 23 6 23 4 23 3 23 2 23 2 23-1 23 0 23 2 23 3 23 0 23 0 23 0 23 0 23 0 23 0 23 0 23 1 23 5 23 20 23 70 23 130 23 95 22 33 23 8 23 2 23 0 23 0 23 0 23 0 23 0"/><path d="M5721 802l23 7 23 7 23 8 23 7 23 6 23 5 23 4 23 2 23 1 23 1 23-2 23 0 23 1 23 2 23 1 23 2 23 3 23 7 23 14 23 24 23 40 23 58 23 65 23 59 23 44 23 26 23 15 22 8 23 4 23 2 23 1 23 1 23 0 23 0 23 0"/><path d="M5721 802l23 7 23 7 23 6 23 5 23 4 23 4 23 1 23 0 23 0 23-1 23-3 23-2 23 1 23 3 23 5 23 8 23 14 23 24 23 35 23 48 23 56 23 57 23 48 23 37 23 24 23 14 23 9 22 5 23 3 23 2 23 1 23 0 23 1 23 0 23 0"/><path d="M5721 802l23 7 23 7 23 3 23 3 23 2 23 1 23-1 23-2 23-3 23-4 23-6 23-5 23-3 23-2 23 0 23 0 23 1 23 1 23 2 23 5 23 9 23 18 23 33 23 53 23 71 23 75 23 64 22 42 23 25 23 14 23 6 23 4 23 2 23 0 23 1"/><path d="M5721 802l23 7 23 7 23 4 23 4 23 2 23 2 23-1 23-1 23-2 23-3 23-5 23-3 23-2 23 1 23 5 23 8 23 12 23 21 23 30 23 43 23 54 23 58 23 54 23 44 23 31 23 21 23 13 22 8 23 5 23 2 23 2 23 1 23 0 23 1 23 0"/><path d="M5721 802l23 7 23 7 23 8 23 7 23 7 23 5 23 4 23 2 23 2 23 1 23-2 23 0 23 1 23 2 23 0 23 0 23 0 23 0 23 0 23 0 23 1 23 4 23 20 23 74 23 139 23 96 23 30 22 6 23 2 23 0 23 0 23 0 23 0 23 0 23 0"/><path d="M5721 802l23 7 23 7 23 2 23 2 23 1 23 1 23-3 23-3 23-3 23-5 23-7 23-6 23-4 23-3 23 0 23 1 23 2 23 5 23 13 23 27 23 56 23 87 23 97 23 74 23 41 23 20 23 8 22 4 23 1 23 1 23 0 23 0 23 0 23 0 23 0"/><path d="M5721 802l23 7 23 7 23 7 23 7 23 5 23 5 23 2 23 2 23 1 23 0 23-3 23 0 23 1 23 3 23 4 23 5 23 10 23 17 23 26 23 37 23 50 23 55 23 53 23 42 23 31 23 20 23 12 22 8 23 4 23 2 23 1 23 1 23 1 23 0 23 0"/><path d="M5721 802l23 7 23 7 23 5 23 4 23 3 23 3 23 0 23-1 23-1 23-3 23-4 23-4 23-2 23 0 23 1 23 1 23 2 23 5 23 10 23 18 23 33 23 51 23 68 23 71 23 59 23 40 23 24 22 13 23 6 23 4 23 1 23 1 23 1 23 0 23 0"/><path d="M5721 802l23 7 23 7 23 9 23 9 23 8 23 7 23 5 23 4 23 3 23 2 23 0 23 1 23 3 23 4 23 0 23 0 23 0 23 0 23 1 23 3 23 5 23 15 23 33 23 62 23 83 23 73 23 44 22 21 23 9 23 3 23 1 23 1 23 0 23 0 23 0"/><path d="M5721 802l23 7 23 7 23 5 23 5 23 4 23 3 23 1 23-1 23 0 23-2 23-5 23-3 23-1 23 0 23 0 23 1 23 1 23 2 23 4 23 6 23 11 23 17 23 28 23 41 23 52 23 59 23 55 22 44 23 32 23 20 23 13 23 7 23 5 23 2 23 1"/><path d="M5721 802l23 7 23 7 23 6 23 5 23 4 23 4 23 1 23 0 23 0 23-2 23-3 23-3 23 0 23 0 23 1 23 2 23 3 23 6 23 11 23 18 23 30 23 44 23 58 23 62 23 55 23 42 23 28 22 16 23 10 23 5 23 3 23 1 23 1 23 1 23 0"/><path d="M5721 802l23 7 23 7 23 11 23 10 23 9 23 8 23 6 23 5 23 4 23 3 23 1 23 3 23 3 23 5 23 1 23 0 23 0 23 2 23 3 23 7 23 16 23 33 23 56 23 73 23 66 23 43 23 23 22 10 23 5 23 2 23 1 23 0 23 0 23 0 23 0"/><path d="M5721 802l23 7 23 7 23 9 23 8 23 7 23 6 23 4 23 3 23 3 23 1 23 0 23 0 23 2 23 3 23 0 23 0 23 0 23 0 23 1 23 1 23 3 23 10 23 24 23 52 23 85 23 88 23 56 22 27 23 10 23 4 23 1 23 1 23 0 23 0 23 0"/><path d="M5721 802l23 7 23 7 23 6 23 5 23 4 23 4 23 1 23 0 23 0 23-2 23-3 23-3 23-1 23 0 23 0 23 0 23 0 23 0 23 0 23 0 23 1 23 1 23 3 23 14 23 43 23 100 23 126 22 73 23 27 23 7 23 2 23 1 23 0 23 0 23 0"/><path d="M5721 802l23 7 23 7 23 6 23 6 23 5 23 3 23 2 23 1 23 0 23-1 23-3 23-2 23-1 23 1 23 0 23 0 23 0 23 0 23 0 23 0 23 2 23 4 23 12 23 30 23 67 23 99 23 91 22 52 23 22 23 9 23 3 23 1 23 0 23 0 23 0"/><path d="M5721 802l23 7 23 7 23 6 23 5 23 5 23 3 23 1 23 1 23-1 23-1 23-4 23-2 23-1 23 0 23 0 23 0 23 1 23 2 23 7 23 26 23 73 23 125 23 102 23 43 23 13 23 4 23 1 22 0 23 0 23 0 23 0 23 0 23 0 23 0 23 0"/><path d="M5721 802l23 7 23 7 23 7 23 7 23 6 23 5 23 3 23 2 23 2 23 0 23-2 23-1 23 1 23 2 23 0 23 0 23 1 23 1 23 2 23 5 23 7 23 14 23 24 23 37 23 51 23 59 23 57 22 46 23 31 23 18 23 11 23 6 23 3 23 2 23 1"/><path d="M5721 802l23 7 23 7 23 5 23 4 23 3 23 2 23 0 23 0 23-2 23-2 23-5 23-4 23-2 23-1 23 0 23 1 23 1 23 4 23 12 23 36 23 83 23 118 23 92 23 42 23 15 23 5 23 1 22 1 23 0 23 0 23 0 23 0 23 0 23 0 23 0"/><path d="M5721 802l23 7 23 7 23 10 23 10 23 9 23 7 23 6 23 5 23 4 23 3 23 0 23 2 23 3 23 5 23 0 23 0 23 0 23 1 23 3 23 10 23 34 23 88 23 113 23 65 23 23 23 6 23 2 22 0 23 0 23 0 23 0 23 0 23 0 23 0 23 0"/><path d="M5721 802l23 7 23 7 23 5 23 5 23 4 23 3 23 1 23 0 23-1 23-2 23-4 23-3 23-1 23 0 23 0 23 0 23 0 23 0 23 0 23 0 23 0 23 2 23 6 23 30 23 96 23 149 23 86 22 26 23 6 23 1 23 0 23 0 23 0 23 0 23 0"/><path d="M5721 802l23 7 23 7 23 7 23 6 23 5 23 4 23 2 23 1 23 1 23-1 23-3 23-1 23 0 23 1 23 0 23 0 23 0 23 0 23 0 23 1 23 1 23 3 23 10 23 24 23 52 23 86 23 93 22 64 23 32 23 13 23 5 23 2 23 1 23 0 23 0"/><path d="M5721 802l23 7 23 7 23 7 23 6 23 6 23 4 23 2 23 2 23 0 23 0 23-3 23-1 23 0 23 1 23 0 23 0 23 1 23 2 23 8 23 26 23 70 23 118 23 97 23 44 23 14 23 4 23 1 22 0 23 0 23 0 23 0 23 0 23 0 23 0 23 0"/><path d="M5721 802l23 7 23 7 23 4 23 4 23 3 23 2 23 0 23-2 23-2 23-3 23-5 23-4 23-2 23-2 23 1 23 0 23 0 23 0 23 1 23 2 23 5 23 12 23 28 23 56 23 89 23 94 23 67 22 35 23 16 23 6 23 2 23 1 23 1 23 0 23 0"/><path d="M5721 802l23 7 23 7 23 4 23 4 23 3 23 2 23 0 23-1 23-1 23-3 23-5 23-4 23-3 23-1 23 0 23 0 23 0 23 0 23 1 23 0 23 2 23 8 23 29 23 84 23 137 23 100 23 38 22 11 23 3 23 1 23 0 23 0 23 0 23 0 23 0"/><path d="M5721 802l23 7 23 7 23 8 23 7 23 6 23 6 23 3 23 2 23 2 23 0 23-1 23-1 23 1 23 2 23 0 23 0 23 0 23 0 23 1 23 3 23 16 23 58 23 132 23 112 23 40 23 10 23 2 22 0 23 0 23 0 23 0 23 0 23 0 23 0 23 0"/><path d="M5721 802l23 7 23 7 23 8 23 7 23 6 23 6 23 3 23 2 23 2 23 1 23-2 23 0 23 1 23 2 23 0 23 1 23 0 23 2 23 4 23 8 23 17 23 30 23 50 23 67 23 69 23 55 23 34 22 18 23 10 23 4 23 2 23 1 23 1 23 0 23 0"/><path d="M5721 802l23 7 23 7 23 10 23 9 23 9 23 7 23 6 23 4 23 4 23 3 23 0 23 3 23 3 23 6 23 2 23 5 23 7 23 13 23 21 23 32 23 44 23 52 23 50 23 42 23 31 23 19 23 12 22 7 23 3 23 3 23 1 23 0 23 1 23 0 23 0"/><path d="M5721 802l23 7 23 7 23 4 23 4 23 2 23 2 23 0 23-2 23-2 23-3 23-5 23-4 23-3 23-1 23 1 23 0 23 2 23 2 23 5 23 10 23 17 23 30 23 46 23 63 23 68 23 62 23 45 22 29 23 17 23 10 23 5 23 2 23 2 23 0 23 1"/><path d="M5721 802l23 7 23 7 23 5 23 5 23 3 23 3 23 1 23-1 23-1 23-2 23-4 23-4 23-1 23-1 23 0 23 1 23 0 23 1 23 2 23 4 23 8 23 16 23 31 23 52 23 71 23 75 23 62 22 39 23 22 23 12 23 5 23 3 23 1 23 1 23 0"/><path d="M5721 802l23 7 23 7 23 5 23 5 23 3 23 3 23 1 23-1 23-1 23-2 23-4 23-3 23-2 23 0 23 0 23 1 23 2 23 3 23 6 23 10 23 19 23 32 23 49 23 62 23 66 23 57 23 40 22 26 23 15 23 8 23 4 23 3 23 1 23 0 23 1"/><path d="M5721 802l23 7 23 7 23 10 23 10 23 9 23 8 23 6 23 5 23 4 23 3 23 1 23 2 23 3 23 5 23 0 23 0 23 1 23 0 23 1 23 2 23 3 23 8 23 13 23 25 23 40 23 55 23 61 22 52 23 36 23 22 23 12 23 6 23 3 23 2 23 0"/><path d="M5721 802l23 7 23 7 23 6 23 5 23 5 23 3 23 1 23 0 23 0 23-1 23-4 23-2 23-1 23 0 23 0 23 0 23 1 23 1 23 1 23 3 23 6 23 11 23 19 23 34 23 50 23 63 23 66 22 54 23 38 23 23 23 13 23 7 23 3 23 2 23 1"/><path d="M5721 802l23 7 23 7 23 7 23 6 23 6 23 4 23 3 23 1 23 1 23-1 23-2 23-1 23 0 23 1 23 1 23 0 23 2 23 2 23 4 23 9 23 14 23 26 23 40 23 54 23 62 23 58 23 44 22 30 23 17 23 10 23 5 23 3 23 1 23 1 23 1"/><path d="M5721 802l23 7 23 7 23 9 23 8 23 7 23 6 23 4 23 3 23 2 23 2 23-1 23 0 23 2 23 3 23 0 23 0 23 0 23 0 23 2 23 2 23 6 23 14 23 29 23 51 23 74 23 74 23 55 22 30 23 15 23 7 23 3 23 1 23 1 23 0 23 0"/><path d="M5721 802l23 7 23 7 23 3 23 2 23 2 23 0 23-1 23-3 23-3 23-4 23-7 23-5 23-4 23-3 23 0 23 0 23 0 23 1 23 4 23 17 23 61 23 141 23 134 23 55 23 15 23 3 23 1 22 0 23 0 23 0 23 0 23 0 23 0 23 0 23 0"/><path d="M5721 802l23 7 23 7 23 7 23 6 23 5 23 4 23 2 23 1 23 1 23-1 23-3 23-1 23 0 23 1 23 0 23 0 23 1 23 2 23 4 23 7 23 15 23 27 23 45 23 63 23 70 23 60 23 42 22 25 23 13 23 7 23 3 23 2 23 0 23 1 23 0"/><path d="M5721 802l23 7 23 7 23 3 23 3 23 2 23 1 23-2 23-2 23-3 23-4 23-6 23-4 23-3 23-2 23 2 23 3 23 5 23 8 23 15 23 23 23 35 23 50 23 59 23 61 23 54 23 41 23 28 22 17 23 11 23 6 23 4 23 2 23 1 23 0 23 1"/><path d="M5721 802l23 7 23 7 23 8 23 7 23 7 23 5 23 4 23 2 23 2 23 0 23-1 23-1 23 1 23 3 23 0 23 0 23 0 23 0 23 0 23 1 23 1 23 4 23 8 23 20 23 42 23 71 23 85 22 69 23 40 23 18 23 8 23 3 23 1 23 1 23 0"/><path d="M5721 802l23 7 23 7 23 8 23 7 23 6 23 5 23 3 23 3 23 1 23 1 23-2 23 0 23 2 23 4 23 3 23 6 23 9 23 16 23 24 23 37 23 47 23 54 23 52 23 43 23 31 23 20 23 12 22 7 23 5 23 2 23 1 23 1 23 1 23 0 23 0"/><path d="M5721 802l23 7 23 7 23 3 23 3 23 2 23 2 23-1 23-3 23-2 23-4 23-6 23-5 23-3 23-2 23 1 23 0 23 1 23 2 23 3 23 6 23 9 23 17 23 26 23 39 23 52 23 61 23 60 22 50 23 37 23 25 23 15 23 9 23 5 23 3 23 2"/><path d="M5721 802l23 7 23 7 23 9 23 9 23 8 23 7 23 5 23 4 23 3 23 3 23-1 23 2 23 2 23 4 23 0 23 0 23 1 23 0 23 3 23 7 23 22 23 53 23 90 23 91 23 54 23 22 23 7 22 3 23 1 23 0 23 0 23 0 23 0 23 0 23 0"/><path d="M5721 802l23 7 23 7 23 12 23 12 23 11 23 10 23 7 23 7 23 6 23 5 23 3 23 4 23 5 23 7 23 0 23 0 23 0 23 0 23 0 23 0 23 1 23 4 23 12 23 40 23 89 23 99 23 52 22 17 23 4 23 2 23 0 23 0 23 0 23 0 23 0"/><path d="M5721 802l23 7 23 7 23 4 23 3 23 2 23 2 23-1 23-2 23-2 23-4 23-5 23-4 23-2 23 1 23 4 23 7 23 12 23 20 23 31 23 45 23 58 23 61 23 57 23 45 23 30 23 20 23 12 22 6 23 4 23 2 23 2 23 0 23 1 23 0 23 0"/><path d="M5721 802l23 7 23 7 23 5 23 4 23 4 23 2 23 0 23 0 23-2 23-2 23-5 23-3 23-2 23-1 23 1 23 1 23 2 23 4 23 8 23 17 23 31 23 52 23 72 23 76 23 61 23 40 23 22 22 12 23 5 23 3 23 1 23 1 23 0 23 0 23 0"/><path d="M5721 802l23 7 23 7 23 11 23 10 23 9 23 9 23 6 23 5 23 5 23 4 23 1 23 2 23 4 23 6 23 0 23 0 23 1 23 1 23 5 23 10 23 24 23 48 23 73 23 75 23 53 23 27 23 12 22 5 23 2 23 1 23 0 23 0 23 0 23 0 23 0"/><path d="M5721 802l23 7 23 7 23 5 23 4 23 4 23 2 23 1 23-1 23-1 23-2 23-5 23-3 23-2 23 0 23 0 23 0 23 0 23 1 23 2 23 3 23 7 23 12 23 22 23 36 23 54 23 66 23 66 22 54 23 36 23 22 23 12 23 7 23 3 23 2 23 1"/><path d="M5721 802l23 7 23 7 23 7 23 7 23 6 23 4 23 3 23 2 23 1 23 0 23-3 23-1 23 1 23 1 23 1 23 0 23 2 23 5 23 11 23 26 23 51 23 80 23 85 23 61 23 34 23 15 23 6 22 2 23 1 23 1 23 0 23 0 23 0 23 0 23 0"/><path d="M5721 802l23 7 23 7 23 6 23 6 23 5 23 4 23 2 23 1 23 0 23-1 23-3 23-2 23-1 23 1 23 0 23 0 23 0 23 0 23 1 23 2 23 7 23 20 23 56 23 104 23 107 23 60 23 23 22 8 23 2 23 1 23 0 23 0 23 0 23 0 23 0"/></g>
<g transform="scale(.1)" fill="none" stroke="#ff00ff" stroke-width="8" stroke-opacity="0.22"><path d="M4987 978l33-91 32-9 33-8 32-13 33-14 32-16 33-19 32-24 33-18 32-11 33-12 33-7 32-3 33-1 32 4 33 6 32 8 33 10 32 10 33 10 32 11 33 12 33 11 32 11 33 10 32 10 33 9 32 7 33 6 32 4 33 3 32 1 33-1"/><path d="M4987 978l33-94 32-6 33-5 32-9 33-11 32-12 33-17 32-22 33-18 32-10 33-11 33-8 32-5 33-3 32 2 33 2 32 5 33 6 32 7 33 7 32 7 33 9 33 9 32 9 33 9 32 10 33 9 32 8 33 7 32 6 33 6 32 4 33 3"/><path d="M4987 942l33-69 32-6 33-6 32-11 33-13 32-14 33-17 32-21 33-18 32-11 33-11 33-7 32-3 33-1 32 4 33 5 32 7 33 8 32 9 33 9 32 9 33 11 33 9 32 9 33 10 32 9 33 8 32 8 33 6 32 4 33 5 32 2 33 1"/><path d="M4987 891l33-40 32-5 33-4 32-11 33-13 32-13 33-16 32-18 33-17 32-10 33-11 33-5 32-2 33 1 32 6 33 7 32 8 33 9 32 9 33 10 32 9 33 10 33 9 32 9 33 9 32 8 33 8 32 7 33 5 32 5 33 4 32 2 33 2"/><path d="M4987 884l33-30 32-3 33-3 32-11 33-12 32-14 33-16 32-20 33-18 32-12 33-13 33-8 32-3 33 0 32 5 33 5 32 8 33 9 32 10 33 10 32 11 33 11 33 11 32 10 33 11 32 10 33 8 32 8 33 6 32 4 33 4 32 2 33 0"/><path d="M4987 943l33-68 32-6 33-5 32-12 33-13 32-14 33-18 32-21 33-19 32-12 33-11 33-8 32-4 33-1 32 3 33 5 32 7 33 8 32 9 33 9 32 10 33 11 33 10 32 10 33 10 32 10 33 9 32 9 33 6 32 6 33 4 32 3 33 1"/><path d="M4987 1077l33-156 32-9 33-8 32-10 33-11 32-13 33-19 32-27 33-19 32-11 33-12 33-10 32-8 33-5 32-2 33 1 32 2 33 5 32 7 33 7 32 8 33 10 33 10 32 11 33 10 32 12 33 11 32 9 33 8 32 7 33 7 32 3 33 2"/><path d="M4987 1025l33-122 32-8 33-6 32-10 33-12 32-13 33-18 32-25 33-18 32-11 33-11 33-9 32-7 33-4 32 1 33 1 32 4 33 6 32 7 33 8 32 8 33 9 33 10 32 10 33 10 32 10 33 10 32 8 33 8 32 6 33 6 32 4 33 1"/><path d="M4987 843l33-8 32-5 33-6 32-13 33-16 32-14 33-16 32-16 33-16 32-9 33-8 33-3 32 2 33 6 32 10 33 10 32 11 33 10 32 10 33 10 32 8 33 8 33 6 32 6 33 6 32 5 33 4 32 5 33 4 32 3 33 3 32 4 33 3"/><path d="M4987 795l33 12 32-2 33-2 32-9 33-10 32-9 33-10 32-10 33-12 32-8 33-8 33-5 32 0 33 2 32 5 33 5 32 6 33 6 32 7 33 7 32 8 33 10 33 9 32 11 33 11 32 11 33 10 32 11 33 8 32 5 33 5 32 2 33 1"/><path d="M4987 1128l33-193 32-9 33-8 32-8 33-9 32-11 33-18 32-28 33-18 32-9 33-11 33-10 32-9 33-7 32-5 33-2 32-1 33 3 32 4 33 4 32 6 33 7 33 8 32 9 33 10 32 11 33 11 32 9 33 9 32 9 33 8 32 6 33 3"/><path d="M4987 989l33-93 32-5 33-5 32-9 33-11 32-13 33-18 32-24 33-19 32-12 33-14 33-10 32-7 33-5 32-1 33 1 32 3 33 5 32 5 33 7 32 8 33 9 33 9 32 10 33 11 32 11 33 11 32 10 33 9 32 8 33 8 32 6 33 4"/><path d="M4987 908l33-45 32-3 33-2 32-10 33-11 32-13 33-16 32-20 33-18 32-12 33-13 33-9 32-5 33-2 32 3 33 3 32 5 33 7 32 8 33 8 32 9 33 11 33 10 32 10 33 11 32 11 33 10 32 10 33 8 32 7 33 6 32 5 33 2"/><path d="M4987 1099l33-171 32-9 33-8 32-9 33-10 32-13 33-18 32-28 33-19 32-10 33-11 33-10 32-9 33-6 32-2 33-1 32 2 33 5 32 6 33 6 32 7 33 10 33 9 32 10 33 10 32 12 33 10 32 9 33 8 32 7 33 6 32 3 33 1"/><path d="M4987 950l33-73 32-6 33-6 32-11 33-12 32-14 33-17 32-22 33-18 32-11 33-11 33-8 32-4 33-2 32 3 33 5 32 6 33 7 32 8 33 8 32 9 33 10 33 10 32 9 33 10 32 9 33 9 32 8 33 7 32 6 33 5 32 3 33 2"/><path d="M4987 1000l33-105 32-7 33-7 32-10 33-12 32-14 33-18 32-24 33-18 32-11 33-12 33-8 32-6 33-3 32 1 33 2 32 5 33 6 32 8 33 7 32 9 33 10 33 9 32 10 33 10 32 10 33 10 32 8 33 8 32 6 33 6 32 4 33 2"/><path d="M4987 1069l33-154 32-11 33-10 32-11 33-11 32-13 33-18 32-26 33-16 32-9 33-9 33-7 32-5 33-3 32 1 33 2 32 3 33 5 32 6 33 6 32 6 33 7 33 7 32 7 33 8 32 8 33 9 32 7 33 7 32 6 33 7 32 4 33 4"/><path d="M4987 853l33-13 32-3 33-3 32-11 33-14 32-13 33-15 32-17 33-16 32-11 33-10 33-6 32-1 33 2 32 7 33 7 32 9 33 9 32 9 33 9 32 10 33 9 33 8 32 8 33 9 32 7 33 6 32 7 33 5 32 3 33 4 32 3 33 1"/><path d="M4987 1120l33-182 32-10 33-10 32-10 33-11 32-13 33-20 32-29 33-20 32-11 33-12 33-10 32-9 33-7 32-3 33-1 32 2 33 5 32 6 33 7 32 8 33 10 33 10 32 11 33 11 32 12 33 11 32 9 33 9 32 7 33 7 32 3 33 1"/><path d="M4987 1065l33-147 32-10 33-9 32-11 33-12 32-15 33-19 32-27 33-19 32-11 33-11 33-9 32-6 33-4 32 0 33 3 32 4 33 7 32 7 33 8 32 9 33 10 33 10 32 9 33 10 32 10 33 9 32 8 33 6 32 5 33 5 32 2 33 1"/><path d="M4987 1009l33-112 32-8 33-6 32-10 33-12 32-13 33-18 32-24 33-18 32-11 33-11 33-8 32-6 33-3 32 1 33 2 32 4 33 7 32 7 33 8 32 8 33 9 33 10 32 10 33 9 32 10 33 10 32 8 33 7 32 6 33 6 32 3 33 2"/><path d="M4987 1029l33-130 32-7 33-6 32-9 33-10 32-12 33-17 32-24 33-17 32-9 33-11 33-8 32-5 33-3 32 0 33 2 32 4 33 6 32 7 33 7 32 8 33 9 33 9 32 9 33 9 32 9 33 9 32 7 33 6 32 5 33 5 32 2 33 1"/><path d="M4987 1070l33-150 32-8 33-8 32-10 33-11 32-13 33-19 32-27 33-19 32-11 33-13 33-10 32-8 33-5 32-2 33 1 32 2 33 5 32 7 33 7 32 8 33 10 33 10 32 11 33 10 32 12 33 10 32 10 33 8 32 7 33 6 32 4 33 1"/><path d="M4987 915l33-54 32-5 33-4 32-10 33-12 32-13 33-16 32-19 33-17 32-11 33-10 33-7 32-2 33 0 32 4 33 5 32 7 33 8 32 8 33 8 32 9 33 9 33 9 32 8 33 9 32 8 33 8 32 7 33 6 32 4 33 5 32 3 33 2"/><path d="M4987 904l33-44 32-6 33-6 32-13 33-14 32-15 33-17 32-20 33-18 32-11 33-11 33-7 32-2 33 1 32 7 33 7 32 8 33 10 32 11 33 10 32 11 33 11 33 10 32 10 33 10 32 9 33 8 32 8 33 5 32 4 33 4 32 2 33 0"/><path d="M4987 865l33-15 32-5 33-5 32-14 33-16 32-16 33-17 32-20 33-19 32-12 33-12 33-7 32-2 33 2 32 8 33 8 32 10 33 11 32 11 33 12 32 12 33 13 33 11 32 11 33 11 32 9 33 9 32 8 33 6 32 4 33 4 32 2 33 0"/><path d="M4987 836l33 0 32 0 33-1 32-10 33-11 32-13 33-14 32-16 33-17 32-11 33-12 33-7 32-2 33 1 32 5 33 6 32 6 33 8 32 7 33 8 32 8 33 8 33 8 32 7 33 9 32 7 33 8 32 8 33 7 32 5 33 6 32 5 33 4"/><path d="M4987 892l33-35 32-4 33-5 32-11 33-14 32-14 33-16 32-20 33-18 32-11 33-12 33-7 32-3 33 1 32 5 33 6 32 7 33 9 32 9 33 9 32 10 33 10 33 10 32 9 33 9 32 10 33 8 32 8 33 7 32 5 33 5 32 3 33 3"/><path d="M4987 886l33-40 32-4 33-4 32-11 33-12 32-12 33-15 32-18 33-16 32-9 33-9 33-5 32-1 33 2 32 7 33 7 32 8 33 9 32 9 33 10 32 9 33 9 33 9 32 8 33 7 32 8 33 6 32 6 33 4 32 3 33 3 32 2 33 0"/><path d="M4987 924l33-56 32-3 33-3 32-8 33-11 32-12 33-16 32-19 33-17 32-11 33-12 33-8 32-4 33-2 32 2 33 3 32 5 33 6 32 6 33 6 32 7 33 8 33 7 32 8 33 8 32 8 33 8 32 7 33 7 32 6 33 5 32 5 33 4"/></g>
<path d="M498.7,76.5 L500.1,76.42 L502.08,76.34 L504.4,76.2 L506.82,75.94 L509.1,75.5 L511.31,74.82 L513.6,73.93 L515.89,72.93 L518.08,71.92 L520.1,71 L521.89,70.14 L523.52,69.29 L525.04,68.47 L526.55,67.7 L528.1,67 L529.72,66.36 L531.35,65.77 L532.97,65.25 L534.56,64.82 L536.1,64.5 L537.55,64.31 L538.92,64.22 L540.28,64.24 L541.65,64.33 L543.1,64.5 L544.6,64.76 L546.13,65.11 L547.71,65.53 L549.36,66 L551.1,66.5 L552.97,67.04 L554.96,67.63 L557,68.25 L559.07,68.88 L561.1,69.5 L563.1,70.11 L565.1,70.72 L567.1,71.34 L569.1,71.93 L571.1,72.5 L573.1,73.04 L575.1,73.56 L577.1,74.06 L579.1,74.54 L581.1,75 L583.1,75.45 L585.1,75.88 L587.1,76.3 L589.1,76.67 L591.1,77 L593.1,77.27 L595.1,77.5 L597.1,77.68 L599.1,77.85 L601.1,78 L603.13,78.15 L605.2,78.28 L607.24,78.4 L609.23,78.47 L611.1,78.5 L612.89,78.47 L614.64,78.4 L616.28,78.28 L617.79,78.15 L619.1,78 L620.22,77.82 L621.18,77.59 L621.98,77.35 L622.62,77.14 L623.1,77 L623.1,82.9 L619.91,89.09 L616.72,91.74 L613.53,92.99 L610.34,93.64 L607.15,93.9 L603.96,94.15 L600.77,94.32 L597.58,94.14 L594.39,93.63 L591.2,92.84 L588.01,91.91 L584.82,90.92 L581.63,89.72 L578.44,88.65 L575.25,87.62 L572.06,86.63 L568.87,85.46 L565.68,84.27 L562.49,83.33 L559.31,82.42 L556.12,81.53 L552.93,81.3 L549.74,81.23 L546.55,81.36 L543.36,81.88 L540.17,82.59 L536.98,83.52 L533.79,84.61 L530.6,85.76 L527.41,86.82 L524.22,89.12 L521.03,91.68 L517.84,93.6 L514.65,94.75 L511.46,95.75 L508.27,96.68 L505.08,97.5 L501.89,98.43 L498.7,99.2Z" stroke="none" stroke-width="1" fill="#ff00ff" opacity="0.35" filter="url(#bl2)"/>
<path d="M498.7,83.5 L500.1,83.42 L502.08,83.34 L504.4,83.2 L506.82,82.94 L509.1,82.5 L511.31,81.82 L513.6,80.93 L515.89,79.93 L518.08,78.92 L520.1,78 L521.89,77.14 L523.52,76.29 L525.04,75.47 L526.55,74.7 L528.1,74 L529.72,73.36 L531.35,72.77 L532.97,72.25 L534.56,71.82 L536.1,71.5 L537.55,71.31 L538.92,71.22 L540.28,71.24 L541.65,71.33 L543.1,71.5 L544.6,71.76 L546.13,72.11 L547.71,72.53 L549.36,73 L551.1,73.5 L552.97,74.04 L554.96,74.63 L557,75.25 L559.07,75.88 L561.1,76.5 L563.1,77.11 L565.1,77.72 L567.1,78.34 L569.1,78.93 L571.1,79.5 L573.1,80.04 L575.1,80.56 L577.1,81.06 L579.1,81.54 L581.1,82 L583.1,82.45 L585.1,82.88 L587.1,83.3 L589.1,83.67 L591.1,84 L593.1,84.27 L595.1,84.5 L597.1,84.68 L599.1,84.85 L601.1,85 L603.13,85.15 L605.2,85.28 L607.24,85.4 L609.23,85.47 L611.1,85.5 L612.89,85.47 L614.64,85.4 L616.28,85.28 L617.79,85.15 L619.1,85 L620.22,84.82 L621.18,84.59 L621.98,84.35 L622.62,84.14 L623.1,84 L623.1,82.9 L619.91,89.09 L616.72,91.74 L613.53,92.99 L610.34,93.64 L607.15,93.9 L603.96,94.15 L600.77,94.32 L597.58,94.14 L594.39,93.63 L591.2,92.84 L588.01,91.91 L584.82,90.92 L581.63,89.72 L578.44,88.65 L575.25,87.62 L572.06,86.63 L568.87,85.46 L565.68,84.27 L562.49,83.33 L559.31,82.42 L556.12,81.53 L552.93,81.3 L549.74,81.23 L546.55,81.36 L543.36,81.88 L540.17,82.59 L536.98,83.52 L533.79,84.61 L530.6,85.76 L527.41,86.82 L524.22,89.12 L521.03,91.68 L517.84,93.6 L514.65,94.75 L511.46,95.75 L508.27,96.68 L505.08,97.5 L501.89,98.43 L498.7,99.2Z" stroke="none" stroke-width="1" fill="#ff00ff" opacity="0.62" filter="url(#bl05)"/>
<path d="M499.71,95.5 L500.29,95.28 L501.12,94.98 L502.1,94.63 L503.12,94.3 L504.21,94 L505.4,93.71 L506.63,93.41 L507.85,93.1 L509.05,92.77 L510.26,92.43 L511.47,92.07 L512.68,91.7 L513.88,91.34 L515.09,90.99 L516.3,90.6 L517.5,90.1 L518.73,89.49 L519.97,88.78 L521.19,88.01 L522.33,87.2 L523.35,86.28 L524.29,85.27 L525.23,84.3 L526.25,83.5 L527.39,82.96 L528.6,82.58 L529.84,82.26 L531.08,81.9 L532.3,81.45 L533.54,80.99 L534.78,80.53 L536,80.1 L537.22,79.71 L538.42,79.35 L539.63,79.01 L540.83,78.7 L542.04,78.4 L543.24,78.13 L544.45,77.88 L545.66,77.7 L546.86,77.58 L548.06,77.53 L549.27,77.5 L550.48,77.5 L551.7,77.51 L552.93,77.53 L554.17,77.59 L555.41,77.7 L556.64,77.87 L557.87,78.09 L559.13,78.34 L560.44,78.6 L561.84,78.85 L563.31,79.12 L564.78,79.4 L566.17,79.7 L567.44,80.03 L568.64,80.38 L569.81,80.74 L570.99,81.1 L572.19,81.46 L573.38,81.83 L574.59,82.21 L575.82,82.6 L577.12,83.01 L578.45,83.44 L579.78,83.87 L581.05,84.3 L582.2,84.72 L583.27,85.15 L584.37,85.58 L585.57,86 L586.96,86.44 L588.46,86.88 L589.98,87.31 L591.4,87.7 L592.7,88.04 L593.93,88.34 L595.13,88.63 L596.33,88.9 L597.55,89.18 L598.75,89.45 L599.95,89.7 L601.16,89.9 L602.36,90.06 L603.57,90.19 L604.78,90.27 L605.98,90.3 L607.2,90.27 L608.42,90.19 L609.63,90.06 L610.81,89.9 L611.96,89.72 L613.09,89.51 L614.18,89.25 L615.23,88.9 L616.27,88.46 L617.28,87.95 L618.23,87.36 L619.06,86.7 L619.73,85.96 L620.27,85.14 L620.77,84.26 L621.27,83.3 L621.77,82.28 L622.25,81.19 L622.74,80.04 L623.28,78.8 L623.89,77.44 L624.55,75.97 L625.23,74.49 L625.89,73.1 L626.51,71.61 L627.12,70.04 L627.74,68.8 L628.41,68.3 L629.17,68.83 L630.01,70.11 L630.82,71.68 L631.52,73.1 L632.08,74.28 L632.53,75.46 L632.94,76.63 L633.33,77.8 L633.69,78.8 L634,79.69 L634.33,80.8 L634.74,82.5 L635.28,85.05 L635.9,88.21 L636.54,91.54 L637.15,94.6 L637.72,97.35 L638.28,100 L638.82,102.5 L639.37,104.8 L639.88,106.88 L640.38,108.76 L640.9,110.49 L641.48,112.1 L642.13,113.62 L642.83,115.02 L643.59,116.26 L644.39,117.3 L645.24,118.1 L646.13,118.69 L647.09,119.13 L648.11,119.5 L649.03,119.77 L649.88,119.92 L651.06,120.01 L652.94,120.1 L655.78,120.2 L659.32,120.27 L663.19,120.34 L667.02,120.4 L671.13,120.46 L675.59,120.52 L679.61,120.57 L682.4,120.6" stroke="#ffa500" stroke-width="9.6" fill="none" opacity="0.25" stroke-linejoin="round"/>
<path d="M499.71,95.5 L500.29,95.28 L501.12,94.98 L502.1,94.63 L503.12,94.3 L504.21,94 L505.4,93.71 L506.63,93.41 L507.85,93.1 L509.05,92.77 L510.26,92.43 L511.47,92.07 L512.68,91.7 L513.88,91.34 L515.09,90.99 L516.3,90.6 L517.5,90.1 L518.73,89.49 L519.97,88.78 L521.19,88.01 L522.33,87.2 L523.35,86.28 L524.29,85.27 L525.23,84.3 L526.25,83.5 L527.39,82.96 L528.6,82.58 L529.84,82.26 L531.08,81.9 L532.3,81.45 L533.54,80.99 L534.78,80.53 L536,80.1 L537.22,79.71 L538.42,79.35 L539.63,79.01 L540.83,78.7 L542.04,78.4 L543.24,78.13 L544.45,77.88 L545.66,77.7 L546.86,77.58 L548.06,77.53 L549.27,77.5 L550.48,77.5 L551.7,77.51 L552.93,77.53 L554.17,77.59 L555.41,77.7 L556.64,77.87 L557.87,78.09 L559.13,78.34 L560.44,78.6 L561.84,78.85 L563.31,79.12 L564.78,79.4 L566.17,79.7 L567.44,80.03 L568.64,80.38 L569.81,80.74 L570.99,81.1 L572.19,81.46 L573.38,81.83 L574.59,82.21 L575.82,82.6 L577.12,83.01 L578.45,83.44 L579.78,83.87 L581.05,84.3 L582.2,84.72 L583.27,85.15 L584.37,85.58 L585.57,86 L586.96,86.44 L588.46,86.88 L589.98,87.31 L591.4,87.7 L592.7,88.04 L593.93,88.34 L595.13,88.63 L596.33,88.9 L597.55,89.18 L598.75,89.45 L599.95,89.7 L601.16,89.9 L602.36,90.06 L603.57,90.19 L604.78,90.27 L605.98,90.3 L607.2,90.27 L608.42,90.19 L609.63,90.06 L610.81,89.9 L611.96,89.72 L613.09,89.51 L614.18,89.25 L615.23,88.9 L616.27,88.46 L617.28,87.95 L618.23,87.36 L619.06,86.7 L619.73,85.96 L620.27,85.14 L620.77,84.26 L621.27,83.3 L621.77,82.28 L622.25,81.19 L622.74,80.04 L623.28,78.8 L623.89,77.44 L624.55,75.97 L625.23,74.49 L625.89,73.1 L626.51,71.61 L627.12,70.04 L627.74,68.8 L628.41,68.3 L629.17,68.83 L630.01,70.11 L630.82,71.68 L631.52,73.1 L632.08,74.28 L632.53,75.46 L632.94,76.63 L633.33,77.8 L633.69,78.8 L634,79.69 L634.33,80.8 L634.74,82.5 L635.28,85.05 L635.9,88.21 L636.54,91.54 L637.15,94.6 L637.72,97.35 L638.28,100 L638.82,102.5 L639.37,104.8 L639.88,106.88 L640.38,108.76 L640.9,110.49 L641.48,112.1 L642.13,113.62 L642.83,115.02 L643.59,116.26 L644.39,117.3 L645.24,118.1 L646.13,118.69 L647.09,119.13 L648.11,119.5 L649.03,119.77 L649.88,119.92 L651.06,120.01 L652.94,120.1 L655.78,120.2 L659.32,120.27 L663.19,120.34 L667.02,120.4 L671.13,120.46 L675.59,120.52 L679.61,120.57 L682.4,120.6" stroke="#f5a300" stroke-width="5.8" fill="none" opacity="0.85" stroke-linejoin="round"/>
<path d="M498.7,113 L499.1,99 L499.71,96.2" stroke="#f5a300" stroke-width="3.2" fill="none" opacity="0.85" />
<path d="M624.3,79 L627.7,68.5 L631.3,79Z" stroke="none" stroke-width="1" fill="#f5a300" opacity="0.8" />
<path d="M498.7,84.7 L500.1,84.62 L502.08,84.54 L504.4,84.4 L506.82,84.14 L509.1,83.7 L511.31,83.02 L513.6,82.13 L515.89,81.13 L518.08,80.12 L520.1,79.2 L521.89,78.34 L523.52,77.49 L525.04,76.67 L526.55,75.9 L528.1,75.2 L529.72,74.56 L531.35,73.97 L532.97,73.45 L534.56,73.02 L536.1,72.7 L537.55,72.51 L538.92,72.42 L540.28,72.44 L541.65,72.53 L543.1,72.7 L544.76,73 L546.61,73.45 L548.43,73.95 L550,74.4 L551.1,74.7 L551.1,75.93 L549.76,75.93 L548.41,75.99 L547.07,76.04 L545.73,76.1 L544.38,76.36 L543.04,76.64 L541.69,76.92 L540.35,77.24 L539.01,77.63 L537.66,78.02 L536.32,78.41 L534.98,78.88 L533.63,79.37 L532.29,79.86 L530.95,80.34 L529.6,80.79 L528.26,81.23 L526.92,81.68 L525.57,82.54 L524.23,83.81 L522.88,85.08 L521.54,86.07 L520.2,86.88 L518.85,87.69 L517.51,88.5 L516.17,88.94 L514.82,89.39 L513.48,89.83 L512.14,90.26 L510.79,90.65 L509.45,91.04 L508.11,91.43 L506.76,91.78 L505.42,92.12 L504.07,92.46 L502.73,92.84 L501.39,93.31 L500.04,93.78 L498.7,93.9Z" stroke="none" stroke-width="1" fill="#ff00ff" opacity="0.7" filter="url(#bl05)"/>
<path d="M498.7,96.2 L498.89,96.02 L499.16,95.77 L499.52,95.49 L500.01,95.2 L500.62,94.93 L501.35,94.64 L502.19,94.34 L503.12,94 L504.19,93.62 L505.38,93.2 L506.62,92.76 L507.85,92.3 L509.05,91.8 L510.26,91.25 L511.47,90.73 L512.68,90.3 L513.88,89.99 L515.09,89.76 L516.3,89.57 L517.5,89.4 L518.73,89.25 L519.97,89.13 L521.19,89.02 L522.33,88.9 L523.35,88.76 L524.29,88.62 L525.23,88.47 L526.25,88.3 L527.39,88.13 L528.6,87.95 L529.84,87.72 L531.08,87.4 L532.3,86.98 L533.54,86.49 L534.78,85.9 L536,85.2 L537.22,84.34 L538.42,83.36 L539.63,82.31 L540.83,81.3 L542.04,80.29 L543.24,79.26 L544.45,78.27 L545.66,77.4 L546.86,76.66 L548.06,76.01 L549.27,75.46 L550.48,75 L551.7,74.62 L552.93,74.33 L554.17,74.15 L555.41,74.1 L556.64,74.23 L557.87,74.51 L559.13,74.86 L560.44,75.2 L561.84,75.53 L563.31,75.9 L564.78,76.24 L566.17,76.5 L567.44,76.66 L568.64,76.75 L569.81,76.79 L570.99,76.8 L572.19,76.77 L573.38,76.69 L574.59,76.59 L575.82,76.5 L577.09,76.43 L578.39,76.36 L579.71,76.29 L581.05,76.2 L582.43,76.08 L583.84,75.95 L585.24,75.82 L586.58,75.7 L587.83,75.59 L589.03,75.47 L590.21,75.4 L591.4,75.4 L592.63,75.46 L593.87,75.58 L595.1,75.78 L596.33,76.1 L597.55,76.57 L598.75,77.16 L599.95,77.82 L601.16,78.5 L602.36,79.18 L603.57,79.89 L604.78,80.63 L605.98,81.4 L607.19,82.2 L608.39,83.03 L609.6,83.89 L610.81,84.8 L612.07,85.79 L613.37,86.86 L614.62,87.91 L615.74,88.9 L616.64,89.7 L617.38,90.39 L618.14,91.16 L619.06,92.2 L620.2,93.61 L621.47,95.27 L622.82,97.04 L624.18,98.8 L625.58,100.52 L627.03,102.26 L628.47,104.03 L629.81,105.8 L631.02,107.64 L632.13,109.52 L633.24,111.35 L634.44,113 L635.77,114.47 L637.18,115.81 L638.62,117 L640.07,118 L641.51,118.78 L642.96,119.36 L644.42,119.81 L645.9,120.2 L647.18,120.51 L648.34,120.72 L649.79,120.88 L651.93,121 L655.06,121.1 L658.89,121.15 L663.01,121.18 L667.02,121.2 L671.2,121.21 L675.65,121.21 L679.63,121.2 L682.4,121.2" stroke="#ff2020" stroke-width="2.0" fill="none" opacity="0.45" />
<path d="M498.7,96.2 L498.89,96.02 L499.16,95.77 L499.52,95.49 L500.01,95.2 L500.62,94.93 L501.35,94.64 L502.19,94.34 L503.12,94 L504.19,93.62 L505.38,93.2 L506.62,92.76 L507.85,92.3 L509.05,91.8 L510.26,91.25 L511.47,90.73 L512.68,90.3 L513.88,89.99 L515.09,89.76 L516.3,89.57 L517.5,89.4 L518.73,89.25 L519.97,89.13 L521.19,89.02 L522.33,88.9 L523.35,88.76 L524.29,88.62 L525.23,88.47 L526.25,88.3 L527.39,88.13 L528.6,87.95 L529.84,87.72 L531.08,87.4 L532.3,86.98 L533.54,86.49 L534.78,85.9 L536,85.2 L537.22,84.34 L538.42,83.36 L539.63,82.31 L540.83,81.3 L542.04,80.29 L543.24,79.26 L544.45,78.27 L545.66,77.4 L546.86,76.66 L548.06,76.01 L549.27,75.46 L550.48,75 L551.7,74.62 L552.93,74.33 L554.17,74.15 L555.41,74.1 L556.64,74.23 L557.87,74.51 L559.13,74.86 L560.44,75.2 L561.84,75.53 L563.31,75.9 L564.78,76.24 L566.17,76.5 L567.44,76.66 L568.64,76.75 L569.81,76.79 L570.99,76.8 L572.19,76.77 L573.38,76.69 L574.59,76.59 L575.82,76.5 L577.09,76.43 L578.39,76.36 L579.71,76.29 L581.05,76.2 L582.43,76.08 L583.84,75.95 L585.24,75.82 L586.58,75.7 L587.83,75.59 L589.03,75.47 L590.21,75.4 L591.4,75.4 L592.63,75.46 L593.87,75.58 L595.1,75.78 L596.33,76.1 L597.55,76.57 L598.75,77.16 L599.95,77.82 L601.16,78.5 L602.36,79.18 L603.57,79.89 L604.78,80.63 L605.98,81.4 L607.19,82.2 L608.39,83.03 L609.6,83.89 L610.81,84.8 L612.07,85.79 L613.37,86.86 L614.62,87.91 L615.74,88.9 L616.64,89.7 L617.38,90.39 L618.14,91.16 L619.06,92.2 L620.2,93.61 L621.47,95.27 L622.82,97.04 L624.18,98.8 L625.58,100.52 L627.03,102.26 L628.47,104.03 L629.81,105.8 L631.02,107.64 L632.13,109.52 L633.24,111.35 L634.44,113 L635.77,114.47 L637.18,115.81 L638.62,117 L640.07,118 L641.51,118.78 L642.96,119.36 L644.42,119.81 L645.9,120.2 L647.18,120.51 L648.34,120.72 L649.79,120.88 L651.93,121 L655.06,121.1 L658.89,121.15 L663.01,121.18 L667.02,121.2 L671.2,121.21 L675.65,121.21 L679.63,121.2 L682.4,121.2" stroke="#f01010" stroke-width="2.0" fill="none" stroke-dasharray="3.6,1.4" />
<path d="M498.7,113 L498.77,110.22 L498.86,106.17 L498.98,102.04 L499.1,99 L499.17,97.48 L499.22,96.8 L499.35,96.53 L499.71,96.2 L500.33,95.79 L501.16,95.5 L502.11,95.26 L503.12,95 L504.21,94.7 L505.4,94.41 L506.63,94.11 L507.85,93.8 L509.05,93.47 L510.26,93.13 L511.47,92.77 L512.68,92.4 L513.88,92.04 L515.09,91.69 L516.3,91.3 L517.5,90.8 L518.73,90.19 L519.97,89.48 L521.19,88.71 L522.33,87.9 L523.35,86.98 L524.29,85.97 L525.23,85 L526.25,84.2 L527.39,83.66 L528.6,83.28 L529.84,82.96 L531.08,82.6 L532.3,82.15 L533.54,81.69 L534.78,81.23 L536,80.8 L537.22,80.41 L538.42,80.05 L539.63,79.71 L540.83,79.4 L542.04,79.1 L543.24,78.83 L544.45,78.58 L545.66,78.4 L546.86,78.28 L548.06,78.23 L549.27,78.2 L550.48,78.2 L551.7,78.21 L552.93,78.23 L554.17,78.29 L555.41,78.4 L556.64,78.57 L557.87,78.79 L559.13,79.04 L560.44,79.3 L561.84,79.55 L563.31,79.82 L564.78,80.1 L566.17,80.4 L567.44,80.73 L568.64,81.08 L569.81,81.44 L570.99,81.8 L572.19,82.16 L573.38,82.53 L574.59,82.91 L575.82,83.3 L577.12,83.71 L578.45,84.14 L579.78,84.57 L581.05,85 L582.2,85.42 L583.27,85.85 L584.37,86.28 L585.57,86.7 L586.96,87.14 L588.46,87.58 L589.98,88.01 L591.4,88.4 L592.7,88.74 L593.93,89.04 L595.13,89.33 L596.33,89.6 L597.55,89.88 L598.75,90.15 L599.95,90.4 L601.16,90.6 L602.36,90.76 L603.57,90.89 L604.78,90.97 L605.98,91 L607.2,90.97 L608.42,90.89 L609.63,90.76 L610.81,90.6 L611.96,90.42 L613.09,90.21 L614.18,89.95 L615.23,89.6 L616.27,89.16 L617.28,88.65 L618.23,88.06 L619.06,87.4 L619.73,86.66 L620.27,85.84 L620.77,84.96 L621.27,84 L621.77,82.98 L622.25,81.89 L622.74,80.74 L623.28,79.5 L623.89,78.14 L624.55,76.67 L625.23,75.19 L625.89,73.8 L626.51,72.31 L627.12,70.74 L627.74,69.5 L628.41,69 L629.17,69.53 L630.01,70.81 L630.82,72.38 L631.52,73.8 L632.08,74.98 L632.53,76.16 L632.94,77.33 L633.33,78.5 L633.69,79.5 L634,80.39 L634.33,81.5 L634.74,83.2 L635.28,85.75 L635.9,88.91 L636.54,92.24 L637.15,95.3 L637.72,98.05 L638.28,100.7 L638.82,103.2 L639.37,105.5 L639.88,107.58 L640.38,109.46 L640.9,111.19 L641.48,112.8 L642.13,114.32 L642.83,115.72 L643.59,116.96 L644.39,118 L645.24,118.8 L646.13,119.39 L647.09,119.83 L648.11,120.2 L649.03,120.47 L649.88,120.62 L651.06,120.71 L652.94,120.8 L655.78,120.9 L659.32,120.97 L663.19,121.04 L667.02,121.1 L671.13,121.16 L675.59,121.22 L679.61,121.27 L682.4,121.3" stroke="#111" stroke-width="1.1" fill="none" stroke-dasharray="3,2" />
</g>
<rect x="498.6" y="20.9" width="183.80" height="102.60" fill="none" stroke="#222" stroke-width="0.8"/>
<path d="M495.6,124 L498.6,124" stroke="#222" stroke-width="0.8" fill="none" />
<text x="494.2" y="127.1" font-size="9.2" font-family='"Liberation Serif", serif' fill="#222" text-anchor="end" textLength="14.2" lengthAdjust="spacingAndGlyphs" >0.0</text>
<path d="M495.6,102.7 L498.6,102.7" stroke="#222" stroke-width="0.8" fill="none" />
<text x="494.2" y="105.8" font-size="9.2" font-family='"Liberation Serif", serif' fill="#222" text-anchor="end" textLength="14.2" lengthAdjust="spacingAndGlyphs" >0.5</text>
<path d="M495.6,81.4 L498.6,81.4" stroke="#222" stroke-width="0.8" fill="none" />
<text x="494.2" y="84.5" font-size="9.2" font-family='"Liberation Serif", serif' fill="#222" text-anchor="end" textLength="14.2" lengthAdjust="spacingAndGlyphs" >1.0</text>
<path d="M495.6,60.1 L498.6,60.1" stroke="#222" stroke-width="0.8" fill="none" />
<text x="494.2" y="63.2" font-size="9.2" font-family='"Liberation Serif", serif' fill="#222" text-anchor="end" textLength="14.2" lengthAdjust="spacingAndGlyphs" >1.5</text>
<path d="M495.6,38.8 L498.6,38.8" stroke="#222" stroke-width="0.8" fill="none" />
<text x="494.2" y="41.9" font-size="9.2" font-family='"Liberation Serif", serif' fill="#222" text-anchor="end" textLength="14.2" lengthAdjust="spacingAndGlyphs" >2.0</text>
<path d="M521.58,124 L521.58,127" stroke="#222" stroke-width="0.8" fill="none" />
<text x="521.58" y="134.7" font-size="9.2" font-family='"Liberation Serif", serif' fill="#222" text-anchor="middle" textLength="13" lengthAdjust="spacingAndGlyphs" >0.4</text>
<path d="M567.52,124 L567.52,127" stroke="#222" stroke-width="0.8" fill="none" />
<text x="567.52" y="134.7" font-size="9.2" font-family='"Liberation Serif", serif' fill="#222" text-anchor="middle" textLength="13" lengthAdjust="spacingAndGlyphs" >0.6</text>
<path d="M613.48,124 L613.48,127" stroke="#222" stroke-width="0.8" fill="none" />
<text x="613.48" y="134.7" font-size="9.2" font-family='"Liberation Serif", serif' fill="#222" text-anchor="middle" textLength="13" lengthAdjust="spacingAndGlyphs" >0.8</text>
<path d="M659.42,124 L659.42,127" stroke="#222" stroke-width="0.8" fill="none" />
<text x="659.42" y="134.7" font-size="9.2" font-family='"Liberation Serif", serif' fill="#222" text-anchor="middle" textLength="13" lengthAdjust="spacingAndGlyphs" >1.0</text>
<text x="526.2" y="147.7" font-size="12.6" font-family='"Liberation Serif", serif' fill="#111" textLength="127" lengthAdjust="spacingAndGlyphs" >Electron energy (GeV)</text>
<text class="t" x="527.5" y="14.1" font-size="14.1" font-family='"Liberation Sans", sans-serif' fill="#000" textLength="125.5" lengthAdjust="spacingAndGlyphs">Quantum-stochastic</text>
<g transform="translate(472.7,127.8) rotate(-90)" fill="#111" font-family='"Liberation Serif", serif'>
<text x="-0.2" y="0" font-size="12">E</text>
<text x="8.6" y="-5.6" font-size="7.8" font-style="italic" textLength="11.4" lengthAdjust="spacingAndGlyphs">dQ</text>
<line x1="8.3" y1="-2.7" x2="20.4" y2="-2.7" stroke="#111" stroke-width="0.6"/>
<text x="8.6" y="4.3" font-size="7.8" font-style="italic" textLength="11.4" lengthAdjust="spacingAndGlyphs">dE</text>
<text x="26.6" y="0" font-size="12.4" textLength="40" lengthAdjust="spacingAndGlyphs">(norm.)</text>
<text x="71.3" y="0" font-size="12.4" font-family='"Liberation Sans", sans-serif' textLength="43.5" lengthAdjust="spacingAndGlyphs">(GeV<tspan font-size="8" dy="-4.5">−1</tspan><tspan dy="4.5">)</tspan></text>
</g>
<rect x="72.3" y="23" width="151.5" height="23.2" rx="2" fill="#fff" fill-opacity="0.85" stroke="#d4d4d4" stroke-width="0.8"/>
<path d="M74,33.9 L82.4,33.9" stroke="#008000" stroke-width="1.3" fill="none" opacity="0.75" />
<text class="l" x="86.3" y="30.8" font-size="7.8" font-family='"Liberation Serif", serif' fill="#222" textLength="134.6" lengthAdjust="spacingAndGlyphs">Mean ⟨<tspan font-style="italic">E</tspan>⟩ = 547.8 ± 22.0(9.7) MeV</text>
<text class="l" x="86.3" y="41.4" font-size="7.8" font-family='"Liberation Serif", serif' fill="#222" textLength="122.2" lengthAdjust="spacingAndGlyphs">⟨<tspan font-style="italic">P</tspan><tspan font-size="5.5" dy="1.5" font-style="italic">70</tspan><tspan dy="-1.5">⟩ = 1.12 ± 0.17(0.03) GeV</tspan><tspan font-size="5.5" dy="-3">−1</tspan></text>
<rect x="300.5" y="23" width="152.2" height="23.2" rx="2" fill="#fff" fill-opacity="0.85" stroke="#d4d4d4" stroke-width="0.8"/>
<path d="M301.8,33.9 L310.2,33.9" stroke="#0000ff" stroke-width="1.3" fill="none" opacity="0.75" />
<text class="l" x="314" y="30.8" font-size="7.8" font-family='"Liberation Serif", serif' fill="#222" textLength="135.8" lengthAdjust="spacingAndGlyphs">Mean ⟨<tspan font-style="italic">E</tspan>⟩ = 535.6 ± 27.0(9.3) MeV</text>
<text class="l" x="314" y="41.4" font-size="7.8" font-family='"Liberation Serif", serif' fill="#222" textLength="123.5" lengthAdjust="spacingAndGlyphs">⟨<tspan font-style="italic">P</tspan><tspan font-size="5.5" dy="1.5" font-style="italic">70</tspan><tspan dy="-1.5">⟩ = 1.03 ± 0.21(0.02) GeV</tspan><tspan font-size="5.5" dy="-3">−1</tspan></text>
<rect x="529.2" y="23" width="152.0" height="23.2" rx="2" fill="#fff" fill-opacity="0.85" stroke="#d4d4d4" stroke-width="0.8"/>
<path d="M530.3,33.9 L539.1,33.9" stroke="#ff00ff" stroke-width="1.3" fill="none" opacity="0.75" />
<text class="l" x="542.8" y="30.8" font-size="7.8" font-family='"Liberation Serif", serif' fill="#222" textLength="135.4" lengthAdjust="spacingAndGlyphs">Mean ⟨<tspan font-style="italic">E</tspan>⟩ = 543.2 ± 21.0(9.6) MeV</text>
<text class="l" x="542.8" y="41.4" font-size="7.8" font-family='"Liberation Serif", serif' fill="#222" textLength="123.0" lengthAdjust="spacingAndGlyphs">⟨<tspan font-style="italic">P</tspan><tspan font-size="5.5" dy="1.5" font-style="italic">70</tspan><tspan dy="-1.5">⟩ = 0.85 ± 0.14(0.02) GeV</tspan><tspan font-size="5.5" dy="-3">−1</tspan></text>
<text x="-1" y="9.3" font-size="12.8" font-family='"Liberation Sans", sans-serif' fill="#000" class="s" textLength="11.8" lengthAdjust="spacingAndGlyphs" >a)</text>
<text x="-1.2" y="158.3" font-size="12.8" font-family='"Liberation Sans", sans-serif' fill="#000" class="s" textLength="12.1" lengthAdjust="spacingAndGlyphs" >b)</text>
<g clip-path="url(#cb0)">
<path d="M61.61,237.31 L63.38,212.54 L65.74,189.32 L68.1,177.45 L69.88,170.23 L71.65,166.62 L74.01,165.58 L79.91,165.58 L85.82,170.23 L87,171.05 L88.58,172.12 L90.55,173.5 L92.91,175.3 L95.68,177.61 L99.14,180.73 L103.28,184.6 L104.18,185.5 L100.04,181.63 L96.58,178.51 L93.81,176.2 L91.45,174.4 L89.48,173.02 L87.9,171.95 L86.72,171.13 L80.81,166.48 L74.91,166.48 L72.55,167.52 L70.78,171.13 L69,178.35 L66.64,190.22 L64.28,213.44 L62.51,238.21Z" stroke="none" stroke-width="1" fill="#999999" opacity="0.5" />
<path d="M62.51,238.21 L64.28,213.44 L66.64,190.22 L69,178.35 L70.78,171.13 L72.55,167.52 L74.91,166.48 L80.81,166.48 L86.72,171.13 L87.9,171.95 L89.48,173.02 L91.45,174.4 L93.81,176.2 L96.58,178.51 L100.04,181.63 L104.18,185.5 L108.57,189.67 L112.8,193.65 L116.43,196.98 L119.34,199.52 L121.83,201.59 L124.07,203.39 L126.22,205.12 L128.47,206.99 L130.71,208.96 L132.81,210.9 L134.95,212.85 L137.29,214.87 L139.99,217 L143.16,219.32 L146.7,221.79 L150.44,224.3 L154.22,226.75 L157.88,229.02 L161.51,231.15 L165.21,233.2 L168.86,235.13 L172.33,236.92 L175.48,238.52 L178.14,239.85 L180.39,240.95 L182.51,241.92 L184.76,242.89 L187.41,243.99 L190.49,245.26 L193.82,246.63 L197.36,248.01 L201.07,249.32 L204.89,250.49 L209.23,251.53 L214.12,252.51 L218.96,253.38 L223.15,254.09 L226.09,254.62 L226.09,257.92 L223.15,257.42 L218.96,256.73 L214.12,255.9 L209.23,254.96 L204.89,253.95 L201.07,252.79 L197.36,251.47 L193.82,250.08 L190.49,248.73 L187.41,247.5 L184.76,246.49 L182.51,245.64 L180.39,244.8 L178.14,243.83 L175.48,242.59 L172.33,241.06 L168.86,239.32 L165.21,237.42 L161.51,235.38 L157.88,233.25 L154.22,230.93 L150.44,228.4 L146.7,225.79 L143.16,223.25 L139.99,220.92 L137.29,218.86 L134.95,216.96 L132.81,215.15 L130.71,213.35 L128.47,211.48 L126.22,209.67 L124.07,207.97 L121.83,206.18 L119.34,204.1 L116.43,201.52 L112.8,198.1 L108.57,193.99 L104.18,189.68 L100.04,185.68 L96.58,182.48 L93.81,180.16 L91.45,178.39 L89.48,177.06 L87.9,176.05 L86.72,175.26 L80.81,173.19 L77.86,172.16 L74.91,175.26 L73.43,182.48 L71.96,187.64 L69,196.93 L66.05,216.02 L63.39,239.24Z" stroke="none" stroke-width="1" fill="#008000" opacity="0.95" stroke="#008000" stroke-width="0.3" stroke-opacity="0.6" stroke-linejoin="round"/>
<path d="M66.46,203.12 L68.82,182.48 L71.78,173.19 L75.91,169.58 L80.63,169.58 L79.03,171.64 L74.31,173.19 L70.18,184.54 L67.22,201.57 L64.86,216.02Z" stroke="none" stroke-width="1" fill="#9ccf9c" opacity="0.22" />
<path d="M63.1,232.58 L63.1,238.78" stroke="#ff0000" stroke-width="0.9" fill="none" opacity="0.45" />
<path d="M69,187.43 L69,196.72" stroke="#ff0000" stroke-width="0.9" fill="none" opacity="0.45" />
<path d="M74.91,174.95 L74.91,192.49" stroke="#ff0000" stroke-width="0.9" fill="none" opacity="0.45" />
<path d="M80.81,169.63 L80.81,186.14" stroke="#ff0000" stroke-width="0.9" fill="none" opacity="0.45" />
<path d="M86.72,163.75 L86.72,175.1" stroke="#ff0000" stroke-width="0.9" fill="none" opacity="0.45" />
<path d="M92.63,178.61 L92.63,192.03" stroke="#ff0000" stroke-width="0.9" fill="none" opacity="0.45" />
<path d="M98.53,179.69 L98.53,187.95" stroke="#ff0000" stroke-width="0.9" fill="none" opacity="0.45" />
<path d="M104.44,186.76 L104.44,195.02" stroke="#ff0000" stroke-width="0.9" fill="none" opacity="0.45" />
<path d="M110.34,189.81 L110.34,197.03" stroke="#ff0000" stroke-width="0.9" fill="none" opacity="0.45" />
<path d="M116.25,193.88 L116.25,200.08" stroke="#ff0000" stroke-width="0.9" fill="none" opacity="0.45" />
<path d="M122.15,201 L122.15,206.16" stroke="#ff0000" stroke-width="0.9" fill="none" opacity="0.45" />
<path d="M128.06,204.72 L128.06,209.88" stroke="#ff0000" stroke-width="0.9" fill="none" opacity="0.45" />
<path d="M133.96,209.11 L133.96,214.27" stroke="#ff0000" stroke-width="0.9" fill="none" opacity="0.45" />
<path d="M139.87,215.45 L139.87,219.58" stroke="#ff0000" stroke-width="0.9" fill="none" opacity="0.45" />
<path d="M145.78,217.05 L145.78,221.18" stroke="#ff0000" stroke-width="0.9" fill="none" opacity="0.45" />
<path d="M151.68,221.13 L151.68,225.26" stroke="#ff0000" stroke-width="0.9" fill="none" opacity="0.45" />
<path d="M157.59,226.49 L157.59,230.62" stroke="#ff0000" stroke-width="0.9" fill="none" opacity="0.45" />
<path d="M163.49,229.44 L163.49,233.56" stroke="#ff0000" stroke-width="0.9" fill="none" opacity="0.45" />
<path d="M169.4,232.27 L169.4,235.37" stroke="#ff0000" stroke-width="0.9" fill="none" opacity="0.45" />
<path d="M175.3,236.35 L175.3,239.45" stroke="#ff0000" stroke-width="0.9" fill="none" opacity="0.45" />
<path d="M181.21,240.27 L181.21,243.37" stroke="#ff0000" stroke-width="0.9" fill="none" opacity="0.45" />
<path d="M187.11,242.08 L187.11,245.17" stroke="#ff0000" stroke-width="0.9" fill="none" opacity="0.45" />
<path d="M193.02,245.43 L193.02,248.53" stroke="#ff0000" stroke-width="0.9" fill="none" opacity="0.45" />
<path d="M198.93,247.5 L198.93,250.59" stroke="#ff0000" stroke-width="0.9" fill="none" opacity="0.45" />
<path d="M204.83,249.77 L204.83,252.86" stroke="#ff0000" stroke-width="0.9" fill="none" opacity="0.45" />
<path d="M210.74,250.33 L210.74,253.43" stroke="#ff0000" stroke-width="0.9" fill="none" opacity="0.45" />
<path d="M216.64,253.17 L216.64,256.27" stroke="#ff0000" stroke-width="0.9" fill="none" opacity="0.45" />
<path d="M222.55,252.86 L222.55,255.96" stroke="#ff0000" stroke-width="0.9" fill="none" opacity="0.45" />
<circle cx="63.1" cy="235.68" r="2.6" fill="#ff0000"/>
<circle cx="69" cy="192.08" r="2.6" fill="#ff0000"/>
<circle cx="74.91" cy="183.72" r="2.6" fill="#ff0000"/>
<circle cx="80.81" cy="177.89" r="2.6" fill="#ff0000"/>
<circle cx="86.72" cy="169.43" r="2.6" fill="#ff0000"/>
<circle cx="92.63" cy="185.32" r="2.6" fill="#ff0000"/>
<circle cx="98.53" cy="183.82" r="2.6" fill="#ff0000"/>
<circle cx="104.44" cy="190.89" r="2.6" fill="#ff0000"/>
<circle cx="110.34" cy="193.42" r="2.6" fill="#ff0000"/>
<circle cx="116.25" cy="196.98" r="2.6" fill="#ff0000"/>
<circle cx="122.15" cy="203.58" r="2.6" fill="#ff0000"/>
<circle cx="128.06" cy="207.3" r="2.6" fill="#ff0000"/>
<circle cx="133.96" cy="211.69" r="2.6" fill="#ff0000"/>
<circle cx="139.87" cy="217.52" r="2.6" fill="#ff0000"/>
<circle cx="145.78" cy="219.12" r="2.6" fill="#ff0000"/>
<circle cx="151.68" cy="223.19" r="2.6" fill="#ff0000"/>
<circle cx="157.59" cy="228.56" r="2.6" fill="#ff0000"/>
<circle cx="163.49" cy="231.5" r="2.6" fill="#ff0000"/>
<circle cx="169.4" cy="233.82" r="2.6" fill="#ff0000"/>
<circle cx="175.3" cy="237.9" r="2.6" fill="#ff0000"/>
<circle cx="181.21" cy="241.82" r="2.6" fill="#ff0000"/>
<circle cx="187.11" cy="243.63" r="2.6" fill="#ff0000"/>
<circle cx="193.02" cy="246.98" r="2.6" fill="#ff0000"/>
<circle cx="198.93" cy="249.04" r="2.6" fill="#ff0000"/>
<circle cx="204.83" cy="251.31" r="2.6" fill="#ff0000"/>
<circle cx="210.74" cy="251.88" r="2.6" fill="#ff0000"/>
<circle cx="216.64" cy="254.72" r="2.6" fill="#ff0000"/>
<circle cx="222.55" cy="254.41" r="2.6" fill="#ff0000"/>
</g>
<rect x="60.5" y="158.1" width="165.00" height="103.40" fill="none" stroke="#222" stroke-width="0.8"/>
<path d="M57.5,244.4 L60.5,244.4" stroke="#222" stroke-width="0.8" fill="none" />
<text x="56.1" y="247.4" font-size="9.0" font-family='"Liberation Serif", serif' fill="#222" text-anchor="end" textLength="14" lengthAdjust="spacingAndGlyphs" >0.5</text>
<path d="M57.5,218.6 L60.5,218.6" stroke="#222" stroke-width="0.8" fill="none" />
<text x="56.1" y="221.6" font-size="9.0" font-family='"Liberation Serif", serif' fill="#222" text-anchor="end" textLength="14" lengthAdjust="spacingAndGlyphs" >1.0</text>
<path d="M57.5,192.8 L60.5,192.8" stroke="#222" stroke-width="0.8" fill="none" />
<text x="56.1" y="195.8" font-size="9.0" font-family='"Liberation Serif", serif' fill="#222" text-anchor="end" textLength="14" lengthAdjust="spacingAndGlyphs" >1.5</text>
<path d="M57.5,167 L60.5,167" stroke="#222" stroke-width="0.8" fill="none" />
<text x="56.1" y="170" font-size="9.0" font-family='"Liberation Serif", serif' fill="#222" text-anchor="end" textLength="14" lengthAdjust="spacingAndGlyphs" >2.0</text>
<path d="M86.72,261.3 L86.72,264.3" stroke="#222" stroke-width="0.8" fill="none" />
<text x="86.72" y="272.6" font-size="9.2" font-family='"Liberation Serif", serif' fill="#222" text-anchor="middle" textLength="5.4" lengthAdjust="spacingAndGlyphs" >5</text>
<path d="M116.25,261.3 L116.25,264.3" stroke="#222" stroke-width="0.8" fill="none" />
<text x="116.25" y="272.6" font-size="9.2" font-family='"Liberation Serif", serif' fill="#222" text-anchor="middle" textLength="10.8" lengthAdjust="spacingAndGlyphs" >10</text>
<path d="M145.78,261.3 L145.78,264.3" stroke="#222" stroke-width="0.8" fill="none" />
<text x="145.78" y="272.6" font-size="9.2" font-family='"Liberation Serif", serif' fill="#222" text-anchor="middle" textLength="10.8" lengthAdjust="spacingAndGlyphs" >15</text>
<path d="M175.3,261.3 L175.3,264.3" stroke="#222" stroke-width="0.8" fill="none" />
<text x="175.3" y="272.6" font-size="9.2" font-family='"Liberation Serif", serif' fill="#222" text-anchor="middle" textLength="10.8" lengthAdjust="spacingAndGlyphs" >20</text>
<path d="M204.83,261.3 L204.83,264.3" stroke="#222" stroke-width="0.8" fill="none" />
<text x="204.83" y="272.6" font-size="9.2" font-family='"Liberation Serif", serif' fill="#222" text-anchor="middle" textLength="10.8" lengthAdjust="spacingAndGlyphs" >25</text>
<text x="65.6" y="285.3" font-size="12.2" font-family='"Liberation Serif", serif' fill="#111" textLength="154.8" lengthAdjust="spacingAndGlyphs" >Propagation distance (mm)</text>
<g fill="#111" font-family='"Liberation Serif", serif' font-size="12.2">
<text transform="translate(13.6,209.6) rotate(-90)" text-anchor="middle" textLength="41.4" lengthAdjust="spacingAndGlyphs">Energy</text>
<text transform="translate(25.6,209.7) rotate(-90)" text-anchor="middle" textLength="59.2" lengthAdjust="spacingAndGlyphs">deposition</text>
<text transform="translate(37.6,205.9) rotate(-90)" text-anchor="middle" textLength="107.4" lengthAdjust="spacingAndGlyphs">(norm.) (arb. units)</text>
</g>
<g clip-path="url(#cb1)">
<path d="M289.7,237.31 L291.47,212.54 L293.83,189.32 L296.19,177.45 L297.96,170.23 L299.73,166.62 L302.08,165.58 L307.98,165.58 L313.87,170.23 L315.05,171.05 L316.62,172.12 L318.59,173.5 L320.95,175.3 L323.72,177.61 L327.17,180.73 L331.3,184.6 L332.2,185.5 L328.07,181.63 L324.62,178.51 L321.85,176.2 L319.49,174.4 L317.52,173.02 L315.95,171.95 L314.77,171.13 L308.88,166.48 L302.98,166.48 L300.63,167.52 L298.86,171.13 L297.09,178.35 L294.73,190.22 L292.37,213.44 L290.6,238.21Z" stroke="none" stroke-width="1" fill="#999999" opacity="0.5" />
<path d="M290.6,238.21 L292.37,213.44 L294.73,190.22 L297.09,178.35 L298.86,171.13 L300.63,167.52 L302.98,166.48 L308.88,166.48 L314.77,171.13 L315.95,171.95 L317.52,173.02 L319.49,174.4 L321.85,176.2 L324.62,178.51 L328.07,181.63 L332.2,185.5 L336.58,189.67 L340.8,193.65 L344.42,196.98 L347.34,199.52 L349.82,201.59 L352.05,203.39 L354.2,205.12 L356.45,206.99 L358.68,208.96 L360.78,210.9 L362.91,212.85 L365.25,214.87 L367.94,217 L371.11,219.32 L374.64,221.79 L378.38,224.3 L382.15,226.75 L385.8,229.02 L389.43,231.15 L393.12,233.2 L396.77,235.13 L400.22,236.92 L403.37,238.52 L406.03,239.85 L408.28,240.95 L410.39,241.92 L412.63,242.89 L415.28,243.99 L418.35,245.26 L421.68,246.63 L425.21,248.01 L428.91,249.32 L432.73,250.49 L437.06,251.53 L441.94,252.51 L446.77,253.38 L450.95,254.09 L453.89,254.62 L453.89,257.92 L450.95,257.42 L446.77,256.73 L441.94,255.9 L437.06,254.96 L432.73,253.95 L428.91,252.79 L425.21,251.47 L421.68,250.08 L418.35,248.73 L415.28,247.5 L412.63,246.49 L410.39,245.64 L408.28,244.8 L406.03,243.83 L403.37,242.59 L400.22,241.06 L396.77,239.32 L393.12,237.42 L389.43,235.38 L385.8,233.25 L382.15,230.93 L378.38,228.4 L374.64,225.79 L371.11,223.25 L367.94,220.92 L365.25,218.86 L362.91,216.96 L360.78,215.15 L358.68,213.35 L356.45,211.48 L354.2,209.67 L352.05,207.97 L349.82,206.18 L347.34,204.1 L344.42,201.52 L340.8,198.1 L336.58,193.99 L332.2,189.68 L328.07,185.68 L324.62,182.48 L321.85,180.16 L319.49,178.39 L317.52,177.06 L315.95,176.05 L314.77,175.26 L308.88,173.19 L305.93,172.16 L302.98,175.26 L301.51,182.48 L300.04,187.64 L297.09,196.93 L294.14,216.02 L291.49,239.24Z" stroke="none" stroke-width="1" fill="#0000ff" opacity="0.95" stroke="#0000ff" stroke-width="0.3" stroke-opacity="0.6" stroke-linejoin="round"/>
<path d="M294.55,203.12 L296.91,182.48 L299.86,173.19 L303.98,169.58 L308.7,169.58 L307.1,171.64 L302.38,173.19 L298.26,184.54 L295.31,201.57 L292.95,216.02Z" stroke="none" stroke-width="1" fill="#a8a8ff" opacity="0.22" />
<path d="M291.19,232.58 L291.19,238.78" stroke="#ff0000" stroke-width="0.9" fill="none" opacity="0.45" />
<path d="M297.09,187.43 L297.09,196.72" stroke="#ff0000" stroke-width="0.9" fill="none" opacity="0.45" />
<path d="M302.98,174.95 L302.98,192.49" stroke="#ff0000" stroke-width="0.9" fill="none" opacity="0.45" />
<path d="M308.88,169.63 L308.88,186.14" stroke="#ff0000" stroke-width="0.9" fill="none" opacity="0.45" />
<path d="M314.77,163.75 L314.77,175.1" stroke="#ff0000" stroke-width="0.9" fill="none" opacity="0.45" />
<path d="M320.67,178.61 L320.67,192.03" stroke="#ff0000" stroke-width="0.9" fill="none" opacity="0.45" />
<path d="M326.56,179.69 L326.56,187.95" stroke="#ff0000" stroke-width="0.9" fill="none" opacity="0.45" />
<path d="M332.46,186.76 L332.46,195.02" stroke="#ff0000" stroke-width="0.9" fill="none" opacity="0.45" />
<path d="M338.35,189.81 L338.35,197.03" stroke="#ff0000" stroke-width="0.9" fill="none" opacity="0.45" />
<path d="M344.25,193.88 L344.25,200.08" stroke="#ff0000" stroke-width="0.9" fill="none" opacity="0.45" />
<path d="M350.14,201 L350.14,206.16" stroke="#ff0000" stroke-width="0.9" fill="none" opacity="0.45" />
<path d="M356.04,204.72 L356.04,209.88" stroke="#ff0000" stroke-width="0.9" fill="none" opacity="0.45" />
<path d="M361.93,209.11 L361.93,214.27" stroke="#ff0000" stroke-width="0.9" fill="none" opacity="0.45" />
<path d="M367.83,215.45 L367.83,219.58" stroke="#ff0000" stroke-width="0.9" fill="none" opacity="0.45" />
<path d="M373.72,217.05 L373.72,221.18" stroke="#ff0000" stroke-width="0.9" fill="none" opacity="0.45" />
<path d="M379.62,221.13 L379.62,225.26" stroke="#ff0000" stroke-width="0.9" fill="none" opacity="0.45" />
<path d="M385.51,226.49 L385.51,230.62" stroke="#ff0000" stroke-width="0.9" fill="none" opacity="0.45" />
<path d="M391.4,229.44 L391.4,233.56" stroke="#ff0000" stroke-width="0.9" fill="none" opacity="0.45" />
<path d="M397.3,232.27 L397.3,235.37" stroke="#ff0000" stroke-width="0.9" fill="none" opacity="0.45" />
<path d="M403.19,236.35 L403.19,239.45" stroke="#ff0000" stroke-width="0.9" fill="none" opacity="0.45" />
<path d="M409.09,240.27 L409.09,243.37" stroke="#ff0000" stroke-width="0.9" fill="none" opacity="0.45" />
<path d="M414.98,242.08 L414.98,245.17" stroke="#ff0000" stroke-width="0.9" fill="none" opacity="0.45" />
<path d="M420.88,245.43 L420.88,248.53" stroke="#ff0000" stroke-width="0.9" fill="none" opacity="0.45" />
<path d="M426.77,247.5 L426.77,250.59" stroke="#ff0000" stroke-width="0.9" fill="none" opacity="0.45" />
<path d="M432.67,249.77 L432.67,252.86" stroke="#ff0000" stroke-width="0.9" fill="none" opacity="0.45" />
<path d="M438.56,250.33 L438.56,253.43" stroke="#ff0000" stroke-width="0.9" fill="none" opacity="0.45" />
<path d="M444.46,253.17 L444.46,256.27" stroke="#ff0000" stroke-width="0.9" fill="none" opacity="0.45" />
<path d="M450.35,252.86 L450.35,255.96" stroke="#ff0000" stroke-width="0.9" fill="none" opacity="0.45" />
<circle cx="291.19" cy="235.68" r="2.6" fill="#ff0000"/>
<circle cx="297.09" cy="192.08" r="2.6" fill="#ff0000"/>
<circle cx="302.98" cy="183.72" r="2.6" fill="#ff0000"/>
<circle cx="308.88" cy="177.89" r="2.6" fill="#ff0000"/>
<circle cx="314.77" cy="169.43" r="2.6" fill="#ff0000"/>
<circle cx="320.67" cy="185.32" r="2.6" fill="#ff0000"/>
<circle cx="326.56" cy="183.82" r="2.6" fill="#ff0000"/>
<circle cx="332.46" cy="190.89" r="2.6" fill="#ff0000"/>
<circle cx="338.35" cy="193.42" r="2.6" fill="#ff0000"/>
<circle cx="344.25" cy="196.98" r="2.6" fill="#ff0000"/>
<circle cx="350.14" cy="203.58" r="2.6" fill="#ff0000"/>
<circle cx="356.04" cy="207.3" r="2.6" fill="#ff0000"/>
<circle cx="361.93" cy="211.69" r="2.6" fill="#ff0000"/>
<circle cx="367.83" cy="217.52" r="2.6" fill="#ff0000"/>
<circle cx="373.72" cy="219.12" r="2.6" fill="#ff0000"/>
<circle cx="379.62" cy="223.19" r="2.6" fill="#ff0000"/>
<circle cx="385.51" cy="228.56" r="2.6" fill="#ff0000"/>
<circle cx="391.4" cy="231.5" r="2.6" fill="#ff0000"/>
<circle cx="397.3" cy="233.82" r="2.6" fill="#ff0000"/>
<circle cx="403.19" cy="237.9" r="2.6" fill="#ff0000"/>
<circle cx="409.09" cy="241.82" r="2.6" fill="#ff0000"/>
<circle cx="414.98" cy="243.63" r="2.6" fill="#ff0000"/>
<circle cx="420.88" cy="246.98" r="2.6" fill="#ff0000"/>
<circle cx="426.77" cy="249.04" r="2.6" fill="#ff0000"/>
<circle cx="432.67" cy="251.31" r="2.6" fill="#ff0000"/>
<circle cx="438.56" cy="251.88" r="2.6" fill="#ff0000"/>
<circle cx="444.46" cy="254.72" r="2.6" fill="#ff0000"/>
<circle cx="450.35" cy="254.41" r="2.6" fill="#ff0000"/>
</g>
<rect x="288.6" y="158.1" width="164.70" height="103.40" fill="none" stroke="#222" stroke-width="0.8"/>
<path d="M285.6,244.4 L288.6,244.4" stroke="#222" stroke-width="0.8" fill="none" />
<text x="284.2" y="247.4" font-size="9.0" font-family='"Liberation Serif", serif' fill="#222" text-anchor="end" textLength="14" lengthAdjust="spacingAndGlyphs" >0.5</text>
<path d="M285.6,218.6 L288.6,218.6" stroke="#222" stroke-width="0.8" fill="none" />
<text x="284.2" y="221.6" font-size="9.0" font-family='"Liberation Serif", serif' fill="#222" text-anchor="end" textLength="14" lengthAdjust="spacingAndGlyphs" >1.0</text>
<path d="M285.6,192.8 L288.6,192.8" stroke="#222" stroke-width="0.8" fill="none" />
<text x="284.2" y="195.8" font-size="9.0" font-family='"Liberation Serif", serif' fill="#222" text-anchor="end" textLength="14" lengthAdjust="spacingAndGlyphs" >1.5</text>
<path d="M285.6,167 L288.6,167" stroke="#222" stroke-width="0.8" fill="none" />
<text x="284.2" y="170" font-size="9.0" font-family='"Liberation Serif", serif' fill="#222" text-anchor="end" textLength="14" lengthAdjust="spacingAndGlyphs" >2.0</text>
<path d="M314.77,261.3 L314.77,264.3" stroke="#222" stroke-width="0.8" fill="none" />
<text x="314.77" y="272.6" font-size="9.2" font-family='"Liberation Serif", serif' fill="#222" text-anchor="middle" textLength="5.4" lengthAdjust="spacingAndGlyphs" >5</text>
<path d="M344.25,261.3 L344.25,264.3" stroke="#222" stroke-width="0.8" fill="none" />
<text x="344.25" y="272.6" font-size="9.2" font-family='"Liberation Serif", serif' fill="#222" text-anchor="middle" textLength="10.8" lengthAdjust="spacingAndGlyphs" >10</text>
<path d="M373.72,261.3 L373.72,264.3" stroke="#222" stroke-width="0.8" fill="none" />
<text x="373.72" y="272.6" font-size="9.2" font-family='"Liberation Serif", serif' fill="#222" text-anchor="middle" textLength="10.8" lengthAdjust="spacingAndGlyphs" >15</text>
<path d="M403.19,261.3 L403.19,264.3" stroke="#222" stroke-width="0.8" fill="none" />
<text x="403.19" y="272.6" font-size="9.2" font-family='"Liberation Serif", serif' fill="#222" text-anchor="middle" textLength="10.8" lengthAdjust="spacingAndGlyphs" >20</text>
<path d="M432.67,261.3 L432.67,264.3" stroke="#222" stroke-width="0.8" fill="none" />
<text x="432.67" y="272.6" font-size="9.2" font-family='"Liberation Serif", serif' fill="#222" text-anchor="middle" textLength="10.8" lengthAdjust="spacingAndGlyphs" >25</text>
<text x="293.7" y="285.3" font-size="12.2" font-family='"Liberation Serif", serif' fill="#111" textLength="154.8" lengthAdjust="spacingAndGlyphs" >Propagation distance (mm)</text>
<g fill="#111" font-family='"Liberation Serif", serif' font-size="12.2">
<text transform="translate(241.7,209.6) rotate(-90)" text-anchor="middle" textLength="41.4" lengthAdjust="spacingAndGlyphs">Energy</text>
<text transform="translate(253.7,209.7) rotate(-90)" text-anchor="middle" textLength="59.2" lengthAdjust="spacingAndGlyphs">deposition</text>
<text transform="translate(265.7,205.9) rotate(-90)" text-anchor="middle" textLength="107.4" lengthAdjust="spacingAndGlyphs">(norm.) (arb. units)</text>
</g>
<g clip-path="url(#cb2)">
<path d="M518.21,237.31 L519.99,212.54 L522.36,189.32 L524.73,177.45 L526.51,170.23 L528.28,166.62 L530.65,165.58 L536.58,165.58 L542.5,170.23 L543.69,171.05 L545.26,172.12 L547.24,173.5 L549.61,175.3 L552.39,177.61 L555.86,180.73 L560.01,184.6 L560.91,185.5 L556.76,181.63 L553.29,178.51 L550.51,176.2 L548.14,174.4 L546.16,173.02 L544.59,171.95 L543.4,171.13 L537.48,166.48 L531.55,166.48 L529.18,167.52 L527.41,171.13 L525.63,178.35 L523.26,190.22 L520.89,213.44 L519.11,238.21Z" stroke="none" stroke-width="1" fill="#999999" opacity="0.5" />
<path d="M519.11,238.21 L520.89,213.44 L523.26,190.22 L525.63,178.35 L527.41,171.13 L529.18,167.52 L531.55,166.48 L537.48,166.48 L543.4,171.13 L544.59,171.95 L546.16,173.02 L548.14,174.4 L550.51,176.2 L553.29,178.51 L556.76,181.63 L560.91,185.5 L565.32,189.67 L569.55,193.65 L573.19,196.98 L576.12,199.52 L578.62,201.59 L580.86,203.39 L583.02,205.12 L585.28,206.99 L587.52,208.96 L589.63,210.9 L591.77,212.85 L594.12,214.87 L596.83,217 L600.01,219.32 L603.56,221.79 L607.31,224.3 L611.1,226.75 L614.78,229.02 L618.42,231.15 L622.13,233.2 L625.79,235.13 L629.27,236.92 L632.43,238.52 L635.1,239.85 L637.36,240.95 L639.48,241.92 L641.74,242.89 L644.39,243.99 L647.48,245.26 L650.83,246.63 L654.38,248.01 L658.09,249.32 L661.93,250.49 L666.28,251.53 L671.19,252.51 L676.04,253.38 L680.24,254.09 L683.19,254.62 L683.19,257.92 L680.24,257.42 L676.04,256.73 L671.19,255.9 L666.28,254.96 L661.93,253.95 L658.09,252.79 L654.38,251.47 L650.83,250.08 L647.48,248.73 L644.39,247.5 L641.74,246.49 L639.48,245.64 L637.36,244.8 L635.1,243.83 L632.43,242.59 L629.27,241.06 L625.79,239.32 L622.13,237.42 L618.42,235.38 L614.78,233.25 L611.1,230.93 L607.31,228.4 L603.56,225.79 L600.01,223.25 L596.83,220.92 L594.12,218.86 L591.77,216.96 L589.63,215.15 L587.52,213.35 L585.28,211.48 L583.02,209.67 L580.86,207.97 L578.62,206.18 L576.12,204.1 L573.19,201.52 L569.55,198.1 L565.32,193.99 L560.91,189.68 L556.76,185.68 L553.29,182.48 L550.51,180.16 L548.14,178.39 L546.16,177.06 L544.59,176.05 L543.4,175.26 L537.48,173.19 L534.51,172.16 L531.55,175.26 L530.07,182.48 L528.59,187.64 L525.63,196.93 L522.67,216.02 L520,239.24Z" stroke="none" stroke-width="1" fill="#ff00ff" opacity="0.95" stroke="#ff00ff" stroke-width="0.3" stroke-opacity="0.6" stroke-linejoin="round"/>
<path d="M523.08,203.12 L525.45,182.48 L528.41,173.19 L532.55,169.58 L537.29,169.58 L535.69,171.64 L530.95,173.19 L526.81,184.54 L523.85,201.57 L521.48,216.02Z" stroke="none" stroke-width="1" fill="#ffa8ff" opacity="0.22" />
<path d="M519.71,232.58 L519.71,238.78" stroke="#ff0000" stroke-width="0.9" fill="none" opacity="0.45" />
<path d="M525.63,187.43 L525.63,196.72" stroke="#ff0000" stroke-width="0.9" fill="none" opacity="0.45" />
<path d="M531.55,174.95 L531.55,192.49" stroke="#ff0000" stroke-width="0.9" fill="none" opacity="0.45" />
<path d="M537.48,169.63 L537.48,186.14" stroke="#ff0000" stroke-width="0.9" fill="none" opacity="0.45" />
<path d="M543.4,163.75 L543.4,175.1" stroke="#ff0000" stroke-width="0.9" fill="none" opacity="0.45" />
<path d="M549.32,178.61 L549.32,192.03" stroke="#ff0000" stroke-width="0.9" fill="none" opacity="0.45" />
<path d="M555.25,179.69 L555.25,187.95" stroke="#ff0000" stroke-width="0.9" fill="none" opacity="0.45" />
<path d="M561.17,186.76 L561.17,195.02" stroke="#ff0000" stroke-width="0.9" fill="none" opacity="0.45" />
<path d="M567.09,189.81 L567.09,197.03" stroke="#ff0000" stroke-width="0.9" fill="none" opacity="0.45" />
<path d="M573.02,193.88 L573.02,200.08" stroke="#ff0000" stroke-width="0.9" fill="none" opacity="0.45" />
<path d="M578.94,201 L578.94,206.16" stroke="#ff0000" stroke-width="0.9" fill="none" opacity="0.45" />
<path d="M584.86,204.72 L584.86,209.88" stroke="#ff0000" stroke-width="0.9" fill="none" opacity="0.45" />
<path d="M590.79,209.11 L590.79,214.27" stroke="#ff0000" stroke-width="0.9" fill="none" opacity="0.45" />
<path d="M596.71,215.45 L596.71,219.58" stroke="#ff0000" stroke-width="0.9" fill="none" opacity="0.45" />
<path d="M602.63,217.05 L602.63,221.18" stroke="#ff0000" stroke-width="0.9" fill="none" opacity="0.45" />
<path d="M608.56,221.13 L608.56,225.26" stroke="#ff0000" stroke-width="0.9" fill="none" opacity="0.45" />
<path d="M614.48,226.49 L614.48,230.62" stroke="#ff0000" stroke-width="0.9" fill="none" opacity="0.45" />
<path d="M620.4,229.44 L620.4,233.56" stroke="#ff0000" stroke-width="0.9" fill="none" opacity="0.45" />
<path d="M626.33,232.27 L626.33,235.37" stroke="#ff0000" stroke-width="0.9" fill="none" opacity="0.45" />
<path d="M632.25,236.35 L632.25,239.45" stroke="#ff0000" stroke-width="0.9" fill="none" opacity="0.45" />
<path d="M638.17,240.27 L638.17,243.37" stroke="#ff0000" stroke-width="0.9" fill="none" opacity="0.45" />
<path d="M644.1,242.08 L644.1,245.17" stroke="#ff0000" stroke-width="0.9" fill="none" opacity="0.45" />
<path d="M650.02,245.43 L650.02,248.53" stroke="#ff0000" stroke-width="0.9" fill="none" opacity="0.45" />
<path d="M655.94,247.5 L655.94,250.59" stroke="#ff0000" stroke-width="0.9" fill="none" opacity="0.45" />
<path d="M661.87,249.77 L661.87,252.86" stroke="#ff0000" stroke-width="0.9" fill="none" opacity="0.45" />
<path d="M667.79,250.33 L667.79,253.43" stroke="#ff0000" stroke-width="0.9" fill="none" opacity="0.45" />
<path d="M673.71,253.17 L673.71,256.27" stroke="#ff0000" stroke-width="0.9" fill="none" opacity="0.45" />
<path d="M679.64,252.86 L679.64,255.96" stroke="#ff0000" stroke-width="0.9" fill="none" opacity="0.45" />
<circle cx="519.71" cy="235.68" r="2.6" fill="#ff0000"/>
<circle cx="525.63" cy="192.08" r="2.6" fill="#ff0000"/>
<circle cx="531.55" cy="183.72" r="2.6" fill="#ff0000"/>
<circle cx="537.48" cy="177.89" r="2.6" fill="#ff0000"/>
<circle cx="543.4" cy="169.43" r="2.6" fill="#ff0000"/>
<circle cx="549.32" cy="185.32" r="2.6" fill="#ff0000"/>
<circle cx="555.25" cy="183.82" r="2.6" fill="#ff0000"/>
<circle cx="561.17" cy="190.89" r="2.6" fill="#ff0000"/>
<circle cx="567.09" cy="193.42" r="2.6" fill="#ff0000"/>
<circle cx="573.02" cy="196.98" r="2.6" fill="#ff0000"/>
<circle cx="578.94" cy="203.58" r="2.6" fill="#ff0000"/>
<circle cx="584.86" cy="207.3" r="2.6" fill="#ff0000"/>
<circle cx="590.79" cy="211.69" r="2.6" fill="#ff0000"/>
<circle cx="596.71" cy="217.52" r="2.6" fill="#ff0000"/>
<circle cx="602.63" cy="219.12" r="2.6" fill="#ff0000"/>
<circle cx="608.56" cy="223.19" r="2.6" fill="#ff0000"/>
<circle cx="614.48" cy="228.56" r="2.6" fill="#ff0000"/>
<circle cx="620.4" cy="231.5" r="2.6" fill="#ff0000"/>
<circle cx="626.33" cy="233.82" r="2.6" fill="#ff0000"/>
<circle cx="632.25" cy="237.9" r="2.6" fill="#ff0000"/>
<circle cx="638.17" cy="241.82" r="2.6" fill="#ff0000"/>
<circle cx="644.1" cy="243.63" r="2.6" fill="#ff0000"/>
<circle cx="650.02" cy="246.98" r="2.6" fill="#ff0000"/>
<circle cx="655.94" cy="249.04" r="2.6" fill="#ff0000"/>
<circle cx="661.87" cy="251.31" r="2.6" fill="#ff0000"/>
<circle cx="667.79" cy="251.88" r="2.6" fill="#ff0000"/>
<circle cx="673.71" cy="254.72" r="2.6" fill="#ff0000"/>
<circle cx="679.64" cy="254.41" r="2.6" fill="#ff0000"/>
</g>
<rect x="517.1" y="158.1" width="165.50" height="103.40" fill="none" stroke="#222" stroke-width="0.8"/>
<path d="M514.1,244.4 L517.1,244.4" stroke="#222" stroke-width="0.8" fill="none" />
<text x="512.7" y="247.4" font-size="9.0" font-family='"Liberation Serif", serif' fill="#222" text-anchor="end" textLength="14" lengthAdjust="spacingAndGlyphs" >0.5</text>
<path d="M514.1,218.6 L517.1,218.6" stroke="#222" stroke-width="0.8" fill="none" />
<text x="512.7" y="221.6" font-size="9.0" font-family='"Liberation Serif", serif' fill="#222" text-anchor="end" textLength="14" lengthAdjust="spacingAndGlyphs" >1.0</text>
<path d="M514.1,192.8 L517.1,192.8" stroke="#222" stroke-width="0.8" fill="none" />
<text x="512.7" y="195.8" font-size="9.0" font-family='"Liberation Serif", serif' fill="#222" text-anchor="end" textLength="14" lengthAdjust="spacingAndGlyphs" >1.5</text>
<path d="M514.1,167 L517.1,167" stroke="#222" stroke-width="0.8" fill="none" />
<text x="512.7" y="170" font-size="9.0" font-family='"Liberation Serif", serif' fill="#222" text-anchor="end" textLength="14" lengthAdjust="spacingAndGlyphs" >2.0</text>
<path d="M543.4,261.3 L543.4,264.3" stroke="#222" stroke-width="0.8" fill="none" />
<text x="543.4" y="272.6" font-size="9.2" font-family='"Liberation Serif", serif' fill="#222" text-anchor="middle" textLength="5.4" lengthAdjust="spacingAndGlyphs" >5</text>
<path d="M573.02,261.3 L573.02,264.3" stroke="#222" stroke-width="0.8" fill="none" />
<text x="573.02" y="272.6" font-size="9.2" font-family='"Liberation Serif", serif' fill="#222" text-anchor="middle" textLength="10.8" lengthAdjust="spacingAndGlyphs" >10</text>
<path d="M602.63,261.3 L602.63,264.3" stroke="#222" stroke-width="0.8" fill="none" />
<text x="602.63" y="272.6" font-size="9.2" font-family='"Liberation Serif", serif' fill="#222" text-anchor="middle" textLength="10.8" lengthAdjust="spacingAndGlyphs" >15</text>
<path d="M632.25,261.3 L632.25,264.3" stroke="#222" stroke-width="0.8" fill="none" />
<text x="632.25" y="272.6" font-size="9.2" font-family='"Liberation Serif", serif' fill="#222" text-anchor="middle" textLength="10.8" lengthAdjust="spacingAndGlyphs" >20</text>
<path d="M661.87,261.3 L661.87,264.3" stroke="#222" stroke-width="0.8" fill="none" />
<text x="661.87" y="272.6" font-size="9.2" font-family='"Liberation Serif", serif' fill="#222" text-anchor="middle" textLength="10.8" lengthAdjust="spacingAndGlyphs" >25</text>
<text x="522.2" y="285.3" font-size="12.2" font-family='"Liberation Serif", serif' fill="#111" textLength="154.8" lengthAdjust="spacingAndGlyphs" >Propagation distance (mm)</text>
<g fill="#111" font-family='"Liberation Serif", serif' font-size="12.2">
<text transform="translate(470.2,209.6) rotate(-90)" text-anchor="middle" textLength="41.4" lengthAdjust="spacingAndGlyphs">Energy</text>
<text transform="translate(482.2,209.7) rotate(-90)" text-anchor="middle" textLength="59.2" lengthAdjust="spacingAndGlyphs">deposition</text>
<text transform="translate(494.2,205.9) rotate(-90)" text-anchor="middle" textLength="107.4" lengthAdjust="spacingAndGlyphs">(norm.) (arb. units)</text>
</g>
<rect x="134.5" y="162.6" width="86.9" height="21.6" rx="2" fill="#fff" fill-opacity="0.85" stroke="#d4d4d4" stroke-width="0.8"/>
<path d="M137,169 L153.9,169" stroke="#dddddd" stroke-width="1.0" fill="none" opacity="0.5" />
<path d="M137,173.2 L153.9,173.2" stroke="#008000" stroke-width="1.3" fill="none" />
<text class="l" x="160" y="171" font-size="7.9" font-family='"Liberation Serif", serif' fill="#1a1a1a" textLength="58.0" lengthAdjust="spacingAndGlyphs">mean energy=</text>
<text class="l" x="160" y="179.4" font-size="7.9" font-family='"Liberation Serif", serif' fill="#1a1a1a" textLength="54.0" lengthAdjust="spacingAndGlyphs">34.5±2.4MeV</text>
<rect x="362.6" y="162.6" width="87.3" height="21.6" rx="2" fill="#fff" fill-opacity="0.85" stroke="#d4d4d4" stroke-width="0.8"/>
<path d="M365.5,169 L382.2,169" stroke="#dddddd" stroke-width="1.0" fill="none" opacity="0.5" />
<path d="M365.5,173.2 L382.2,173.2" stroke="#0000ff" stroke-width="1.3" fill="none" />
<text class="l" x="388.3" y="171" font-size="7.9" font-family='"Liberation Serif", serif' fill="#1a1a1a" textLength="57.9" lengthAdjust="spacingAndGlyphs">mean energy=</text>
<text class="l" x="388.3" y="179.4" font-size="7.9" font-family='"Liberation Serif", serif' fill="#1a1a1a" textLength="53.9" lengthAdjust="spacingAndGlyphs">36.7±1.7MeV</text>
<rect x="591.1" y="162.6" width="87.0" height="21.6" rx="2" fill="#fff" fill-opacity="0.85" stroke="#d4d4d4" stroke-width="0.8"/>
<path d="M593.3,169 L610.1,169" stroke="#dddddd" stroke-width="1.0" fill="none" opacity="0.5" />
<path d="M593.3,173.2 L610.1,173.2" stroke="#ff00ff" stroke-width="1.3" fill="none" />
<text class="l" x="616.4" y="171" font-size="7.9" font-family='"Liberation Serif", serif' fill="#1a1a1a" textLength="57.9" lengthAdjust="spacingAndGlyphs">mean energy=</text>
<text class="l" x="616.4" y="179.4" font-size="7.9" font-family='"Liberation Serif", serif' fill="#1a1a1a" textLength="53.9" lengthAdjust="spacingAndGlyphs">36.7±1.3MeV</text>
</svg>
</body></html>
